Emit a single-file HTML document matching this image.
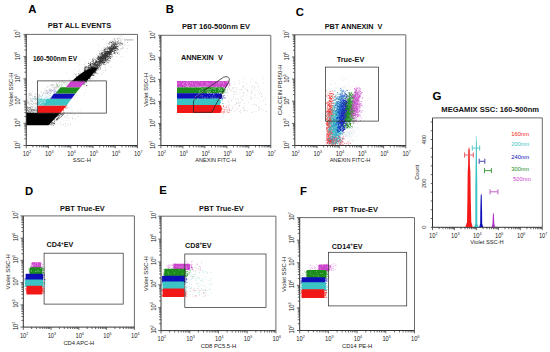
<!DOCTYPE html>
<html><head><meta charset="utf-8"><style>
html,body{margin:0;padding:0;background:#fff;}
svg{display:block;}
text{font-family:"Liberation Sans", sans-serif;}
</style></head><body>
<svg width="550" height="352" viewBox="0 0 550 352">
<rect width="550" height="352" fill="#fff"/>
<text x="28.20" y="12.60" font-size="11.3" font-weight="bold" fill="#000" text-anchor="start">A</text>
<text x="79.50" y="28.40" font-size="7.5" font-weight="bold" fill="#111" text-anchor="middle">PBT ALL EVENTS</text>
<path d="M105.2 52.8h0.6v0.6h-0.6zM119.5 42.7h0.6v0.6h-0.6zM113.2 47.3h0.6v0.6h-0.6zM86.5 69.9h0.6v0.6h-0.6zM85.6 62.3h0.6v0.6h-0.6zM116.7 42.0h0.6v0.6h-0.6zM78.4 81.3h0.6v0.6h-0.6zM118.5 48.5h0.6v0.6h-0.6zM111.9 44.1h0.6v0.6h-0.6zM100.2 61.8h0.6v0.6h-0.6zM89.1 65.4h0.6v0.6h-0.6zM91.1 69.6h0.6v0.6h-0.6zM83.7 64.4h0.6v0.6h-0.6zM105.4 68.9h0.6v0.6h-0.6zM102.0 60.3h0.6v0.6h-0.6zM100.0 54.0h0.6v0.6h-0.6zM124.0 38.4h0.6v0.6h-0.6zM116.6 49.1h0.6v0.6h-0.6zM107.1 54.9h0.6v0.6h-0.6zM127.4 42.3h0.6v0.6h-0.6zM87.7 71.9h0.6v0.6h-0.6zM77.0 66.2h0.6v0.6h-0.6zM101.7 50.4h0.6v0.6h-0.6zM84.5 83.9h0.6v0.6h-0.6zM83.3 83.5h0.6v0.6h-0.6zM102.9 60.3h0.6v0.6h-0.6zM95.7 57.5h0.6v0.6h-0.6zM122.2 43.6h0.6v0.6h-0.6zM109.0 56.1h0.6v0.6h-0.6zM98.2 55.8h0.6v0.6h-0.6zM97.5 56.6h0.6v0.6h-0.6zM90.9 72.2h0.6v0.6h-0.6zM83.1 85.4h0.6v0.6h-0.6zM92.6 78.8h0.6v0.6h-0.6zM111.8 53.3h0.6v0.6h-0.6zM95.4 80.8h0.6v0.6h-0.6zM92.3 62.7h0.6v0.6h-0.6zM81.0 84.0h0.6v0.6h-0.6zM113.7 43.0h0.6v0.6h-0.6zM78.8 68.5h0.6v0.6h-0.6zM86.3 65.8h0.6v0.6h-0.6zM121.7 46.4h0.6v0.6h-0.6zM98.1 56.0h0.6v0.6h-0.6zM112.1 39.8h0.6v0.6h-0.6zM109.6 55.8h0.6v0.6h-0.6zM114.9 52.0h0.6v0.6h-0.6zM83.0 78.3h0.6v0.6h-0.6zM108.3 63.3h0.6v0.6h-0.6zM95.9 54.0h0.6v0.6h-0.6zM125.8 51.2h0.6v0.6h-0.6zM98.5 69.6h0.6v0.6h-0.6zM106.1 56.0h0.6v0.6h-0.6zM82.0 80.1h0.6v0.6h-0.6zM95.2 64.0h0.6v0.6h-0.6zM91.9 66.5h0.6v0.6h-0.6zM86.0 76.0h0.6v0.6h-0.6zM110.8 41.3h0.6v0.6h-0.6zM103.0 72.4h0.6v0.6h-0.6zM122.0 38.0h0.6v0.6h-0.6zM107.3 58.0h0.6v0.6h-0.6zM105.0 54.3h0.6v0.6h-0.6zM106.1 52.5h0.6v0.6h-0.6zM111.8 54.8h0.6v0.6h-0.6zM87.5 77.5h0.6v0.6h-0.6zM95.3 59.4h0.6v0.6h-0.6zM88.0 70.0h0.6v0.6h-0.6zM98.9 66.3h0.6v0.6h-0.6zM75.6 70.5h0.6v0.6h-0.6zM93.3 77.5h0.6v0.6h-0.6zM107.3 50.7h0.6v0.6h-0.6zM83.0 59.7h0.6v0.6h-0.6zM114.6 39.9h0.6v0.6h-0.6zM107.2 51.4h0.6v0.6h-0.6zM85.1 76.8h0.6v0.6h-0.6zM118.0 45.9h0.6v0.6h-0.6zM121.3 40.2h0.6v0.6h-0.6zM120.7 43.3h0.6v0.6h-0.6zM101.2 53.7h0.6v0.6h-0.6zM86.4 76.9h0.6v0.6h-0.6zM88.7 74.9h0.6v0.6h-0.6zM124.0 44.5h0.6v0.6h-0.6zM103.3 57.3h0.6v0.6h-0.6zM89.8 77.0h0.6v0.6h-0.6zM118.5 42.9h0.6v0.6h-0.6zM103.3 49.5h0.6v0.6h-0.6zM102.6 55.1h0.6v0.6h-0.6zM93.5 63.3h0.6v0.6h-0.6zM95.5 62.3h0.6v0.6h-0.6zM89.0 71.0h0.6v0.6h-0.6zM80.7 80.7h0.6v0.6h-0.6zM118.6 43.7h0.6v0.6h-0.6zM96.6 58.3h0.6v0.6h-0.6zM106.7 61.2h0.6v0.6h-0.6zM88.1 62.8h0.6v0.6h-0.6zM111.8 48.1h0.6v0.6h-0.6zM82.3 83.5h0.6v0.6h-0.6zM96.8 67.0h0.6v0.6h-0.6zM82.3 83.0h0.6v0.6h-0.6zM83.4 75.9h0.6v0.6h-0.6zM124.1 41.0h0.6v0.6h-0.6zM103.7 48.4h0.6v0.6h-0.6zM100.4 65.5h0.6v0.6h-0.6zM109.9 66.4h0.6v0.6h-0.6zM119.9 45.3h0.6v0.6h-0.6zM101.0 73.6h0.6v0.6h-0.6zM104.9 55.6h0.6v0.6h-0.6zM105.1 47.5h0.6v0.6h-0.6zM92.0 63.7h0.6v0.6h-0.6zM106.4 63.3h0.6v0.6h-0.6zM115.2 50.2h0.6v0.6h-0.6zM84.1 74.1h0.6v0.6h-0.6zM120.0 40.0h0.6v0.6h-0.6zM75.0 78.1h0.6v0.6h-0.6zM103.3 39.5h0.6v0.6h-0.6zM109.9 41.0h0.6v0.6h-0.6zM84.1 75.4h0.6v0.6h-0.6zM95.9 61.9h0.6v0.6h-0.6zM112.6 43.1h0.6v0.6h-0.6zM81.4 83.5h0.6v0.6h-0.6zM110.2 57.4h0.6v0.6h-0.6zM113.6 46.1h0.6v0.6h-0.6zM104.7 62.2h0.6v0.6h-0.6zM111.0 49.6h0.6v0.6h-0.6zM88.3 71.5h0.6v0.6h-0.6zM79.0 64.8h0.6v0.6h-0.6zM97.7 68.6h0.6v0.6h-0.6zM87.0 74.4h0.6v0.6h-0.6zM94.5 67.0h0.6v0.6h-0.6zM119.1 37.8h0.6v0.6h-0.6zM100.3 52.5h0.6v0.6h-0.6zM95.4 68.4h0.6v0.6h-0.6zM93.5 72.7h0.6v0.6h-0.6zM126.7 44.9h0.6v0.6h-0.6zM101.6 65.3h0.6v0.6h-0.6zM120.2 36.0h0.6v0.6h-0.6zM101.3 58.6h0.6v0.6h-0.6zM105.3 62.1h0.6v0.6h-0.6zM119.7 43.0h0.6v0.6h-0.6zM111.4 48.5h0.6v0.6h-0.6zM102.5 54.1h0.6v0.6h-0.6zM99.6 64.9h0.6v0.6h-0.6zM118.4 43.4h0.6v0.6h-0.6zM103.3 69.9h0.6v0.6h-0.6zM123.6 44.5h0.6v0.6h-0.6zM75.9 73.2h0.6v0.6h-0.6zM105.4 70.3h0.6v0.6h-0.6zM102.8 59.8h0.6v0.6h-0.6zM120.0 38.4h0.6v0.6h-0.6zM91.0 72.0h0.6v0.6h-0.6zM117.2 48.6h0.6v0.6h-0.6zM108.8 51.8h0.6v0.6h-0.6zM110.4 49.7h0.6v0.6h-0.6zM106.8 54.0h0.6v0.6h-0.6zM128.4 44.9h0.6v0.6h-0.6zM93.9 67.5h0.6v0.6h-0.6zM99.3 67.1h0.6v0.6h-0.6zM89.5 74.8h0.6v0.6h-0.6zM80.0 78.9h0.6v0.6h-0.6zM85.7 70.2h0.6v0.6h-0.6zM116.0 37.7h0.6v0.6h-0.6zM117.6 45.9h0.6v0.6h-0.6zM80.3 73.7h0.6v0.6h-0.6zM101.2 50.7h0.6v0.6h-0.6zM95.8 56.4h0.6v0.6h-0.6zM100.0 50.4h0.6v0.6h-0.6zM108.4 52.8h0.6v0.6h-0.6zM92.8 68.8h0.6v0.6h-0.6zM118.3 35.8h0.6v0.6h-0.6zM104.1 65.8h0.6v0.6h-0.6zM105.7 53.0h0.6v0.6h-0.6zM108.7 55.3h0.6v0.6h-0.6zM88.0 75.0h0.6v0.6h-0.6zM87.5 85.3h0.6v0.6h-0.6zM100.0 66.6h0.6v0.6h-0.6zM112.6 47.7h0.6v0.6h-0.6zM111.6 42.2h0.6v0.6h-0.6zM107.4 45.7h0.6v0.6h-0.6zM83.9 77.2h0.6v0.6h-0.6zM119.8 41.6h0.6v0.6h-0.6zM117.1 48.8h0.6v0.6h-0.6zM116.1 41.1h0.6v0.6h-0.6zM102.7 59.3h0.6v0.6h-0.6zM117.1 38.7h0.6v0.6h-0.6zM74.4 73.7h0.6v0.6h-0.6zM80.0 80.8h0.6v0.6h-0.6zM84.8 86.3h0.6v0.6h-0.6zM92.8 73.6h0.6v0.6h-0.6zM94.8 75.9h0.6v0.6h-0.6zM91.1 77.8h0.6v0.6h-0.6zM99.1 51.9h0.6v0.6h-0.6zM79.5 79.4h0.6v0.6h-0.6zM110.2 60.8h0.6v0.6h-0.6zM83.6 72.2h0.6v0.6h-0.6zM104.2 47.1h0.6v0.6h-0.6zM80.8 82.3h0.6v0.6h-0.6zM94.8 70.4h0.6v0.6h-0.6zM121.4 41.0h0.6v0.6h-0.6zM101.5 56.8h0.6v0.6h-0.6zM112.3 43.2h0.6v0.6h-0.6zM103.6 48.2h0.6v0.6h-0.6zM101.4 50.3h0.6v0.6h-0.6zM82.8 69.2h0.6v0.6h-0.6zM99.2 51.4h0.6v0.6h-0.6zM78.0 77.9h0.6v0.6h-0.6zM119.6 51.3h0.6v0.6h-0.6zM121.7 39.3h0.6v0.6h-0.6zM115.4 42.5h0.6v0.6h-0.6zM82.2 81.1h0.6v0.6h-0.6zM90.4 63.6h0.6v0.6h-0.6zM94.0 69.0h0.6v0.6h-0.6zM86.9 80.2h0.6v0.6h-0.6zM101.2 48.7h0.6v0.6h-0.6zM111.6 43.8h0.6v0.6h-0.6zM91.7 67.1h0.6v0.6h-0.6zM113.6 39.9h0.6v0.6h-0.6zM110.2 42.4h0.6v0.6h-0.6zM83.1 75.0h0.6v0.6h-0.6zM121.4 56.1h0.6v0.6h-0.6zM120.2 44.7h0.6v0.6h-0.6zM88.9 74.7h0.6v0.6h-0.6zM107.5 59.6h0.6v0.6h-0.6zM106.2 52.6h0.6v0.6h-0.6zM101.4 50.4h0.6v0.6h-0.6zM84.6 79.4h0.6v0.6h-0.6zM112.0 56.2h0.6v0.6h-0.6zM99.4 46.4h0.6v0.6h-0.6zM116.7 46.5h0.6v0.6h-0.6zM118.6 50.2h0.6v0.6h-0.6zM92.2 66.4h0.6v0.6h-0.6zM109.1 48.0h0.6v0.6h-0.6zM119.6 45.4h0.6v0.6h-0.6zM115.4 39.0h0.6v0.6h-0.6zM87.5 76.4h0.6v0.6h-0.6zM83.0 84.0h0.6v0.6h-0.6zM106.8 52.1h0.6v0.6h-0.6zM85.3 69.6h0.6v0.6h-0.6zM105.8 58.9h0.6v0.6h-0.6zM119.3 38.3h0.6v0.6h-0.6zM95.7 65.3h0.6v0.6h-0.6zM79.7 60.7h0.6v0.6h-0.6zM101.4 63.9h0.6v0.6h-0.6zM102.8 47.6h0.6v0.6h-0.6zM83.2 77.6h0.6v0.6h-0.6zM95.9 65.3h0.6v0.6h-0.6zM81.9 73.4h0.6v0.6h-0.6zM104.8 49.1h0.6v0.6h-0.6zM110.9 40.2h0.6v0.6h-0.6zM94.1 63.9h0.6v0.6h-0.6zM97.2 67.4h0.6v0.6h-0.6zM104.4 59.6h0.6v0.6h-0.6zM86.3 70.5h0.6v0.6h-0.6zM87.5 68.8h0.6v0.6h-0.6zM88.2 62.2h0.6v0.6h-0.6zM97.4 59.9h0.6v0.6h-0.6zM78.4 74.6h0.6v0.6h-0.6zM106.6 42.8h0.6v0.6h-0.6zM103.7 55.4h0.6v0.6h-0.6zM97.2 73.7h0.6v0.6h-0.6zM86.2 82.7h0.6v0.6h-0.6zM117.6 52.7h0.6v0.6h-0.6zM78.7 70.5h0.6v0.6h-0.6zM87.5 79.0h0.6v0.6h-0.6zM80.0 71.8h0.6v0.6h-0.6zM80.1 76.3h0.6v0.6h-0.6zM86.9 66.4h0.6v0.6h-0.6zM92.5 68.6h0.6v0.6h-0.6zM116.2 45.2h0.6v0.6h-0.6zM105.8 53.8h0.6v0.6h-0.6zM86.2 73.0h0.6v0.6h-0.6zM99.8 64.3h0.6v0.6h-0.6zM117.9 42.3h0.6v0.6h-0.6zM89.5 59.5h0.6v0.6h-0.6zM116.2 56.0h0.6v0.6h-0.6zM81.9 76.7h0.6v0.6h-0.6zM114.1 52.5h0.6v0.6h-0.6zM112.4 46.4h0.6v0.6h-0.6zM112.2 41.9h0.6v0.6h-0.6zM108.7 51.9h0.6v0.6h-0.6zM92.3 62.6h0.6v0.6h-0.6zM87.1 84.7h0.6v0.6h-0.6zM97.7 54.8h0.6v0.6h-0.6zM114.3 50.0h0.6v0.6h-0.6zM84.8 71.2h0.6v0.6h-0.6zM89.7 69.4h0.6v0.6h-0.6zM111.6 67.0h0.6v0.6h-0.6zM114.5 51.0h0.6v0.6h-0.6zM117.6 40.9h0.6v0.6h-0.6zM78.6 70.9h0.6v0.6h-0.6zM85.7 72.7h0.6v0.6h-0.6zM113.1 45.1h0.6v0.6h-0.6zM112.2 58.0h0.6v0.6h-0.6zM105.5 44.5h0.6v0.6h-0.6zM120.2 39.6h0.6v0.6h-0.6zM116.8 44.8h0.6v0.6h-0.6zM118.8 52.7h0.6v0.6h-0.6zM93.0 61.1h0.6v0.6h-0.6zM97.4 43.7h0.6v0.6h-0.6zM84.2 71.2h0.6v0.6h-0.6zM107.8 43.4h0.6v0.6h-0.6zM110.3 46.0h0.6v0.6h-0.6zM114.1 53.0h0.6v0.6h-0.6zM93.6 57.3h0.6v0.6h-0.6zM99.7 69.3h0.6v0.6h-0.6zM97.9 63.9h0.6v0.6h-0.6zM79.0 79.5h0.6v0.6h-0.6zM112.9 40.9h0.6v0.6h-0.6zM101.2 56.1h0.6v0.6h-0.6zM94.4 63.2h0.6v0.6h-0.6zM105.6 60.0h0.6v0.6h-0.6zM115.2 54.1h0.6v0.6h-0.6zM95.3 64.6h0.6v0.6h-0.6zM118.0 47.1h0.6v0.6h-0.6zM124.0 45.2h0.6v0.6h-0.6zM100.3 69.0h0.6v0.6h-0.6zM86.4 77.5h0.6v0.6h-0.6zM118.9 54.3h0.6v0.6h-0.6zM127.4 42.0h0.6v0.6h-0.6zM91.0 81.1h0.6v0.6h-0.6zM109.6 49.3h0.6v0.6h-0.6zM113.8 43.4h0.6v0.6h-0.6zM89.4 81.7h0.6v0.6h-0.6zM85.1 80.3h0.6v0.6h-0.6zM84.5 77.5h0.6v0.6h-0.6zM87.6 75.2h0.6v0.6h-0.6zM98.0 50.1h0.6v0.6h-0.6zM99.6 63.1h0.6v0.6h-0.6zM116.0 52.3h0.6v0.6h-0.6zM91.7 78.0h0.6v0.6h-0.6zM118.0 39.7h0.6v0.6h-0.6zM87.1 71.2h0.6v0.6h-0.6zM117.6 52.2h0.6v0.6h-0.6zM85.1 82.4h0.6v0.6h-0.6zM97.7 58.8h0.6v0.6h-0.6zM78.0 78.5h0.6v0.6h-0.6zM94.8 70.1h0.6v0.6h-0.6zM90.2 65.8h0.6v0.6h-0.6zM108.5 47.6h0.6v0.6h-0.6zM105.1 67.8h0.6v0.6h-0.6zM82.2 80.5h0.6v0.6h-0.6zM121.3 35.8h0.6v0.6h-0.6zM120.1 44.0h0.6v0.6h-0.6zM126.9 48.3h0.6v0.6h-0.6zM90.5 71.9h0.6v0.6h-0.6zM93.4 61.6h0.6v0.6h-0.6z" fill="#666" fill-opacity="0.5"/>
<path d="M65.4 87.9h0.6v0.6h-0.6zM62.6 95.3h0.6v0.6h-0.6zM60.1 90.8h0.6v0.6h-0.6zM65.2 101.1h0.6v0.6h-0.6zM68.3 90.0h0.6v0.6h-0.6zM57.3 95.9h0.6v0.6h-0.6zM52.1 107.3h0.6v0.6h-0.6zM45.4 119.8h0.6v0.6h-0.6zM36.9 112.6h0.6v0.6h-0.6zM30.1 124.2h0.6v0.6h-0.6zM65.5 123.3h0.6v0.6h-0.6zM44.7 115.9h0.6v0.6h-0.6zM55.0 120.4h0.6v0.6h-0.6zM65.3 84.8h0.6v0.6h-0.6zM49.2 87.0h0.6v0.6h-0.6zM64.1 101.8h0.6v0.6h-0.6zM77.3 82.5h0.6v0.6h-0.6zM50.6 106.8h0.6v0.6h-0.6zM39.8 108.5h0.6v0.6h-0.6zM80.8 89.5h0.6v0.6h-0.6zM70.3 99.7h0.6v0.6h-0.6zM70.0 87.9h0.6v0.6h-0.6zM46.6 102.8h0.6v0.6h-0.6zM64.2 89.4h0.6v0.6h-0.6zM53.5 116.8h0.6v0.6h-0.6zM47.6 120.4h0.6v0.6h-0.6zM54.5 111.0h0.6v0.6h-0.6zM35.9 113.8h0.6v0.6h-0.6zM75.6 80.3h0.6v0.6h-0.6zM40.1 114.9h0.6v0.6h-0.6zM34.7 120.9h0.6v0.6h-0.6zM73.0 83.0h0.6v0.6h-0.6zM74.3 81.4h0.6v0.6h-0.6zM66.5 85.7h0.6v0.6h-0.6zM56.9 98.3h0.6v0.6h-0.6zM39.1 104.1h0.6v0.6h-0.6zM45.3 118.5h0.6v0.6h-0.6zM51.8 118.8h0.6v0.6h-0.6zM83.8 95.3h0.6v0.6h-0.6zM55.8 108.9h0.6v0.6h-0.6zM81.5 85.9h0.6v0.6h-0.6zM61.2 94.6h0.6v0.6h-0.6zM47.6 99.1h0.6v0.6h-0.6zM79.1 88.5h0.6v0.6h-0.6zM47.2 121.6h0.6v0.6h-0.6zM60.0 100.8h0.6v0.6h-0.6zM50.7 112.0h0.6v0.6h-0.6zM64.7 98.7h0.6v0.6h-0.6zM66.1 93.1h0.6v0.6h-0.6zM42.0 100.4h0.6v0.6h-0.6zM50.7 104.0h0.6v0.6h-0.6zM51.2 112.9h0.6v0.6h-0.6zM69.4 107.5h0.6v0.6h-0.6zM85.1 89.5h0.6v0.6h-0.6zM76.2 101.2h0.6v0.6h-0.6zM55.5 113.0h0.6v0.6h-0.6zM37.5 123.0h0.6v0.6h-0.6zM31.5 115.7h0.6v0.6h-0.6zM79.8 87.5h0.6v0.6h-0.6zM66.7 97.5h0.6v0.6h-0.6zM74.7 93.9h0.6v0.6h-0.6zM58.2 94.0h0.6v0.6h-0.6zM47.2 124.0h0.6v0.6h-0.6zM51.8 120.5h0.6v0.6h-0.6zM55.7 119.0h0.6v0.6h-0.6zM45.4 110.9h0.6v0.6h-0.6zM53.6 81.7h0.6v0.6h-0.6zM35.3 116.4h0.6v0.6h-0.6zM49.6 108.9h0.6v0.6h-0.6zM66.8 104.9h0.6v0.6h-0.6zM61.1 102.5h0.6v0.6h-0.6zM65.1 98.0h0.6v0.6h-0.6zM38.4 118.9h0.6v0.6h-0.6zM63.9 93.6h0.6v0.6h-0.6zM81.1 85.2h0.6v0.6h-0.6zM60.9 98.4h0.6v0.6h-0.6zM40.4 119.2h0.6v0.6h-0.6zM66.0 90.6h0.6v0.6h-0.6zM71.1 82.7h0.6v0.6h-0.6zM67.1 113.9h0.6v0.6h-0.6zM36.5 109.9h0.6v0.6h-0.6zM32.8 105.6h0.6v0.6h-0.6zM54.1 97.0h0.6v0.6h-0.6zM66.3 84.4h0.6v0.6h-0.6zM65.8 85.3h0.6v0.6h-0.6zM62.6 106.2h0.6v0.6h-0.6zM78.7 83.1h0.6v0.6h-0.6zM45.6 117.0h0.6v0.6h-0.6zM67.2 92.6h0.6v0.6h-0.6zM64.0 103.8h0.6v0.6h-0.6zM37.3 105.0h0.6v0.6h-0.6zM65.3 107.5h0.6v0.6h-0.6zM67.2 104.0h0.6v0.6h-0.6zM53.4 115.6h0.6v0.6h-0.6zM29.3 119.9h0.6v0.6h-0.6zM66.3 73.5h0.6v0.6h-0.6zM48.5 109.2h0.6v0.6h-0.6zM67.1 100.8h0.6v0.6h-0.6zM55.9 109.2h0.6v0.6h-0.6zM28.4 118.7h0.6v0.6h-0.6zM44.2 110.4h0.6v0.6h-0.6zM38.7 114.9h0.6v0.6h-0.6zM36.9 108.8h0.6v0.6h-0.6zM74.0 97.1h0.6v0.6h-0.6zM72.1 96.2h0.6v0.6h-0.6zM53.2 106.7h0.6v0.6h-0.6zM49.7 113.4h0.6v0.6h-0.6zM62.1 114.6h0.6v0.6h-0.6zM63.8 82.5h0.6v0.6h-0.6zM59.4 81.9h0.6v0.6h-0.6zM39.2 115.4h0.6v0.6h-0.6zM75.2 90.6h0.6v0.6h-0.6zM41.6 120.3h0.6v0.6h-0.6zM58.9 99.1h0.6v0.6h-0.6zM76.4 95.0h0.6v0.6h-0.6zM72.7 97.8h0.6v0.6h-0.6zM70.7 88.9h0.6v0.6h-0.6zM52.9 111.2h0.6v0.6h-0.6zM75.5 95.7h0.6v0.6h-0.6zM47.9 109.2h0.6v0.6h-0.6zM40.6 123.0h0.6v0.6h-0.6zM45.8 105.0h0.6v0.6h-0.6zM43.2 117.9h0.6v0.6h-0.6zM67.6 96.1h0.6v0.6h-0.6zM69.0 90.5h0.6v0.6h-0.6zM47.7 117.3h0.6v0.6h-0.6zM46.2 107.3h0.6v0.6h-0.6zM73.0 81.2h0.6v0.6h-0.6zM69.0 78.8h0.6v0.6h-0.6zM85.2 92.1h0.6v0.6h-0.6zM66.1 98.5h0.6v0.6h-0.6zM63.4 101.5h0.6v0.6h-0.6zM38.8 120.6h0.6v0.6h-0.6zM47.4 118.1h0.6v0.6h-0.6zM65.8 87.2h0.6v0.6h-0.6zM39.1 120.2h0.6v0.6h-0.6zM35.4 112.4h0.6v0.6h-0.6zM37.5 113.6h0.6v0.6h-0.6zM66.7 99.7h0.6v0.6h-0.6zM67.4 82.1h0.6v0.6h-0.6zM71.9 90.9h0.6v0.6h-0.6zM62.8 106.0h0.6v0.6h-0.6zM56.9 107.7h0.6v0.6h-0.6zM70.9 87.8h0.6v0.6h-0.6zM64.9 94.1h0.6v0.6h-0.6zM52.4 108.1h0.6v0.6h-0.6zM45.0 115.1h0.6v0.6h-0.6zM41.3 108.5h0.6v0.6h-0.6zM47.8 110.4h0.6v0.6h-0.6zM42.5 122.4h0.6v0.6h-0.6zM46.7 116.1h0.6v0.6h-0.6zM43.7 118.7h0.6v0.6h-0.6zM48.1 118.4h0.6v0.6h-0.6zM61.2 105.4h0.6v0.6h-0.6zM56.4 113.7h0.6v0.6h-0.6zM29.9 119.5h0.6v0.6h-0.6zM67.7 93.1h0.6v0.6h-0.6zM47.9 103.6h0.6v0.6h-0.6zM50.9 112.5h0.6v0.6h-0.6zM62.9 97.1h0.6v0.6h-0.6zM66.2 96.2h0.6v0.6h-0.6zM68.2 87.9h0.6v0.6h-0.6zM64.4 88.1h0.6v0.6h-0.6zM59.7 98.7h0.6v0.6h-0.6zM67.1 100.4h0.6v0.6h-0.6zM54.3 90.1h0.6v0.6h-0.6zM40.2 123.6h0.6v0.6h-0.6zM40.5 123.5h0.6v0.6h-0.6zM41.0 109.2h0.6v0.6h-0.6zM62.3 102.5h0.6v0.6h-0.6zM53.4 84.0h0.6v0.6h-0.6zM64.6 92.2h0.6v0.6h-0.6zM60.3 102.2h0.6v0.6h-0.6zM77.0 97.7h0.6v0.6h-0.6zM33.6 123.6h0.6v0.6h-0.6zM37.6 119.6h0.6v0.6h-0.6zM51.1 112.2h0.6v0.6h-0.6zM61.2 114.0h0.6v0.6h-0.6zM45.2 119.0h0.6v0.6h-0.6zM67.4 107.8h0.6v0.6h-0.6zM49.1 102.9h0.6v0.6h-0.6zM56.1 93.3h0.6v0.6h-0.6zM58.6 93.5h0.6v0.6h-0.6zM67.4 99.2h0.6v0.6h-0.6zM68.1 101.3h0.6v0.6h-0.6zM78.7 87.8h0.6v0.6h-0.6zM56.9 105.7h0.6v0.6h-0.6zM35.0 116.5h0.6v0.6h-0.6zM45.4 109.5h0.6v0.6h-0.6zM49.9 105.2h0.6v0.6h-0.6z" fill="#777" fill-opacity="0.45"/>
<path d="M35.4 93.8h0.6v0.6h-0.6zM32.9 98.7h0.6v0.6h-0.6zM31.8 104.1h0.6v0.6h-0.6zM46.9 93.2h0.6v0.6h-0.6zM34.8 94.3h0.6v0.6h-0.6zM35.2 107.3h0.6v0.6h-0.6zM36.7 98.2h0.6v0.6h-0.6zM31.3 103.2h0.6v0.6h-0.6zM32.4 106.2h0.6v0.6h-0.6zM32.2 90.7h0.6v0.6h-0.6zM28.4 110.6h0.6v0.6h-0.6zM30.2 109.9h0.6v0.6h-0.6zM36.7 89.4h0.6v0.6h-0.6zM29.3 109.1h0.6v0.6h-0.6zM35.8 103.1h0.6v0.6h-0.6zM39.5 98.3h0.6v0.6h-0.6zM47.4 93.9h0.6v0.6h-0.6zM28.9 104.7h0.6v0.6h-0.6zM39.2 94.2h0.6v0.6h-0.6zM29.8 92.7h0.6v0.6h-0.6zM42.8 93.1h0.6v0.6h-0.6zM45.3 93.9h0.6v0.6h-0.6zM31.2 100.5h0.6v0.6h-0.6zM47.2 91.4h0.6v0.6h-0.6zM35.1 93.5h0.6v0.6h-0.6zM38.7 102.9h0.6v0.6h-0.6zM30.2 94.3h0.6v0.6h-0.6zM47.4 92.8h0.6v0.6h-0.6zM29.9 98.1h0.6v0.6h-0.6zM43.9 93.3h0.6v0.6h-0.6zM26.9 102.9h0.6v0.6h-0.6zM37.5 95.5h0.6v0.6h-0.6zM32.5 92.2h0.6v0.6h-0.6zM26.7 108.6h0.6v0.6h-0.6zM34.1 105.6h0.6v0.6h-0.6zM30.7 101.4h0.6v0.6h-0.6zM40.6 92.3h0.6v0.6h-0.6zM35.5 102.6h0.6v0.6h-0.6zM45.4 94.9h0.6v0.6h-0.6zM42.0 100.3h0.6v0.6h-0.6zM43.3 99.0h0.6v0.6h-0.6zM32.0 101.5h0.6v0.6h-0.6zM27.5 110.1h0.6v0.6h-0.6zM40.5 101.2h0.6v0.6h-0.6zM34.5 99.8h0.6v0.6h-0.6zM37.8 90.5h0.6v0.6h-0.6zM31.3 94.5h0.6v0.6h-0.6zM36.3 103.8h0.6v0.6h-0.6zM38.2 97.1h0.6v0.6h-0.6zM26.7 98.1h0.6v0.6h-0.6z" fill="#888" fill-opacity="0.5"/>
<path d="M63.2 124.4h0.6v0.6h-0.6zM66.8 115.4h0.6v0.6h-0.6zM62.7 113.0h0.6v0.6h-0.6zM65.3 122.9h0.6v0.6h-0.6zM70.4 124.8h0.6v0.6h-0.6zM65.8 120.2h0.6v0.6h-0.6zM70.7 113.5h0.6v0.6h-0.6zM71.8 111.6h0.6v0.6h-0.6zM57.1 120.4h0.6v0.6h-0.6zM60.2 123.6h0.6v0.6h-0.6zM66.2 112.2h0.6v0.6h-0.6zM56.0 119.3h0.6v0.6h-0.6zM64.3 114.0h0.6v0.6h-0.6zM64.5 116.3h0.6v0.6h-0.6zM68.3 124.4h0.6v0.6h-0.6zM65.5 117.7h0.6v0.6h-0.6zM57.9 119.5h0.6v0.6h-0.6zM65.6 116.8h0.6v0.6h-0.6zM61.7 113.8h0.6v0.6h-0.6zM67.1 123.7h0.6v0.6h-0.6zM60.2 123.2h0.6v0.6h-0.6zM51.2 124.9h0.6v0.6h-0.6zM80.6 109.8h0.6v0.6h-0.6zM59.6 121.6h0.6v0.6h-0.6zM70.1 113.2h0.6v0.6h-0.6zM70.2 116.7h0.6v0.6h-0.6zM78.2 115.9h0.6v0.6h-0.6zM57.4 122.8h0.6v0.6h-0.6zM55.1 124.5h0.6v0.6h-0.6zM67.4 125.4h0.6v0.6h-0.6zM69.6 122.0h0.6v0.6h-0.6zM60.7 125.2h0.6v0.6h-0.6zM67.2 115.1h0.6v0.6h-0.6zM74.1 118.0h0.6v0.6h-0.6zM72.3 119.5h0.6v0.6h-0.6zM74.3 114.1h0.6v0.6h-0.6zM72.5 114.9h0.6v0.6h-0.6zM68.4 119.9h0.6v0.6h-0.6zM75.4 119.4h0.6v0.6h-0.6zM67.6 117.6h0.6v0.6h-0.6zM64.0 112.0h0.6v0.6h-0.6zM64.5 126.0h0.6v0.6h-0.6zM77.8 110.6h0.6v0.6h-0.6zM72.3 117.3h0.6v0.6h-0.6zM64.3 115.9h0.6v0.6h-0.6zM72.6 118.1h0.6v0.6h-0.6zM68.4 118.5h0.6v0.6h-0.6zM74.3 120.2h0.6v0.6h-0.6zM51.3 125.0h0.6v0.6h-0.6zM65.5 125.6h0.6v0.6h-0.6zM70.4 123.5h0.6v0.6h-0.6zM77.2 116.1h0.6v0.6h-0.6zM61.8 118.9h0.6v0.6h-0.6zM62.8 124.0h0.6v0.6h-0.6zM63.7 120.0h0.6v0.6h-0.6zM56.5 119.8h0.6v0.6h-0.6zM79.9 113.8h0.6v0.6h-0.6zM62.1 124.5h0.6v0.6h-0.6zM68.7 112.6h0.6v0.6h-0.6zM56.1 118.5h0.6v0.6h-0.6z" fill="#888" fill-opacity="0.5"/>
<path d="M93.9 71.6h0.8v0.8h-0.8zM80.7 80.3h0.8v0.8h-0.8zM85.9 73.1h0.8v0.8h-0.8zM115.2 46.2h0.8v0.8h-0.8zM81.5 82.1h0.8v0.8h-0.8zM79.7 76.7h0.8v0.8h-0.8zM83.7 77.3h0.8v0.8h-0.8zM93.6 65.9h0.8v0.8h-0.8zM94.3 62.7h0.8v0.8h-0.8zM81.9 82.8h0.8v0.8h-0.8zM91.1 72.2h0.8v0.8h-0.8zM85.7 66.2h0.8v0.8h-0.8zM93.4 67.3h0.8v0.8h-0.8zM85.3 78.6h0.8v0.8h-0.8zM103.6 57.3h0.8v0.8h-0.8zM100.7 61.3h0.8v0.8h-0.8zM83.9 80.6h0.8v0.8h-0.8zM93.4 68.2h0.8v0.8h-0.8zM90.1 70.2h0.8v0.8h-0.8zM98.5 61.7h0.8v0.8h-0.8zM80.1 78.5h0.8v0.8h-0.8zM91.0 75.1h0.8v0.8h-0.8zM88.5 76.8h0.8v0.8h-0.8zM105.6 51.8h0.8v0.8h-0.8zM82.1 79.7h0.8v0.8h-0.8zM79.0 77.3h0.8v0.8h-0.8zM94.3 64.8h0.8v0.8h-0.8zM82.7 82.5h0.8v0.8h-0.8zM81.9 76.7h0.8v0.8h-0.8zM105.3 58.1h0.8v0.8h-0.8zM95.6 63.7h0.8v0.8h-0.8zM80.8 75.5h0.8v0.8h-0.8zM89.9 63.3h0.8v0.8h-0.8zM112.7 47.5h0.8v0.8h-0.8zM101.7 56.1h0.8v0.8h-0.8zM104.2 54.8h0.8v0.8h-0.8zM87.4 70.2h0.8v0.8h-0.8zM93.6 75.2h0.8v0.8h-0.8zM87.9 73.7h0.8v0.8h-0.8zM93.6 65.7h0.8v0.8h-0.8zM106.7 51.8h0.8v0.8h-0.8zM114.9 47.6h0.8v0.8h-0.8zM86.0 71.6h0.8v0.8h-0.8zM86.8 69.8h0.8v0.8h-0.8zM89.8 70.2h0.8v0.8h-0.8zM92.4 68.6h0.8v0.8h-0.8zM92.3 69.2h0.8v0.8h-0.8zM111.0 48.5h0.8v0.8h-0.8zM86.1 70.2h0.8v0.8h-0.8zM85.2 70.0h0.8v0.8h-0.8zM88.8 73.0h0.8v0.8h-0.8zM88.9 74.5h0.8v0.8h-0.8zM90.1 72.8h0.8v0.8h-0.8zM83.2 73.9h0.8v0.8h-0.8zM95.0 64.4h0.8v0.8h-0.8zM97.9 61.2h0.8v0.8h-0.8zM102.3 56.2h0.8v0.8h-0.8zM81.1 78.0h0.8v0.8h-0.8zM84.2 76.5h0.8v0.8h-0.8zM91.5 72.3h0.8v0.8h-0.8zM87.6 74.7h0.8v0.8h-0.8zM93.4 66.4h0.8v0.8h-0.8zM103.9 54.9h0.8v0.8h-0.8zM94.4 67.1h0.8v0.8h-0.8zM95.4 66.2h0.8v0.8h-0.8zM88.6 67.0h0.8v0.8h-0.8zM112.6 48.9h0.8v0.8h-0.8zM89.3 70.2h0.8v0.8h-0.8zM88.7 72.7h0.8v0.8h-0.8zM111.1 51.7h0.8v0.8h-0.8zM98.5 66.8h0.8v0.8h-0.8zM109.1 52.7h0.8v0.8h-0.8zM87.3 75.8h0.8v0.8h-0.8zM102.7 54.5h0.8v0.8h-0.8zM83.2 81.0h0.8v0.8h-0.8zM113.2 48.2h0.8v0.8h-0.8zM84.7 73.4h0.8v0.8h-0.8zM81.4 79.3h0.8v0.8h-0.8zM94.5 64.0h0.8v0.8h-0.8zM101.4 56.0h0.8v0.8h-0.8zM90.3 75.5h0.8v0.8h-0.8zM80.8 81.0h0.8v0.8h-0.8zM86.2 77.3h0.8v0.8h-0.8zM90.8 64.9h0.8v0.8h-0.8zM86.5 74.2h0.8v0.8h-0.8zM87.7 70.9h0.8v0.8h-0.8zM102.0 52.4h0.8v0.8h-0.8zM97.4 64.0h0.8v0.8h-0.8zM103.6 56.2h0.8v0.8h-0.8zM107.4 51.3h0.8v0.8h-0.8zM80.2 81.1h0.8v0.8h-0.8zM99.5 56.5h0.8v0.8h-0.8zM96.1 61.4h0.8v0.8h-0.8zM80.7 76.4h0.8v0.8h-0.8zM80.0 80.2h0.8v0.8h-0.8zM96.1 65.2h0.8v0.8h-0.8zM96.7 64.7h0.8v0.8h-0.8zM92.4 69.0h0.8v0.8h-0.8zM89.1 76.7h0.8v0.8h-0.8zM96.7 62.2h0.8v0.8h-0.8zM87.8 69.8h0.8v0.8h-0.8zM113.0 47.0h0.8v0.8h-0.8zM87.2 74.8h0.8v0.8h-0.8zM111.7 48.2h0.8v0.8h-0.8zM101.0 58.4h0.8v0.8h-0.8zM109.4 49.5h0.8v0.8h-0.8zM77.9 76.6h0.8v0.8h-0.8zM81.3 81.9h0.8v0.8h-0.8zM97.1 61.9h0.8v0.8h-0.8zM89.8 68.2h0.8v0.8h-0.8zM95.3 64.6h0.8v0.8h-0.8zM97.5 63.4h0.8v0.8h-0.8zM115.2 48.1h0.8v0.8h-0.8zM114.9 47.0h0.8v0.8h-0.8zM91.4 66.5h0.8v0.8h-0.8zM88.0 67.5h0.8v0.8h-0.8zM105.2 57.1h0.8v0.8h-0.8zM86.3 72.5h0.8v0.8h-0.8zM105.6 52.7h0.8v0.8h-0.8zM78.2 78.9h0.8v0.8h-0.8zM106.6 52.6h0.8v0.8h-0.8zM93.4 65.4h0.8v0.8h-0.8zM87.4 69.9h0.8v0.8h-0.8zM101.8 62.2h0.8v0.8h-0.8zM90.6 69.5h0.8v0.8h-0.8zM104.6 61.3h0.8v0.8h-0.8zM94.4 72.4h0.8v0.8h-0.8zM103.7 59.1h0.8v0.8h-0.8zM87.2 78.3h0.8v0.8h-0.8zM94.3 64.3h0.8v0.8h-0.8zM96.3 60.6h0.8v0.8h-0.8zM96.9 64.3h0.8v0.8h-0.8zM95.8 64.9h0.8v0.8h-0.8zM110.9 49.9h0.8v0.8h-0.8zM83.7 77.5h0.8v0.8h-0.8zM94.1 65.6h0.8v0.8h-0.8zM86.0 73.2h0.8v0.8h-0.8zM101.1 60.6h0.8v0.8h-0.8zM84.4 78.5h0.8v0.8h-0.8zM96.2 65.7h0.8v0.8h-0.8zM82.0 75.8h0.8v0.8h-0.8zM98.5 63.1h0.8v0.8h-0.8zM104.5 50.8h0.8v0.8h-0.8zM86.3 74.8h0.8v0.8h-0.8zM90.9 64.8h0.8v0.8h-0.8zM87.9 76.4h0.8v0.8h-0.8zM84.4 78.2h0.8v0.8h-0.8zM91.3 67.3h0.8v0.8h-0.8zM107.6 50.8h0.8v0.8h-0.8zM85.0 75.9h0.8v0.8h-0.8zM104.5 48.8h0.8v0.8h-0.8zM91.6 68.4h0.8v0.8h-0.8zM85.7 73.7h0.8v0.8h-0.8zM108.4 53.5h0.8v0.8h-0.8zM84.6 70.3h0.8v0.8h-0.8zM82.5 75.1h0.8v0.8h-0.8zM92.1 66.8h0.8v0.8h-0.8zM105.7 59.7h0.8v0.8h-0.8zM92.7 66.4h0.8v0.8h-0.8zM81.8 80.2h0.8v0.8h-0.8zM100.5 58.4h0.8v0.8h-0.8zM85.2 72.2h0.8v0.8h-0.8zM110.6 51.9h0.8v0.8h-0.8zM88.0 71.6h0.8v0.8h-0.8zM90.6 66.7h0.8v0.8h-0.8zM95.7 63.9h0.8v0.8h-0.8zM105.9 55.2h0.8v0.8h-0.8zM88.2 75.6h0.8v0.8h-0.8zM107.4 54.8h0.8v0.8h-0.8zM101.1 63.3h0.8v0.8h-0.8zM99.3 57.6h0.8v0.8h-0.8zM93.1 66.9h0.8v0.8h-0.8zM95.5 68.8h0.8v0.8h-0.8zM109.3 50.8h0.8v0.8h-0.8zM105.3 59.0h0.8v0.8h-0.8zM86.1 85.1h0.8v0.8h-0.8zM79.1 77.3h0.8v0.8h-0.8zM95.1 61.3h0.8v0.8h-0.8zM96.1 69.0h0.8v0.8h-0.8zM100.2 62.4h0.8v0.8h-0.8zM98.5 61.0h0.8v0.8h-0.8zM83.8 77.8h0.8v0.8h-0.8zM81.1 82.1h0.8v0.8h-0.8zM100.1 61.8h0.8v0.8h-0.8zM86.9 74.3h0.8v0.8h-0.8zM90.7 71.4h0.8v0.8h-0.8zM105.7 53.7h0.8v0.8h-0.8zM80.2 81.0h0.8v0.8h-0.8zM104.9 57.7h0.8v0.8h-0.8zM104.7 55.3h0.8v0.8h-0.8zM115.2 50.2h0.8v0.8h-0.8zM84.8 70.8h0.8v0.8h-0.8zM87.2 78.9h0.8v0.8h-0.8zM110.0 50.3h0.8v0.8h-0.8zM88.9 70.3h0.8v0.8h-0.8zM81.5 77.6h0.8v0.8h-0.8zM82.7 76.9h0.8v0.8h-0.8zM101.7 54.3h0.8v0.8h-0.8zM101.5 62.3h0.8v0.8h-0.8zM109.9 50.4h0.8v0.8h-0.8zM79.6 80.4h0.8v0.8h-0.8zM115.3 46.3h0.8v0.8h-0.8zM89.9 72.3h0.8v0.8h-0.8zM111.6 44.2h0.8v0.8h-0.8zM96.5 66.0h0.8v0.8h-0.8zM103.7 58.0h0.8v0.8h-0.8zM99.1 62.0h0.8v0.8h-0.8zM108.7 52.1h0.8v0.8h-0.8zM89.2 70.6h0.8v0.8h-0.8zM111.6 49.1h0.8v0.8h-0.8zM105.9 53.0h0.8v0.8h-0.8zM81.2 78.8h0.8v0.8h-0.8zM89.1 69.7h0.8v0.8h-0.8zM78.1 77.8h0.8v0.8h-0.8zM95.8 67.2h0.8v0.8h-0.8zM90.5 64.4h0.8v0.8h-0.8zM85.6 76.3h0.8v0.8h-0.8zM92.6 65.5h0.8v0.8h-0.8zM92.5 67.3h0.8v0.8h-0.8zM108.7 52.3h0.8v0.8h-0.8zM83.1 83.7h0.8v0.8h-0.8zM79.2 76.0h0.8v0.8h-0.8zM103.7 58.9h0.8v0.8h-0.8zM94.1 68.7h0.8v0.8h-0.8zM98.7 58.0h0.8v0.8h-0.8zM88.9 71.2h0.8v0.8h-0.8zM105.6 48.3h0.8v0.8h-0.8zM84.9 70.0h0.8v0.8h-0.8zM83.7 74.4h0.8v0.8h-0.8zM101.6 57.8h0.8v0.8h-0.8zM89.4 68.5h0.8v0.8h-0.8zM93.1 71.5h0.8v0.8h-0.8zM85.0 74.8h0.8v0.8h-0.8zM102.0 57.7h0.8v0.8h-0.8zM85.2 76.8h0.8v0.8h-0.8zM99.3 60.1h0.8v0.8h-0.8zM102.2 62.7h0.8v0.8h-0.8zM88.4 69.0h0.8v0.8h-0.8zM85.0 71.2h0.8v0.8h-0.8zM85.2 79.4h0.8v0.8h-0.8zM102.5 57.1h0.8v0.8h-0.8zM92.3 63.0h0.8v0.8h-0.8zM79.7 79.4h0.8v0.8h-0.8zM90.3 73.4h0.8v0.8h-0.8zM96.7 66.8h0.8v0.8h-0.8zM112.4 44.8h0.8v0.8h-0.8zM84.1 70.4h0.8v0.8h-0.8zM85.3 78.7h0.8v0.8h-0.8zM88.6 71.7h0.8v0.8h-0.8zM89.0 73.9h0.8v0.8h-0.8zM85.3 76.0h0.8v0.8h-0.8zM84.0 75.4h0.8v0.8h-0.8zM86.0 74.6h0.8v0.8h-0.8zM93.1 69.4h0.8v0.8h-0.8zM84.2 69.4h0.8v0.8h-0.8zM83.4 77.5h0.8v0.8h-0.8zM112.1 48.5h0.8v0.8h-0.8zM89.1 67.6h0.8v0.8h-0.8zM107.7 52.4h0.8v0.8h-0.8zM89.9 71.1h0.8v0.8h-0.8zM84.2 73.2h0.8v0.8h-0.8zM96.6 67.0h0.8v0.8h-0.8zM79.5 78.6h0.8v0.8h-0.8zM88.2 68.8h0.8v0.8h-0.8zM79.1 79.2h0.8v0.8h-0.8zM84.7 76.3h0.8v0.8h-0.8zM91.9 68.4h0.8v0.8h-0.8zM83.4 82.6h0.8v0.8h-0.8zM94.9 65.8h0.8v0.8h-0.8zM91.3 68.1h0.8v0.8h-0.8zM87.6 69.9h0.8v0.8h-0.8zM108.8 50.8h0.8v0.8h-0.8zM90.7 70.8h0.8v0.8h-0.8zM91.3 71.8h0.8v0.8h-0.8zM106.9 53.4h0.8v0.8h-0.8zM82.6 77.4h0.8v0.8h-0.8zM93.4 62.9h0.8v0.8h-0.8zM89.3 71.0h0.8v0.8h-0.8zM93.7 68.2h0.8v0.8h-0.8zM95.6 65.0h0.8v0.8h-0.8zM88.7 73.3h0.8v0.8h-0.8zM90.0 71.1h0.8v0.8h-0.8zM95.0 72.5h0.8v0.8h-0.8zM90.8 74.7h0.8v0.8h-0.8zM84.6 79.7h0.8v0.8h-0.8zM111.8 46.7h0.8v0.8h-0.8zM101.8 58.6h0.8v0.8h-0.8zM95.8 64.0h0.8v0.8h-0.8zM82.5 74.2h0.8v0.8h-0.8zM90.8 72.9h0.8v0.8h-0.8zM80.3 76.5h0.8v0.8h-0.8zM101.7 57.3h0.8v0.8h-0.8zM86.7 76.0h0.8v0.8h-0.8zM81.9 73.7h0.8v0.8h-0.8zM96.6 68.3h0.8v0.8h-0.8zM88.8 75.2h0.8v0.8h-0.8zM83.4 77.7h0.8v0.8h-0.8zM103.2 55.7h0.8v0.8h-0.8zM109.6 51.1h0.8v0.8h-0.8zM85.5 81.8h0.8v0.8h-0.8zM91.7 69.5h0.8v0.8h-0.8zM91.1 69.6h0.8v0.8h-0.8zM90.2 61.9h0.8v0.8h-0.8zM88.8 67.1h0.8v0.8h-0.8zM108.1 51.6h0.8v0.8h-0.8zM87.8 76.1h0.8v0.8h-0.8zM86.5 72.8h0.8v0.8h-0.8zM98.9 65.1h0.8v0.8h-0.8zM86.2 73.5h0.8v0.8h-0.8zM104.3 54.7h0.8v0.8h-0.8zM110.6 50.8h0.8v0.8h-0.8zM109.7 49.6h0.8v0.8h-0.8zM94.7 66.7h0.8v0.8h-0.8zM90.7 71.4h0.8v0.8h-0.8zM87.8 67.7h0.8v0.8h-0.8zM83.9 74.6h0.8v0.8h-0.8zM110.2 50.9h0.8v0.8h-0.8zM95.3 67.5h0.8v0.8h-0.8zM101.0 58.6h0.8v0.8h-0.8zM107.0 51.3h0.8v0.8h-0.8zM96.5 61.0h0.8v0.8h-0.8zM84.0 71.7h0.8v0.8h-0.8zM105.0 53.7h0.8v0.8h-0.8zM87.2 76.8h0.8v0.8h-0.8zM80.7 73.2h0.8v0.8h-0.8zM101.6 54.9h0.8v0.8h-0.8zM109.2 48.2h0.8v0.8h-0.8zM80.4 75.8h0.8v0.8h-0.8zM105.0 59.9h0.8v0.8h-0.8zM93.8 67.7h0.8v0.8h-0.8zM83.6 78.5h0.8v0.8h-0.8zM89.0 67.5h0.8v0.8h-0.8zM86.5 77.7h0.8v0.8h-0.8zM92.6 68.8h0.8v0.8h-0.8zM82.2 73.3h0.8v0.8h-0.8zM88.3 70.0h0.8v0.8h-0.8zM101.9 59.5h0.8v0.8h-0.8zM98.2 56.0h0.8v0.8h-0.8zM82.9 81.8h0.8v0.8h-0.8zM114.8 43.8h0.8v0.8h-0.8zM87.5 73.7h0.8v0.8h-0.8zM91.8 66.9h0.8v0.8h-0.8zM103.2 57.8h0.8v0.8h-0.8zM97.5 65.5h0.8v0.8h-0.8zM102.8 56.7h0.8v0.8h-0.8zM98.9 65.6h0.8v0.8h-0.8zM89.8 68.9h0.8v0.8h-0.8zM99.3 61.9h0.8v0.8h-0.8zM104.7 52.5h0.8v0.8h-0.8zM104.6 57.0h0.8v0.8h-0.8zM84.7 77.9h0.8v0.8h-0.8zM94.8 64.2h0.8v0.8h-0.8zM92.5 63.8h0.8v0.8h-0.8zM114.5 52.2h0.8v0.8h-0.8zM104.0 55.8h0.8v0.8h-0.8zM83.0 75.4h0.8v0.8h-0.8zM100.8 64.0h0.8v0.8h-0.8zM84.2 79.1h0.8v0.8h-0.8zM87.6 70.7h0.8v0.8h-0.8zM85.4 77.7h0.8v0.8h-0.8zM91.5 70.9h0.8v0.8h-0.8zM89.8 65.0h0.8v0.8h-0.8zM91.9 71.5h0.8v0.8h-0.8zM97.2 65.8h0.8v0.8h-0.8zM114.5 53.0h0.8v0.8h-0.8zM103.5 60.3h0.8v0.8h-0.8zM85.8 78.6h0.8v0.8h-0.8zM79.4 75.6h0.8v0.8h-0.8zM90.7 65.7h0.8v0.8h-0.8zM94.3 70.1h0.8v0.8h-0.8zM101.2 52.6h0.8v0.8h-0.8zM81.8 76.2h0.8v0.8h-0.8zM82.7 78.4h0.8v0.8h-0.8zM94.9 62.8h0.8v0.8h-0.8zM90.8 68.3h0.8v0.8h-0.8zM98.0 64.8h0.8v0.8h-0.8zM94.2 71.8h0.8v0.8h-0.8zM99.3 63.9h0.8v0.8h-0.8zM81.3 79.2h0.8v0.8h-0.8zM96.4 65.1h0.8v0.8h-0.8zM81.2 81.7h0.8v0.8h-0.8zM80.3 77.1h0.8v0.8h-0.8zM107.4 56.2h0.8v0.8h-0.8zM81.6 76.0h0.8v0.8h-0.8zM94.0 67.9h0.8v0.8h-0.8zM91.9 68.1h0.8v0.8h-0.8zM98.4 65.4h0.8v0.8h-0.8zM107.9 52.3h0.8v0.8h-0.8zM84.1 78.9h0.8v0.8h-0.8zM117.1 48.5h0.8v0.8h-0.8zM97.5 62.8h0.8v0.8h-0.8zM93.5 67.0h0.8v0.8h-0.8zM93.9 63.7h0.8v0.8h-0.8zM86.3 73.2h0.8v0.8h-0.8zM88.9 74.7h0.8v0.8h-0.8zM96.5 65.8h0.8v0.8h-0.8zM89.7 78.7h0.8v0.8h-0.8zM91.4 72.6h0.8v0.8h-0.8zM87.0 69.2h0.8v0.8h-0.8zM95.7 59.7h0.8v0.8h-0.8zM101.0 56.7h0.8v0.8h-0.8zM85.5 73.9h0.8v0.8h-0.8zM87.6 70.9h0.8v0.8h-0.8zM94.2 64.5h0.8v0.8h-0.8zM94.3 71.6h0.8v0.8h-0.8zM100.0 63.1h0.8v0.8h-0.8zM103.8 52.6h0.8v0.8h-0.8zM111.7 44.6h0.8v0.8h-0.8zM88.6 71.1h0.8v0.8h-0.8zM106.1 55.0h0.8v0.8h-0.8zM105.2 56.2h0.8v0.8h-0.8zM82.8 79.4h0.8v0.8h-0.8zM82.6 80.9h0.8v0.8h-0.8zM104.3 62.1h0.8v0.8h-0.8zM95.3 64.5h0.8v0.8h-0.8zM83.5 78.4h0.8v0.8h-0.8zM87.6 73.5h0.8v0.8h-0.8zM98.6 56.2h0.8v0.8h-0.8zM93.8 64.6h0.8v0.8h-0.8zM109.3 53.1h0.8v0.8h-0.8zM97.2 61.2h0.8v0.8h-0.8zM95.5 69.7h0.8v0.8h-0.8zM86.0 71.0h0.8v0.8h-0.8zM92.6 66.9h0.8v0.8h-0.8zM86.7 74.3h0.8v0.8h-0.8zM96.5 62.0h0.8v0.8h-0.8zM81.6 74.2h0.8v0.8h-0.8zM101.0 60.7h0.8v0.8h-0.8zM84.9 78.8h0.8v0.8h-0.8zM88.5 65.0h0.8v0.8h-0.8zM89.2 71.1h0.8v0.8h-0.8zM83.1 72.5h0.8v0.8h-0.8zM98.8 63.7h0.8v0.8h-0.8zM86.0 73.3h0.8v0.8h-0.8zM86.4 76.1h0.8v0.8h-0.8zM104.9 53.2h0.8v0.8h-0.8zM96.2 65.0h0.8v0.8h-0.8zM99.6 62.8h0.8v0.8h-0.8zM93.1 62.2h0.8v0.8h-0.8zM97.1 62.1h0.8v0.8h-0.8zM113.8 52.8h0.8v0.8h-0.8zM89.3 71.9h0.8v0.8h-0.8zM94.1 69.2h0.8v0.8h-0.8zM102.8 61.4h0.8v0.8h-0.8zM94.1 68.1h0.8v0.8h-0.8zM104.7 57.0h0.8v0.8h-0.8zM88.7 71.6h0.8v0.8h-0.8zM105.9 56.8h0.8v0.8h-0.8zM109.2 56.9h0.8v0.8h-0.8zM95.2 66.9h0.8v0.8h-0.8zM83.7 73.9h0.8v0.8h-0.8zM89.8 75.0h0.8v0.8h-0.8zM84.2 74.3h0.8v0.8h-0.8zM81.7 77.3h0.8v0.8h-0.8zM100.6 61.1h0.8v0.8h-0.8zM81.0 78.6h0.8v0.8h-0.8zM104.9 57.7h0.8v0.8h-0.8zM81.4 80.4h0.8v0.8h-0.8zM85.8 77.9h0.8v0.8h-0.8zM103.6 55.1h0.8v0.8h-0.8zM101.9 53.9h0.8v0.8h-0.8zM90.5 72.1h0.8v0.8h-0.8zM80.6 76.0h0.8v0.8h-0.8zM93.4 73.9h0.8v0.8h-0.8zM87.3 76.0h0.8v0.8h-0.8zM88.8 74.9h0.8v0.8h-0.8zM97.2 57.5h0.8v0.8h-0.8zM97.0 65.2h0.8v0.8h-0.8zM97.0 60.7h0.8v0.8h-0.8zM103.2 63.7h0.8v0.8h-0.8zM101.4 58.5h0.8v0.8h-0.8zM80.2 78.5h0.8v0.8h-0.8zM81.0 79.6h0.8v0.8h-0.8zM106.7 62.3h0.8v0.8h-0.8zM81.9 78.1h0.8v0.8h-0.8zM98.5 59.1h0.8v0.8h-0.8zM83.2 73.0h0.8v0.8h-0.8zM111.0 47.8h0.8v0.8h-0.8zM108.7 56.9h0.8v0.8h-0.8zM90.3 70.7h0.8v0.8h-0.8zM100.4 56.9h0.8v0.8h-0.8zM90.7 72.3h0.8v0.8h-0.8zM88.5 70.1h0.8v0.8h-0.8zM81.1 81.0h0.8v0.8h-0.8zM82.3 77.9h0.8v0.8h-0.8zM85.9 72.1h0.8v0.8h-0.8zM84.1 78.7h0.8v0.8h-0.8zM92.5 58.5h0.8v0.8h-0.8zM98.6 61.2h0.8v0.8h-0.8zM90.9 68.4h0.8v0.8h-0.8zM100.2 62.5h0.8v0.8h-0.8zM97.4 62.7h0.8v0.8h-0.8zM82.2 79.2h0.8v0.8h-0.8zM84.0 81.2h0.8v0.8h-0.8zM83.1 82.4h0.8v0.8h-0.8zM79.6 80.0h0.8v0.8h-0.8zM85.0 75.7h0.8v0.8h-0.8zM108.8 59.9h0.8v0.8h-0.8zM83.8 83.7h0.8v0.8h-0.8zM89.7 71.8h0.8v0.8h-0.8zM100.5 60.0h0.8v0.8h-0.8zM91.9 66.4h0.8v0.8h-0.8zM94.6 69.8h0.8v0.8h-0.8zM93.8 64.6h0.8v0.8h-0.8zM80.4 81.2h0.8v0.8h-0.8zM96.6 65.4h0.8v0.8h-0.8zM93.3 67.5h0.8v0.8h-0.8zM84.2 73.1h0.8v0.8h-0.8zM91.3 67.2h0.8v0.8h-0.8zM85.6 71.9h0.8v0.8h-0.8zM81.4 81.4h0.8v0.8h-0.8zM88.9 72.4h0.8v0.8h-0.8zM85.6 78.7h0.8v0.8h-0.8zM105.1 56.9h0.8v0.8h-0.8zM106.7 54.7h0.8v0.8h-0.8zM99.2 62.6h0.8v0.8h-0.8zM90.2 67.9h0.8v0.8h-0.8zM90.9 68.1h0.8v0.8h-0.8zM86.1 71.8h0.8v0.8h-0.8zM82.7 77.4h0.8v0.8h-0.8zM92.4 64.5h0.8v0.8h-0.8zM82.5 77.6h0.8v0.8h-0.8zM100.3 56.8h0.8v0.8h-0.8zM89.0 69.8h0.8v0.8h-0.8zM102.6 55.2h0.8v0.8h-0.8zM87.1 73.6h0.8v0.8h-0.8zM85.6 79.0h0.8v0.8h-0.8zM85.3 79.9h0.8v0.8h-0.8zM84.5 69.6h0.8v0.8h-0.8zM107.7 51.2h0.8v0.8h-0.8zM100.4 58.4h0.8v0.8h-0.8zM107.1 53.6h0.8v0.8h-0.8zM84.2 77.7h0.8v0.8h-0.8zM109.1 41.7h0.8v0.8h-0.8zM95.4 68.6h0.8v0.8h-0.8zM86.9 73.8h0.8v0.8h-0.8zM89.1 71.5h0.8v0.8h-0.8zM87.4 76.8h0.8v0.8h-0.8zM94.7 69.9h0.8v0.8h-0.8zM90.2 72.5h0.8v0.8h-0.8zM113.7 47.6h0.8v0.8h-0.8zM101.8 60.1h0.8v0.8h-0.8zM98.2 59.4h0.8v0.8h-0.8zM95.3 68.9h0.8v0.8h-0.8zM91.2 67.9h0.8v0.8h-0.8zM107.7 47.6h0.8v0.8h-0.8zM87.0 70.5h0.8v0.8h-0.8zM101.8 62.2h0.8v0.8h-0.8zM96.7 73.2h0.8v0.8h-0.8zM96.6 61.0h0.8v0.8h-0.8zM84.6 74.2h0.8v0.8h-0.8zM86.2 76.1h0.8v0.8h-0.8zM105.1 50.9h0.8v0.8h-0.8zM94.9 66.8h0.8v0.8h-0.8zM88.3 71.8h0.8v0.8h-0.8zM90.4 73.4h0.8v0.8h-0.8zM83.3 76.1h0.8v0.8h-0.8zM88.7 73.2h0.8v0.8h-0.8zM101.3 60.6h0.8v0.8h-0.8zM89.1 67.7h0.8v0.8h-0.8zM99.9 59.6h0.8v0.8h-0.8zM87.1 78.2h0.8v0.8h-0.8zM90.8 67.3h0.8v0.8h-0.8zM83.5 74.2h0.8v0.8h-0.8zM109.9 53.0h0.8v0.8h-0.8zM101.2 60.4h0.8v0.8h-0.8zM81.3 79.0h0.8v0.8h-0.8zM102.4 58.7h0.8v0.8h-0.8zM96.1 63.9h0.8v0.8h-0.8zM101.4 56.8h0.8v0.8h-0.8zM103.8 58.0h0.8v0.8h-0.8zM83.8 69.9h0.8v0.8h-0.8zM86.5 76.3h0.8v0.8h-0.8zM81.1 81.2h0.8v0.8h-0.8zM76.6 77.5h0.8v0.8h-0.8zM85.4 67.3h0.8v0.8h-0.8zM98.3 61.8h0.8v0.8h-0.8zM88.0 73.0h0.8v0.8h-0.8zM85.8 78.2h0.8v0.8h-0.8zM94.9 61.7h0.8v0.8h-0.8zM105.1 54.5h0.8v0.8h-0.8zM93.1 70.0h0.8v0.8h-0.8zM103.9 55.0h0.8v0.8h-0.8zM78.2 77.8h0.8v0.8h-0.8zM99.9 58.1h0.8v0.8h-0.8zM84.9 68.3h0.8v0.8h-0.8zM94.6 62.0h0.8v0.8h-0.8zM98.0 60.9h0.8v0.8h-0.8zM96.5 63.9h0.8v0.8h-0.8zM87.1 71.5h0.8v0.8h-0.8zM110.7 45.5h0.8v0.8h-0.8zM86.2 71.4h0.8v0.8h-0.8zM89.0 67.9h0.8v0.8h-0.8zM84.5 75.3h0.8v0.8h-0.8zM89.8 68.1h0.8v0.8h-0.8zM87.7 68.7h0.8v0.8h-0.8zM81.8 79.2h0.8v0.8h-0.8zM97.7 66.9h0.8v0.8h-0.8zM79.5 75.4h0.8v0.8h-0.8zM79.4 79.2h0.8v0.8h-0.8zM94.4 67.4h0.8v0.8h-0.8zM79.9 79.9h0.8v0.8h-0.8zM89.4 71.9h0.8v0.8h-0.8zM91.9 74.0h0.8v0.8h-0.8zM82.0 79.1h0.8v0.8h-0.8zM83.1 82.0h0.8v0.8h-0.8zM84.5 75.3h0.8v0.8h-0.8zM106.9 53.6h0.8v0.8h-0.8zM95.0 61.7h0.8v0.8h-0.8zM99.0 61.6h0.8v0.8h-0.8zM90.1 69.1h0.8v0.8h-0.8zM86.2 75.2h0.8v0.8h-0.8zM110.2 51.2h0.8v0.8h-0.8zM86.6 78.4h0.8v0.8h-0.8zM89.2 68.0h0.8v0.8h-0.8zM90.6 69.3h0.8v0.8h-0.8zM116.2 45.8h0.8v0.8h-0.8zM85.9 73.8h0.8v0.8h-0.8zM100.1 61.5h0.8v0.8h-0.8zM99.6 63.1h0.8v0.8h-0.8zM108.2 51.1h0.8v0.8h-0.8zM79.5 77.1h0.8v0.8h-0.8zM100.5 60.6h0.8v0.8h-0.8zM84.0 81.2h0.8v0.8h-0.8zM97.2 65.1h0.8v0.8h-0.8zM96.9 57.6h0.8v0.8h-0.8zM105.6 57.3h0.8v0.8h-0.8zM83.3 73.3h0.8v0.8h-0.8zM82.8 78.5h0.8v0.8h-0.8zM88.5 69.5h0.8v0.8h-0.8zM84.4 76.5h0.8v0.8h-0.8zM105.2 60.2h0.8v0.8h-0.8zM97.7 63.9h0.8v0.8h-0.8zM86.0 67.6h0.8v0.8h-0.8zM80.6 80.4h0.8v0.8h-0.8zM90.8 67.8h0.8v0.8h-0.8zM87.0 74.5h0.8v0.8h-0.8zM93.8 67.0h0.8v0.8h-0.8zM81.6 77.9h0.8v0.8h-0.8zM89.5 69.4h0.8v0.8h-0.8zM86.6 66.6h0.8v0.8h-0.8zM81.5 79.1h0.8v0.8h-0.8zM91.4 69.6h0.8v0.8h-0.8zM106.6 55.7h0.8v0.8h-0.8zM94.2 70.5h0.8v0.8h-0.8zM103.6 61.9h0.8v0.8h-0.8zM88.3 69.9h0.8v0.8h-0.8zM90.3 76.2h0.8v0.8h-0.8zM85.1 70.7h0.8v0.8h-0.8zM82.5 75.2h0.8v0.8h-0.8zM89.1 72.2h0.8v0.8h-0.8zM106.7 57.2h0.8v0.8h-0.8zM89.1 71.2h0.8v0.8h-0.8zM81.4 79.0h0.8v0.8h-0.8zM85.4 71.4h0.8v0.8h-0.8zM89.2 73.6h0.8v0.8h-0.8zM86.9 74.8h0.8v0.8h-0.8zM112.2 48.1h0.8v0.8h-0.8zM82.8 78.6h0.8v0.8h-0.8zM81.5 81.0h0.8v0.8h-0.8zM114.0 51.7h0.8v0.8h-0.8zM95.1 70.6h0.8v0.8h-0.8zM96.2 66.3h0.8v0.8h-0.8zM111.4 49.5h0.8v0.8h-0.8zM85.4 71.8h0.8v0.8h-0.8zM94.0 58.8h0.8v0.8h-0.8zM97.4 57.3h0.8v0.8h-0.8zM80.2 79.0h0.8v0.8h-0.8zM90.2 64.1h0.8v0.8h-0.8zM101.9 58.7h0.8v0.8h-0.8zM85.9 76.3h0.8v0.8h-0.8zM84.3 68.6h0.8v0.8h-0.8zM92.6 71.3h0.8v0.8h-0.8zM94.0 67.7h0.8v0.8h-0.8zM80.7 80.7h0.8v0.8h-0.8zM112.7 42.6h0.8v0.8h-0.8zM81.9 80.5h0.8v0.8h-0.8zM81.4 76.6h0.8v0.8h-0.8zM88.1 73.7h0.8v0.8h-0.8zM113.7 50.3h0.8v0.8h-0.8zM93.9 65.7h0.8v0.8h-0.8zM80.1 79.9h0.8v0.8h-0.8zM105.0 59.0h0.8v0.8h-0.8zM85.2 78.1h0.8v0.8h-0.8zM111.9 50.8h0.8v0.8h-0.8zM78.2 79.2h0.8v0.8h-0.8zM80.7 78.3h0.8v0.8h-0.8zM97.9 61.6h0.8v0.8h-0.8zM88.0 70.9h0.8v0.8h-0.8zM96.9 65.0h0.8v0.8h-0.8zM81.4 77.5h0.8v0.8h-0.8zM94.2 68.1h0.8v0.8h-0.8zM97.2 67.5h0.8v0.8h-0.8zM81.0 81.8h0.8v0.8h-0.8zM97.1 62.5h0.8v0.8h-0.8zM81.9 78.3h0.8v0.8h-0.8zM85.9 71.1h0.8v0.8h-0.8zM96.5 69.3h0.8v0.8h-0.8zM84.9 76.2h0.8v0.8h-0.8zM89.7 69.4h0.8v0.8h-0.8zM83.6 80.0h0.8v0.8h-0.8zM110.8 48.5h0.8v0.8h-0.8zM98.9 62.7h0.8v0.8h-0.8zM91.9 72.2h0.8v0.8h-0.8zM97.7 58.9h0.8v0.8h-0.8zM100.7 64.1h0.8v0.8h-0.8zM89.2 67.9h0.8v0.8h-0.8zM89.1 72.7h0.8v0.8h-0.8zM87.4 76.1h0.8v0.8h-0.8zM90.0 73.3h0.8v0.8h-0.8zM91.1 71.7h0.8v0.8h-0.8zM85.7 77.5h0.8v0.8h-0.8zM93.9 65.5h0.8v0.8h-0.8zM96.7 69.7h0.8v0.8h-0.8zM89.2 67.1h0.8v0.8h-0.8zM93.5 64.1h0.8v0.8h-0.8zM82.2 73.7h0.8v0.8h-0.8zM107.5 55.9h0.8v0.8h-0.8zM84.5 83.5h0.8v0.8h-0.8zM89.2 73.2h0.8v0.8h-0.8zM96.8 64.0h0.8v0.8h-0.8zM85.6 73.8h0.8v0.8h-0.8zM86.7 75.4h0.8v0.8h-0.8zM86.7 74.0h0.8v0.8h-0.8zM84.8 75.1h0.8v0.8h-0.8zM99.3 66.0h0.8v0.8h-0.8zM94.9 59.5h0.8v0.8h-0.8zM107.0 56.8h0.8v0.8h-0.8zM98.0 61.4h0.8v0.8h-0.8zM82.9 74.0h0.8v0.8h-0.8zM91.5 71.4h0.8v0.8h-0.8zM94.8 65.5h0.8v0.8h-0.8zM84.8 70.3h0.8v0.8h-0.8zM88.7 72.6h0.8v0.8h-0.8zM81.3 75.8h0.8v0.8h-0.8zM94.3 65.1h0.8v0.8h-0.8zM94.1 65.4h0.8v0.8h-0.8zM82.8 75.4h0.8v0.8h-0.8zM90.7 70.4h0.8v0.8h-0.8zM84.6 76.5h0.8v0.8h-0.8zM95.7 61.5h0.8v0.8h-0.8zM88.2 71.3h0.8v0.8h-0.8zM81.9 77.0h0.8v0.8h-0.8zM93.6 70.7h0.8v0.8h-0.8zM88.1 72.2h0.8v0.8h-0.8zM98.7 57.5h0.8v0.8h-0.8zM81.5 76.1h0.8v0.8h-0.8zM100.6 58.4h0.8v0.8h-0.8zM94.2 67.8h0.8v0.8h-0.8zM83.9 78.6h0.8v0.8h-0.8zM81.6 77.5h0.8v0.8h-0.8zM77.5 78.4h0.8v0.8h-0.8zM116.4 43.4h0.8v0.8h-0.8zM77.7 78.6h0.8v0.8h-0.8zM84.5 76.9h0.8v0.8h-0.8zM89.6 66.8h0.8v0.8h-0.8zM83.6 80.1h0.8v0.8h-0.8zM88.9 70.9h0.8v0.8h-0.8zM93.5 70.3h0.8v0.8h-0.8zM83.4 74.9h0.8v0.8h-0.8zM83.8 74.7h0.8v0.8h-0.8zM112.3 50.9h0.8v0.8h-0.8zM83.8 79.1h0.8v0.8h-0.8zM93.7 68.1h0.8v0.8h-0.8zM87.9 77.4h0.8v0.8h-0.8zM93.3 70.1h0.8v0.8h-0.8zM111.8 51.1h0.8v0.8h-0.8zM89.4 68.5h0.8v0.8h-0.8zM87.7 68.1h0.8v0.8h-0.8zM85.0 76.9h0.8v0.8h-0.8zM89.7 71.6h0.8v0.8h-0.8zM83.8 75.9h0.8v0.8h-0.8zM109.8 52.0h0.8v0.8h-0.8zM81.9 79.4h0.8v0.8h-0.8zM85.5 72.2h0.8v0.8h-0.8zM93.6 65.9h0.8v0.8h-0.8zM81.5 79.2h0.8v0.8h-0.8zM91.3 70.9h0.8v0.8h-0.8zM78.0 77.7h0.8v0.8h-0.8zM82.0 80.4h0.8v0.8h-0.8zM101.8 58.0h0.8v0.8h-0.8zM102.4 61.2h0.8v0.8h-0.8zM100.5 61.6h0.8v0.8h-0.8zM84.4 75.7h0.8v0.8h-0.8zM82.7 79.0h0.8v0.8h-0.8zM91.9 66.7h0.8v0.8h-0.8zM100.0 60.0h0.8v0.8h-0.8zM91.3 73.6h0.8v0.8h-0.8zM100.1 67.6h0.8v0.8h-0.8zM79.8 77.4h0.8v0.8h-0.8zM98.6 63.6h0.8v0.8h-0.8zM86.2 69.4h0.8v0.8h-0.8zM80.8 79.7h0.8v0.8h-0.8zM84.0 79.0h0.8v0.8h-0.8zM80.1 78.6h0.8v0.8h-0.8zM84.9 76.5h0.8v0.8h-0.8zM82.6 77.8h0.8v0.8h-0.8zM91.3 72.1h0.8v0.8h-0.8zM104.5 53.6h0.8v0.8h-0.8zM82.3 74.6h0.8v0.8h-0.8zM92.2 69.9h0.8v0.8h-0.8zM87.5 67.0h0.8v0.8h-0.8zM88.0 74.2h0.8v0.8h-0.8zM95.1 64.4h0.8v0.8h-0.8zM95.4 70.3h0.8v0.8h-0.8zM94.7 71.9h0.8v0.8h-0.8zM111.1 42.1h0.8v0.8h-0.8zM99.2 56.4h0.8v0.8h-0.8zM99.1 57.4h0.8v0.8h-0.8zM90.8 75.1h0.8v0.8h-0.8zM103.3 56.2h0.8v0.8h-0.8zM93.2 65.8h0.8v0.8h-0.8zM99.9 60.1h0.8v0.8h-0.8zM94.1 65.3h0.8v0.8h-0.8zM84.2 79.2h0.8v0.8h-0.8zM112.7 47.9h0.8v0.8h-0.8zM92.1 72.0h0.8v0.8h-0.8zM85.4 76.2h0.8v0.8h-0.8zM90.5 68.6h0.8v0.8h-0.8zM93.1 69.8h0.8v0.8h-0.8zM87.0 74.3h0.8v0.8h-0.8zM90.3 71.5h0.8v0.8h-0.8zM90.7 69.6h0.8v0.8h-0.8zM94.9 62.4h0.8v0.8h-0.8zM109.9 49.4h0.8v0.8h-0.8zM80.9 78.3h0.8v0.8h-0.8zM89.1 76.0h0.8v0.8h-0.8zM82.2 79.5h0.8v0.8h-0.8zM81.0 76.8h0.8v0.8h-0.8zM91.9 71.2h0.8v0.8h-0.8zM100.5 61.1h0.8v0.8h-0.8zM98.3 65.2h0.8v0.8h-0.8zM80.1 76.0h0.8v0.8h-0.8zM89.2 72.7h0.8v0.8h-0.8zM82.2 80.7h0.8v0.8h-0.8zM91.0 67.4h0.8v0.8h-0.8zM87.2 69.6h0.8v0.8h-0.8zM114.3 44.2h0.8v0.8h-0.8zM86.0 71.2h0.8v0.8h-0.8zM79.6 80.2h0.8v0.8h-0.8zM82.5 78.4h0.8v0.8h-0.8zM97.6 64.2h0.8v0.8h-0.8zM82.0 80.2h0.8v0.8h-0.8zM101.9 60.2h0.8v0.8h-0.8zM95.2 63.9h0.8v0.8h-0.8zM90.5 70.2h0.8v0.8h-0.8zM85.0 75.2h0.8v0.8h-0.8zM90.5 67.9h0.8v0.8h-0.8zM82.8 77.8h0.8v0.8h-0.8zM91.6 73.2h0.8v0.8h-0.8zM101.2 61.7h0.8v0.8h-0.8zM84.0 80.1h0.8v0.8h-0.8zM106.9 59.4h0.8v0.8h-0.8zM82.5 77.6h0.8v0.8h-0.8zM87.8 76.6h0.8v0.8h-0.8zM94.4 70.1h0.8v0.8h-0.8zM90.4 73.5h0.8v0.8h-0.8zM90.0 67.5h0.8v0.8h-0.8zM106.1 55.1h0.8v0.8h-0.8zM111.1 45.8h0.8v0.8h-0.8zM99.7 60.9h0.8v0.8h-0.8zM88.9 72.9h0.8v0.8h-0.8zM85.3 73.3h0.8v0.8h-0.8zM95.8 62.6h0.8v0.8h-0.8zM90.4 69.6h0.8v0.8h-0.8zM81.9 82.0h0.8v0.8h-0.8zM84.3 77.6h0.8v0.8h-0.8zM107.5 56.5h0.8v0.8h-0.8zM94.4 66.8h0.8v0.8h-0.8zM99.5 60.5h0.8v0.8h-0.8zM102.9 52.5h0.8v0.8h-0.8zM90.6 65.2h0.8v0.8h-0.8zM100.5 57.5h0.8v0.8h-0.8zM104.2 52.9h0.8v0.8h-0.8zM114.0 45.3h0.8v0.8h-0.8zM88.3 63.1h0.8v0.8h-0.8zM79.7 75.8h0.8v0.8h-0.8zM92.1 59.6h0.8v0.8h-0.8zM107.6 51.3h0.8v0.8h-0.8zM105.7 53.2h0.8v0.8h-0.8zM111.0 45.6h0.8v0.8h-0.8zM101.1 58.6h0.8v0.8h-0.8zM94.1 65.2h0.8v0.8h-0.8zM96.5 67.1h0.8v0.8h-0.8zM104.6 52.5h0.8v0.8h-0.8zM99.3 60.5h0.8v0.8h-0.8zM99.6 58.0h0.8v0.8h-0.8zM109.2 51.6h0.8v0.8h-0.8zM83.4 82.9h0.8v0.8h-0.8zM102.6 56.0h0.8v0.8h-0.8zM92.4 64.1h0.8v0.8h-0.8zM109.6 54.7h0.8v0.8h-0.8zM90.5 73.1h0.8v0.8h-0.8zM103.7 57.5h0.8v0.8h-0.8zM93.8 67.3h0.8v0.8h-0.8zM100.5 65.3h0.8v0.8h-0.8zM96.8 57.7h0.8v0.8h-0.8zM90.9 66.1h0.8v0.8h-0.8zM98.8 63.5h0.8v0.8h-0.8zM108.2 57.9h0.8v0.8h-0.8zM82.3 77.0h0.8v0.8h-0.8zM100.1 53.7h0.8v0.8h-0.8zM81.7 76.1h0.8v0.8h-0.8zM100.3 56.2h0.8v0.8h-0.8zM109.1 54.1h0.8v0.8h-0.8zM90.3 69.3h0.8v0.8h-0.8zM86.5 78.8h0.8v0.8h-0.8zM77.5 76.6h0.8v0.8h-0.8zM87.5 71.1h0.8v0.8h-0.8zM92.0 75.2h0.8v0.8h-0.8zM111.7 54.5h0.8v0.8h-0.8zM95.4 63.3h0.8v0.8h-0.8zM104.4 55.3h0.8v0.8h-0.8zM90.6 70.9h0.8v0.8h-0.8zM100.5 57.8h0.8v0.8h-0.8zM106.6 47.0h0.8v0.8h-0.8zM90.5 68.7h0.8v0.8h-0.8zM87.2 79.1h0.8v0.8h-0.8zM107.7 53.0h0.8v0.8h-0.8zM84.0 80.8h0.8v0.8h-0.8zM81.9 81.2h0.8v0.8h-0.8zM89.4 69.9h0.8v0.8h-0.8zM87.8 73.2h0.8v0.8h-0.8zM83.4 80.6h0.8v0.8h-0.8zM86.1 74.4h0.8v0.8h-0.8zM94.1 68.9h0.8v0.8h-0.8zM82.3 76.5h0.8v0.8h-0.8zM96.5 64.6h0.8v0.8h-0.8zM110.7 48.1h0.8v0.8h-0.8zM112.7 48.3h0.8v0.8h-0.8zM93.6 64.3h0.8v0.8h-0.8zM84.7 76.3h0.8v0.8h-0.8zM104.9 55.3h0.8v0.8h-0.8zM95.9 66.3h0.8v0.8h-0.8zM100.8 59.0h0.8v0.8h-0.8zM107.2 58.8h0.8v0.8h-0.8zM78.6 73.3h0.8v0.8h-0.8zM91.9 70.7h0.8v0.8h-0.8zM80.9 79.4h0.8v0.8h-0.8zM100.0 61.9h0.8v0.8h-0.8zM103.5 58.4h0.8v0.8h-0.8zM88.6 70.6h0.8v0.8h-0.8zM82.7 79.5h0.8v0.8h-0.8zM97.8 64.0h0.8v0.8h-0.8zM88.3 76.7h0.8v0.8h-0.8zM88.5 75.0h0.8v0.8h-0.8zM95.9 68.3h0.8v0.8h-0.8zM90.2 64.3h0.8v0.8h-0.8zM108.4 56.2h0.8v0.8h-0.8zM95.4 68.5h0.8v0.8h-0.8zM94.6 65.2h0.8v0.8h-0.8zM82.7 73.2h0.8v0.8h-0.8zM89.4 76.6h0.8v0.8h-0.8zM111.0 54.2h0.8v0.8h-0.8zM95.6 64.4h0.8v0.8h-0.8zM89.9 69.5h0.8v0.8h-0.8zM91.9 73.1h0.8v0.8h-0.8zM103.9 62.3h0.8v0.8h-0.8zM97.3 66.2h0.8v0.8h-0.8zM89.1 68.9h0.8v0.8h-0.8zM83.4 77.3h0.8v0.8h-0.8zM87.3 70.7h0.8v0.8h-0.8zM92.3 68.5h0.8v0.8h-0.8zM82.6 78.0h0.8v0.8h-0.8zM109.7 48.5h0.8v0.8h-0.8zM82.5 78.5h0.8v0.8h-0.8zM91.9 67.8h0.8v0.8h-0.8zM89.4 74.1h0.8v0.8h-0.8zM111.3 50.8h0.8v0.8h-0.8zM89.0 70.0h0.8v0.8h-0.8zM104.4 56.7h0.8v0.8h-0.8zM97.0 65.9h0.8v0.8h-0.8zM102.0 56.1h0.8v0.8h-0.8zM81.4 77.4h0.8v0.8h-0.8zM82.0 78.6h0.8v0.8h-0.8zM90.5 72.5h0.8v0.8h-0.8zM91.6 65.9h0.8v0.8h-0.8zM84.6 67.7h0.8v0.8h-0.8zM105.2 57.8h0.8v0.8h-0.8zM97.3 68.1h0.8v0.8h-0.8zM93.0 69.9h0.8v0.8h-0.8zM82.3 81.3h0.8v0.8h-0.8zM85.2 79.5h0.8v0.8h-0.8zM83.5 80.9h0.8v0.8h-0.8zM90.5 67.2h0.8v0.8h-0.8zM83.6 74.1h0.8v0.8h-0.8zM97.8 57.7h0.8v0.8h-0.8zM86.3 71.8h0.8v0.8h-0.8zM81.9 80.2h0.8v0.8h-0.8zM109.2 47.4h0.8v0.8h-0.8zM85.5 77.0h0.8v0.8h-0.8zM85.4 76.3h0.8v0.8h-0.8zM90.8 73.5h0.8v0.8h-0.8zM85.2 71.3h0.8v0.8h-0.8zM85.4 71.9h0.8v0.8h-0.8zM111.6 50.2h0.8v0.8h-0.8zM91.9 69.6h0.8v0.8h-0.8zM114.5 45.5h0.8v0.8h-0.8zM113.3 46.2h0.8v0.8h-0.8zM84.9 72.9h0.8v0.8h-0.8zM84.9 75.5h0.8v0.8h-0.8zM90.3 68.9h0.8v0.8h-0.8zM84.9 80.6h0.8v0.8h-0.8zM107.4 53.9h0.8v0.8h-0.8zM111.6 54.5h0.8v0.8h-0.8zM91.6 63.0h0.8v0.8h-0.8zM84.1 71.9h0.8v0.8h-0.8zM78.8 79.5h0.8v0.8h-0.8zM94.4 62.4h0.8v0.8h-0.8zM93.2 60.6h0.8v0.8h-0.8zM105.8 51.4h0.8v0.8h-0.8zM104.5 61.0h0.8v0.8h-0.8zM88.8 72.4h0.8v0.8h-0.8zM111.6 56.3h0.8v0.8h-0.8zM96.7 66.4h0.8v0.8h-0.8zM90.2 74.4h0.8v0.8h-0.8zM85.9 74.7h0.8v0.8h-0.8zM112.4 46.6h0.8v0.8h-0.8zM87.0 76.6h0.8v0.8h-0.8zM102.8 58.5h0.8v0.8h-0.8zM88.8 70.8h0.8v0.8h-0.8zM92.3 68.7h0.8v0.8h-0.8zM88.9 72.3h0.8v0.8h-0.8zM110.1 58.1h0.8v0.8h-0.8zM93.1 68.9h0.8v0.8h-0.8zM107.0 50.7h0.8v0.8h-0.8zM94.8 64.8h0.8v0.8h-0.8zM92.5 72.8h0.8v0.8h-0.8zM80.9 80.7h0.8v0.8h-0.8zM112.6 46.7h0.8v0.8h-0.8zM110.0 53.4h0.8v0.8h-0.8zM91.1 67.2h0.8v0.8h-0.8zM94.9 68.2h0.8v0.8h-0.8zM96.2 65.3h0.8v0.8h-0.8zM97.0 63.7h0.8v0.8h-0.8zM97.6 55.5h0.8v0.8h-0.8zM87.6 74.0h0.8v0.8h-0.8zM104.0 58.3h0.8v0.8h-0.8zM94.8 63.3h0.8v0.8h-0.8zM111.3 50.5h0.8v0.8h-0.8zM95.9 63.9h0.8v0.8h-0.8zM107.8 59.8h0.8v0.8h-0.8zM82.8 76.9h0.8v0.8h-0.8zM82.5 78.2h0.8v0.8h-0.8zM85.9 78.9h0.8v0.8h-0.8zM90.8 65.2h0.8v0.8h-0.8zM83.1 78.3h0.8v0.8h-0.8zM86.6 74.7h0.8v0.8h-0.8zM97.6 67.2h0.8v0.8h-0.8zM90.7 75.2h0.8v0.8h-0.8zM109.9 52.3h0.8v0.8h-0.8zM91.0 74.5h0.8v0.8h-0.8zM89.3 69.7h0.8v0.8h-0.8zM113.3 44.1h0.8v0.8h-0.8zM91.9 70.7h0.8v0.8h-0.8zM93.7 72.0h0.8v0.8h-0.8zM97.2 64.6h0.8v0.8h-0.8zM102.2 61.6h0.8v0.8h-0.8zM105.5 54.3h0.8v0.8h-0.8zM89.5 70.4h0.8v0.8h-0.8zM80.8 81.2h0.8v0.8h-0.8zM106.7 53.4h0.8v0.8h-0.8zM100.5 56.5h0.8v0.8h-0.8zM98.0 56.8h0.8v0.8h-0.8zM99.2 63.0h0.8v0.8h-0.8zM89.7 68.5h0.8v0.8h-0.8zM108.9 52.1h0.8v0.8h-0.8zM91.7 72.3h0.8v0.8h-0.8zM79.9 76.6h0.8v0.8h-0.8zM105.2 53.8h0.8v0.8h-0.8zM90.2 69.9h0.8v0.8h-0.8zM114.7 44.4h0.8v0.8h-0.8zM80.2 81.0h0.8v0.8h-0.8zM91.5 72.4h0.8v0.8h-0.8zM89.6 65.1h0.8v0.8h-0.8zM92.2 65.4h0.8v0.8h-0.8zM90.6 69.1h0.8v0.8h-0.8zM79.0 78.5h0.8v0.8h-0.8zM85.5 70.9h0.8v0.8h-0.8zM89.9 71.3h0.8v0.8h-0.8zM103.9 54.5h0.8v0.8h-0.8zM94.4 67.1h0.8v0.8h-0.8zM84.7 73.8h0.8v0.8h-0.8zM88.7 72.6h0.8v0.8h-0.8zM92.8 59.7h0.8v0.8h-0.8zM92.1 69.6h0.8v0.8h-0.8zM87.1 71.8h0.8v0.8h-0.8zM109.1 49.7h0.8v0.8h-0.8zM107.6 53.8h0.8v0.8h-0.8zM80.9 76.7h0.8v0.8h-0.8zM104.7 55.9h0.8v0.8h-0.8zM88.9 73.0h0.8v0.8h-0.8zM84.5 76.2h0.8v0.8h-0.8zM114.4 48.3h0.8v0.8h-0.8zM78.5 78.3h0.8v0.8h-0.8zM91.7 66.8h0.8v0.8h-0.8zM84.5 72.9h0.8v0.8h-0.8zM87.0 78.0h0.8v0.8h-0.8zM81.9 77.8h0.8v0.8h-0.8zM109.7 53.1h0.8v0.8h-0.8zM108.5 51.5h0.8v0.8h-0.8zM82.0 74.5h0.8v0.8h-0.8zM94.6 65.0h0.8v0.8h-0.8zM82.3 78.9h0.8v0.8h-0.8zM102.8 53.9h0.8v0.8h-0.8zM89.6 67.6h0.8v0.8h-0.8zM82.7 71.8h0.8v0.8h-0.8zM89.1 77.5h0.8v0.8h-0.8zM103.2 56.1h0.8v0.8h-0.8zM109.3 52.3h0.8v0.8h-0.8zM92.0 71.4h0.8v0.8h-0.8zM92.1 68.0h0.8v0.8h-0.8zM89.0 75.3h0.8v0.8h-0.8zM89.4 78.5h0.8v0.8h-0.8zM95.8 67.6h0.8v0.8h-0.8zM82.5 79.0h0.8v0.8h-0.8zM76.9 77.7h0.8v0.8h-0.8zM90.1 72.8h0.8v0.8h-0.8zM99.5 64.7h0.8v0.8h-0.8zM98.3 68.6h0.8v0.8h-0.8zM90.3 71.4h0.8v0.8h-0.8zM108.8 52.3h0.8v0.8h-0.8zM97.8 62.2h0.8v0.8h-0.8zM84.8 80.6h0.8v0.8h-0.8zM104.5 58.4h0.8v0.8h-0.8zM86.2 81.8h0.8v0.8h-0.8zM83.2 76.8h0.8v0.8h-0.8zM93.9 71.8h0.8v0.8h-0.8zM120.7 48.4h0.8v0.8h-0.8zM84.8 72.0h0.8v0.8h-0.8zM93.8 65.0h0.8v0.8h-0.8zM105.7 53.5h0.8v0.8h-0.8zM102.4 56.8h0.8v0.8h-0.8zM101.8 62.0h0.8v0.8h-0.8zM105.6 51.3h0.8v0.8h-0.8zM86.6 77.5h0.8v0.8h-0.8zM78.3 76.2h0.8v0.8h-0.8zM80.7 79.3h0.8v0.8h-0.8zM114.0 52.3h0.8v0.8h-0.8zM82.6 75.2h0.8v0.8h-0.8zM90.7 63.4h0.8v0.8h-0.8zM95.9 65.4h0.8v0.8h-0.8zM98.4 58.5h0.8v0.8h-0.8zM102.5 58.5h0.8v0.8h-0.8zM92.2 70.4h0.8v0.8h-0.8zM104.7 64.0h0.8v0.8h-0.8zM81.5 75.1h0.8v0.8h-0.8zM101.6 60.3h0.8v0.8h-0.8zM103.3 55.9h0.8v0.8h-0.8zM102.8 61.3h0.8v0.8h-0.8zM102.7 60.7h0.8v0.8h-0.8zM105.5 51.2h0.8v0.8h-0.8zM85.4 76.4h0.8v0.8h-0.8zM103.7 57.9h0.8v0.8h-0.8zM96.8 67.8h0.8v0.8h-0.8zM82.6 77.3h0.8v0.8h-0.8zM95.7 62.2h0.8v0.8h-0.8zM113.6 48.2h0.8v0.8h-0.8zM112.6 48.2h0.8v0.8h-0.8zM102.3 62.0h0.8v0.8h-0.8zM81.3 74.7h0.8v0.8h-0.8zM85.8 76.8h0.8v0.8h-0.8zM99.9 61.0h0.8v0.8h-0.8zM101.4 53.5h0.8v0.8h-0.8zM101.2 59.9h0.8v0.8h-0.8zM86.2 79.5h0.8v0.8h-0.8zM94.0 69.5h0.8v0.8h-0.8zM108.6 52.9h0.8v0.8h-0.8zM77.5 77.4h0.8v0.8h-0.8zM102.8 56.8h0.8v0.8h-0.8zM84.9 76.4h0.8v0.8h-0.8zM81.2 76.7h0.8v0.8h-0.8zM108.4 47.6h0.8v0.8h-0.8zM83.5 79.6h0.8v0.8h-0.8zM101.4 54.2h0.8v0.8h-0.8zM88.8 68.9h0.8v0.8h-0.8zM105.3 53.5h0.8v0.8h-0.8zM93.2 75.1h0.8v0.8h-0.8zM87.1 72.8h0.8v0.8h-0.8zM88.4 67.5h0.8v0.8h-0.8zM89.0 72.4h0.8v0.8h-0.8zM91.8 61.1h0.8v0.8h-0.8zM84.6 75.8h0.8v0.8h-0.8zM87.9 76.0h0.8v0.8h-0.8zM101.0 57.4h0.8v0.8h-0.8zM84.4 75.2h0.8v0.8h-0.8zM110.1 47.4h0.8v0.8h-0.8zM99.7 61.4h0.8v0.8h-0.8zM95.8 60.4h0.8v0.8h-0.8zM83.7 78.7h0.8v0.8h-0.8zM82.4 77.8h0.8v0.8h-0.8zM105.1 59.3h0.8v0.8h-0.8zM115.5 47.2h0.8v0.8h-0.8zM85.7 74.2h0.8v0.8h-0.8zM85.2 77.5h0.8v0.8h-0.8zM80.9 81.2h0.8v0.8h-0.8zM91.4 69.8h0.8v0.8h-0.8zM90.0 69.7h0.8v0.8h-0.8zM102.9 54.9h0.8v0.8h-0.8zM89.4 68.5h0.8v0.8h-0.8zM84.7 72.5h0.8v0.8h-0.8zM81.1 78.8h0.8v0.8h-0.8zM87.2 75.1h0.8v0.8h-0.8zM94.9 70.7h0.8v0.8h-0.8zM84.5 77.2h0.8v0.8h-0.8zM96.9 66.1h0.8v0.8h-0.8zM96.0 70.4h0.8v0.8h-0.8zM80.3 74.9h0.8v0.8h-0.8zM88.8 77.8h0.8v0.8h-0.8zM80.2 79.3h0.8v0.8h-0.8zM82.3 76.5h0.8v0.8h-0.8zM90.9 70.3h0.8v0.8h-0.8zM85.0 67.0h0.8v0.8h-0.8zM92.1 68.3h0.8v0.8h-0.8zM87.3 75.7h0.8v0.8h-0.8zM102.0 52.5h0.8v0.8h-0.8zM87.0 76.2h0.8v0.8h-0.8zM83.0 82.4h0.8v0.8h-0.8zM88.1 75.7h0.8v0.8h-0.8zM91.9 70.7h0.8v0.8h-0.8zM85.9 74.5h0.8v0.8h-0.8zM101.5 57.7h0.8v0.8h-0.8zM115.1 50.1h0.8v0.8h-0.8zM96.7 62.5h0.8v0.8h-0.8zM104.0 48.9h0.8v0.8h-0.8zM83.4 79.5h0.8v0.8h-0.8zM111.1 49.5h0.8v0.8h-0.8zM80.0 78.3h0.8v0.8h-0.8zM93.7 62.7h0.8v0.8h-0.8zM83.0 79.8h0.8v0.8h-0.8zM94.2 69.4h0.8v0.8h-0.8zM83.0 80.9h0.8v0.8h-0.8zM81.1 75.9h0.8v0.8h-0.8zM79.9 77.7h0.8v0.8h-0.8zM92.3 75.3h0.8v0.8h-0.8zM95.6 71.9h0.8v0.8h-0.8zM84.2 80.4h0.8v0.8h-0.8zM89.7 75.8h0.8v0.8h-0.8zM91.7 67.4h0.8v0.8h-0.8zM79.6 80.3h0.8v0.8h-0.8zM89.7 64.2h0.8v0.8h-0.8zM94.3 63.4h0.8v0.8h-0.8zM83.0 77.1h0.8v0.8h-0.8zM95.5 61.0h0.8v0.8h-0.8zM87.6 75.8h0.8v0.8h-0.8zM85.1 80.1h0.8v0.8h-0.8zM80.4 80.1h0.8v0.8h-0.8zM93.2 64.1h0.8v0.8h-0.8zM91.6 74.3h0.8v0.8h-0.8zM104.3 53.0h0.8v0.8h-0.8zM98.0 59.5h0.8v0.8h-0.8zM89.5 72.6h0.8v0.8h-0.8zM87.2 72.7h0.8v0.8h-0.8zM95.9 65.4h0.8v0.8h-0.8zM90.0 70.3h0.8v0.8h-0.8zM111.4 46.1h0.8v0.8h-0.8zM87.1 76.1h0.8v0.8h-0.8zM90.0 67.1h0.8v0.8h-0.8zM80.0 77.7h0.8v0.8h-0.8zM86.5 71.0h0.8v0.8h-0.8zM106.1 60.7h0.8v0.8h-0.8zM110.1 56.3h0.8v0.8h-0.8zM104.8 53.2h0.8v0.8h-0.8zM94.7 67.7h0.8v0.8h-0.8zM83.2 79.6h0.8v0.8h-0.8zM104.8 58.1h0.8v0.8h-0.8zM84.7 80.3h0.8v0.8h-0.8zM85.1 76.3h0.8v0.8h-0.8zM81.9 81.1h0.8v0.8h-0.8zM87.1 75.6h0.8v0.8h-0.8zM100.7 58.1h0.8v0.8h-0.8zM84.0 80.4h0.8v0.8h-0.8zM78.5 78.4h0.8v0.8h-0.8zM94.5 73.3h0.8v0.8h-0.8zM75.9 76.4h0.8v0.8h-0.8zM83.4 81.7h0.8v0.8h-0.8zM81.1 77.6h0.8v0.8h-0.8zM98.0 59.4h0.8v0.8h-0.8zM103.4 56.9h0.8v0.8h-0.8zM100.7 57.2h0.8v0.8h-0.8zM87.5 73.4h0.8v0.8h-0.8zM91.1 75.3h0.8v0.8h-0.8zM106.1 53.0h0.8v0.8h-0.8zM85.3 71.4h0.8v0.8h-0.8zM94.0 68.2h0.8v0.8h-0.8zM85.1 81.1h0.8v0.8h-0.8zM92.7 69.8h0.8v0.8h-0.8zM81.8 77.7h0.8v0.8h-0.8zM90.7 68.7h0.8v0.8h-0.8zM109.5 47.0h0.8v0.8h-0.8zM88.0 70.6h0.8v0.8h-0.8zM81.7 77.2h0.8v0.8h-0.8zM86.4 80.8h0.8v0.8h-0.8zM89.4 63.7h0.8v0.8h-0.8zM81.5 78.9h0.8v0.8h-0.8zM103.0 54.5h0.8v0.8h-0.8zM89.2 72.5h0.8v0.8h-0.8zM83.6 77.5h0.8v0.8h-0.8zM113.9 46.0h0.8v0.8h-0.8zM81.0 74.4h0.8v0.8h-0.8z" fill="#000" fill-opacity="0.7"/>
<path d="M104.3 53.0h0.8v0.8h-0.8zM106.8 48.5h0.8v0.8h-0.8zM105.0 53.1h0.8v0.8h-0.8zM100.2 56.0h0.8v0.8h-0.8zM121.7 44.0h0.8v0.8h-0.8zM103.3 59.7h0.8v0.8h-0.8zM109.3 56.5h0.8v0.8h-0.8zM102.6 50.0h0.8v0.8h-0.8zM103.1 56.5h0.8v0.8h-0.8zM110.7 49.9h0.8v0.8h-0.8zM105.5 57.3h0.8v0.8h-0.8zM117.3 46.3h0.8v0.8h-0.8zM117.2 52.5h0.8v0.8h-0.8zM113.8 38.6h0.8v0.8h-0.8zM111.9 48.5h0.8v0.8h-0.8zM115.8 44.1h0.8v0.8h-0.8zM113.6 51.3h0.8v0.8h-0.8zM105.4 55.0h0.8v0.8h-0.8zM113.6 45.2h0.8v0.8h-0.8zM114.3 46.0h0.8v0.8h-0.8zM106.5 51.6h0.8v0.8h-0.8zM116.3 46.7h0.8v0.8h-0.8zM105.6 53.5h0.8v0.8h-0.8zM106.5 50.6h0.8v0.8h-0.8zM98.7 59.7h0.8v0.8h-0.8zM106.0 52.9h0.8v0.8h-0.8zM102.3 58.4h0.8v0.8h-0.8zM103.9 59.8h0.8v0.8h-0.8zM110.5 47.8h0.8v0.8h-0.8zM114.5 47.0h0.8v0.8h-0.8zM113.6 49.8h0.8v0.8h-0.8zM110.5 47.0h0.8v0.8h-0.8zM107.7 58.0h0.8v0.8h-0.8zM107.9 54.2h0.8v0.8h-0.8zM110.9 46.6h0.8v0.8h-0.8zM100.5 56.6h0.8v0.8h-0.8zM106.2 55.3h0.8v0.8h-0.8zM102.7 57.4h0.8v0.8h-0.8zM99.1 59.3h0.8v0.8h-0.8zM107.1 53.3h0.8v0.8h-0.8zM112.2 50.6h0.8v0.8h-0.8zM106.8 51.9h0.8v0.8h-0.8zM100.5 59.2h0.8v0.8h-0.8zM99.9 60.0h0.8v0.8h-0.8zM97.8 58.7h0.8v0.8h-0.8zM99.2 60.0h0.8v0.8h-0.8zM107.7 54.0h0.8v0.8h-0.8zM105.6 54.1h0.8v0.8h-0.8zM104.4 49.2h0.8v0.8h-0.8zM115.0 47.5h0.8v0.8h-0.8zM107.5 53.6h0.8v0.8h-0.8zM114.8 48.1h0.8v0.8h-0.8zM100.0 59.1h0.8v0.8h-0.8zM113.3 51.1h0.8v0.8h-0.8zM104.3 54.4h0.8v0.8h-0.8zM111.6 46.0h0.8v0.8h-0.8zM107.0 55.9h0.8v0.8h-0.8zM116.6 46.3h0.8v0.8h-0.8zM103.3 62.0h0.8v0.8h-0.8zM110.0 50.0h0.8v0.8h-0.8zM120.9 42.9h0.8v0.8h-0.8zM113.4 48.9h0.8v0.8h-0.8zM119.5 42.0h0.8v0.8h-0.8zM115.7 46.7h0.8v0.8h-0.8zM114.2 43.0h0.8v0.8h-0.8zM96.7 58.2h0.8v0.8h-0.8zM103.7 63.8h0.8v0.8h-0.8zM110.3 52.6h0.8v0.8h-0.8zM106.8 52.6h0.8v0.8h-0.8zM101.5 62.4h0.8v0.8h-0.8zM112.8 49.2h0.8v0.8h-0.8zM111.7 47.7h0.8v0.8h-0.8zM104.6 50.9h0.8v0.8h-0.8zM104.9 51.3h0.8v0.8h-0.8zM101.0 60.3h0.8v0.8h-0.8zM99.1 60.8h0.8v0.8h-0.8zM100.0 61.5h0.8v0.8h-0.8zM106.8 54.0h0.8v0.8h-0.8zM105.1 59.1h0.8v0.8h-0.8zM106.6 59.6h0.8v0.8h-0.8zM114.7 46.6h0.8v0.8h-0.8zM100.5 56.4h0.8v0.8h-0.8zM103.7 53.9h0.8v0.8h-0.8zM116.7 49.7h0.8v0.8h-0.8zM107.6 53.2h0.8v0.8h-0.8zM110.2 52.1h0.8v0.8h-0.8zM106.4 52.9h0.8v0.8h-0.8zM104.1 59.9h0.8v0.8h-0.8zM99.4 57.8h0.8v0.8h-0.8zM117.4 43.4h0.8v0.8h-0.8zM100.5 57.8h0.8v0.8h-0.8zM105.5 51.8h0.8v0.8h-0.8zM110.3 56.5h0.8v0.8h-0.8zM114.4 46.4h0.8v0.8h-0.8zM96.9 58.3h0.8v0.8h-0.8zM110.5 49.5h0.8v0.8h-0.8zM97.6 59.2h0.8v0.8h-0.8zM104.8 54.0h0.8v0.8h-0.8zM106.0 55.9h0.8v0.8h-0.8zM107.4 51.9h0.8v0.8h-0.8zM105.0 51.6h0.8v0.8h-0.8zM107.4 48.4h0.8v0.8h-0.8zM102.0 53.3h0.8v0.8h-0.8zM109.3 54.7h0.8v0.8h-0.8zM106.6 50.8h0.8v0.8h-0.8zM116.3 48.5h0.8v0.8h-0.8zM100.1 60.6h0.8v0.8h-0.8zM102.7 58.2h0.8v0.8h-0.8zM114.6 43.3h0.8v0.8h-0.8zM104.7 54.4h0.8v0.8h-0.8zM98.6 57.4h0.8v0.8h-0.8zM116.7 45.5h0.8v0.8h-0.8zM109.6 47.7h0.8v0.8h-0.8zM104.1 54.8h0.8v0.8h-0.8zM107.2 53.0h0.8v0.8h-0.8zM116.0 48.2h0.8v0.8h-0.8zM104.1 54.2h0.8v0.8h-0.8zM101.2 57.9h0.8v0.8h-0.8zM102.7 54.9h0.8v0.8h-0.8zM114.4 45.8h0.8v0.8h-0.8zM100.3 60.9h0.8v0.8h-0.8zM107.9 51.0h0.8v0.8h-0.8zM106.8 51.9h0.8v0.8h-0.8zM113.4 44.3h0.8v0.8h-0.8zM100.8 53.0h0.8v0.8h-0.8zM106.2 56.1h0.8v0.8h-0.8zM99.4 54.0h0.8v0.8h-0.8zM122.5 47.6h0.8v0.8h-0.8zM113.2 43.6h0.8v0.8h-0.8zM110.4 52.6h0.8v0.8h-0.8zM107.1 46.3h0.8v0.8h-0.8zM119.3 43.7h0.8v0.8h-0.8zM104.8 51.8h0.8v0.8h-0.8zM104.1 59.5h0.8v0.8h-0.8zM117.5 46.4h0.8v0.8h-0.8zM98.2 59.4h0.8v0.8h-0.8zM98.6 58.8h0.8v0.8h-0.8zM115.4 47.1h0.8v0.8h-0.8zM99.2 52.9h0.8v0.8h-0.8zM113.7 47.5h0.8v0.8h-0.8zM106.0 48.9h0.8v0.8h-0.8zM105.4 58.3h0.8v0.8h-0.8zM109.1 54.4h0.8v0.8h-0.8zM102.9 57.0h0.8v0.8h-0.8zM107.1 56.5h0.8v0.8h-0.8zM101.0 57.7h0.8v0.8h-0.8zM109.5 58.0h0.8v0.8h-0.8zM100.3 59.4h0.8v0.8h-0.8zM111.8 50.3h0.8v0.8h-0.8zM118.6 44.7h0.8v0.8h-0.8zM99.5 60.1h0.8v0.8h-0.8zM108.1 52.8h0.8v0.8h-0.8zM107.2 54.5h0.8v0.8h-0.8zM99.1 58.4h0.8v0.8h-0.8zM115.4 43.7h0.8v0.8h-0.8zM116.8 42.0h0.8v0.8h-0.8zM107.7 48.0h0.8v0.8h-0.8zM104.7 55.7h0.8v0.8h-0.8zM115.2 42.0h0.8v0.8h-0.8zM114.1 47.4h0.8v0.8h-0.8zM100.0 58.2h0.8v0.8h-0.8zM114.8 43.5h0.8v0.8h-0.8zM104.9 57.1h0.8v0.8h-0.8zM106.2 59.1h0.8v0.8h-0.8zM107.5 57.0h0.8v0.8h-0.8zM101.9 61.6h0.8v0.8h-0.8zM115.4 42.7h0.8v0.8h-0.8zM116.4 44.1h0.8v0.8h-0.8zM112.7 48.4h0.8v0.8h-0.8zM116.9 41.5h0.8v0.8h-0.8zM102.3 55.5h0.8v0.8h-0.8zM109.1 46.3h0.8v0.8h-0.8zM102.6 59.7h0.8v0.8h-0.8zM118.3 39.9h0.8v0.8h-0.8zM105.7 52.0h0.8v0.8h-0.8zM107.6 55.8h0.8v0.8h-0.8zM103.9 55.9h0.8v0.8h-0.8zM110.0 53.2h0.8v0.8h-0.8zM101.7 59.3h0.8v0.8h-0.8zM104.0 54.8h0.8v0.8h-0.8zM104.5 61.5h0.8v0.8h-0.8zM109.1 54.0h0.8v0.8h-0.8zM103.6 59.4h0.8v0.8h-0.8zM111.2 48.6h0.8v0.8h-0.8zM104.5 58.2h0.8v0.8h-0.8zM105.3 53.6h0.8v0.8h-0.8zM115.2 47.8h0.8v0.8h-0.8zM110.9 51.0h0.8v0.8h-0.8zM109.8 48.3h0.8v0.8h-0.8zM112.8 46.3h0.8v0.8h-0.8zM105.1 54.6h0.8v0.8h-0.8zM107.9 52.4h0.8v0.8h-0.8zM102.4 54.4h0.8v0.8h-0.8zM114.8 40.6h0.8v0.8h-0.8zM100.7 60.8h0.8v0.8h-0.8zM113.6 48.9h0.8v0.8h-0.8zM112.4 51.2h0.8v0.8h-0.8zM102.2 52.2h0.8v0.8h-0.8zM113.6 49.5h0.8v0.8h-0.8zM108.5 56.2h0.8v0.8h-0.8zM117.7 41.4h0.8v0.8h-0.8zM99.4 57.3h0.8v0.8h-0.8zM101.9 62.5h0.8v0.8h-0.8zM101.6 59.1h0.8v0.8h-0.8zM114.5 50.4h0.8v0.8h-0.8zM120.0 42.3h0.8v0.8h-0.8zM105.3 49.4h0.8v0.8h-0.8zM106.7 53.0h0.8v0.8h-0.8zM117.9 43.0h0.8v0.8h-0.8zM105.1 54.9h0.8v0.8h-0.8zM100.4 58.9h0.8v0.8h-0.8zM103.8 56.8h0.8v0.8h-0.8zM110.0 54.2h0.8v0.8h-0.8zM102.9 61.4h0.8v0.8h-0.8zM103.1 50.4h0.8v0.8h-0.8zM101.1 61.7h0.8v0.8h-0.8zM113.9 42.1h0.8v0.8h-0.8zM105.9 56.7h0.8v0.8h-0.8zM107.9 47.8h0.8v0.8h-0.8zM106.2 51.7h0.8v0.8h-0.8zM104.5 56.4h0.8v0.8h-0.8zM112.0 41.3h0.8v0.8h-0.8zM115.4 47.8h0.8v0.8h-0.8zM101.0 60.1h0.8v0.8h-0.8zM101.6 61.6h0.8v0.8h-0.8zM119.9 42.8h0.8v0.8h-0.8zM104.1 57.3h0.8v0.8h-0.8zM111.1 52.3h0.8v0.8h-0.8zM105.7 55.6h0.8v0.8h-0.8zM98.2 56.7h0.8v0.8h-0.8zM107.5 58.6h0.8v0.8h-0.8zM121.3 42.9h0.8v0.8h-0.8zM110.1 53.3h0.8v0.8h-0.8zM101.6 60.2h0.8v0.8h-0.8zM110.9 45.7h0.8v0.8h-0.8zM103.3 54.5h0.8v0.8h-0.8zM98.9 59.7h0.8v0.8h-0.8zM101.6 57.9h0.8v0.8h-0.8zM108.5 43.6h0.8v0.8h-0.8zM103.1 60.9h0.8v0.8h-0.8zM110.9 53.2h0.8v0.8h-0.8zM109.4 50.9h0.8v0.8h-0.8zM99.5 60.1h0.8v0.8h-0.8zM115.0 45.9h0.8v0.8h-0.8zM106.5 56.5h0.8v0.8h-0.8zM115.9 48.6h0.8v0.8h-0.8zM111.6 49.5h0.8v0.8h-0.8zM106.5 56.1h0.8v0.8h-0.8zM109.7 52.1h0.8v0.8h-0.8zM107.7 56.2h0.8v0.8h-0.8zM107.9 47.7h0.8v0.8h-0.8zM100.5 58.2h0.8v0.8h-0.8zM101.9 52.1h0.8v0.8h-0.8zM111.3 50.6h0.8v0.8h-0.8zM99.2 60.9h0.8v0.8h-0.8zM102.9 58.2h0.8v0.8h-0.8zM104.3 55.9h0.8v0.8h-0.8zM113.9 47.1h0.8v0.8h-0.8zM111.9 48.8h0.8v0.8h-0.8zM116.0 50.8h0.8v0.8h-0.8zM106.2 55.0h0.8v0.8h-0.8zM110.2 47.5h0.8v0.8h-0.8zM117.0 49.6h0.8v0.8h-0.8zM101.3 60.1h0.8v0.8h-0.8zM111.1 47.0h0.8v0.8h-0.8zM117.3 38.4h0.8v0.8h-0.8zM117.3 43.0h0.8v0.8h-0.8zM99.2 59.6h0.8v0.8h-0.8zM98.0 56.3h0.8v0.8h-0.8zM114.8 40.9h0.8v0.8h-0.8zM105.1 56.6h0.8v0.8h-0.8zM116.2 45.9h0.8v0.8h-0.8zM110.5 46.2h0.8v0.8h-0.8zM108.0 51.4h0.8v0.8h-0.8zM102.1 59.9h0.8v0.8h-0.8zM114.7 46.1h0.8v0.8h-0.8zM105.6 53.5h0.8v0.8h-0.8zM102.4 58.5h0.8v0.8h-0.8zM107.3 53.7h0.8v0.8h-0.8zM117.5 43.4h0.8v0.8h-0.8zM117.2 47.9h0.8v0.8h-0.8zM104.2 50.1h0.8v0.8h-0.8zM108.8 47.2h0.8v0.8h-0.8zM103.7 51.4h0.8v0.8h-0.8zM101.6 59.1h0.8v0.8h-0.8zM104.2 55.6h0.8v0.8h-0.8zM108.8 49.4h0.8v0.8h-0.8zM102.9 54.6h0.8v0.8h-0.8zM103.6 62.8h0.8v0.8h-0.8zM104.5 54.6h0.8v0.8h-0.8zM116.1 47.4h0.8v0.8h-0.8zM105.4 55.1h0.8v0.8h-0.8zM108.6 53.8h0.8v0.8h-0.8zM112.7 41.6h0.8v0.8h-0.8zM100.7 57.7h0.8v0.8h-0.8zM105.9 54.4h0.8v0.8h-0.8zM113.6 41.7h0.8v0.8h-0.8zM99.8 60.7h0.8v0.8h-0.8zM102.5 60.2h0.8v0.8h-0.8zM108.1 52.7h0.8v0.8h-0.8zM110.8 50.5h0.8v0.8h-0.8zM105.4 54.6h0.8v0.8h-0.8zM99.5 57.9h0.8v0.8h-0.8zM101.8 58.8h0.8v0.8h-0.8zM100.5 60.0h0.8v0.8h-0.8zM105.8 50.9h0.8v0.8h-0.8zM101.1 58.2h0.8v0.8h-0.8zM108.3 48.6h0.8v0.8h-0.8zM111.1 48.6h0.8v0.8h-0.8zM110.5 54.0h0.8v0.8h-0.8zM105.6 58.4h0.8v0.8h-0.8zM113.0 52.7h0.8v0.8h-0.8zM103.8 52.5h0.8v0.8h-0.8zM101.2 57.7h0.8v0.8h-0.8zM108.8 53.0h0.8v0.8h-0.8zM108.9 54.6h0.8v0.8h-0.8zM109.1 49.8h0.8v0.8h-0.8zM100.1 60.7h0.8v0.8h-0.8zM115.1 43.9h0.8v0.8h-0.8zM110.3 52.7h0.8v0.8h-0.8zM114.7 49.2h0.8v0.8h-0.8zM101.6 53.3h0.8v0.8h-0.8zM116.0 47.3h0.8v0.8h-0.8zM108.7 51.5h0.8v0.8h-0.8zM100.9 54.8h0.8v0.8h-0.8zM121.8 44.4h0.8v0.8h-0.8zM106.0 51.8h0.8v0.8h-0.8zM107.0 52.9h0.8v0.8h-0.8zM105.3 55.4h0.8v0.8h-0.8zM105.8 53.4h0.8v0.8h-0.8zM120.9 43.1h0.8v0.8h-0.8zM110.6 57.0h0.8v0.8h-0.8zM101.2 52.7h0.8v0.8h-0.8zM105.0 56.2h0.8v0.8h-0.8zM111.8 45.3h0.8v0.8h-0.8zM111.5 44.9h0.8v0.8h-0.8zM107.7 51.5h0.8v0.8h-0.8zM103.7 55.0h0.8v0.8h-0.8zM109.0 48.7h0.8v0.8h-0.8zM102.4 52.5h0.8v0.8h-0.8zM110.0 48.5h0.8v0.8h-0.8zM100.7 55.3h0.8v0.8h-0.8zM108.4 52.7h0.8v0.8h-0.8zM106.7 54.9h0.8v0.8h-0.8zM110.2 49.7h0.8v0.8h-0.8zM114.7 44.0h0.8v0.8h-0.8zM99.0 59.5h0.8v0.8h-0.8zM105.1 48.5h0.8v0.8h-0.8zM99.9 57.5h0.8v0.8h-0.8zM112.3 47.5h0.8v0.8h-0.8zM110.8 42.6h0.8v0.8h-0.8zM105.8 53.3h0.8v0.8h-0.8zM106.4 52.6h0.8v0.8h-0.8zM102.3 56.2h0.8v0.8h-0.8zM106.6 54.7h0.8v0.8h-0.8zM113.9 49.8h0.8v0.8h-0.8zM112.9 46.7h0.8v0.8h-0.8zM110.9 50.2h0.8v0.8h-0.8zM101.8 61.4h0.8v0.8h-0.8zM99.5 60.3h0.8v0.8h-0.8zM107.4 53.4h0.8v0.8h-0.8zM110.5 51.7h0.8v0.8h-0.8zM102.8 63.4h0.8v0.8h-0.8zM108.6 52.1h0.8v0.8h-0.8zM112.7 41.5h0.8v0.8h-0.8zM106.0 51.2h0.8v0.8h-0.8zM107.1 49.4h0.8v0.8h-0.8zM101.6 58.8h0.8v0.8h-0.8zM101.7 55.0h0.8v0.8h-0.8zM106.9 55.6h0.8v0.8h-0.8zM119.5 42.1h0.8v0.8h-0.8zM103.7 54.7h0.8v0.8h-0.8zM121.9 42.8h0.8v0.8h-0.8zM112.6 47.3h0.8v0.8h-0.8zM114.0 45.1h0.8v0.8h-0.8zM103.7 50.8h0.8v0.8h-0.8zM110.9 51.6h0.8v0.8h-0.8zM114.5 44.2h0.8v0.8h-0.8zM112.6 49.6h0.8v0.8h-0.8zM114.8 47.1h0.8v0.8h-0.8zM108.7 60.6h0.8v0.8h-0.8zM117.3 45.9h0.8v0.8h-0.8zM112.6 43.6h0.8v0.8h-0.8zM113.4 44.9h0.8v0.8h-0.8zM110.7 48.8h0.8v0.8h-0.8zM110.0 41.8h0.8v0.8h-0.8zM107.1 51.2h0.8v0.8h-0.8zM104.0 60.4h0.8v0.8h-0.8zM112.5 48.3h0.8v0.8h-0.8zM106.2 54.1h0.8v0.8h-0.8zM99.6 55.3h0.8v0.8h-0.8zM107.0 56.2h0.8v0.8h-0.8zM109.4 49.3h0.8v0.8h-0.8zM100.0 56.9h0.8v0.8h-0.8zM103.6 59.4h0.8v0.8h-0.8zM102.8 57.1h0.8v0.8h-0.8zM106.3 60.7h0.8v0.8h-0.8zM100.4 59.6h0.8v0.8h-0.8zM118.2 49.2h0.8v0.8h-0.8zM103.4 58.1h0.8v0.8h-0.8zM104.8 49.6h0.8v0.8h-0.8zM101.1 57.8h0.8v0.8h-0.8zM102.1 57.9h0.8v0.8h-0.8zM113.6 45.9h0.8v0.8h-0.8zM109.3 43.5h0.8v0.8h-0.8zM107.0 51.2h0.8v0.8h-0.8zM100.1 56.6h0.8v0.8h-0.8zM105.3 56.3h0.8v0.8h-0.8zM109.1 52.5h0.8v0.8h-0.8zM108.6 55.1h0.8v0.8h-0.8zM109.3 51.4h0.8v0.8h-0.8zM101.6 61.0h0.8v0.8h-0.8zM99.9 57.0h0.8v0.8h-0.8zM100.2 57.9h0.8v0.8h-0.8zM103.4 57.2h0.8v0.8h-0.8zM107.7 54.3h0.8v0.8h-0.8zM107.8 62.1h0.8v0.8h-0.8zM108.7 53.4h0.8v0.8h-0.8zM100.1 59.2h0.8v0.8h-0.8zM104.1 53.9h0.8v0.8h-0.8zM117.3 53.1h0.8v0.8h-0.8zM109.8 58.4h0.8v0.8h-0.8zM104.2 55.4h0.8v0.8h-0.8zM106.0 57.7h0.8v0.8h-0.8zM117.8 43.0h0.8v0.8h-0.8zM108.4 53.3h0.8v0.8h-0.8zM104.4 53.9h0.8v0.8h-0.8zM103.4 63.0h0.8v0.8h-0.8zM107.3 54.8h0.8v0.8h-0.8zM104.5 52.5h0.8v0.8h-0.8zM113.7 45.6h0.8v0.8h-0.8zM109.2 53.7h0.8v0.8h-0.8zM104.2 54.4h0.8v0.8h-0.8zM115.5 43.6h0.8v0.8h-0.8zM107.5 55.6h0.8v0.8h-0.8zM108.7 49.1h0.8v0.8h-0.8zM101.0 56.9h0.8v0.8h-0.8zM116.3 44.2h0.8v0.8h-0.8zM99.6 57.5h0.8v0.8h-0.8zM102.4 61.8h0.8v0.8h-0.8zM103.2 54.4h0.8v0.8h-0.8zM106.5 54.4h0.8v0.8h-0.8zM103.5 59.9h0.8v0.8h-0.8zM110.7 51.5h0.8v0.8h-0.8zM98.5 57.8h0.8v0.8h-0.8zM103.1 59.0h0.8v0.8h-0.8zM107.5 53.9h0.8v0.8h-0.8zM104.5 57.9h0.8v0.8h-0.8zM114.2 48.6h0.8v0.8h-0.8zM104.0 53.0h0.8v0.8h-0.8z" fill="#222" fill-opacity="0.65"/>
<path d="M86.2 74.9h0.7v0.7h-0.7zM89.0 75.3h0.7v0.7h-0.7zM84.1 82.3h0.7v0.7h-0.7zM77.5 80.1h0.7v0.7h-0.7zM91.0 67.4h0.7v0.7h-0.7zM88.8 72.4h0.7v0.7h-0.7zM93.0 67.5h0.7v0.7h-0.7zM85.6 74.2h0.7v0.7h-0.7zM83.3 78.6h0.7v0.7h-0.7zM77.3 79.3h0.7v0.7h-0.7zM85.7 72.6h0.7v0.7h-0.7zM90.3 70.5h0.7v0.7h-0.7zM95.1 70.9h0.7v0.7h-0.7zM81.8 74.0h0.7v0.7h-0.7zM83.4 78.7h0.7v0.7h-0.7zM83.8 80.2h0.7v0.7h-0.7zM90.2 65.8h0.7v0.7h-0.7zM87.7 71.0h0.7v0.7h-0.7zM89.9 77.4h0.7v0.7h-0.7zM95.0 71.0h0.7v0.7h-0.7zM90.3 71.5h0.7v0.7h-0.7zM88.6 76.1h0.7v0.7h-0.7zM90.3 70.7h0.7v0.7h-0.7zM83.9 67.6h0.7v0.7h-0.7zM84.6 65.7h0.7v0.7h-0.7zM83.6 77.0h0.7v0.7h-0.7zM87.6 70.1h0.7v0.7h-0.7zM79.4 78.1h0.7v0.7h-0.7zM79.4 81.5h0.7v0.7h-0.7zM88.5 77.0h0.7v0.7h-0.7zM88.0 68.7h0.7v0.7h-0.7zM82.2 78.9h0.7v0.7h-0.7zM90.9 67.9h0.7v0.7h-0.7zM84.2 73.8h0.7v0.7h-0.7zM89.8 73.4h0.7v0.7h-0.7zM88.5 66.1h0.7v0.7h-0.7zM90.2 69.9h0.7v0.7h-0.7zM87.8 71.8h0.7v0.7h-0.7zM83.4 78.5h0.7v0.7h-0.7zM80.0 78.1h0.7v0.7h-0.7zM85.3 71.7h0.7v0.7h-0.7zM88.2 74.1h0.7v0.7h-0.7zM86.4 72.0h0.7v0.7h-0.7zM85.2 76.8h0.7v0.7h-0.7zM83.3 81.4h0.7v0.7h-0.7zM92.8 68.6h0.7v0.7h-0.7zM87.5 70.8h0.7v0.7h-0.7zM87.8 70.7h0.7v0.7h-0.7zM77.1 79.8h0.7v0.7h-0.7zM87.6 75.2h0.7v0.7h-0.7zM86.9 74.5h0.7v0.7h-0.7zM79.5 80.7h0.7v0.7h-0.7zM80.7 77.7h0.7v0.7h-0.7zM81.1 79.8h0.7v0.7h-0.7zM89.3 74.3h0.7v0.7h-0.7zM94.1 71.5h0.7v0.7h-0.7zM85.9 70.5h0.7v0.7h-0.7zM81.5 75.3h0.7v0.7h-0.7zM92.2 70.4h0.7v0.7h-0.7zM84.1 71.2h0.7v0.7h-0.7zM90.8 69.8h0.7v0.7h-0.7zM86.4 72.5h0.7v0.7h-0.7zM78.7 77.5h0.7v0.7h-0.7zM85.7 76.4h0.7v0.7h-0.7zM83.8 79.3h0.7v0.7h-0.7zM86.2 80.2h0.7v0.7h-0.7zM78.8 80.6h0.7v0.7h-0.7zM89.2 69.6h0.7v0.7h-0.7zM85.4 72.1h0.7v0.7h-0.7zM82.2 76.2h0.7v0.7h-0.7zM88.9 71.1h0.7v0.7h-0.7zM83.6 73.0h0.7v0.7h-0.7zM81.4 82.6h0.7v0.7h-0.7zM89.8 69.3h0.7v0.7h-0.7zM89.6 69.0h0.7v0.7h-0.7zM86.9 73.9h0.7v0.7h-0.7zM85.1 69.4h0.7v0.7h-0.7zM86.1 72.8h0.7v0.7h-0.7zM80.5 75.4h0.7v0.7h-0.7zM77.8 79.6h0.7v0.7h-0.7zM88.4 72.6h0.7v0.7h-0.7zM79.4 74.5h0.7v0.7h-0.7zM87.6 69.0h0.7v0.7h-0.7zM83.1 77.3h0.7v0.7h-0.7zM84.5 76.4h0.7v0.7h-0.7zM93.7 70.2h0.7v0.7h-0.7zM80.4 80.6h0.7v0.7h-0.7zM82.9 78.4h0.7v0.7h-0.7zM88.4 71.2h0.7v0.7h-0.7zM85.6 76.3h0.7v0.7h-0.7zM90.4 68.0h0.7v0.7h-0.7zM80.5 80.3h0.7v0.7h-0.7zM81.5 84.4h0.7v0.7h-0.7zM91.2 70.8h0.7v0.7h-0.7zM82.4 81.1h0.7v0.7h-0.7zM84.9 79.9h0.7v0.7h-0.7zM81.9 79.5h0.7v0.7h-0.7zM83.4 73.9h0.7v0.7h-0.7zM93.9 70.3h0.7v0.7h-0.7zM89.2 78.1h0.7v0.7h-0.7zM89.5 71.4h0.7v0.7h-0.7zM75.7 74.6h0.7v0.7h-0.7zM87.5 74.9h0.7v0.7h-0.7zM81.3 78.2h0.7v0.7h-0.7zM82.5 79.4h0.7v0.7h-0.7zM81.6 75.9h0.7v0.7h-0.7zM81.8 73.7h0.7v0.7h-0.7zM89.4 71.5h0.7v0.7h-0.7zM78.0 78.4h0.7v0.7h-0.7zM84.3 79.9h0.7v0.7h-0.7zM92.5 67.1h0.7v0.7h-0.7zM86.0 78.7h0.7v0.7h-0.7zM78.5 81.3h0.7v0.7h-0.7zM92.5 70.0h0.7v0.7h-0.7zM78.2 81.5h0.7v0.7h-0.7zM86.0 78.2h0.7v0.7h-0.7zM88.7 70.9h0.7v0.7h-0.7zM92.3 67.7h0.7v0.7h-0.7zM92.7 69.6h0.7v0.7h-0.7zM93.8 69.3h0.7v0.7h-0.7zM89.3 75.1h0.7v0.7h-0.7zM93.5 68.1h0.7v0.7h-0.7zM81.3 77.8h0.7v0.7h-0.7zM83.5 77.4h0.7v0.7h-0.7zM87.9 71.9h0.7v0.7h-0.7zM85.6 70.4h0.7v0.7h-0.7zM91.2 70.2h0.7v0.7h-0.7zM79.8 79.6h0.7v0.7h-0.7zM82.6 75.0h0.7v0.7h-0.7zM86.9 71.7h0.7v0.7h-0.7zM79.1 80.0h0.7v0.7h-0.7zM85.9 74.3h0.7v0.7h-0.7zM88.2 65.5h0.7v0.7h-0.7zM79.0 81.7h0.7v0.7h-0.7zM91.5 70.1h0.7v0.7h-0.7zM88.1 70.2h0.7v0.7h-0.7zM82.1 72.7h0.7v0.7h-0.7zM79.3 76.3h0.7v0.7h-0.7zM90.0 70.2h0.7v0.7h-0.7zM82.4 75.2h0.7v0.7h-0.7zM87.0 71.7h0.7v0.7h-0.7zM80.3 79.9h0.7v0.7h-0.7zM88.7 69.4h0.7v0.7h-0.7zM91.0 67.1h0.7v0.7h-0.7zM91.9 67.9h0.7v0.7h-0.7zM90.1 64.3h0.7v0.7h-0.7zM80.1 81.7h0.7v0.7h-0.7zM88.1 67.4h0.7v0.7h-0.7zM78.5 74.8h0.7v0.7h-0.7zM76.5 76.8h0.7v0.7h-0.7z" fill="#000" fill-opacity="0.9"/>
<polygon points="71.5,81.5 86.5,81.5 94.0,72.5 97.5,68.0 94.0,67.5 84.0,71.5 76.5,77.0" fill="#000"/>
<polygon points="26.0,125.3 48.5,125.3 60.5,112.8 26.0,112.8" fill="#000"/>
<path d="M26.2 107.7h0.8v0.8h-0.8zM33.0 110.0h0.8v0.8h-0.8zM26.1 110.4h0.8v0.8h-0.8zM27.3 107.0h0.8v0.8h-0.8zM38.0 111.6h0.8v0.8h-0.8zM27.1 109.6h0.8v0.8h-0.8zM37.8 113.3h0.8v0.8h-0.8zM32.5 109.0h0.8v0.8h-0.8zM31.9 109.5h0.8v0.8h-0.8zM27.5 111.9h0.8v0.8h-0.8zM30.7 109.1h0.8v0.8h-0.8zM30.2 111.9h0.8v0.8h-0.8zM34.4 110.0h0.8v0.8h-0.8zM29.9 112.8h0.8v0.8h-0.8zM26.3 112.7h0.8v0.8h-0.8zM31.8 108.5h0.8v0.8h-0.8zM30.9 110.3h0.8v0.8h-0.8zM33.7 109.0h0.8v0.8h-0.8zM27.7 110.0h0.8v0.8h-0.8zM35.6 109.6h0.8v0.8h-0.8zM28.9 113.0h0.8v0.8h-0.8zM33.3 112.0h0.8v0.8h-0.8zM28.3 108.0h0.8v0.8h-0.8zM28.8 111.1h0.8v0.8h-0.8zM33.5 113.2h0.8v0.8h-0.8zM37.7 110.0h0.8v0.8h-0.8zM33.2 109.7h0.8v0.8h-0.8zM26.6 106.5h0.8v0.8h-0.8zM31.7 110.0h0.8v0.8h-0.8zM30.1 107.5h0.8v0.8h-0.8zM27.9 107.5h0.8v0.8h-0.8zM34.3 113.1h0.8v0.8h-0.8zM35.7 109.3h0.8v0.8h-0.8zM36.8 110.1h0.8v0.8h-0.8zM37.8 113.1h0.8v0.8h-0.8zM28.3 110.4h0.8v0.8h-0.8zM30.9 111.0h0.8v0.8h-0.8zM34.7 110.8h0.8v0.8h-0.8zM34.3 109.6h0.8v0.8h-0.8zM26.9 109.2h0.8v0.8h-0.8zM28.6 111.7h0.8v0.8h-0.8zM26.9 106.3h0.8v0.8h-0.8zM31.8 110.7h0.8v0.8h-0.8zM29.7 112.6h0.8v0.8h-0.8zM27.8 112.7h0.8v0.8h-0.8zM26.8 112.1h0.8v0.8h-0.8zM28.9 107.4h0.8v0.8h-0.8zM30.9 109.5h0.8v0.8h-0.8zM33.7 110.3h0.8v0.8h-0.8zM26.9 110.0h0.8v0.8h-0.8zM37.2 112.9h0.8v0.8h-0.8zM30.7 109.7h0.8v0.8h-0.8zM31.0 109.5h0.8v0.8h-0.8zM26.4 111.4h0.8v0.8h-0.8zM29.3 107.3h0.8v0.8h-0.8zM26.9 106.7h0.8v0.8h-0.8zM36.2 111.4h0.8v0.8h-0.8zM30.5 108.7h0.8v0.8h-0.8zM31.8 111.9h0.8v0.8h-0.8zM29.4 107.3h0.8v0.8h-0.8z" fill="#222" fill-opacity="0.6"/>
<path d="M29.6 95.3h0.7v0.7h-0.7zM30.8 101.3h0.7v0.7h-0.7zM30.0 108.2h0.7v0.7h-0.7zM29.3 102.6h0.7v0.7h-0.7zM33.7 98.7h0.7v0.7h-0.7zM35.3 99.5h0.7v0.7h-0.7zM34.4 95.9h0.7v0.7h-0.7zM37.1 105.4h0.7v0.7h-0.7zM36.9 108.9h0.7v0.7h-0.7zM37.1 106.6h0.7v0.7h-0.7zM30.6 107.7h0.7v0.7h-0.7zM34.7 106.9h0.7v0.7h-0.7zM37.1 99.6h0.7v0.7h-0.7zM29.5 97.7h0.7v0.7h-0.7zM30.4 111.2h0.7v0.7h-0.7zM36.5 107.8h0.7v0.7h-0.7zM35.3 97.4h0.7v0.7h-0.7zM27.8 102.9h0.7v0.7h-0.7zM31.4 106.0h0.7v0.7h-0.7zM29.7 110.3h0.7v0.7h-0.7zM30.3 107.5h0.7v0.7h-0.7zM31.3 93.6h0.7v0.7h-0.7zM36.9 109.3h0.7v0.7h-0.7zM29.9 111.4h0.7v0.7h-0.7zM34.7 97.9h0.7v0.7h-0.7zM34.3 109.7h0.7v0.7h-0.7zM26.9 102.6h0.7v0.7h-0.7zM35.6 107.4h0.7v0.7h-0.7zM28.4 111.7h0.7v0.7h-0.7zM31.5 95.0h0.7v0.7h-0.7zM35.2 109.3h0.7v0.7h-0.7zM28.8 104.4h0.7v0.7h-0.7zM31.9 104.2h0.7v0.7h-0.7zM27.6 111.5h0.7v0.7h-0.7zM29.6 112.0h0.7v0.7h-0.7zM27.1 108.3h0.7v0.7h-0.7zM35.4 99.0h0.7v0.7h-0.7zM33.3 102.4h0.7v0.7h-0.7zM29.4 108.9h0.7v0.7h-0.7zM34.3 103.6h0.7v0.7h-0.7zM28.7 109.3h0.7v0.7h-0.7zM27.2 100.6h0.7v0.7h-0.7zM36.9 103.2h0.7v0.7h-0.7zM30.1 100.1h0.7v0.7h-0.7zM29.7 111.3h0.7v0.7h-0.7zM31.1 102.8h0.7v0.7h-0.7zM29.1 108.3h0.7v0.7h-0.7zM36.5 111.0h0.7v0.7h-0.7zM29.6 103.9h0.7v0.7h-0.7zM27.0 109.0h0.7v0.7h-0.7zM34.5 95.8h0.7v0.7h-0.7zM28.5 106.8h0.7v0.7h-0.7zM30.6 105.5h0.7v0.7h-0.7zM28.3 111.1h0.7v0.7h-0.7zM36.4 99.2h0.7v0.7h-0.7zM27.1 100.4h0.7v0.7h-0.7zM28.9 109.8h0.7v0.7h-0.7zM31.0 102.9h0.7v0.7h-0.7zM33.3 98.3h0.7v0.7h-0.7zM35.6 102.0h0.7v0.7h-0.7zM36.4 106.6h0.7v0.7h-0.7zM32.8 106.0h0.7v0.7h-0.7zM34.7 100.7h0.7v0.7h-0.7zM36.3 109.5h0.7v0.7h-0.7zM34.7 108.1h0.7v0.7h-0.7zM31.6 107.4h0.7v0.7h-0.7zM33.4 102.7h0.7v0.7h-0.7zM29.7 93.1h0.7v0.7h-0.7zM26.8 99.1h0.7v0.7h-0.7zM26.7 101.8h0.7v0.7h-0.7zM35.2 96.3h0.7v0.7h-0.7zM35.1 98.3h0.7v0.7h-0.7zM28.6 107.0h0.7v0.7h-0.7zM35.9 107.5h0.7v0.7h-0.7zM32.6 107.1h0.7v0.7h-0.7zM37.0 106.6h0.7v0.7h-0.7zM36.8 99.1h0.7v0.7h-0.7zM29.1 93.2h0.7v0.7h-0.7zM35.5 103.6h0.7v0.7h-0.7zM32.3 111.3h0.7v0.7h-0.7zM28.1 102.2h0.7v0.7h-0.7zM32.1 101.3h0.7v0.7h-0.7zM30.3 109.2h0.7v0.7h-0.7zM30.7 99.5h0.7v0.7h-0.7zM27.7 96.5h0.7v0.7h-0.7zM33.2 111.0h0.7v0.7h-0.7zM30.7 102.7h0.7v0.7h-0.7zM30.0 95.5h0.7v0.7h-0.7zM33.4 110.8h0.7v0.7h-0.7zM37.2 105.5h0.7v0.7h-0.7zM35.8 103.0h0.7v0.7h-0.7zM28.8 94.1h0.7v0.7h-0.7zM34.2 110.5h0.7v0.7h-0.7zM28.2 100.7h0.7v0.7h-0.7zM28.3 94.0h0.7v0.7h-0.7zM33.5 102.9h0.7v0.7h-0.7zM29.0 109.0h0.7v0.7h-0.7zM37.2 100.1h0.7v0.7h-0.7zM29.7 97.8h0.7v0.7h-0.7zM34.4 97.1h0.7v0.7h-0.7zM34.3 96.2h0.7v0.7h-0.7zM32.4 95.9h0.7v0.7h-0.7zM35.7 104.1h0.7v0.7h-0.7zM28.7 95.4h0.7v0.7h-0.7zM28.0 102.9h0.7v0.7h-0.7zM35.2 109.5h0.7v0.7h-0.7zM30.3 106.8h0.7v0.7h-0.7zM28.7 102.8h0.7v0.7h-0.7zM32.2 100.6h0.7v0.7h-0.7zM34.1 98.9h0.7v0.7h-0.7z" fill="#777" fill-opacity="0.6"/>
<path d="M49.2 89.0h0.7v0.7h-0.7zM52.5 84.7h0.7v0.7h-0.7zM58.0 86.8h0.7v0.7h-0.7zM52.6 86.5h0.7v0.7h-0.7zM51.2 84.6h0.7v0.7h-0.7zM49.7 89.5h0.7v0.7h-0.7zM58.8 85.0h0.7v0.7h-0.7zM56.9 87.5h0.7v0.7h-0.7zM55.6 82.1h0.7v0.7h-0.7zM47.2 92.5h0.7v0.7h-0.7zM42.5 95.2h0.7v0.7h-0.7zM53.7 84.1h0.7v0.7h-0.7zM54.8 85.8h0.7v0.7h-0.7zM50.3 92.2h0.7v0.7h-0.7zM61.1 82.3h0.7v0.7h-0.7zM49.6 89.9h0.7v0.7h-0.7zM38.0 96.8h0.7v0.7h-0.7zM46.3 90.0h0.7v0.7h-0.7zM50.4 88.2h0.7v0.7h-0.7zM41.4 91.0h0.7v0.7h-0.7zM61.9 80.6h0.7v0.7h-0.7zM43.5 92.3h0.7v0.7h-0.7zM46.6 93.2h0.7v0.7h-0.7zM52.5 85.8h0.7v0.7h-0.7zM47.0 92.3h0.7v0.7h-0.7zM52.4 84.5h0.7v0.7h-0.7zM56.0 84.8h0.7v0.7h-0.7zM38.7 95.0h0.7v0.7h-0.7zM50.5 89.9h0.7v0.7h-0.7zM58.1 86.2h0.7v0.7h-0.7zM58.6 82.7h0.7v0.7h-0.7zM38.5 97.5h0.7v0.7h-0.7zM61.0 83.7h0.7v0.7h-0.7zM56.4 83.7h0.7v0.7h-0.7zM46.6 87.2h0.7v0.7h-0.7zM51.1 84.8h0.7v0.7h-0.7zM44.7 90.3h0.7v0.7h-0.7zM60.7 81.9h0.7v0.7h-0.7zM63.6 81.6h0.7v0.7h-0.7zM57.2 84.1h0.7v0.7h-0.7zM51.8 84.1h0.7v0.7h-0.7zM62.4 81.5h0.7v0.7h-0.7zM50.7 85.1h0.7v0.7h-0.7zM51.5 90.2h0.7v0.7h-0.7zM39.2 94.5h0.7v0.7h-0.7zM39.7 95.8h0.7v0.7h-0.7zM56.3 87.9h0.7v0.7h-0.7zM50.7 85.3h0.7v0.7h-0.7zM56.7 87.2h0.7v0.7h-0.7zM47.5 90.6h0.7v0.7h-0.7zM57.3 85.9h0.7v0.7h-0.7zM55.7 82.3h0.7v0.7h-0.7zM56.8 85.2h0.7v0.7h-0.7zM56.3 85.9h0.7v0.7h-0.7zM47.0 86.4h0.7v0.7h-0.7zM64.3 82.1h0.7v0.7h-0.7zM52.1 87.4h0.7v0.7h-0.7zM44.7 88.6h0.7v0.7h-0.7zM53.6 89.0h0.7v0.7h-0.7zM41.7 93.8h0.7v0.7h-0.7zM57.1 86.6h0.7v0.7h-0.7zM44.9 92.6h0.7v0.7h-0.7zM47.6 86.1h0.7v0.7h-0.7zM45.3 91.9h0.7v0.7h-0.7zM59.0 81.6h0.7v0.7h-0.7zM54.9 86.7h0.7v0.7h-0.7zM49.0 89.0h0.7v0.7h-0.7zM56.5 87.1h0.7v0.7h-0.7zM38.3 96.7h0.7v0.7h-0.7zM51.4 84.9h0.7v0.7h-0.7zM56.3 83.1h0.7v0.7h-0.7zM49.3 91.8h0.7v0.7h-0.7zM52.8 85.1h0.7v0.7h-0.7zM52.0 83.8h0.7v0.7h-0.7zM38.7 95.8h0.7v0.7h-0.7zM55.1 87.9h0.7v0.7h-0.7zM51.4 91.4h0.7v0.7h-0.7zM45.9 90.3h0.7v0.7h-0.7zM45.7 91.6h0.7v0.7h-0.7zM45.9 90.0h0.7v0.7h-0.7zM38.1 94.2h0.7v0.7h-0.7zM57.5 86.1h0.7v0.7h-0.7zM48.9 89.1h0.7v0.7h-0.7zM52.8 88.6h0.7v0.7h-0.7zM53.9 87.5h0.7v0.7h-0.7zM50.1 84.8h0.7v0.7h-0.7zM50.0 89.0h0.7v0.7h-0.7zM39.1 95.7h0.7v0.7h-0.7zM49.7 92.9h0.7v0.7h-0.7zM49.4 90.9h0.7v0.7h-0.7z" fill="#888" fill-opacity="0.5"/>
<path d="M59.0 114.7h0.8v0.8h-0.8zM53.9 122.7h0.8v0.8h-0.8zM51.0 123.2h0.8v0.8h-0.8zM50.6 124.4h0.8v0.8h-0.8zM60.1 113.1h0.8v0.8h-0.8zM52.6 122.5h0.8v0.8h-0.8zM59.4 116.8h0.8v0.8h-0.8zM52.0 122.2h0.8v0.8h-0.8zM61.7 113.5h0.8v0.8h-0.8zM58.0 115.2h0.8v0.8h-0.8zM59.7 114.7h0.8v0.8h-0.8zM60.5 114.1h0.8v0.8h-0.8zM50.6 123.6h0.8v0.8h-0.8zM56.0 119.4h0.8v0.8h-0.8zM60.0 116.7h0.8v0.8h-0.8zM62.1 115.0h0.8v0.8h-0.8zM53.8 122.5h0.8v0.8h-0.8zM53.1 122.8h0.8v0.8h-0.8zM62.9 114.1h0.8v0.8h-0.8zM56.4 118.6h0.8v0.8h-0.8zM61.0 116.2h0.8v0.8h-0.8zM54.2 123.2h0.8v0.8h-0.8zM51.2 122.3h0.8v0.8h-0.8zM52.6 122.5h0.8v0.8h-0.8zM61.4 113.8h0.8v0.8h-0.8zM57.8 117.1h0.8v0.8h-0.8zM59.1 117.8h0.8v0.8h-0.8zM53.8 119.3h0.8v0.8h-0.8zM54.3 120.4h0.8v0.8h-0.8zM58.7 115.5h0.8v0.8h-0.8zM57.1 118.6h0.8v0.8h-0.8zM52.8 124.9h0.8v0.8h-0.8zM51.9 123.5h0.8v0.8h-0.8zM62.0 113.0h0.8v0.8h-0.8zM61.4 114.7h0.8v0.8h-0.8zM49.1 123.9h0.8v0.8h-0.8zM53.9 123.5h0.8v0.8h-0.8zM52.7 123.4h0.8v0.8h-0.8zM57.6 116.0h0.8v0.8h-0.8zM56.8 119.5h0.8v0.8h-0.8zM57.2 117.9h0.8v0.8h-0.8zM57.5 118.4h0.8v0.8h-0.8zM57.4 115.9h0.8v0.8h-0.8zM54.2 121.0h0.8v0.8h-0.8zM58.0 117.8h0.8v0.8h-0.8z" fill="#000" fill-opacity="0.7"/>
<path d="M61.0 109.1h0.8v0.8h-0.8zM65.5 106.4h0.8v0.8h-0.8zM63.6 105.6h0.8v0.8h-0.8zM60.7 108.3h0.8v0.8h-0.8zM63.3 106.1h0.8v0.8h-0.8zM65.6 108.0h0.8v0.8h-0.8zM61.9 107.9h0.8v0.8h-0.8zM62.3 105.3h0.8v0.8h-0.8zM63.1 108.4h0.8v0.8h-0.8zM66.7 107.0h0.8v0.8h-0.8zM65.2 107.7h0.8v0.8h-0.8zM62.8 108.8h0.8v0.8h-0.8zM62.5 109.1h0.8v0.8h-0.8zM62.9 109.9h0.8v0.8h-0.8zM63.1 112.6h0.8v0.8h-0.8zM63.7 112.6h0.8v0.8h-0.8zM63.2 110.5h0.8v0.8h-0.8zM62.7 107.9h0.8v0.8h-0.8zM66.0 105.1h0.8v0.8h-0.8zM61.2 110.0h0.8v0.8h-0.8zM64.6 106.7h0.8v0.8h-0.8zM61.4 109.8h0.8v0.8h-0.8zM64.1 106.3h0.8v0.8h-0.8zM60.1 105.4h0.8v0.8h-0.8zM65.4 106.0h0.8v0.8h-0.8z" fill="#f21818" fill-opacity="0.7"/>
<polygon points="37.5,105.4 66.5,105.4 60.5,113.0 37.5,113.0" fill="#f21818"/>
<polygon points="37.5,98.7 71.5,98.7 66.5,105.4 37.5,105.4" fill="#3cc4c4"/>
<polygon points="54.0,93.6 75.5,93.6 71.5,98.7 50.0,98.7" fill="#0e0eb8"/>
<polygon points="60.5,87.2 80.5,87.2 75.5,93.6 55.5,93.6" fill="#1c8c1c"/>
<polygon points="70.5,81.2 85.5,81.2 80.5,87.2 66.0,87.2" fill="#cc44cc"/>
<path d="M44.8 101.9h0.8v0.8h-0.8zM42.7 100.3h0.8v0.8h-0.8zM37.9 105.1h0.8v0.8h-0.8zM38.2 99.2h0.8v0.8h-0.8zM43.2 100.5h0.8v0.8h-0.8zM38.8 102.8h0.8v0.8h-0.8zM43.4 102.5h0.8v0.8h-0.8zM38.7 101.8h0.8v0.8h-0.8zM40.0 102.8h0.8v0.8h-0.8zM44.7 99.4h0.8v0.8h-0.8zM44.8 101.2h0.8v0.8h-0.8zM43.4 102.4h0.8v0.8h-0.8zM44.1 101.6h0.8v0.8h-0.8zM45.4 99.0h0.8v0.8h-0.8zM40.8 103.4h0.8v0.8h-0.8zM41.2 102.1h0.8v0.8h-0.8zM40.3 105.2h0.8v0.8h-0.8zM39.3 101.0h0.8v0.8h-0.8zM40.1 103.3h0.8v0.8h-0.8zM38.7 99.0h0.8v0.8h-0.8zM42.8 99.2h0.8v0.8h-0.8zM38.7 103.0h0.8v0.8h-0.8zM42.8 103.5h0.8v0.8h-0.8zM41.3 102.1h0.8v0.8h-0.8zM37.7 99.5h0.8v0.8h-0.8zM42.6 100.4h0.8v0.8h-0.8zM42.0 104.1h0.8v0.8h-0.8zM38.0 105.1h0.8v0.8h-0.8zM41.5 100.9h0.8v0.8h-0.8zM40.0 102.3h0.8v0.8h-0.8zM40.0 100.6h0.8v0.8h-0.8zM37.9 100.6h0.8v0.8h-0.8zM39.2 104.3h0.8v0.8h-0.8zM38.7 104.5h0.8v0.8h-0.8zM45.0 98.7h0.8v0.8h-0.8zM41.6 99.4h0.8v0.8h-0.8zM44.8 98.8h0.8v0.8h-0.8zM39.7 99.5h0.8v0.8h-0.8zM38.7 100.4h0.8v0.8h-0.8zM43.8 102.3h0.8v0.8h-0.8zM42.3 99.1h0.8v0.8h-0.8zM42.2 101.6h0.8v0.8h-0.8zM41.1 103.5h0.8v0.8h-0.8zM41.0 100.4h0.8v0.8h-0.8zM44.0 100.1h0.8v0.8h-0.8zM40.3 102.6h0.8v0.8h-0.8zM39.6 99.3h0.8v0.8h-0.8zM44.4 100.5h0.8v0.8h-0.8zM39.9 99.5h0.8v0.8h-0.8zM38.8 102.7h0.8v0.8h-0.8z" fill="#fff" fill-opacity="0.6"/>
<path d="M50.8 97.3h0.7v0.7h-0.7zM52.2 94.6h0.7v0.7h-0.7zM50.5 95.2h0.7v0.7h-0.7zM36.2 98.5h0.7v0.7h-0.7zM32.2 98.5h0.7v0.7h-0.7zM41.1 96.4h0.7v0.7h-0.7zM52.3 94.8h0.7v0.7h-0.7zM48.3 97.6h0.7v0.7h-0.7zM45.7 96.7h0.7v0.7h-0.7zM40.4 95.8h0.7v0.7h-0.7zM46.6 94.6h0.7v0.7h-0.7zM46.6 96.4h0.7v0.7h-0.7zM49.1 97.8h0.7v0.7h-0.7zM34.1 97.3h0.7v0.7h-0.7zM38.2 98.3h0.7v0.7h-0.7zM37.7 98.9h0.7v0.7h-0.7zM48.9 97.5h0.7v0.7h-0.7zM47.4 96.5h0.7v0.7h-0.7zM49.0 95.5h0.7v0.7h-0.7zM36.6 97.7h0.7v0.7h-0.7zM30.8 98.8h0.7v0.7h-0.7zM32.3 98.8h0.7v0.7h-0.7zM34.9 98.1h0.7v0.7h-0.7zM48.1 94.3h0.7v0.7h-0.7zM35.2 98.0h0.7v0.7h-0.7zM41.4 95.8h0.7v0.7h-0.7zM38.8 95.9h0.7v0.7h-0.7zM33.4 97.9h0.7v0.7h-0.7zM41.2 98.2h0.7v0.7h-0.7zM50.4 97.9h0.7v0.7h-0.7zM49.8 98.6h0.7v0.7h-0.7zM32.0 98.3h0.7v0.7h-0.7zM39.4 98.6h0.7v0.7h-0.7zM49.2 94.9h0.7v0.7h-0.7zM46.2 96.6h0.7v0.7h-0.7zM44.4 96.7h0.7v0.7h-0.7zM51.3 97.2h0.7v0.7h-0.7zM40.6 98.3h0.7v0.7h-0.7zM45.3 97.6h0.7v0.7h-0.7zM32.6 98.4h0.7v0.7h-0.7zM30.7 98.3h0.7v0.7h-0.7zM46.0 96.6h0.7v0.7h-0.7zM46.9 98.6h0.7v0.7h-0.7zM42.2 95.2h0.7v0.7h-0.7zM42.5 95.7h0.7v0.7h-0.7z" fill="#60c0d0" fill-opacity="0.6"/>
<path d="M48.9 90.3h0.7v0.7h-0.7zM55.3 92.9h0.7v0.7h-0.7zM48.2 92.3h0.7v0.7h-0.7zM51.2 91.7h0.7v0.7h-0.7zM54.1 89.3h0.7v0.7h-0.7zM46.8 92.8h0.7v0.7h-0.7zM54.7 91.2h0.7v0.7h-0.7zM51.2 89.3h0.7v0.7h-0.7zM56.3 91.3h0.7v0.7h-0.7zM55.7 92.1h0.7v0.7h-0.7zM43.1 93.2h0.7v0.7h-0.7zM48.2 92.6h0.7v0.7h-0.7zM57.6 90.9h0.7v0.7h-0.7zM45.9 91.4h0.7v0.7h-0.7zM58.2 89.4h0.7v0.7h-0.7zM49.5 93.2h0.7v0.7h-0.7zM54.1 92.0h0.7v0.7h-0.7zM54.0 91.2h0.7v0.7h-0.7zM49.8 93.3h0.7v0.7h-0.7zM52.1 90.1h0.7v0.7h-0.7zM50.5 91.0h0.7v0.7h-0.7zM54.3 91.5h0.7v0.7h-0.7zM56.9 91.5h0.7v0.7h-0.7zM51.8 89.9h0.7v0.7h-0.7zM51.0 90.4h0.7v0.7h-0.7zM52.7 90.0h0.7v0.7h-0.7zM47.8 90.5h0.7v0.7h-0.7zM55.3 91.3h0.7v0.7h-0.7zM53.6 91.1h0.7v0.7h-0.7zM45.5 92.9h0.7v0.7h-0.7zM53.7 91.9h0.7v0.7h-0.7zM52.8 90.8h0.7v0.7h-0.7zM54.5 88.7h0.7v0.7h-0.7zM50.1 90.3h0.7v0.7h-0.7zM55.4 90.1h0.7v0.7h-0.7z" fill="#5050c0" fill-opacity="0.5"/>
<path d="M61.8 84.7h0.7v0.7h-0.7zM62.5 83.7h0.7v0.7h-0.7zM62.9 82.5h0.7v0.7h-0.7zM57.1 84.1h0.7v0.7h-0.7zM65.1 82.3h0.7v0.7h-0.7zM54.4 87.2h0.7v0.7h-0.7zM66.7 82.7h0.7v0.7h-0.7zM66.0 83.3h0.7v0.7h-0.7zM61.1 85.0h0.7v0.7h-0.7zM57.2 84.2h0.7v0.7h-0.7zM60.5 84.5h0.7v0.7h-0.7zM55.7 85.4h0.7v0.7h-0.7zM56.8 85.8h0.7v0.7h-0.7zM54.7 87.2h0.7v0.7h-0.7zM59.1 84.7h0.7v0.7h-0.7zM58.4 86.9h0.7v0.7h-0.7zM58.5 86.4h0.7v0.7h-0.7zM56.2 86.2h0.7v0.7h-0.7zM53.9 87.5h0.7v0.7h-0.7zM56.7 85.3h0.7v0.7h-0.7zM62.9 82.9h0.7v0.7h-0.7zM64.1 83.6h0.7v0.7h-0.7zM57.6 85.4h0.7v0.7h-0.7zM61.0 86.3h0.7v0.7h-0.7zM63.4 86.0h0.7v0.7h-0.7z" fill="#50a050" fill-opacity="0.45"/>
<rect x="37.50" y="80.90" width="68.80" height="32.20" fill="none" stroke="#333" stroke-width="0.75"/>
<path d="M124.3 39.9h9" stroke="#999" stroke-width="0.8"/>
<text x="32.90" y="61.10" font-size="6.5" font-weight="bold" fill="#111" text-anchor="start">160-500nm EV</text>
<path d="M26.25 34.40H137.50V145.50" fill="none" stroke="#6a6a6a" stroke-width="1"/>
<path d="M26.25 34.40V145.50H137.50" fill="none" stroke="#333" stroke-width="1"/>
<path d="M26.25 145.50v2.8M32.95 145.50v1.9M36.87 145.50v1.9M39.65 145.50v1.9M41.80 145.50v1.9M43.56 145.50v1.9M45.05 145.50v1.9M46.34 145.50v1.9M47.48 145.50v1.9M48.50 145.50v2.8M55.20 145.50v1.9M59.12 145.50v1.9M61.90 145.50v1.9M64.05 145.50v1.9M65.81 145.50v1.9M67.30 145.50v1.9M68.59 145.50v1.9M69.73 145.50v1.9M70.75 145.50v2.8M77.45 145.50v1.9M81.37 145.50v1.9M84.15 145.50v1.9M86.30 145.50v1.9M88.06 145.50v1.9M89.55 145.50v1.9M90.84 145.50v1.9M91.98 145.50v1.9M93.00 145.50v2.8M99.70 145.50v1.9M103.62 145.50v1.9M106.40 145.50v1.9M108.55 145.50v1.9M110.31 145.50v1.9M111.80 145.50v1.9M113.09 145.50v1.9M114.23 145.50v1.9M115.25 145.50v2.8M121.95 145.50v1.9M125.87 145.50v1.9M128.65 145.50v1.9M130.80 145.50v1.9M132.56 145.50v1.9M134.05 145.50v1.9M135.34 145.50v1.9M136.48 145.50v1.9M137.50 145.50v2.8M26.25 145.50h-2.8M26.25 138.81h-1.9M26.25 134.90h-1.9M26.25 132.12h-1.9M26.25 129.97h-1.9M26.25 128.21h-1.9M26.25 126.72h-1.9M26.25 125.43h-1.9M26.25 124.30h-1.9M26.25 123.28h-2.8M26.25 116.59h-1.9M26.25 112.68h-1.9M26.25 109.90h-1.9M26.25 107.75h-1.9M26.25 105.99h-1.9M26.25 104.50h-1.9M26.25 103.21h-1.9M26.25 102.08h-1.9M26.25 101.06h-2.8M26.25 94.37h-1.9M26.25 90.46h-1.9M26.25 87.68h-1.9M26.25 85.53h-1.9M26.25 83.77h-1.9M26.25 82.28h-1.9M26.25 80.99h-1.9M26.25 79.86h-1.9M26.25 78.84h-2.8M26.25 72.15h-1.9M26.25 68.24h-1.9M26.25 65.46h-1.9M26.25 63.31h-1.9M26.25 61.55h-1.9M26.25 60.06h-1.9M26.25 58.77h-1.9M26.25 57.64h-1.9M26.25 56.62h-2.8M26.25 49.93h-1.9M26.25 46.02h-1.9M26.25 43.24h-1.9M26.25 41.09h-1.9M26.25 39.33h-1.9M26.25 37.84h-1.9M26.25 36.55h-1.9M26.25 35.42h-1.9M26.25 34.40h-2.8" stroke="#333" stroke-width="0.75" fill="none"/>
<g transform="translate(27.05 155.50) scale(0.86 1)"><text x="0" y="0" font-size="6.7" fill="#222" text-anchor="middle">10<tspan font-size="4.2" dy="-3.0">2</tspan></text></g>
<g transform="translate(49.30 155.50) scale(0.86 1)"><text x="0" y="0" font-size="6.7" fill="#222" text-anchor="middle">10<tspan font-size="4.2" dy="-3.0">3</tspan></text></g>
<g transform="translate(71.55 155.50) scale(0.86 1)"><text x="0" y="0" font-size="6.7" fill="#222" text-anchor="middle">10<tspan font-size="4.2" dy="-3.0">4</tspan></text></g>
<g transform="translate(93.80 155.50) scale(0.86 1)"><text x="0" y="0" font-size="6.7" fill="#222" text-anchor="middle">10<tspan font-size="4.2" dy="-3.0">5</tspan></text></g>
<g transform="translate(116.05 155.50) scale(0.86 1)"><text x="0" y="0" font-size="6.7" fill="#222" text-anchor="middle">10<tspan font-size="4.2" dy="-3.0">6</tspan></text></g>
<g transform="translate(138.30 155.50) scale(0.86 1)"><text x="0" y="0" font-size="6.7" fill="#222" text-anchor="middle">10<tspan font-size="4.2" dy="-3.0">7</tspan></text></g>
<g transform="translate(20.25 144.90) rotate(-90) scale(0.86 1)"><text x="0" y="0" font-size="6.7" fill="#222" text-anchor="middle">10<tspan font-size="4.2" dy="-3.0">2</tspan></text></g>
<g transform="translate(20.25 122.68) rotate(-90) scale(0.86 1)"><text x="0" y="0" font-size="6.7" fill="#222" text-anchor="middle">10<tspan font-size="4.2" dy="-3.0">3</tspan></text></g>
<g transform="translate(20.25 100.46) rotate(-90) scale(0.86 1)"><text x="0" y="0" font-size="6.7" fill="#222" text-anchor="middle">10<tspan font-size="4.2" dy="-3.0">4</tspan></text></g>
<g transform="translate(20.25 78.24) rotate(-90) scale(0.86 1)"><text x="0" y="0" font-size="6.7" fill="#222" text-anchor="middle">10<tspan font-size="4.2" dy="-3.0">5</tspan></text></g>
<g transform="translate(20.25 56.02) rotate(-90) scale(0.86 1)"><text x="0" y="0" font-size="6.7" fill="#222" text-anchor="middle">10<tspan font-size="4.2" dy="-3.0">6</tspan></text></g>
<g transform="translate(20.25 33.80) rotate(-90) scale(0.86 1)"><text x="0" y="0" font-size="6.7" fill="#222" text-anchor="middle">10<tspan font-size="4.2" dy="-3.0">7</tspan></text></g>
<text x="81.88" y="161.90" font-size="5.8" fill="#222" text-anchor="middle">SSC-H</text>
<text x="12.80" y="89.60" font-size="5.8" fill="#222" text-anchor="middle" transform="rotate(-90 12.80 89.60)">Violet SSC-H</text>
<text x="165.70" y="12.90" font-size="11.3" font-weight="bold" fill="#000" text-anchor="start">B</text>
<text x="216.00" y="28.80" font-size="7.5" font-weight="bold" fill="#111" text-anchor="middle">PBT 160-500nm EV</text>
<path d="M262.7 77.8h0.7v0.7h-0.7zM258.8 106.5h0.7v0.7h-0.7zM263.5 82.8h0.7v0.7h-0.7zM242.7 92.2h0.7v0.7h-0.7zM231.4 109.7h0.7v0.7h-0.7zM253.5 87.8h0.7v0.7h-0.7zM233.9 83.9h0.7v0.7h-0.7zM243.5 106.6h0.7v0.7h-0.7zM239.2 105.7h0.7v0.7h-0.7zM255.9 105.3h0.7v0.7h-0.7zM250.7 98.2h0.7v0.7h-0.7zM246.3 83.7h0.7v0.7h-0.7zM255.6 103.9h0.7v0.7h-0.7zM233.2 96.5h0.7v0.7h-0.7zM234.1 91.6h0.7v0.7h-0.7zM232.9 97.7h0.7v0.7h-0.7zM233.7 81.7h0.7v0.7h-0.7zM244.1 110.5h0.7v0.7h-0.7zM231.7 89.8h0.7v0.7h-0.7zM263.1 110.4h0.7v0.7h-0.7zM228.8 104.8h0.7v0.7h-0.7zM263.3 100.0h0.7v0.7h-0.7zM257.7 86.4h0.7v0.7h-0.7zM248.1 101.9h0.7v0.7h-0.7zM247.1 89.6h0.7v0.7h-0.7zM257.9 110.0h0.7v0.7h-0.7zM239.1 89.4h0.7v0.7h-0.7zM258.5 107.8h0.7v0.7h-0.7zM243.3 77.7h0.7v0.7h-0.7zM258.1 105.9h0.7v0.7h-0.7zM246.7 94.5h0.7v0.7h-0.7zM265.1 98.2h0.7v0.7h-0.7zM250.6 99.0h0.7v0.7h-0.7zM251.7 112.3h0.7v0.7h-0.7zM235.3 99.0h0.7v0.7h-0.7zM265.9 111.1h0.7v0.7h-0.7zM228.6 102.2h0.7v0.7h-0.7zM227.0 92.6h0.7v0.7h-0.7zM240.2 110.1h0.7v0.7h-0.7zM265.3 104.0h0.7v0.7h-0.7zM236.4 101.9h0.7v0.7h-0.7zM228.8 110.0h0.7v0.7h-0.7zM238.8 83.0h0.7v0.7h-0.7zM256.6 82.7h0.7v0.7h-0.7zM257.6 98.3h0.7v0.7h-0.7zM229.1 88.9h0.7v0.7h-0.7zM242.6 81.8h0.7v0.7h-0.7zM243.2 86.0h0.7v0.7h-0.7zM231.9 106.8h0.7v0.7h-0.7zM238.8 80.5h0.7v0.7h-0.7zM250.2 96.5h0.7v0.7h-0.7zM252.2 85.8h0.7v0.7h-0.7zM250.5 81.6h0.7v0.7h-0.7zM242.9 95.2h0.7v0.7h-0.7zM233.0 91.4h0.7v0.7h-0.7zM230.5 90.3h0.7v0.7h-0.7zM231.5 100.4h0.7v0.7h-0.7zM255.4 82.1h0.7v0.7h-0.7zM233.6 94.1h0.7v0.7h-0.7zM244.9 110.0h0.7v0.7h-0.7zM235.8 89.4h0.7v0.7h-0.7zM236.6 103.2h0.7v0.7h-0.7zM255.8 89.9h0.7v0.7h-0.7zM257.6 84.9h0.7v0.7h-0.7zM247.5 90.5h0.7v0.7h-0.7zM251.0 78.6h0.7v0.7h-0.7zM251.4 86.6h0.7v0.7h-0.7zM257.9 87.4h0.7v0.7h-0.7zM226.1 106.7h0.7v0.7h-0.7zM236.8 107.5h0.7v0.7h-0.7z" fill="#a090a8" fill-opacity="0.6"/>
<path d="M261.3 93.8h0.7v0.7h-0.7zM235.3 104.1h0.7v0.7h-0.7zM251.8 92.7h0.7v0.7h-0.7zM247.2 110.6h0.7v0.7h-0.7zM244.6 93.4h0.7v0.7h-0.7zM254.0 86.4h0.7v0.7h-0.7zM259.3 108.9h0.7v0.7h-0.7zM260.3 92.0h0.7v0.7h-0.7zM254.1 87.2h0.7v0.7h-0.7zM255.6 111.6h0.7v0.7h-0.7zM227.1 94.7h0.7v0.7h-0.7zM239.4 105.0h0.7v0.7h-0.7zM246.2 88.9h0.7v0.7h-0.7zM243.1 107.8h0.7v0.7h-0.7zM259.7 108.7h0.7v0.7h-0.7zM259.0 93.5h0.7v0.7h-0.7zM243.3 92.5h0.7v0.7h-0.7zM259.1 89.7h0.7v0.7h-0.7zM238.8 101.8h0.7v0.7h-0.7zM254.6 97.1h0.7v0.7h-0.7zM230.8 110.1h0.7v0.7h-0.7zM261.6 96.0h0.7v0.7h-0.7zM242.3 99.7h0.7v0.7h-0.7zM261.1 96.5h0.7v0.7h-0.7zM235.2 93.2h0.7v0.7h-0.7zM236.0 87.6h0.7v0.7h-0.7zM236.1 102.1h0.7v0.7h-0.7zM236.6 93.9h0.7v0.7h-0.7zM229.2 110.6h0.7v0.7h-0.7zM254.4 103.7h0.7v0.7h-0.7zM244.4 103.1h0.7v0.7h-0.7zM244.5 109.4h0.7v0.7h-0.7zM235.5 91.1h0.7v0.7h-0.7zM243.3 110.0h0.7v0.7h-0.7zM242.6 108.0h0.7v0.7h-0.7zM226.6 91.0h0.7v0.7h-0.7zM236.8 91.9h0.7v0.7h-0.7zM232.2 87.2h0.7v0.7h-0.7zM236.7 98.0h0.7v0.7h-0.7zM241.4 89.2h0.7v0.7h-0.7zM261.5 108.0h0.7v0.7h-0.7zM239.5 93.5h0.7v0.7h-0.7zM258.1 92.1h0.7v0.7h-0.7zM252.6 110.7h0.7v0.7h-0.7zM261.5 94.4h0.7v0.7h-0.7zM255.4 95.0h0.7v0.7h-0.7zM259.9 101.0h0.7v0.7h-0.7zM231.3 100.5h0.7v0.7h-0.7zM254.2 94.1h0.7v0.7h-0.7zM238.6 102.7h0.7v0.7h-0.7z" fill="#90b0b8" fill-opacity="0.6"/>
<path d="M247.4 90.8h0.7v0.7h-0.7zM249.7 92.4h0.7v0.7h-0.7zM241.8 96.1h0.7v0.7h-0.7zM243.1 86.6h0.7v0.7h-0.7zM228.1 101.4h0.7v0.7h-0.7zM238.3 102.9h0.7v0.7h-0.7zM242.4 86.6h0.7v0.7h-0.7zM234.3 87.0h0.7v0.7h-0.7zM228.3 99.7h0.7v0.7h-0.7zM251.6 90.7h0.7v0.7h-0.7zM230.4 89.4h0.7v0.7h-0.7zM240.9 89.3h0.7v0.7h-0.7zM245.5 87.7h0.7v0.7h-0.7zM240.3 102.1h0.7v0.7h-0.7zM251.8 97.4h0.7v0.7h-0.7zM232.8 88.3h0.7v0.7h-0.7zM252.0 104.0h0.7v0.7h-0.7zM251.0 90.6h0.7v0.7h-0.7zM241.8 99.2h0.7v0.7h-0.7zM238.1 98.7h0.7v0.7h-0.7zM250.9 92.7h0.7v0.7h-0.7zM240.2 97.5h0.7v0.7h-0.7zM253.9 89.6h0.7v0.7h-0.7zM230.3 98.6h0.7v0.7h-0.7zM228.9 88.1h0.7v0.7h-0.7z" fill="#80a080" fill-opacity="0.5"/>
<path d="M223.0 108.1h0.7v0.7h-0.7zM224.0 106.8h0.7v0.7h-0.7zM224.6 111.9h0.7v0.7h-0.7zM233.7 110.8h0.7v0.7h-0.7zM229.4 110.2h0.7v0.7h-0.7zM227.5 105.3h0.7v0.7h-0.7zM225.0 107.3h0.7v0.7h-0.7zM227.0 111.1h0.7v0.7h-0.7zM236.6 109.0h0.7v0.7h-0.7zM228.6 105.3h0.7v0.7h-0.7zM222.1 111.7h0.7v0.7h-0.7zM240.0 112.3h0.7v0.7h-0.7zM239.2 110.9h0.7v0.7h-0.7zM228.7 109.4h0.7v0.7h-0.7zM233.7 105.5h0.7v0.7h-0.7zM223.7 107.2h0.7v0.7h-0.7zM232.3 108.0h0.7v0.7h-0.7zM222.9 109.1h0.7v0.7h-0.7zM226.2 108.9h0.7v0.7h-0.7zM238.9 105.3h0.7v0.7h-0.7z" fill="#e08080" fill-opacity="0.5"/>
<polygon points="177.0,81.0 226.0,81.0 227.5,84.3 226.0,87.6 177.0,87.6" fill="#cc44cc"/>
<path d="M226.3 85.2h0.8v0.8h-0.8zM225.3 86.9h0.8v0.8h-0.8zM228.8 85.1h0.8v0.8h-0.8zM228.9 82.5h0.8v0.8h-0.8zM224.5 85.9h0.8v0.8h-0.8zM228.2 86.4h0.8v0.8h-0.8zM229.5 84.5h0.8v0.8h-0.8zM228.9 83.6h0.8v0.8h-0.8zM224.9 85.0h0.8v0.8h-0.8zM224.5 81.8h0.8v0.8h-0.8zM226.7 85.3h0.8v0.8h-0.8zM229.4 82.6h0.8v0.8h-0.8zM229.5 85.1h0.8v0.8h-0.8zM224.2 83.1h0.8v0.8h-0.8zM229.4 83.5h0.8v0.8h-0.8zM227.9 87.0h0.8v0.8h-0.8zM227.9 83.3h0.8v0.8h-0.8zM225.4 86.1h0.8v0.8h-0.8z" fill="#cc44cc" fill-opacity="0.6"/>
<polygon points="177.0,87.2 223.0,87.2 224.5,90.4 223.0,93.6 177.0,93.6" fill="#1c8c1c"/>
<path d="M225.2 89.8h0.8v0.8h-0.8zM221.7 91.4h0.8v0.8h-0.8zM223.8 92.4h0.8v0.8h-0.8zM223.6 87.4h0.8v0.8h-0.8zM223.6 91.3h0.8v0.8h-0.8zM224.3 91.1h0.8v0.8h-0.8zM221.8 90.1h0.8v0.8h-0.8zM223.7 88.6h0.8v0.8h-0.8zM226.9 89.4h0.8v0.8h-0.8zM221.4 89.8h0.8v0.8h-0.8zM225.7 92.3h0.8v0.8h-0.8zM224.4 91.8h0.8v0.8h-0.8zM222.1 90.5h0.8v0.8h-0.8zM225.0 89.2h0.8v0.8h-0.8zM223.0 92.6h0.8v0.8h-0.8zM223.9 87.6h0.8v0.8h-0.8zM222.3 89.6h0.8v0.8h-0.8zM227.0 89.4h0.8v0.8h-0.8z" fill="#1c8c1c" fill-opacity="0.6"/>
<polygon points="177.0,93.2 221.0,93.2 222.5,96.1 221.0,99.0 177.0,99.0" fill="#0e0eb8"/>
<path d="M224.8 98.2h0.8v0.8h-0.8zM222.1 98.3h0.8v0.8h-0.8zM224.4 97.1h0.8v0.8h-0.8zM219.3 94.2h0.8v0.8h-0.8zM224.2 94.9h0.8v0.8h-0.8zM222.5 98.1h0.8v0.8h-0.8zM219.6 95.0h0.8v0.8h-0.8zM219.0 97.7h0.8v0.8h-0.8zM220.4 98.0h0.8v0.8h-0.8zM224.5 97.2h0.8v0.8h-0.8zM222.9 95.0h0.8v0.8h-0.8zM221.0 96.8h0.8v0.8h-0.8zM220.8 98.0h0.8v0.8h-0.8zM223.3 97.3h0.8v0.8h-0.8zM221.4 97.8h0.8v0.8h-0.8zM219.5 98.1h0.8v0.8h-0.8zM222.8 96.3h0.8v0.8h-0.8zM222.1 97.0h0.8v0.8h-0.8z" fill="#0e0eb8" fill-opacity="0.6"/>
<polygon points="177.0,98.6 219.5,98.6 221.0,102.0 219.5,105.5 177.0,105.5" fill="#3cc4c4"/>
<path d="M219.0 99.6h0.8v0.8h-0.8zM222.1 99.1h0.8v0.8h-0.8zM219.5 99.5h0.8v0.8h-0.8zM218.6 103.2h0.8v0.8h-0.8zM220.9 99.1h0.8v0.8h-0.8zM219.7 100.1h0.8v0.8h-0.8zM222.2 99.1h0.8v0.8h-0.8zM222.8 102.9h0.8v0.8h-0.8zM223.3 103.2h0.8v0.8h-0.8zM222.0 100.3h0.8v0.8h-0.8zM219.6 100.4h0.8v0.8h-0.8zM219.6 105.1h0.8v0.8h-0.8zM218.6 101.6h0.8v0.8h-0.8zM220.3 100.6h0.8v0.8h-0.8zM222.0 103.2h0.8v0.8h-0.8zM217.8 103.5h0.8v0.8h-0.8zM218.2 102.2h0.8v0.8h-0.8zM221.7 99.4h0.8v0.8h-0.8z" fill="#3cc4c4" fill-opacity="0.6"/>
<polygon points="177.0,105.1 220.5,105.1 222.0,109.1 220.5,113.1 177.0,113.1" fill="#f21818"/>
<path d="M221.1 111.5h0.8v0.8h-0.8zM218.8 108.7h0.8v0.8h-0.8zM221.8 107.4h0.8v0.8h-0.8zM223.8 109.5h0.8v0.8h-0.8zM221.6 111.8h0.8v0.8h-0.8zM223.1 112.5h0.8v0.8h-0.8zM219.7 109.1h0.8v0.8h-0.8zM223.2 111.0h0.8v0.8h-0.8zM220.5 111.6h0.8v0.8h-0.8zM220.6 110.2h0.8v0.8h-0.8zM222.9 112.8h0.8v0.8h-0.8zM221.9 108.8h0.8v0.8h-0.8zM221.1 106.1h0.8v0.8h-0.8zM220.6 108.7h0.8v0.8h-0.8zM220.4 109.3h0.8v0.8h-0.8zM223.8 111.1h0.8v0.8h-0.8zM222.0 111.6h0.8v0.8h-0.8zM223.1 105.6h0.8v0.8h-0.8z" fill="#f21818" fill-opacity="0.6"/>
<path d="M183.7 84.8h0.7v0.7h-0.7zM212.7 86.0h0.7v0.7h-0.7zM204.1 86.2h0.7v0.7h-0.7zM210.4 84.7h0.7v0.7h-0.7zM217.7 86.3h0.7v0.7h-0.7zM199.6 86.2h0.7v0.7h-0.7zM222.3 86.4h0.7v0.7h-0.7zM205.1 86.6h0.7v0.7h-0.7zM190.2 82.1h0.7v0.7h-0.7zM195.1 84.2h0.7v0.7h-0.7zM191.5 87.3h0.7v0.7h-0.7zM223.2 83.0h0.7v0.7h-0.7zM209.1 83.2h0.7v0.7h-0.7zM203.5 86.5h0.7v0.7h-0.7zM221.9 86.0h0.7v0.7h-0.7zM206.7 86.2h0.7v0.7h-0.7zM201.9 86.5h0.7v0.7h-0.7zM198.9 87.4h0.7v0.7h-0.7zM219.5 82.2h0.7v0.7h-0.7zM202.4 84.5h0.7v0.7h-0.7zM195.1 83.7h0.7v0.7h-0.7zM186.9 83.7h0.7v0.7h-0.7zM191.4 86.5h0.7v0.7h-0.7zM215.1 87.3h0.7v0.7h-0.7zM187.2 85.5h0.7v0.7h-0.7zM218.7 81.3h0.7v0.7h-0.7zM216.6 83.8h0.7v0.7h-0.7zM188.8 87.1h0.7v0.7h-0.7zM182.6 84.4h0.7v0.7h-0.7zM218.4 82.6h0.7v0.7h-0.7zM205.6 82.0h0.7v0.7h-0.7zM218.4 82.4h0.7v0.7h-0.7zM223.1 81.7h0.7v0.7h-0.7zM185.9 86.3h0.7v0.7h-0.7zM208.9 85.4h0.7v0.7h-0.7zM189.4 85.1h0.7v0.7h-0.7zM201.3 86.0h0.7v0.7h-0.7zM182.9 84.1h0.7v0.7h-0.7zM216.1 86.1h0.7v0.7h-0.7zM196.1 86.2h0.7v0.7h-0.7zM184.1 85.4h0.7v0.7h-0.7zM182.9 82.4h0.7v0.7h-0.7zM197.4 87.2h0.7v0.7h-0.7zM192.0 84.3h0.7v0.7h-0.7zM211.5 85.7h0.7v0.7h-0.7zM185.5 82.9h0.7v0.7h-0.7zM192.0 81.9h0.7v0.7h-0.7zM222.4 81.5h0.7v0.7h-0.7zM194.0 81.6h0.7v0.7h-0.7zM183.2 87.3h0.7v0.7h-0.7zM186.3 81.7h0.7v0.7h-0.7zM221.2 82.1h0.7v0.7h-0.7zM184.9 86.8h0.7v0.7h-0.7zM187.2 81.3h0.7v0.7h-0.7zM205.4 86.3h0.7v0.7h-0.7zM194.9 86.0h0.7v0.7h-0.7zM179.2 86.9h0.7v0.7h-0.7zM197.4 85.2h0.7v0.7h-0.7zM187.5 82.8h0.7v0.7h-0.7zM197.1 87.3h0.7v0.7h-0.7zM205.1 86.0h0.7v0.7h-0.7zM201.2 82.8h0.7v0.7h-0.7zM183.1 82.9h0.7v0.7h-0.7zM210.0 86.0h0.7v0.7h-0.7zM187.3 84.6h0.7v0.7h-0.7zM216.6 86.7h0.7v0.7h-0.7zM201.5 83.4h0.7v0.7h-0.7zM178.9 82.4h0.7v0.7h-0.7zM225.7 85.8h0.7v0.7h-0.7zM189.0 81.6h0.7v0.7h-0.7zM177.3 83.1h0.7v0.7h-0.7zM218.5 83.8h0.7v0.7h-0.7zM197.9 84.7h0.7v0.7h-0.7zM195.2 84.4h0.7v0.7h-0.7zM214.2 86.7h0.7v0.7h-0.7zM226.0 86.3h0.7v0.7h-0.7zM183.9 82.2h0.7v0.7h-0.7zM216.0 82.1h0.7v0.7h-0.7zM225.1 85.3h0.7v0.7h-0.7zM222.8 83.5h0.7v0.7h-0.7zM192.0 87.3h0.7v0.7h-0.7zM179.5 83.1h0.7v0.7h-0.7zM201.8 82.4h0.7v0.7h-0.7zM207.4 83.3h0.7v0.7h-0.7zM188.6 85.6h0.7v0.7h-0.7zM206.2 84.7h0.7v0.7h-0.7zM178.6 82.7h0.7v0.7h-0.7zM219.1 86.8h0.7v0.7h-0.7zM194.4 87.0h0.7v0.7h-0.7zM179.4 86.2h0.7v0.7h-0.7zM190.2 83.0h0.7v0.7h-0.7zM220.7 81.6h0.7v0.7h-0.7zM186.4 85.2h0.7v0.7h-0.7zM189.6 85.3h0.7v0.7h-0.7zM193.6 86.8h0.7v0.7h-0.7zM198.3 81.4h0.7v0.7h-0.7zM186.2 82.7h0.7v0.7h-0.7zM188.1 87.0h0.7v0.7h-0.7zM215.9 87.4h0.7v0.7h-0.7zM206.4 83.3h0.7v0.7h-0.7zM187.5 86.6h0.7v0.7h-0.7zM225.0 86.3h0.7v0.7h-0.7zM193.7 81.9h0.7v0.7h-0.7zM203.8 86.0h0.7v0.7h-0.7zM208.3 83.7h0.7v0.7h-0.7zM225.0 83.2h0.7v0.7h-0.7zM211.0 85.6h0.7v0.7h-0.7zM218.9 83.9h0.7v0.7h-0.7zM196.7 86.7h0.7v0.7h-0.7zM191.9 82.9h0.7v0.7h-0.7zM214.2 82.7h0.7v0.7h-0.7zM206.8 81.7h0.7v0.7h-0.7zM198.7 86.5h0.7v0.7h-0.7zM182.0 83.6h0.7v0.7h-0.7zM199.1 81.6h0.7v0.7h-0.7zM180.7 87.3h0.7v0.7h-0.7zM212.6 82.2h0.7v0.7h-0.7zM188.1 82.6h0.7v0.7h-0.7zM202.9 85.4h0.7v0.7h-0.7zM200.2 87.2h0.7v0.7h-0.7zM177.3 87.2h0.7v0.7h-0.7zM224.3 87.3h0.7v0.7h-0.7zM186.8 83.3h0.7v0.7h-0.7zM213.1 83.4h0.7v0.7h-0.7zM222.3 81.6h0.7v0.7h-0.7zM200.3 86.0h0.7v0.7h-0.7zM193.0 86.5h0.7v0.7h-0.7zM181.1 81.3h0.7v0.7h-0.7zM191.7 83.2h0.7v0.7h-0.7zM199.3 86.7h0.7v0.7h-0.7zM196.5 83.8h0.7v0.7h-0.7zM187.7 86.1h0.7v0.7h-0.7zM207.2 83.8h0.7v0.7h-0.7zM215.1 87.2h0.7v0.7h-0.7zM196.3 81.8h0.7v0.7h-0.7zM188.4 85.7h0.7v0.7h-0.7zM191.6 87.0h0.7v0.7h-0.7zM186.7 86.1h0.7v0.7h-0.7zM224.1 86.5h0.7v0.7h-0.7zM219.3 83.2h0.7v0.7h-0.7z" fill="#fff" fill-opacity="0.5"/>
<path d="M213.4 91.0h0.7v0.7h-0.7zM202.9 90.7h0.7v0.7h-0.7zM205.6 91.4h0.7v0.7h-0.7zM211.1 93.4h0.7v0.7h-0.7zM221.1 89.7h0.7v0.7h-0.7zM199.4 92.5h0.7v0.7h-0.7zM215.2 91.5h0.7v0.7h-0.7zM219.2 92.1h0.7v0.7h-0.7zM209.1 91.5h0.7v0.7h-0.7zM219.9 87.7h0.7v0.7h-0.7zM207.2 93.0h0.7v0.7h-0.7zM198.8 91.1h0.7v0.7h-0.7zM208.0 93.2h0.7v0.7h-0.7zM209.8 93.0h0.7v0.7h-0.7zM212.5 87.7h0.7v0.7h-0.7zM199.1 90.2h0.7v0.7h-0.7zM201.1 92.5h0.7v0.7h-0.7zM201.5 88.3h0.7v0.7h-0.7zM203.1 91.0h0.7v0.7h-0.7zM213.1 88.7h0.7v0.7h-0.7zM206.6 89.8h0.7v0.7h-0.7zM218.9 89.2h0.7v0.7h-0.7zM219.0 88.1h0.7v0.7h-0.7zM219.4 92.7h0.7v0.7h-0.7zM218.4 91.4h0.7v0.7h-0.7zM221.9 92.9h0.7v0.7h-0.7zM211.2 88.5h0.7v0.7h-0.7zM207.5 91.3h0.7v0.7h-0.7zM208.3 90.8h0.7v0.7h-0.7zM200.6 92.7h0.7v0.7h-0.7zM201.9 88.5h0.7v0.7h-0.7zM221.1 88.8h0.7v0.7h-0.7zM215.0 89.8h0.7v0.7h-0.7zM219.1 93.4h0.7v0.7h-0.7zM219.2 88.7h0.7v0.7h-0.7zM218.0 90.4h0.7v0.7h-0.7zM206.9 89.1h0.7v0.7h-0.7zM208.5 92.4h0.7v0.7h-0.7zM221.5 90.0h0.7v0.7h-0.7zM200.9 89.6h0.7v0.7h-0.7zM210.9 92.7h0.7v0.7h-0.7zM202.0 91.3h0.7v0.7h-0.7zM217.6 93.1h0.7v0.7h-0.7zM218.3 88.4h0.7v0.7h-0.7zM200.7 92.0h0.7v0.7h-0.7zM213.2 88.2h0.7v0.7h-0.7zM221.8 92.0h0.7v0.7h-0.7zM205.6 90.1h0.7v0.7h-0.7zM210.0 92.8h0.7v0.7h-0.7zM208.5 89.6h0.7v0.7h-0.7zM207.2 92.3h0.7v0.7h-0.7zM210.0 89.5h0.7v0.7h-0.7zM202.8 87.9h0.7v0.7h-0.7zM210.1 91.1h0.7v0.7h-0.7zM208.7 88.8h0.7v0.7h-0.7zM220.6 92.0h0.7v0.7h-0.7zM207.3 92.1h0.7v0.7h-0.7zM219.8 89.7h0.7v0.7h-0.7zM215.0 88.5h0.7v0.7h-0.7zM220.1 92.3h0.7v0.7h-0.7zM220.8 92.9h0.7v0.7h-0.7zM218.9 93.0h0.7v0.7h-0.7zM209.3 92.0h0.7v0.7h-0.7zM214.3 88.6h0.7v0.7h-0.7zM202.1 92.6h0.7v0.7h-0.7zM220.9 89.8h0.7v0.7h-0.7zM218.4 90.4h0.7v0.7h-0.7zM209.5 88.9h0.7v0.7h-0.7zM217.4 91.9h0.7v0.7h-0.7zM213.2 93.2h0.7v0.7h-0.7z" fill="#fff" fill-opacity="0.6"/>
<path d="M197.5 98.8h0.7v0.7h-0.7zM197.1 95.5h0.7v0.7h-0.7zM213.9 93.9h0.7v0.7h-0.7zM204.9 97.1h0.7v0.7h-0.7zM214.0 98.0h0.7v0.7h-0.7zM214.0 93.6h0.7v0.7h-0.7zM211.5 96.7h0.7v0.7h-0.7zM198.2 93.8h0.7v0.7h-0.7zM217.8 97.7h0.7v0.7h-0.7zM204.0 96.7h0.7v0.7h-0.7zM217.3 97.8h0.7v0.7h-0.7zM194.3 98.5h0.7v0.7h-0.7zM212.3 97.4h0.7v0.7h-0.7zM215.2 97.7h0.7v0.7h-0.7zM214.1 95.7h0.7v0.7h-0.7zM209.6 95.1h0.7v0.7h-0.7zM217.9 98.4h0.7v0.7h-0.7zM199.8 95.1h0.7v0.7h-0.7zM204.8 98.1h0.7v0.7h-0.7zM199.6 95.9h0.7v0.7h-0.7zM213.4 93.5h0.7v0.7h-0.7zM207.4 96.6h0.7v0.7h-0.7zM212.7 97.5h0.7v0.7h-0.7zM195.1 98.7h0.7v0.7h-0.7zM196.0 95.2h0.7v0.7h-0.7zM214.6 95.9h0.7v0.7h-0.7zM206.8 97.4h0.7v0.7h-0.7zM195.5 96.5h0.7v0.7h-0.7zM195.3 96.0h0.7v0.7h-0.7zM211.6 98.6h0.7v0.7h-0.7zM198.3 94.1h0.7v0.7h-0.7zM210.1 97.3h0.7v0.7h-0.7zM198.7 93.5h0.7v0.7h-0.7zM215.6 97.6h0.7v0.7h-0.7zM202.1 97.3h0.7v0.7h-0.7zM212.3 95.6h0.7v0.7h-0.7zM201.4 95.6h0.7v0.7h-0.7zM197.9 98.3h0.7v0.7h-0.7zM213.2 94.2h0.7v0.7h-0.7zM202.3 95.5h0.7v0.7h-0.7z" fill="#fff" fill-opacity="0.5"/>
<polygon points="224.0,81.2 229.0,80.5 228.5,84.0 226.0,87.4 224.0,87.4" fill="#cc44cc" fill-opacity="0.75"/>
<path d="M226.5 110.8h0.8v0.8h-0.8zM229.3 109.8h0.8v0.8h-0.8zM223.2 106.3h0.8v0.8h-0.8zM224.7 110.4h0.8v0.8h-0.8zM228.7 109.7h0.8v0.8h-0.8zM227.3 111.9h0.8v0.8h-0.8zM228.3 106.9h0.8v0.8h-0.8zM220.3 109.1h0.8v0.8h-0.8zM225.8 109.2h0.8v0.8h-0.8zM223.0 105.7h0.8v0.8h-0.8zM226.0 106.4h0.8v0.8h-0.8zM226.3 106.6h0.8v0.8h-0.8zM224.0 112.3h0.8v0.8h-0.8zM228.6 112.1h0.8v0.8h-0.8zM228.2 112.0h0.8v0.8h-0.8zM220.6 107.2h0.8v0.8h-0.8zM228.9 108.5h0.8v0.8h-0.8zM227.4 109.4h0.8v0.8h-0.8zM223.1 106.3h0.8v0.8h-0.8zM224.1 108.9h0.8v0.8h-0.8z" fill="#f21818" fill-opacity="0.5"/>
<path d="M193.5 100.7 L193.5 112.3 L212 112.3 L215 106 L229 81.5 L229.4 78.6 L227.2 76.7 L223.8 77 L218 81 L205 90 Z" fill="none" stroke="#222" stroke-width="0.75"/>
<text x="181.00" y="60.40" font-size="7.3" font-weight="bold" fill="#111" text-anchor="start">ANNEXIN&#160; V</text>
<path d="M160.90 35.30H270.80V145.50" fill="none" stroke="#6a6a6a" stroke-width="1"/>
<path d="M160.90 35.30V145.50H270.80" fill="none" stroke="#333" stroke-width="1"/>
<path d="M160.90 145.50v2.8M167.52 145.50v1.9M171.39 145.50v1.9M174.13 145.50v1.9M176.26 145.50v1.9M178.00 145.50v1.9M179.48 145.50v1.9M180.75 145.50v1.9M181.87 145.50v1.9M182.88 145.50v2.8M189.50 145.50v1.9M193.37 145.50v1.9M196.11 145.50v1.9M198.24 145.50v1.9M199.98 145.50v1.9M201.46 145.50v1.9M202.73 145.50v1.9M203.85 145.50v1.9M204.86 145.50v2.8M211.48 145.50v1.9M215.35 145.50v1.9M218.09 145.50v1.9M220.22 145.50v1.9M221.96 145.50v1.9M223.44 145.50v1.9M224.71 145.50v1.9M225.83 145.50v1.9M226.84 145.50v2.8M233.46 145.50v1.9M237.33 145.50v1.9M240.07 145.50v1.9M242.20 145.50v1.9M243.94 145.50v1.9M245.42 145.50v1.9M246.69 145.50v1.9M247.81 145.50v1.9M248.82 145.50v2.8M255.44 145.50v1.9M259.31 145.50v1.9M262.05 145.50v1.9M264.18 145.50v1.9M265.92 145.50v1.9M267.40 145.50v1.9M268.67 145.50v1.9M269.79 145.50v1.9M270.80 145.50v2.8M160.90 145.50h-2.8M160.90 138.87h-1.9M160.90 134.98h-1.9M160.90 132.23h-1.9M160.90 130.09h-1.9M160.90 128.35h-1.9M160.90 126.87h-1.9M160.90 125.60h-1.9M160.90 124.47h-1.9M160.90 123.46h-2.8M160.90 116.83h-1.9M160.90 112.94h-1.9M160.90 110.19h-1.9M160.90 108.05h-1.9M160.90 106.31h-1.9M160.90 104.83h-1.9M160.90 103.56h-1.9M160.90 102.43h-1.9M160.90 101.42h-2.8M160.90 94.79h-1.9M160.90 90.90h-1.9M160.90 88.15h-1.9M160.90 86.01h-1.9M160.90 84.27h-1.9M160.90 82.79h-1.9M160.90 81.52h-1.9M160.90 80.39h-1.9M160.90 79.38h-2.8M160.90 72.75h-1.9M160.90 68.86h-1.9M160.90 66.11h-1.9M160.90 63.97h-1.9M160.90 62.23h-1.9M160.90 60.75h-1.9M160.90 59.48h-1.9M160.90 58.35h-1.9M160.90 57.34h-2.8M160.90 50.71h-1.9M160.90 46.82h-1.9M160.90 44.07h-1.9M160.90 41.93h-1.9M160.90 40.19h-1.9M160.90 38.71h-1.9M160.90 37.44h-1.9M160.90 36.31h-1.9M160.90 35.30h-2.8" stroke="#333" stroke-width="0.75" fill="none"/>
<g transform="translate(161.70 155.50) scale(0.86 1)"><text x="0" y="0" font-size="6.7" fill="#222" text-anchor="middle">10<tspan font-size="4.2" dy="-3.0">2</tspan></text></g>
<g transform="translate(183.68 155.50) scale(0.86 1)"><text x="0" y="0" font-size="6.7" fill="#222" text-anchor="middle">10<tspan font-size="4.2" dy="-3.0">3</tspan></text></g>
<g transform="translate(205.66 155.50) scale(0.86 1)"><text x="0" y="0" font-size="6.7" fill="#222" text-anchor="middle">10<tspan font-size="4.2" dy="-3.0">4</tspan></text></g>
<g transform="translate(227.64 155.50) scale(0.86 1)"><text x="0" y="0" font-size="6.7" fill="#222" text-anchor="middle">10<tspan font-size="4.2" dy="-3.0">5</tspan></text></g>
<g transform="translate(249.62 155.50) scale(0.86 1)"><text x="0" y="0" font-size="6.7" fill="#222" text-anchor="middle">10<tspan font-size="4.2" dy="-3.0">6</tspan></text></g>
<g transform="translate(271.60 155.50) scale(0.86 1)"><text x="0" y="0" font-size="6.7" fill="#222" text-anchor="middle">10<tspan font-size="4.2" dy="-3.0">7</tspan></text></g>
<g transform="translate(154.90 144.90) rotate(-90) scale(0.86 1)"><text x="0" y="0" font-size="6.7" fill="#222" text-anchor="middle">10<tspan font-size="4.2" dy="-3.0">2</tspan></text></g>
<g transform="translate(154.90 122.86) rotate(-90) scale(0.86 1)"><text x="0" y="0" font-size="6.7" fill="#222" text-anchor="middle">10<tspan font-size="4.2" dy="-3.0">3</tspan></text></g>
<g transform="translate(154.90 100.82) rotate(-90) scale(0.86 1)"><text x="0" y="0" font-size="6.7" fill="#222" text-anchor="middle">10<tspan font-size="4.2" dy="-3.0">4</tspan></text></g>
<g transform="translate(154.90 78.78) rotate(-90) scale(0.86 1)"><text x="0" y="0" font-size="6.7" fill="#222" text-anchor="middle">10<tspan font-size="4.2" dy="-3.0">5</tspan></text></g>
<g transform="translate(154.90 56.74) rotate(-90) scale(0.86 1)"><text x="0" y="0" font-size="6.7" fill="#222" text-anchor="middle">10<tspan font-size="4.2" dy="-3.0">6</tspan></text></g>
<g transform="translate(154.90 34.70) rotate(-90) scale(0.86 1)"><text x="0" y="0" font-size="6.7" fill="#222" text-anchor="middle">10<tspan font-size="4.2" dy="-3.0">7</tspan></text></g>
<text x="215.60" y="161.90" font-size="5.6" fill="#222" text-anchor="middle">ANEXIN FITC-H</text>
<text x="147.80" y="89.80" font-size="5.8" fill="#222" text-anchor="middle" transform="rotate(-90 147.80 89.80)">Violet SSC-H</text>
<text x="295.80" y="16.40" font-size="11.3" font-weight="bold" fill="#000" text-anchor="start">C</text>
<text x="353.60" y="29.00" font-size="7.25" font-weight="bold" fill="#111" text-anchor="middle">PBT ANNEXIN&#160; V</text>
<path d="M341.1 87.4h0.6v0.6h-0.6zM349.5 97.3h0.6v0.6h-0.6zM333.0 104.3h0.6v0.6h-0.6zM349.5 111.1h0.6v0.6h-0.6zM346.7 117.1h0.6v0.6h-0.6zM347.9 122.3h0.6v0.6h-0.6zM363.5 120.3h0.6v0.6h-0.6zM334.3 113.3h0.6v0.6h-0.6zM348.1 99.6h0.6v0.6h-0.6zM347.7 109.1h0.6v0.6h-0.6zM334.0 119.4h0.6v0.6h-0.6zM344.3 87.7h0.6v0.6h-0.6zM334.9 110.7h0.6v0.6h-0.6zM332.1 108.4h0.6v0.6h-0.6zM329.1 99.3h0.6v0.6h-0.6zM340.2 126.4h0.6v0.6h-0.6zM333.1 91.5h0.6v0.6h-0.6zM344.6 100.6h0.6v0.6h-0.6zM327.3 92.4h0.6v0.6h-0.6zM348.1 120.0h0.6v0.6h-0.6zM344.2 77.9h0.6v0.6h-0.6zM335.0 82.8h0.6v0.6h-0.6zM328.4 105.5h0.6v0.6h-0.6zM334.2 111.6h0.6v0.6h-0.6zM330.4 84.5h0.6v0.6h-0.6zM338.8 119.3h0.6v0.6h-0.6zM363.4 115.5h0.6v0.6h-0.6zM336.9 94.4h0.6v0.6h-0.6zM346.9 126.2h0.6v0.6h-0.6zM350.9 100.1h0.6v0.6h-0.6zM353.7 92.0h0.6v0.6h-0.6zM333.5 104.3h0.6v0.6h-0.6zM349.0 127.4h0.6v0.6h-0.6zM340.1 90.1h0.6v0.6h-0.6zM349.4 103.8h0.6v0.6h-0.6zM348.2 83.6h0.6v0.6h-0.6zM329.8 91.3h0.6v0.6h-0.6zM334.8 92.9h0.6v0.6h-0.6zM335.5 94.0h0.6v0.6h-0.6zM330.0 107.6h0.6v0.6h-0.6zM344.4 116.9h0.6v0.6h-0.6zM335.4 122.9h0.6v0.6h-0.6zM347.2 77.2h0.6v0.6h-0.6zM341.0 100.1h0.6v0.6h-0.6zM339.1 84.7h0.6v0.6h-0.6zM357.4 109.8h0.6v0.6h-0.6zM352.2 104.3h0.6v0.6h-0.6zM330.4 100.6h0.6v0.6h-0.6zM354.0 93.3h0.6v0.6h-0.6zM348.6 87.3h0.6v0.6h-0.6zM353.6 77.1h0.6v0.6h-0.6zM345.9 114.3h0.6v0.6h-0.6zM326.3 98.0h0.6v0.6h-0.6zM338.7 101.2h0.6v0.6h-0.6zM329.7 111.8h0.6v0.6h-0.6zM335.9 127.1h0.6v0.6h-0.6zM353.1 98.2h0.6v0.6h-0.6zM342.3 109.9h0.6v0.6h-0.6zM343.9 77.9h0.6v0.6h-0.6zM348.4 95.2h0.6v0.6h-0.6zM334.0 90.8h0.6v0.6h-0.6zM351.6 92.0h0.6v0.6h-0.6zM343.9 116.9h0.6v0.6h-0.6zM333.5 102.2h0.6v0.6h-0.6zM336.9 101.6h0.6v0.6h-0.6zM339.8 101.8h0.6v0.6h-0.6zM347.3 97.6h0.6v0.6h-0.6zM354.4 97.7h0.6v0.6h-0.6zM339.2 91.7h0.6v0.6h-0.6zM340.0 93.2h0.6v0.6h-0.6zM357.7 94.7h0.6v0.6h-0.6zM370.0 98.2h0.6v0.6h-0.6zM343.6 101.6h0.6v0.6h-0.6zM338.8 100.2h0.6v0.6h-0.6zM347.9 106.5h0.6v0.6h-0.6zM344.6 85.2h0.6v0.6h-0.6zM335.0 87.7h0.6v0.6h-0.6zM353.9 111.8h0.6v0.6h-0.6zM364.2 90.7h0.6v0.6h-0.6zM334.5 107.4h0.6v0.6h-0.6zM335.0 91.3h0.6v0.6h-0.6zM337.5 84.0h0.6v0.6h-0.6zM330.8 80.4h0.6v0.6h-0.6zM349.1 92.2h0.6v0.6h-0.6zM329.3 94.1h0.6v0.6h-0.6zM347.8 83.6h0.6v0.6h-0.6zM345.4 120.4h0.6v0.6h-0.6zM348.5 101.0h0.6v0.6h-0.6zM328.9 88.3h0.6v0.6h-0.6zM343.2 121.4h0.6v0.6h-0.6zM344.4 112.1h0.6v0.6h-0.6zM349.7 90.1h0.6v0.6h-0.6zM345.3 86.4h0.6v0.6h-0.6zM336.8 98.1h0.6v0.6h-0.6zM352.0 110.8h0.6v0.6h-0.6zM354.2 81.2h0.6v0.6h-0.6zM353.9 116.7h0.6v0.6h-0.6zM335.4 95.4h0.6v0.6h-0.6zM346.6 112.3h0.6v0.6h-0.6zM333.9 98.8h0.6v0.6h-0.6zM340.4 107.5h0.6v0.6h-0.6zM348.6 109.6h0.6v0.6h-0.6zM329.3 118.6h0.6v0.6h-0.6zM366.5 90.9h0.6v0.6h-0.6zM352.8 127.0h0.6v0.6h-0.6zM335.2 83.1h0.6v0.6h-0.6zM336.9 105.1h0.6v0.6h-0.6zM341.3 110.2h0.6v0.6h-0.6zM340.7 101.1h0.6v0.6h-0.6zM331.3 113.1h0.6v0.6h-0.6zM340.8 78.4h0.6v0.6h-0.6zM328.3 100.2h0.6v0.6h-0.6zM336.5 114.6h0.6v0.6h-0.6zM357.8 101.0h0.6v0.6h-0.6zM341.4 85.5h0.6v0.6h-0.6zM338.5 103.0h0.6v0.6h-0.6zM355.9 103.5h0.6v0.6h-0.6zM344.8 87.1h0.6v0.6h-0.6zM347.5 119.2h0.6v0.6h-0.6zM336.9 93.4h0.6v0.6h-0.6zM351.7 86.6h0.6v0.6h-0.6zM339.0 102.3h0.6v0.6h-0.6zM349.7 91.8h0.6v0.6h-0.6zM347.7 98.2h0.6v0.6h-0.6zM357.3 104.1h0.6v0.6h-0.6zM350.8 95.1h0.6v0.6h-0.6zM341.8 109.1h0.6v0.6h-0.6zM332.6 105.0h0.6v0.6h-0.6zM339.3 117.7h0.6v0.6h-0.6zM335.8 87.1h0.6v0.6h-0.6zM355.6 101.8h0.6v0.6h-0.6zM338.0 104.5h0.6v0.6h-0.6zM349.2 86.2h0.6v0.6h-0.6zM333.8 105.4h0.6v0.6h-0.6zM348.3 108.8h0.6v0.6h-0.6zM330.2 101.4h0.6v0.6h-0.6zM344.1 103.5h0.6v0.6h-0.6zM340.5 117.8h0.6v0.6h-0.6zM344.7 96.1h0.6v0.6h-0.6zM345.7 90.4h0.6v0.6h-0.6zM336.0 121.6h0.6v0.6h-0.6zM349.1 109.4h0.6v0.6h-0.6zM337.5 98.7h0.6v0.6h-0.6zM343.0 91.1h0.6v0.6h-0.6zM354.6 123.1h0.6v0.6h-0.6zM333.7 97.2h0.6v0.6h-0.6zM342.6 89.8h0.6v0.6h-0.6zM356.2 118.5h0.6v0.6h-0.6zM353.2 80.7h0.6v0.6h-0.6zM335.9 98.9h0.6v0.6h-0.6zM336.4 109.6h0.6v0.6h-0.6zM346.8 97.1h0.6v0.6h-0.6zM336.1 93.9h0.6v0.6h-0.6zM342.6 107.0h0.6v0.6h-0.6zM329.8 84.2h0.6v0.6h-0.6zM347.6 98.0h0.6v0.6h-0.6zM327.6 110.9h0.6v0.6h-0.6zM343.1 85.9h0.6v0.6h-0.6zM348.2 120.1h0.6v0.6h-0.6zM336.0 98.1h0.6v0.6h-0.6zM327.9 99.9h0.6v0.6h-0.6zM330.6 94.4h0.6v0.6h-0.6zM357.9 94.4h0.6v0.6h-0.6zM330.4 118.3h0.6v0.6h-0.6zM344.9 118.2h0.6v0.6h-0.6zM342.4 80.0h0.6v0.6h-0.6zM351.1 119.6h0.6v0.6h-0.6zM353.7 94.2h0.6v0.6h-0.6zM346.0 105.1h0.6v0.6h-0.6zM341.4 102.4h0.6v0.6h-0.6zM336.9 104.8h0.6v0.6h-0.6zM340.3 92.7h0.6v0.6h-0.6zM350.4 109.0h0.6v0.6h-0.6zM347.4 114.9h0.6v0.6h-0.6zM347.6 93.0h0.6v0.6h-0.6zM326.9 100.7h0.6v0.6h-0.6zM335.1 112.2h0.6v0.6h-0.6zM335.8 115.8h0.6v0.6h-0.6zM337.1 105.6h0.6v0.6h-0.6zM332.4 104.7h0.6v0.6h-0.6zM348.1 107.6h0.6v0.6h-0.6zM351.5 96.3h0.6v0.6h-0.6zM358.3 105.6h0.6v0.6h-0.6zM337.2 97.1h0.6v0.6h-0.6zM341.0 96.2h0.6v0.6h-0.6zM341.9 76.2h0.6v0.6h-0.6zM334.4 106.0h0.6v0.6h-0.6zM349.1 111.1h0.6v0.6h-0.6zM337.6 102.3h0.6v0.6h-0.6zM347.6 108.7h0.6v0.6h-0.6zM329.4 95.4h0.6v0.6h-0.6zM331.6 100.8h0.6v0.6h-0.6zM341.8 121.5h0.6v0.6h-0.6zM332.6 81.7h0.6v0.6h-0.6zM344.2 92.6h0.6v0.6h-0.6zM338.5 97.5h0.6v0.6h-0.6zM331.0 84.4h0.6v0.6h-0.6zM334.6 115.4h0.6v0.6h-0.6zM347.1 107.9h0.6v0.6h-0.6zM343.0 98.9h0.6v0.6h-0.6zM346.0 118.8h0.6v0.6h-0.6zM339.3 87.2h0.6v0.6h-0.6zM350.5 127.1h0.6v0.6h-0.6zM345.1 99.8h0.6v0.6h-0.6zM353.9 92.4h0.6v0.6h-0.6zM329.8 115.7h0.6v0.6h-0.6zM344.3 107.9h0.6v0.6h-0.6zM340.0 103.5h0.6v0.6h-0.6zM345.6 99.1h0.6v0.6h-0.6zM330.0 100.7h0.6v0.6h-0.6zM350.0 113.9h0.6v0.6h-0.6zM346.9 89.7h0.6v0.6h-0.6zM325.8 101.9h0.6v0.6h-0.6zM345.6 79.1h0.6v0.6h-0.6zM347.1 99.8h0.6v0.6h-0.6zM327.5 110.2h0.6v0.6h-0.6zM341.3 110.8h0.6v0.6h-0.6zM339.6 117.1h0.6v0.6h-0.6zM327.3 89.6h0.6v0.6h-0.6zM346.5 111.4h0.6v0.6h-0.6zM337.6 86.4h0.6v0.6h-0.6zM351.8 96.3h0.6v0.6h-0.6zM341.6 100.5h0.6v0.6h-0.6zM366.8 100.2h0.6v0.6h-0.6zM343.6 112.6h0.6v0.6h-0.6zM357.9 106.4h0.6v0.6h-0.6zM345.2 94.4h0.6v0.6h-0.6zM346.9 111.4h0.6v0.6h-0.6zM335.2 114.2h0.6v0.6h-0.6zM336.2 107.5h0.6v0.6h-0.6zM357.0 105.4h0.6v0.6h-0.6zM340.3 106.6h0.6v0.6h-0.6zM331.7 117.1h0.6v0.6h-0.6zM346.7 93.4h0.6v0.6h-0.6zM334.5 99.5h0.6v0.6h-0.6zM342.8 86.7h0.6v0.6h-0.6zM352.4 97.4h0.6v0.6h-0.6zM353.8 89.1h0.6v0.6h-0.6zM358.6 89.1h0.6v0.6h-0.6zM348.1 99.0h0.6v0.6h-0.6zM347.1 114.3h0.6v0.6h-0.6zM341.9 117.9h0.6v0.6h-0.6zM362.7 99.8h0.6v0.6h-0.6zM341.6 90.9h0.6v0.6h-0.6zM357.4 104.5h0.6v0.6h-0.6zM341.2 96.8h0.6v0.6h-0.6zM353.2 99.2h0.6v0.6h-0.6zM343.7 102.6h0.6v0.6h-0.6zM336.7 105.3h0.6v0.6h-0.6zM356.5 96.5h0.6v0.6h-0.6zM355.9 97.8h0.6v0.6h-0.6zM336.7 87.7h0.6v0.6h-0.6zM341.7 98.5h0.6v0.6h-0.6zM350.8 89.4h0.6v0.6h-0.6zM345.2 115.9h0.6v0.6h-0.6zM343.3 97.0h0.6v0.6h-0.6zM351.3 110.3h0.6v0.6h-0.6zM330.7 118.0h0.6v0.6h-0.6zM357.1 114.2h0.6v0.6h-0.6zM346.6 90.7h0.6v0.6h-0.6zM341.9 119.8h0.6v0.6h-0.6zM342.6 87.6h0.6v0.6h-0.6zM329.1 99.1h0.6v0.6h-0.6zM355.0 90.3h0.6v0.6h-0.6zM342.7 79.5h0.6v0.6h-0.6zM352.3 103.6h0.6v0.6h-0.6zM339.3 76.5h0.6v0.6h-0.6zM341.8 108.8h0.6v0.6h-0.6zM351.9 115.9h0.6v0.6h-0.6zM346.9 118.6h0.6v0.6h-0.6zM351.7 103.5h0.6v0.6h-0.6zM339.6 99.4h0.6v0.6h-0.6zM358.1 94.5h0.6v0.6h-0.6zM330.1 138.0h0.6v0.6h-0.6zM330.6 116.7h0.6v0.6h-0.6zM347.5 108.8h0.6v0.6h-0.6zM340.2 104.7h0.6v0.6h-0.6zM344.8 115.1h0.6v0.6h-0.6zM341.6 111.9h0.6v0.6h-0.6zM333.5 92.1h0.6v0.6h-0.6zM354.9 115.3h0.6v0.6h-0.6zM335.5 89.5h0.6v0.6h-0.6zM360.1 106.1h0.6v0.6h-0.6zM357.2 89.9h0.6v0.6h-0.6zM335.5 94.5h0.6v0.6h-0.6zM350.4 122.3h0.6v0.6h-0.6zM333.2 104.6h0.6v0.6h-0.6zM342.0 105.5h0.6v0.6h-0.6zM333.3 78.4h0.6v0.6h-0.6zM338.3 112.5h0.6v0.6h-0.6zM326.4 91.2h0.6v0.6h-0.6zM341.7 106.5h0.6v0.6h-0.6zM333.7 86.0h0.6v0.6h-0.6zM335.1 105.1h0.6v0.6h-0.6zM343.5 79.9h0.6v0.6h-0.6zM360.3 104.4h0.6v0.6h-0.6zM339.8 87.8h0.6v0.6h-0.6zM341.8 117.3h0.6v0.6h-0.6zM332.9 105.2h0.6v0.6h-0.6zM338.9 100.8h0.6v0.6h-0.6zM335.4 142.1h0.6v0.6h-0.6zM329.1 111.6h0.6v0.6h-0.6zM335.1 94.8h0.6v0.6h-0.6zM338.4 112.2h0.6v0.6h-0.6zM345.9 104.0h0.6v0.6h-0.6zM340.0 118.8h0.6v0.6h-0.6zM345.6 86.3h0.6v0.6h-0.6zM354.7 127.2h0.6v0.6h-0.6zM351.4 93.1h0.6v0.6h-0.6zM339.3 94.9h0.6v0.6h-0.6zM327.1 90.0h0.6v0.6h-0.6zM341.3 96.0h0.6v0.6h-0.6zM343.7 126.6h0.6v0.6h-0.6zM352.0 102.7h0.6v0.6h-0.6zM344.2 85.4h0.6v0.6h-0.6zM368.1 98.1h0.6v0.6h-0.6zM340.0 103.6h0.6v0.6h-0.6zM348.9 113.4h0.6v0.6h-0.6zM334.7 95.7h0.6v0.6h-0.6z" fill="#99a8bb" fill-opacity="0.4"/>
<path d="M349.0 136.3h0.6v0.6h-0.6zM362.6 140.4h0.6v0.6h-0.6zM347.4 139.7h0.6v0.6h-0.6zM348.6 136.6h0.6v0.6h-0.6zM342.2 129.4h0.6v0.6h-0.6zM352.8 130.5h0.6v0.6h-0.6zM345.8 127.0h0.6v0.6h-0.6zM357.2 143.4h0.6v0.6h-0.6zM354.0 139.8h0.6v0.6h-0.6zM352.1 132.1h0.6v0.6h-0.6zM345.6 132.0h0.6v0.6h-0.6zM346.4 133.8h0.6v0.6h-0.6zM346.2 128.5h0.6v0.6h-0.6zM348.5 135.5h0.6v0.6h-0.6zM346.3 135.3h0.6v0.6h-0.6zM345.4 134.9h0.6v0.6h-0.6zM348.6 132.7h0.6v0.6h-0.6zM347.9 117.6h0.6v0.6h-0.6zM346.2 131.2h0.6v0.6h-0.6zM352.6 124.1h0.6v0.6h-0.6zM353.2 122.5h0.6v0.6h-0.6zM358.7 129.4h0.6v0.6h-0.6zM350.0 131.2h0.6v0.6h-0.6zM354.1 130.6h0.6v0.6h-0.6zM357.4 127.3h0.6v0.6h-0.6zM341.1 141.9h0.6v0.6h-0.6zM350.6 121.5h0.6v0.6h-0.6zM352.6 135.1h0.6v0.6h-0.6zM354.0 128.9h0.6v0.6h-0.6zM352.0 139.8h0.6v0.6h-0.6zM353.1 137.3h0.6v0.6h-0.6zM340.6 132.8h0.6v0.6h-0.6zM343.4 123.5h0.6v0.6h-0.6zM350.9 136.9h0.6v0.6h-0.6zM338.0 138.0h0.6v0.6h-0.6zM345.4 136.2h0.6v0.6h-0.6zM347.2 130.6h0.6v0.6h-0.6zM349.9 136.0h0.6v0.6h-0.6zM352.5 127.7h0.6v0.6h-0.6zM349.3 133.7h0.6v0.6h-0.6zM344.0 134.4h0.6v0.6h-0.6zM343.3 130.9h0.6v0.6h-0.6zM350.1 126.4h0.6v0.6h-0.6zM351.0 130.9h0.6v0.6h-0.6zM350.0 127.1h0.6v0.6h-0.6zM348.8 125.2h0.6v0.6h-0.6zM348.6 138.4h0.6v0.6h-0.6zM341.2 131.3h0.6v0.6h-0.6zM348.0 129.2h0.6v0.6h-0.6zM351.9 129.2h0.6v0.6h-0.6zM342.5 134.8h0.6v0.6h-0.6zM350.2 130.3h0.6v0.6h-0.6zM351.5 128.1h0.6v0.6h-0.6zM359.6 133.8h0.6v0.6h-0.6zM347.8 133.1h0.6v0.6h-0.6zM346.9 126.9h0.6v0.6h-0.6zM342.1 125.9h0.6v0.6h-0.6zM342.7 139.9h0.6v0.6h-0.6zM340.1 130.6h0.6v0.6h-0.6zM339.2 139.3h0.6v0.6h-0.6zM351.6 135.7h0.6v0.6h-0.6zM348.0 131.8h0.6v0.6h-0.6zM349.6 130.8h0.6v0.6h-0.6zM340.2 141.8h0.6v0.6h-0.6zM338.1 128.4h0.6v0.6h-0.6zM339.3 129.9h0.6v0.6h-0.6zM356.1 127.3h0.6v0.6h-0.6zM353.7 131.3h0.6v0.6h-0.6zM341.5 126.7h0.6v0.6h-0.6zM348.6 132.9h0.6v0.6h-0.6zM348.9 124.8h0.6v0.6h-0.6zM343.2 135.3h0.6v0.6h-0.6zM344.9 134.2h0.6v0.6h-0.6zM352.8 133.4h0.6v0.6h-0.6zM351.6 128.6h0.6v0.6h-0.6zM352.6 139.8h0.6v0.6h-0.6zM349.7 144.0h0.6v0.6h-0.6zM348.7 131.4h0.6v0.6h-0.6zM350.6 127.6h0.6v0.6h-0.6zM347.4 136.0h0.6v0.6h-0.6zM356.5 130.9h0.6v0.6h-0.6zM349.3 133.0h0.6v0.6h-0.6zM350.8 136.0h0.6v0.6h-0.6zM347.7 124.2h0.6v0.6h-0.6zM344.8 136.5h0.6v0.6h-0.6zM347.9 126.0h0.6v0.6h-0.6zM346.5 124.8h0.6v0.6h-0.6zM344.2 129.9h0.6v0.6h-0.6zM352.2 140.8h0.6v0.6h-0.6zM358.0 128.4h0.6v0.6h-0.6zM349.6 134.9h0.6v0.6h-0.6zM347.7 126.7h0.6v0.6h-0.6zM344.6 135.9h0.6v0.6h-0.6zM340.9 134.1h0.6v0.6h-0.6zM351.2 139.0h0.6v0.6h-0.6zM351.0 133.2h0.6v0.6h-0.6zM344.3 132.2h0.6v0.6h-0.6zM348.6 121.1h0.6v0.6h-0.6zM344.0 134.0h0.6v0.6h-0.6zM355.2 136.8h0.6v0.6h-0.6zM348.8 133.3h0.6v0.6h-0.6zM350.4 133.2h0.6v0.6h-0.6zM356.6 135.5h0.6v0.6h-0.6zM337.2 137.3h0.6v0.6h-0.6zM350.2 126.9h0.6v0.6h-0.6zM349.5 131.7h0.6v0.6h-0.6zM346.8 134.7h0.6v0.6h-0.6zM348.3 133.7h0.6v0.6h-0.6zM354.4 126.5h0.6v0.6h-0.6zM345.0 120.4h0.6v0.6h-0.6zM345.0 134.0h0.6v0.6h-0.6zM356.8 136.4h0.6v0.6h-0.6zM353.3 142.0h0.6v0.6h-0.6zM350.7 134.6h0.6v0.6h-0.6zM352.3 127.0h0.6v0.6h-0.6zM348.7 134.8h0.6v0.6h-0.6zM346.8 131.5h0.6v0.6h-0.6zM347.6 128.1h0.6v0.6h-0.6zM349.9 123.6h0.6v0.6h-0.6zM346.0 121.4h0.6v0.6h-0.6zM340.5 128.0h0.6v0.6h-0.6zM347.5 129.7h0.6v0.6h-0.6zM349.7 132.5h0.6v0.6h-0.6zM347.7 132.2h0.6v0.6h-0.6zM351.6 133.5h0.6v0.6h-0.6zM349.8 143.4h0.6v0.6h-0.6zM353.1 131.7h0.6v0.6h-0.6zM349.0 140.2h0.6v0.6h-0.6zM347.5 127.5h0.6v0.6h-0.6zM351.2 127.8h0.6v0.6h-0.6zM352.7 129.0h0.6v0.6h-0.6zM346.2 121.5h0.6v0.6h-0.6zM344.1 141.9h0.6v0.6h-0.6zM354.9 133.6h0.6v0.6h-0.6zM345.8 136.4h0.6v0.6h-0.6zM350.2 142.3h0.6v0.6h-0.6zM346.1 134.8h0.6v0.6h-0.6zM349.4 141.8h0.6v0.6h-0.6zM355.2 118.1h0.6v0.6h-0.6zM356.6 139.6h0.6v0.6h-0.6zM341.9 133.9h0.6v0.6h-0.6zM341.3 128.8h0.6v0.6h-0.6zM331.9 138.5h0.6v0.6h-0.6zM351.3 132.3h0.6v0.6h-0.6zM356.0 128.0h0.6v0.6h-0.6zM349.6 120.6h0.6v0.6h-0.6zM346.9 142.7h0.6v0.6h-0.6zM352.4 116.6h0.6v0.6h-0.6zM343.8 132.5h0.6v0.6h-0.6z" fill="#99bbcc" fill-opacity="0.5"/>
<path d="M333.3 115.6h0.8v0.8h-0.8zM331.1 125.3h0.8v0.8h-0.8zM328.1 131.6h0.8v0.8h-0.8zM328.9 113.1h0.8v0.8h-0.8zM328.1 129.4h0.8v0.8h-0.8zM330.1 133.9h0.8v0.8h-0.8zM329.4 143.8h0.8v0.8h-0.8zM326.5 123.9h0.8v0.8h-0.8zM326.0 118.5h0.8v0.8h-0.8zM332.2 101.4h0.8v0.8h-0.8zM326.5 116.1h0.8v0.8h-0.8zM326.8 121.3h0.8v0.8h-0.8zM335.1 114.4h0.8v0.8h-0.8zM327.5 101.6h0.8v0.8h-0.8zM326.4 116.1h0.8v0.8h-0.8zM327.2 117.9h0.8v0.8h-0.8zM331.3 107.3h0.8v0.8h-0.8zM327.7 111.6h0.8v0.8h-0.8zM329.2 123.1h0.8v0.8h-0.8zM328.0 126.3h0.8v0.8h-0.8zM329.6 102.8h0.8v0.8h-0.8zM329.6 120.7h0.8v0.8h-0.8zM333.0 98.0h0.8v0.8h-0.8zM330.7 132.8h0.8v0.8h-0.8zM327.4 108.9h0.8v0.8h-0.8zM328.8 100.4h0.8v0.8h-0.8zM329.6 99.4h0.8v0.8h-0.8zM331.0 112.9h0.8v0.8h-0.8zM331.4 124.9h0.8v0.8h-0.8zM327.1 103.8h0.8v0.8h-0.8zM327.2 131.0h0.8v0.8h-0.8zM328.4 111.7h0.8v0.8h-0.8zM326.6 110.4h0.8v0.8h-0.8zM331.9 113.1h0.8v0.8h-0.8zM326.8 143.2h0.8v0.8h-0.8zM330.2 120.0h0.8v0.8h-0.8zM329.9 116.4h0.8v0.8h-0.8zM328.6 141.2h0.8v0.8h-0.8zM335.1 132.6h0.8v0.8h-0.8zM326.2 127.3h0.8v0.8h-0.8zM335.6 118.9h0.8v0.8h-0.8zM327.1 138.3h0.8v0.8h-0.8zM328.8 108.7h0.8v0.8h-0.8zM330.2 122.7h0.8v0.8h-0.8zM332.1 108.7h0.8v0.8h-0.8zM331.1 102.4h0.8v0.8h-0.8zM328.6 126.0h0.8v0.8h-0.8zM328.6 134.4h0.8v0.8h-0.8zM332.3 140.6h0.8v0.8h-0.8zM333.1 124.2h0.8v0.8h-0.8zM328.2 135.5h0.8v0.8h-0.8zM332.4 111.8h0.8v0.8h-0.8zM330.8 95.3h0.8v0.8h-0.8zM330.1 108.3h0.8v0.8h-0.8zM326.8 126.9h0.8v0.8h-0.8zM326.4 113.5h0.8v0.8h-0.8zM330.5 143.5h0.8v0.8h-0.8zM328.3 116.8h0.8v0.8h-0.8zM330.5 141.0h0.8v0.8h-0.8zM333.4 136.2h0.8v0.8h-0.8zM333.4 110.6h0.8v0.8h-0.8zM326.9 132.2h0.8v0.8h-0.8zM329.2 115.2h0.8v0.8h-0.8zM329.2 118.6h0.8v0.8h-0.8zM328.2 135.8h0.8v0.8h-0.8zM330.6 118.4h0.8v0.8h-0.8zM333.5 117.3h0.8v0.8h-0.8zM329.7 105.5h0.8v0.8h-0.8zM329.7 114.8h0.8v0.8h-0.8zM329.8 124.6h0.8v0.8h-0.8zM327.8 102.6h0.8v0.8h-0.8zM331.0 110.1h0.8v0.8h-0.8zM328.3 103.9h0.8v0.8h-0.8zM327.1 123.8h0.8v0.8h-0.8zM331.0 128.6h0.8v0.8h-0.8zM328.3 115.7h0.8v0.8h-0.8zM328.5 105.1h0.8v0.8h-0.8zM329.2 95.9h0.8v0.8h-0.8zM325.8 123.0h0.8v0.8h-0.8zM327.2 142.3h0.8v0.8h-0.8zM329.1 114.8h0.8v0.8h-0.8zM330.9 115.4h0.8v0.8h-0.8zM329.2 112.2h0.8v0.8h-0.8zM329.0 102.9h0.8v0.8h-0.8zM327.5 135.6h0.8v0.8h-0.8zM329.5 128.0h0.8v0.8h-0.8zM331.0 98.8h0.8v0.8h-0.8zM331.8 134.1h0.8v0.8h-0.8zM329.4 105.8h0.8v0.8h-0.8zM327.2 120.4h0.8v0.8h-0.8zM332.7 99.7h0.8v0.8h-0.8zM327.9 124.6h0.8v0.8h-0.8zM332.7 103.1h0.8v0.8h-0.8zM328.8 110.4h0.8v0.8h-0.8zM327.7 104.8h0.8v0.8h-0.8zM329.1 121.7h0.8v0.8h-0.8zM330.7 126.0h0.8v0.8h-0.8zM328.9 126.9h0.8v0.8h-0.8zM328.4 119.6h0.8v0.8h-0.8zM329.4 116.9h0.8v0.8h-0.8zM330.4 111.9h0.8v0.8h-0.8zM329.5 129.2h0.8v0.8h-0.8zM330.8 99.3h0.8v0.8h-0.8zM330.9 104.6h0.8v0.8h-0.8zM330.2 127.2h0.8v0.8h-0.8zM331.2 96.2h0.8v0.8h-0.8zM329.5 140.8h0.8v0.8h-0.8zM332.2 110.9h0.8v0.8h-0.8zM330.5 119.6h0.8v0.8h-0.8zM331.5 134.3h0.8v0.8h-0.8zM329.0 118.0h0.8v0.8h-0.8zM326.1 124.2h0.8v0.8h-0.8zM328.4 111.2h0.8v0.8h-0.8zM329.6 125.3h0.8v0.8h-0.8zM330.4 126.8h0.8v0.8h-0.8zM329.4 105.8h0.8v0.8h-0.8zM333.0 123.0h0.8v0.8h-0.8zM326.4 135.7h0.8v0.8h-0.8zM329.1 108.1h0.8v0.8h-0.8zM327.9 133.3h0.8v0.8h-0.8zM329.6 137.3h0.8v0.8h-0.8zM331.1 109.3h0.8v0.8h-0.8zM326.4 112.1h0.8v0.8h-0.8zM327.0 121.6h0.8v0.8h-0.8zM329.4 136.6h0.8v0.8h-0.8zM326.0 139.4h0.8v0.8h-0.8zM327.7 130.1h0.8v0.8h-0.8zM332.5 105.3h0.8v0.8h-0.8zM329.4 129.1h0.8v0.8h-0.8zM329.4 118.1h0.8v0.8h-0.8zM332.1 100.4h0.8v0.8h-0.8zM329.8 131.9h0.8v0.8h-0.8zM329.4 95.3h0.8v0.8h-0.8zM330.1 135.0h0.8v0.8h-0.8zM328.5 119.9h0.8v0.8h-0.8zM329.3 106.5h0.8v0.8h-0.8zM331.2 107.0h0.8v0.8h-0.8zM327.8 110.7h0.8v0.8h-0.8zM331.0 121.7h0.8v0.8h-0.8zM330.5 106.2h0.8v0.8h-0.8zM331.3 111.2h0.8v0.8h-0.8zM327.4 111.6h0.8v0.8h-0.8zM328.8 135.2h0.8v0.8h-0.8zM329.5 132.0h0.8v0.8h-0.8zM330.2 105.3h0.8v0.8h-0.8zM332.3 110.3h0.8v0.8h-0.8zM329.9 119.9h0.8v0.8h-0.8zM329.0 93.5h0.8v0.8h-0.8zM329.0 111.1h0.8v0.8h-0.8zM330.1 119.3h0.8v0.8h-0.8zM331.3 96.1h0.8v0.8h-0.8zM330.1 120.4h0.8v0.8h-0.8zM328.2 120.4h0.8v0.8h-0.8zM328.7 111.3h0.8v0.8h-0.8zM327.6 135.1h0.8v0.8h-0.8zM327.5 107.4h0.8v0.8h-0.8zM328.4 125.5h0.8v0.8h-0.8zM328.2 116.2h0.8v0.8h-0.8zM331.3 131.4h0.8v0.8h-0.8zM326.7 110.5h0.8v0.8h-0.8zM329.7 126.4h0.8v0.8h-0.8zM326.8 130.3h0.8v0.8h-0.8zM331.4 131.8h0.8v0.8h-0.8zM330.2 140.0h0.8v0.8h-0.8zM332.5 93.0h0.8v0.8h-0.8zM330.8 115.5h0.8v0.8h-0.8zM327.1 105.8h0.8v0.8h-0.8zM329.6 131.8h0.8v0.8h-0.8zM328.0 139.2h0.8v0.8h-0.8zM328.3 115.4h0.8v0.8h-0.8zM327.1 124.5h0.8v0.8h-0.8zM328.8 137.5h0.8v0.8h-0.8zM329.7 120.7h0.8v0.8h-0.8zM330.0 115.6h0.8v0.8h-0.8zM329.1 108.5h0.8v0.8h-0.8zM329.7 132.0h0.8v0.8h-0.8zM329.3 97.7h0.8v0.8h-0.8zM328.9 122.9h0.8v0.8h-0.8zM328.8 122.1h0.8v0.8h-0.8zM329.6 117.8h0.8v0.8h-0.8zM329.0 129.9h0.8v0.8h-0.8zM331.2 105.4h0.8v0.8h-0.8zM330.5 136.5h0.8v0.8h-0.8zM327.5 114.5h0.8v0.8h-0.8zM329.5 132.5h0.8v0.8h-0.8zM330.2 109.0h0.8v0.8h-0.8zM328.9 122.6h0.8v0.8h-0.8zM329.0 114.1h0.8v0.8h-0.8zM329.3 142.2h0.8v0.8h-0.8zM330.9 101.6h0.8v0.8h-0.8zM329.9 108.6h0.8v0.8h-0.8zM328.3 140.3h0.8v0.8h-0.8zM329.4 129.7h0.8v0.8h-0.8zM332.4 114.0h0.8v0.8h-0.8zM327.3 117.2h0.8v0.8h-0.8zM331.0 98.0h0.8v0.8h-0.8zM328.9 115.0h0.8v0.8h-0.8zM338.1 112.4h0.8v0.8h-0.8zM331.0 133.3h0.8v0.8h-0.8zM329.6 131.2h0.8v0.8h-0.8zM329.3 139.0h0.8v0.8h-0.8zM326.0 127.9h0.8v0.8h-0.8zM328.3 109.5h0.8v0.8h-0.8zM334.1 107.4h0.8v0.8h-0.8zM330.3 138.8h0.8v0.8h-0.8zM328.8 120.5h0.8v0.8h-0.8zM329.5 138.1h0.8v0.8h-0.8zM329.6 95.5h0.8v0.8h-0.8zM327.3 113.9h0.8v0.8h-0.8zM329.8 106.5h0.8v0.8h-0.8zM330.7 120.3h0.8v0.8h-0.8zM326.1 111.2h0.8v0.8h-0.8zM329.0 100.0h0.8v0.8h-0.8zM325.6 90.5h0.8v0.8h-0.8zM331.4 107.3h0.8v0.8h-0.8zM332.3 120.6h0.8v0.8h-0.8zM333.8 96.4h0.8v0.8h-0.8zM326.5 121.1h0.8v0.8h-0.8zM329.3 105.8h0.8v0.8h-0.8zM328.7 114.2h0.8v0.8h-0.8zM332.0 118.5h0.8v0.8h-0.8zM330.3 123.8h0.8v0.8h-0.8zM329.7 124.0h0.8v0.8h-0.8zM330.9 105.7h0.8v0.8h-0.8zM328.5 141.1h0.8v0.8h-0.8zM331.7 120.0h0.8v0.8h-0.8zM328.7 109.9h0.8v0.8h-0.8zM332.0 134.0h0.8v0.8h-0.8zM329.9 111.9h0.8v0.8h-0.8zM326.9 133.5h0.8v0.8h-0.8zM326.0 121.1h0.8v0.8h-0.8zM325.9 115.8h0.8v0.8h-0.8zM330.6 104.9h0.8v0.8h-0.8zM332.6 110.3h0.8v0.8h-0.8zM328.8 138.4h0.8v0.8h-0.8zM326.4 124.7h0.8v0.8h-0.8zM330.3 116.1h0.8v0.8h-0.8zM326.7 127.9h0.8v0.8h-0.8zM329.6 113.7h0.8v0.8h-0.8zM328.9 101.1h0.8v0.8h-0.8zM332.3 93.6h0.8v0.8h-0.8zM331.6 136.1h0.8v0.8h-0.8zM331.7 111.6h0.8v0.8h-0.8zM328.5 142.6h0.8v0.8h-0.8zM332.4 142.0h0.8v0.8h-0.8zM329.4 122.6h0.8v0.8h-0.8zM329.8 129.1h0.8v0.8h-0.8zM330.5 111.9h0.8v0.8h-0.8zM330.1 115.7h0.8v0.8h-0.8zM326.5 123.4h0.8v0.8h-0.8zM331.0 116.5h0.8v0.8h-0.8zM325.9 144.5h0.8v0.8h-0.8zM330.6 115.7h0.8v0.8h-0.8zM329.4 131.5h0.8v0.8h-0.8zM329.7 119.9h0.8v0.8h-0.8zM327.0 130.5h0.8v0.8h-0.8zM331.8 142.0h0.8v0.8h-0.8zM329.2 96.5h0.8v0.8h-0.8zM331.4 132.8h0.8v0.8h-0.8zM327.8 111.5h0.8v0.8h-0.8zM327.9 123.3h0.8v0.8h-0.8zM329.7 113.3h0.8v0.8h-0.8zM331.9 108.6h0.8v0.8h-0.8zM326.5 102.6h0.8v0.8h-0.8zM328.9 131.8h0.8v0.8h-0.8zM328.5 116.3h0.8v0.8h-0.8zM331.1 126.2h0.8v0.8h-0.8zM329.6 141.2h0.8v0.8h-0.8zM331.4 122.3h0.8v0.8h-0.8zM331.9 90.7h0.8v0.8h-0.8zM328.1 112.6h0.8v0.8h-0.8zM327.9 124.3h0.8v0.8h-0.8zM331.1 115.4h0.8v0.8h-0.8zM334.4 128.5h0.8v0.8h-0.8zM328.1 110.9h0.8v0.8h-0.8zM327.7 137.2h0.8v0.8h-0.8zM331.5 125.2h0.8v0.8h-0.8zM330.0 111.4h0.8v0.8h-0.8zM326.6 95.8h0.8v0.8h-0.8zM328.5 132.3h0.8v0.8h-0.8zM330.4 96.6h0.8v0.8h-0.8zM327.5 102.3h0.8v0.8h-0.8zM330.2 96.6h0.8v0.8h-0.8zM328.8 105.3h0.8v0.8h-0.8zM330.4 101.2h0.8v0.8h-0.8zM328.7 135.3h0.8v0.8h-0.8zM330.0 128.0h0.8v0.8h-0.8zM327.2 122.1h0.8v0.8h-0.8zM332.7 105.8h0.8v0.8h-0.8zM328.9 118.2h0.8v0.8h-0.8zM332.2 95.4h0.8v0.8h-0.8zM334.4 117.8h0.8v0.8h-0.8zM333.1 99.9h0.8v0.8h-0.8zM329.5 110.7h0.8v0.8h-0.8zM329.9 122.6h0.8v0.8h-0.8zM329.4 105.3h0.8v0.8h-0.8zM330.2 96.7h0.8v0.8h-0.8zM327.6 135.4h0.8v0.8h-0.8zM330.2 98.3h0.8v0.8h-0.8zM329.6 100.7h0.8v0.8h-0.8zM333.0 103.0h0.8v0.8h-0.8zM333.7 110.8h0.8v0.8h-0.8zM327.4 113.3h0.8v0.8h-0.8zM331.3 136.5h0.8v0.8h-0.8zM332.2 132.2h0.8v0.8h-0.8zM329.8 130.6h0.8v0.8h-0.8zM329.6 116.6h0.8v0.8h-0.8zM334.8 103.2h0.8v0.8h-0.8zM327.9 95.3h0.8v0.8h-0.8zM330.8 121.7h0.8v0.8h-0.8zM330.3 132.9h0.8v0.8h-0.8zM327.5 125.0h0.8v0.8h-0.8zM331.5 115.1h0.8v0.8h-0.8zM332.9 126.6h0.8v0.8h-0.8zM329.4 122.8h0.8v0.8h-0.8zM329.8 134.2h0.8v0.8h-0.8zM331.0 109.8h0.8v0.8h-0.8zM331.5 122.7h0.8v0.8h-0.8zM327.5 133.7h0.8v0.8h-0.8zM327.4 109.1h0.8v0.8h-0.8zM328.2 123.1h0.8v0.8h-0.8zM328.0 131.4h0.8v0.8h-0.8zM327.6 117.4h0.8v0.8h-0.8zM331.5 98.2h0.8v0.8h-0.8zM330.3 93.6h0.8v0.8h-0.8zM329.1 113.6h0.8v0.8h-0.8zM328.6 129.6h0.8v0.8h-0.8zM327.5 110.6h0.8v0.8h-0.8zM330.1 112.4h0.8v0.8h-0.8zM327.5 106.5h0.8v0.8h-0.8zM330.9 115.1h0.8v0.8h-0.8zM331.5 112.5h0.8v0.8h-0.8zM329.4 125.3h0.8v0.8h-0.8zM326.9 134.1h0.8v0.8h-0.8zM330.8 113.7h0.8v0.8h-0.8zM327.8 140.9h0.8v0.8h-0.8zM329.2 111.2h0.8v0.8h-0.8zM327.3 115.0h0.8v0.8h-0.8zM333.7 114.0h0.8v0.8h-0.8zM332.9 109.9h0.8v0.8h-0.8zM327.6 132.0h0.8v0.8h-0.8zM329.4 91.7h0.8v0.8h-0.8zM332.4 135.4h0.8v0.8h-0.8zM329.4 130.4h0.8v0.8h-0.8zM326.7 111.1h0.8v0.8h-0.8zM330.2 122.9h0.8v0.8h-0.8zM330.1 90.8h0.8v0.8h-0.8zM325.9 117.9h0.8v0.8h-0.8zM328.9 140.8h0.8v0.8h-0.8zM328.8 128.5h0.8v0.8h-0.8zM330.0 110.0h0.8v0.8h-0.8zM331.9 132.2h0.8v0.8h-0.8zM331.8 116.7h0.8v0.8h-0.8zM327.5 125.3h0.8v0.8h-0.8zM328.2 123.6h0.8v0.8h-0.8zM331.1 127.6h0.8v0.8h-0.8zM328.7 138.8h0.8v0.8h-0.8zM328.7 120.0h0.8v0.8h-0.8zM334.6 117.4h0.8v0.8h-0.8zM328.0 124.3h0.8v0.8h-0.8zM327.6 108.4h0.8v0.8h-0.8zM329.4 133.3h0.8v0.8h-0.8zM333.4 123.8h0.8v0.8h-0.8zM329.2 123.4h0.8v0.8h-0.8zM328.9 118.8h0.8v0.8h-0.8zM329.9 107.8h0.8v0.8h-0.8zM328.8 104.9h0.8v0.8h-0.8zM330.4 100.5h0.8v0.8h-0.8zM335.3 99.1h0.8v0.8h-0.8zM327.9 133.9h0.8v0.8h-0.8zM329.0 125.2h0.8v0.8h-0.8zM329.3 97.1h0.8v0.8h-0.8zM330.9 136.5h0.8v0.8h-0.8zM329.4 143.4h0.8v0.8h-0.8zM329.9 107.6h0.8v0.8h-0.8zM327.5 127.5h0.8v0.8h-0.8zM332.0 105.8h0.8v0.8h-0.8zM326.1 129.3h0.8v0.8h-0.8zM331.3 122.6h0.8v0.8h-0.8zM329.2 124.5h0.8v0.8h-0.8zM329.8 108.0h0.8v0.8h-0.8zM325.8 122.4h0.8v0.8h-0.8zM327.2 114.9h0.8v0.8h-0.8zM329.1 104.1h0.8v0.8h-0.8zM329.2 130.9h0.8v0.8h-0.8zM332.7 134.8h0.8v0.8h-0.8zM333.0 118.5h0.8v0.8h-0.8zM329.8 103.1h0.8v0.8h-0.8zM329.3 102.7h0.8v0.8h-0.8zM333.8 124.5h0.8v0.8h-0.8zM329.6 114.7h0.8v0.8h-0.8zM331.8 112.1h0.8v0.8h-0.8zM328.4 104.2h0.8v0.8h-0.8zM329.3 122.9h0.8v0.8h-0.8zM328.9 122.8h0.8v0.8h-0.8zM327.9 133.0h0.8v0.8h-0.8zM330.4 103.9h0.8v0.8h-0.8zM327.6 120.9h0.8v0.8h-0.8zM329.2 98.2h0.8v0.8h-0.8zM330.4 121.2h0.8v0.8h-0.8zM334.3 113.1h0.8v0.8h-0.8zM329.7 132.3h0.8v0.8h-0.8zM331.0 98.2h0.8v0.8h-0.8zM328.7 143.4h0.8v0.8h-0.8zM331.5 122.7h0.8v0.8h-0.8zM330.7 126.2h0.8v0.8h-0.8zM330.6 121.9h0.8v0.8h-0.8zM328.5 109.9h0.8v0.8h-0.8zM329.0 111.4h0.8v0.8h-0.8zM329.0 134.1h0.8v0.8h-0.8zM327.2 121.8h0.8v0.8h-0.8zM329.9 123.4h0.8v0.8h-0.8zM327.1 117.0h0.8v0.8h-0.8zM327.4 134.5h0.8v0.8h-0.8zM326.3 132.9h0.8v0.8h-0.8zM332.0 96.7h0.8v0.8h-0.8zM327.5 137.4h0.8v0.8h-0.8zM331.3 129.4h0.8v0.8h-0.8zM328.5 125.4h0.8v0.8h-0.8zM330.3 117.5h0.8v0.8h-0.8zM329.1 132.6h0.8v0.8h-0.8zM329.9 117.4h0.8v0.8h-0.8zM332.9 114.6h0.8v0.8h-0.8zM331.8 117.5h0.8v0.8h-0.8zM326.2 137.7h0.8v0.8h-0.8zM331.5 98.4h0.8v0.8h-0.8zM329.0 113.3h0.8v0.8h-0.8zM329.8 114.2h0.8v0.8h-0.8zM332.4 130.1h0.8v0.8h-0.8zM331.8 132.9h0.8v0.8h-0.8zM331.7 119.4h0.8v0.8h-0.8zM334.1 129.4h0.8v0.8h-0.8zM332.0 117.7h0.8v0.8h-0.8zM328.1 122.4h0.8v0.8h-0.8zM331.4 103.3h0.8v0.8h-0.8zM328.7 126.8h0.8v0.8h-0.8zM328.7 121.2h0.8v0.8h-0.8zM327.9 104.9h0.8v0.8h-0.8zM332.6 115.7h0.8v0.8h-0.8zM330.2 116.1h0.8v0.8h-0.8zM329.0 125.3h0.8v0.8h-0.8zM331.5 108.0h0.8v0.8h-0.8zM328.6 109.3h0.8v0.8h-0.8zM332.2 133.5h0.8v0.8h-0.8zM334.2 109.0h0.8v0.8h-0.8zM329.2 134.2h0.8v0.8h-0.8zM329.1 106.0h0.8v0.8h-0.8zM332.1 112.0h0.8v0.8h-0.8zM326.6 107.8h0.8v0.8h-0.8zM327.2 132.2h0.8v0.8h-0.8zM325.8 103.3h0.8v0.8h-0.8zM329.5 122.1h0.8v0.8h-0.8zM329.4 128.9h0.8v0.8h-0.8zM329.4 119.3h0.8v0.8h-0.8zM331.6 132.7h0.8v0.8h-0.8zM332.3 104.9h0.8v0.8h-0.8zM329.2 119.1h0.8v0.8h-0.8zM329.5 99.4h0.8v0.8h-0.8zM332.9 107.5h0.8v0.8h-0.8zM330.4 118.2h0.8v0.8h-0.8zM332.5 115.3h0.8v0.8h-0.8zM328.4 131.5h0.8v0.8h-0.8zM329.4 126.0h0.8v0.8h-0.8zM328.0 134.8h0.8v0.8h-0.8zM329.4 108.5h0.8v0.8h-0.8zM330.5 119.4h0.8v0.8h-0.8zM328.5 104.4h0.8v0.8h-0.8zM334.0 110.3h0.8v0.8h-0.8zM331.5 114.4h0.8v0.8h-0.8zM327.0 122.3h0.8v0.8h-0.8zM330.2 110.7h0.8v0.8h-0.8zM327.7 114.6h0.8v0.8h-0.8zM329.7 93.0h0.8v0.8h-0.8zM329.7 108.5h0.8v0.8h-0.8zM327.7 111.8h0.8v0.8h-0.8zM326.7 125.1h0.8v0.8h-0.8zM327.9 127.1h0.8v0.8h-0.8zM329.5 111.7h0.8v0.8h-0.8zM331.3 113.9h0.8v0.8h-0.8zM333.2 118.9h0.8v0.8h-0.8zM330.5 131.9h0.8v0.8h-0.8zM329.5 123.9h0.8v0.8h-0.8zM330.2 110.3h0.8v0.8h-0.8zM331.3 119.3h0.8v0.8h-0.8zM330.4 134.3h0.8v0.8h-0.8zM329.4 137.1h0.8v0.8h-0.8zM333.1 94.1h0.8v0.8h-0.8zM330.1 122.3h0.8v0.8h-0.8zM329.5 107.6h0.8v0.8h-0.8zM332.1 108.5h0.8v0.8h-0.8zM326.9 125.5h0.8v0.8h-0.8zM327.3 128.8h0.8v0.8h-0.8zM332.8 110.0h0.8v0.8h-0.8zM329.0 106.3h0.8v0.8h-0.8zM331.3 100.8h0.8v0.8h-0.8zM332.2 140.4h0.8v0.8h-0.8zM327.7 97.6h0.8v0.8h-0.8zM326.5 130.8h0.8v0.8h-0.8zM329.4 120.0h0.8v0.8h-0.8zM330.3 117.4h0.8v0.8h-0.8zM328.1 104.6h0.8v0.8h-0.8zM327.4 113.6h0.8v0.8h-0.8zM330.7 111.8h0.8v0.8h-0.8zM330.7 108.8h0.8v0.8h-0.8zM325.9 119.2h0.8v0.8h-0.8zM326.9 123.0h0.8v0.8h-0.8zM328.7 112.6h0.8v0.8h-0.8zM328.0 126.4h0.8v0.8h-0.8zM330.0 128.3h0.8v0.8h-0.8zM330.6 108.8h0.8v0.8h-0.8zM333.7 123.6h0.8v0.8h-0.8zM330.3 118.0h0.8v0.8h-0.8zM331.6 107.3h0.8v0.8h-0.8zM325.9 129.4h0.8v0.8h-0.8zM327.9 136.4h0.8v0.8h-0.8zM331.9 110.4h0.8v0.8h-0.8zM326.2 95.5h0.8v0.8h-0.8zM332.5 125.7h0.8v0.8h-0.8zM330.7 131.1h0.8v0.8h-0.8zM329.8 101.4h0.8v0.8h-0.8zM329.2 116.4h0.8v0.8h-0.8zM326.8 128.1h0.8v0.8h-0.8zM328.3 131.0h0.8v0.8h-0.8zM328.5 129.8h0.8v0.8h-0.8zM332.3 126.4h0.8v0.8h-0.8zM327.1 142.8h0.8v0.8h-0.8zM328.0 104.4h0.8v0.8h-0.8zM331.9 109.4h0.8v0.8h-0.8zM333.8 122.8h0.8v0.8h-0.8zM330.7 105.8h0.8v0.8h-0.8zM327.5 93.5h0.8v0.8h-0.8zM330.0 121.8h0.8v0.8h-0.8zM330.1 119.5h0.8v0.8h-0.8zM329.3 107.4h0.8v0.8h-0.8zM327.0 124.5h0.8v0.8h-0.8zM330.2 130.3h0.8v0.8h-0.8zM326.7 136.0h0.8v0.8h-0.8zM329.3 124.2h0.8v0.8h-0.8zM328.8 100.5h0.8v0.8h-0.8zM334.3 96.0h0.8v0.8h-0.8zM328.6 121.1h0.8v0.8h-0.8zM328.0 127.5h0.8v0.8h-0.8zM331.6 114.7h0.8v0.8h-0.8zM326.5 121.2h0.8v0.8h-0.8zM330.0 98.1h0.8v0.8h-0.8zM328.2 102.3h0.8v0.8h-0.8zM329.3 109.1h0.8v0.8h-0.8zM327.5 111.2h0.8v0.8h-0.8zM331.0 130.5h0.8v0.8h-0.8zM327.5 104.9h0.8v0.8h-0.8zM328.1 109.3h0.8v0.8h-0.8zM327.9 111.4h0.8v0.8h-0.8zM330.6 107.4h0.8v0.8h-0.8zM328.6 110.9h0.8v0.8h-0.8zM330.2 133.7h0.8v0.8h-0.8zM330.1 118.2h0.8v0.8h-0.8zM333.7 119.0h0.8v0.8h-0.8zM328.3 113.5h0.8v0.8h-0.8zM326.3 123.1h0.8v0.8h-0.8zM329.7 117.4h0.8v0.8h-0.8zM329.9 97.4h0.8v0.8h-0.8zM327.8 136.2h0.8v0.8h-0.8zM333.8 96.8h0.8v0.8h-0.8zM327.3 117.0h0.8v0.8h-0.8zM332.9 102.8h0.8v0.8h-0.8zM331.2 93.1h0.8v0.8h-0.8zM332.5 129.0h0.8v0.8h-0.8zM329.2 131.2h0.8v0.8h-0.8zM325.7 114.7h0.8v0.8h-0.8zM327.8 120.1h0.8v0.8h-0.8zM327.0 119.2h0.8v0.8h-0.8zM328.1 95.1h0.8v0.8h-0.8zM327.4 125.1h0.8v0.8h-0.8zM331.2 114.6h0.8v0.8h-0.8z" fill="#f21818" fill-opacity="0.8"/>
<path d="M336.1 138.8h0.8v0.8h-0.8zM326.7 142.6h0.8v0.8h-0.8zM329.9 141.5h0.8v0.8h-0.8zM328.9 137.8h0.8v0.8h-0.8zM334.3 135.4h0.8v0.8h-0.8zM331.1 138.6h0.8v0.8h-0.8zM328.7 140.9h0.8v0.8h-0.8zM340.6 142.3h0.8v0.8h-0.8zM331.0 139.0h0.8v0.8h-0.8zM339.2 139.4h0.8v0.8h-0.8zM337.9 135.9h0.8v0.8h-0.8zM330.1 139.2h0.8v0.8h-0.8zM334.7 138.9h0.8v0.8h-0.8zM337.1 140.1h0.8v0.8h-0.8zM339.6 137.9h0.8v0.8h-0.8zM335.7 138.1h0.8v0.8h-0.8zM335.9 141.0h0.8v0.8h-0.8zM330.5 136.5h0.8v0.8h-0.8zM330.1 140.4h0.8v0.8h-0.8zM349.9 143.3h0.8v0.8h-0.8zM339.5 138.9h0.8v0.8h-0.8zM327.0 139.1h0.8v0.8h-0.8zM335.3 138.3h0.8v0.8h-0.8zM336.0 137.1h0.8v0.8h-0.8zM332.3 137.2h0.8v0.8h-0.8zM336.6 139.8h0.8v0.8h-0.8zM342.1 139.0h0.8v0.8h-0.8zM341.9 137.5h0.8v0.8h-0.8zM332.0 140.4h0.8v0.8h-0.8zM332.1 142.8h0.8v0.8h-0.8zM331.4 142.3h0.8v0.8h-0.8zM334.9 139.6h0.8v0.8h-0.8zM338.1 140.2h0.8v0.8h-0.8zM328.5 137.7h0.8v0.8h-0.8zM332.9 139.7h0.8v0.8h-0.8zM330.8 141.9h0.8v0.8h-0.8zM329.9 142.2h0.8v0.8h-0.8zM331.2 143.6h0.8v0.8h-0.8zM343.0 136.5h0.8v0.8h-0.8zM342.6 144.1h0.8v0.8h-0.8zM341.2 141.2h0.8v0.8h-0.8zM335.3 140.3h0.8v0.8h-0.8zM345.9 143.3h0.8v0.8h-0.8zM335.9 140.2h0.8v0.8h-0.8zM330.2 137.6h0.8v0.8h-0.8zM336.8 141.1h0.8v0.8h-0.8zM332.5 139.0h0.8v0.8h-0.8zM331.8 140.2h0.8v0.8h-0.8zM335.1 141.6h0.8v0.8h-0.8zM336.2 142.2h0.8v0.8h-0.8zM332.9 141.9h0.8v0.8h-0.8zM333.7 142.7h0.8v0.8h-0.8zM328.6 136.4h0.8v0.8h-0.8zM333.6 143.1h0.8v0.8h-0.8zM337.4 138.2h0.8v0.8h-0.8zM334.3 140.5h0.8v0.8h-0.8zM332.9 139.2h0.8v0.8h-0.8zM326.5 137.4h0.8v0.8h-0.8zM339.5 142.4h0.8v0.8h-0.8zM327.9 137.7h0.8v0.8h-0.8zM337.2 138.9h0.8v0.8h-0.8zM332.0 143.9h0.8v0.8h-0.8zM337.9 134.7h0.8v0.8h-0.8zM339.1 136.1h0.8v0.8h-0.8zM332.2 142.6h0.8v0.8h-0.8zM328.9 140.2h0.8v0.8h-0.8zM329.1 139.1h0.8v0.8h-0.8zM335.3 142.0h0.8v0.8h-0.8zM343.8 138.5h0.8v0.8h-0.8zM337.2 138.9h0.8v0.8h-0.8zM333.1 140.8h0.8v0.8h-0.8zM340.6 137.5h0.8v0.8h-0.8zM332.9 136.7h0.8v0.8h-0.8zM338.2 136.2h0.8v0.8h-0.8zM335.7 142.6h0.8v0.8h-0.8zM338.7 143.2h0.8v0.8h-0.8zM342.7 138.7h0.8v0.8h-0.8zM332.1 139.0h0.8v0.8h-0.8zM337.7 137.8h0.8v0.8h-0.8zM336.4 140.3h0.8v0.8h-0.8zM332.5 142.8h0.8v0.8h-0.8zM331.9 140.1h0.8v0.8h-0.8zM338.9 140.2h0.8v0.8h-0.8zM330.6 132.2h0.8v0.8h-0.8zM331.1 141.0h0.8v0.8h-0.8zM338.1 137.3h0.8v0.8h-0.8zM338.5 139.6h0.8v0.8h-0.8zM341.7 141.2h0.8v0.8h-0.8zM330.9 140.6h0.8v0.8h-0.8zM327.1 142.1h0.8v0.8h-0.8zM339.4 144.1h0.8v0.8h-0.8zM326.1 134.6h0.8v0.8h-0.8zM331.8 136.4h0.8v0.8h-0.8zM332.8 144.4h0.8v0.8h-0.8zM342.5 141.5h0.8v0.8h-0.8zM334.0 138.5h0.8v0.8h-0.8zM327.8 139.6h0.8v0.8h-0.8zM333.7 140.3h0.8v0.8h-0.8zM340.6 142.9h0.8v0.8h-0.8zM327.2 140.3h0.8v0.8h-0.8zM339.0 137.0h0.8v0.8h-0.8zM334.5 144.0h0.8v0.8h-0.8zM328.8 141.5h0.8v0.8h-0.8zM332.8 139.2h0.8v0.8h-0.8zM334.2 137.0h0.8v0.8h-0.8zM328.1 140.3h0.8v0.8h-0.8zM331.0 142.5h0.8v0.8h-0.8zM339.5 139.4h0.8v0.8h-0.8zM333.7 139.3h0.8v0.8h-0.8zM331.1 137.9h0.8v0.8h-0.8zM335.4 141.5h0.8v0.8h-0.8zM329.3 138.5h0.8v0.8h-0.8zM335.7 141.8h0.8v0.8h-0.8zM332.3 141.2h0.8v0.8h-0.8zM332.4 141.4h0.8v0.8h-0.8zM332.5 137.9h0.8v0.8h-0.8zM329.1 143.3h0.8v0.8h-0.8zM340.8 139.9h0.8v0.8h-0.8zM326.3 137.3h0.8v0.8h-0.8zM335.0 140.3h0.8v0.8h-0.8zM327.5 140.8h0.8v0.8h-0.8zM338.4 140.5h0.8v0.8h-0.8zM332.8 142.8h0.8v0.8h-0.8zM334.8 143.4h0.8v0.8h-0.8zM335.7 140.2h0.8v0.8h-0.8zM334.8 143.4h0.8v0.8h-0.8zM335.7 133.9h0.8v0.8h-0.8zM331.6 140.4h0.8v0.8h-0.8zM332.4 143.6h0.8v0.8h-0.8zM332.7 139.8h0.8v0.8h-0.8zM330.3 141.8h0.8v0.8h-0.8zM331.2 142.0h0.8v0.8h-0.8zM340.5 138.9h0.8v0.8h-0.8zM326.7 139.0h0.8v0.8h-0.8zM342.4 133.2h0.8v0.8h-0.8zM331.2 141.8h0.8v0.8h-0.8zM337.0 140.0h0.8v0.8h-0.8zM333.9 139.9h0.8v0.8h-0.8zM333.0 143.5h0.8v0.8h-0.8zM336.7 141.3h0.8v0.8h-0.8zM342.4 141.0h0.8v0.8h-0.8zM333.3 135.7h0.8v0.8h-0.8zM333.7 140.8h0.8v0.8h-0.8zM331.2 139.7h0.8v0.8h-0.8zM344.1 142.9h0.8v0.8h-0.8zM339.8 139.2h0.8v0.8h-0.8zM339.5 137.4h0.8v0.8h-0.8zM334.1 139.8h0.8v0.8h-0.8zM336.3 138.2h0.8v0.8h-0.8zM330.8 140.0h0.8v0.8h-0.8zM338.7 135.3h0.8v0.8h-0.8zM331.0 142.0h0.8v0.8h-0.8zM337.5 137.8h0.8v0.8h-0.8zM336.0 139.9h0.8v0.8h-0.8zM331.5 138.2h0.8v0.8h-0.8zM325.8 141.8h0.8v0.8h-0.8zM329.2 134.5h0.8v0.8h-0.8zM334.9 142.5h0.8v0.8h-0.8zM338.3 141.6h0.8v0.8h-0.8zM333.7 137.9h0.8v0.8h-0.8zM327.7 138.9h0.8v0.8h-0.8zM331.4 140.3h0.8v0.8h-0.8zM339.5 144.8h0.8v0.8h-0.8zM330.9 139.1h0.8v0.8h-0.8zM335.1 138.5h0.8v0.8h-0.8zM336.0 142.8h0.8v0.8h-0.8zM331.1 138.8h0.8v0.8h-0.8zM334.0 137.8h0.8v0.8h-0.8zM331.0 142.5h0.8v0.8h-0.8zM334.0 140.8h0.8v0.8h-0.8zM337.0 139.5h0.8v0.8h-0.8zM340.4 144.0h0.8v0.8h-0.8zM331.5 143.9h0.8v0.8h-0.8zM336.2 136.4h0.8v0.8h-0.8zM333.2 137.5h0.8v0.8h-0.8zM329.9 138.1h0.8v0.8h-0.8zM330.0 139.9h0.8v0.8h-0.8zM333.6 140.9h0.8v0.8h-0.8zM333.9 140.2h0.8v0.8h-0.8zM330.1 140.6h0.8v0.8h-0.8zM347.6 141.6h0.8v0.8h-0.8zM333.7 137.2h0.8v0.8h-0.8zM337.2 134.9h0.8v0.8h-0.8zM332.5 141.2h0.8v0.8h-0.8zM347.8 143.6h0.8v0.8h-0.8zM332.1 139.4h0.8v0.8h-0.8zM334.8 141.8h0.8v0.8h-0.8zM339.8 139.6h0.8v0.8h-0.8zM333.6 137.2h0.8v0.8h-0.8zM328.9 139.5h0.8v0.8h-0.8zM341.7 142.4h0.8v0.8h-0.8zM337.2 141.3h0.8v0.8h-0.8zM332.6 142.2h0.8v0.8h-0.8zM332.6 139.2h0.8v0.8h-0.8zM332.6 141.8h0.8v0.8h-0.8zM334.6 144.0h0.8v0.8h-0.8zM334.5 139.2h0.8v0.8h-0.8zM330.8 143.5h0.8v0.8h-0.8zM336.3 140.7h0.8v0.8h-0.8zM335.5 137.5h0.8v0.8h-0.8zM328.6 139.4h0.8v0.8h-0.8zM340.6 143.8h0.8v0.8h-0.8zM337.6 141.4h0.8v0.8h-0.8zM328.6 142.1h0.8v0.8h-0.8zM330.4 141.1h0.8v0.8h-0.8zM335.5 143.1h0.8v0.8h-0.8zM340.1 138.9h0.8v0.8h-0.8zM329.3 143.1h0.8v0.8h-0.8zM329.9 140.3h0.8v0.8h-0.8zM336.4 139.9h0.8v0.8h-0.8zM333.6 141.5h0.8v0.8h-0.8zM333.5 139.3h0.8v0.8h-0.8zM333.2 137.7h0.8v0.8h-0.8zM332.2 138.2h0.8v0.8h-0.8zM342.5 141.8h0.8v0.8h-0.8zM338.7 141.2h0.8v0.8h-0.8zM332.2 140.7h0.8v0.8h-0.8zM340.1 142.3h0.8v0.8h-0.8zM343.2 138.3h0.8v0.8h-0.8zM336.2 139.5h0.8v0.8h-0.8zM335.3 144.6h0.8v0.8h-0.8zM331.4 138.1h0.8v0.8h-0.8zM334.4 143.7h0.8v0.8h-0.8zM334.9 139.8h0.8v0.8h-0.8zM340.3 141.8h0.8v0.8h-0.8zM329.1 141.1h0.8v0.8h-0.8zM325.7 139.9h0.8v0.8h-0.8zM331.3 140.8h0.8v0.8h-0.8zM335.6 142.9h0.8v0.8h-0.8zM332.8 138.1h0.8v0.8h-0.8zM329.8 142.7h0.8v0.8h-0.8zM328.2 139.5h0.8v0.8h-0.8zM334.5 140.1h0.8v0.8h-0.8zM339.6 140.0h0.8v0.8h-0.8zM327.0 139.4h0.8v0.8h-0.8zM334.9 136.0h0.8v0.8h-0.8zM332.9 140.3h0.8v0.8h-0.8zM337.0 139.3h0.8v0.8h-0.8zM333.8 137.1h0.8v0.8h-0.8z" fill="#dd2233" fill-opacity="0.8"/>
<path d="M334.3 120.6h0.8v0.8h-0.8zM337.4 138.7h0.8v0.8h-0.8zM343.4 100.9h0.8v0.8h-0.8zM334.3 124.2h0.8v0.8h-0.8zM341.8 104.7h0.8v0.8h-0.8zM334.7 133.3h0.8v0.8h-0.8zM338.4 137.9h0.8v0.8h-0.8zM335.5 128.9h0.8v0.8h-0.8zM339.5 117.6h0.8v0.8h-0.8zM337.1 119.5h0.8v0.8h-0.8zM335.0 128.7h0.8v0.8h-0.8zM330.4 123.3h0.8v0.8h-0.8zM340.5 133.2h0.8v0.8h-0.8zM334.1 135.0h0.8v0.8h-0.8zM343.6 119.0h0.8v0.8h-0.8zM337.5 113.8h0.8v0.8h-0.8zM336.9 140.5h0.8v0.8h-0.8zM337.0 103.2h0.8v0.8h-0.8zM337.5 110.1h0.8v0.8h-0.8zM337.9 113.2h0.8v0.8h-0.8zM335.9 111.5h0.8v0.8h-0.8zM335.2 102.8h0.8v0.8h-0.8zM338.4 129.2h0.8v0.8h-0.8zM339.0 130.1h0.8v0.8h-0.8zM337.9 120.4h0.8v0.8h-0.8zM340.3 95.7h0.8v0.8h-0.8zM344.0 108.2h0.8v0.8h-0.8zM343.4 101.0h0.8v0.8h-0.8zM336.9 129.9h0.8v0.8h-0.8zM332.2 143.3h0.8v0.8h-0.8zM341.1 118.5h0.8v0.8h-0.8zM337.0 124.3h0.8v0.8h-0.8zM339.6 133.4h0.8v0.8h-0.8zM335.2 141.8h0.8v0.8h-0.8zM340.0 101.4h0.8v0.8h-0.8zM332.2 131.8h0.8v0.8h-0.8zM337.3 105.6h0.8v0.8h-0.8zM331.2 119.1h0.8v0.8h-0.8zM344.6 121.6h0.8v0.8h-0.8zM335.6 108.8h0.8v0.8h-0.8zM328.3 130.4h0.8v0.8h-0.8zM341.7 127.1h0.8v0.8h-0.8zM340.5 119.8h0.8v0.8h-0.8zM342.1 93.3h0.8v0.8h-0.8zM332.2 125.5h0.8v0.8h-0.8zM338.1 115.4h0.8v0.8h-0.8zM341.8 102.2h0.8v0.8h-0.8zM338.2 118.6h0.8v0.8h-0.8zM335.8 122.1h0.8v0.8h-0.8zM335.4 133.9h0.8v0.8h-0.8zM342.1 114.2h0.8v0.8h-0.8zM333.6 109.5h0.8v0.8h-0.8zM336.8 120.1h0.8v0.8h-0.8zM338.9 121.8h0.8v0.8h-0.8zM336.8 121.9h0.8v0.8h-0.8zM340.0 127.6h0.8v0.8h-0.8zM328.8 141.8h0.8v0.8h-0.8zM341.2 119.7h0.8v0.8h-0.8zM332.0 125.3h0.8v0.8h-0.8zM335.8 122.1h0.8v0.8h-0.8zM338.5 98.8h0.8v0.8h-0.8zM335.9 134.5h0.8v0.8h-0.8zM335.0 128.1h0.8v0.8h-0.8zM339.4 108.6h0.8v0.8h-0.8zM344.8 108.5h0.8v0.8h-0.8zM334.3 131.0h0.8v0.8h-0.8zM334.1 108.2h0.8v0.8h-0.8zM334.4 125.8h0.8v0.8h-0.8zM331.9 134.2h0.8v0.8h-0.8zM331.9 117.3h0.8v0.8h-0.8zM334.8 124.8h0.8v0.8h-0.8zM339.5 132.5h0.8v0.8h-0.8zM334.6 125.8h0.8v0.8h-0.8zM333.4 115.5h0.8v0.8h-0.8zM336.2 103.0h0.8v0.8h-0.8zM333.5 105.0h0.8v0.8h-0.8zM347.3 116.3h0.8v0.8h-0.8zM342.7 109.5h0.8v0.8h-0.8zM336.8 119.3h0.8v0.8h-0.8zM330.0 127.9h0.8v0.8h-0.8zM334.4 115.5h0.8v0.8h-0.8zM333.2 133.7h0.8v0.8h-0.8zM334.6 109.9h0.8v0.8h-0.8zM334.3 131.0h0.8v0.8h-0.8zM334.0 132.1h0.8v0.8h-0.8zM331.5 115.1h0.8v0.8h-0.8zM338.0 108.6h0.8v0.8h-0.8zM333.2 116.3h0.8v0.8h-0.8zM332.5 129.2h0.8v0.8h-0.8zM339.7 108.0h0.8v0.8h-0.8zM341.3 121.9h0.8v0.8h-0.8zM332.1 119.7h0.8v0.8h-0.8zM335.9 123.2h0.8v0.8h-0.8zM338.7 116.7h0.8v0.8h-0.8zM340.2 105.7h0.8v0.8h-0.8zM334.7 134.3h0.8v0.8h-0.8zM337.7 119.7h0.8v0.8h-0.8zM334.8 97.1h0.8v0.8h-0.8zM329.4 129.0h0.8v0.8h-0.8zM340.1 132.7h0.8v0.8h-0.8zM336.3 95.6h0.8v0.8h-0.8zM338.2 128.8h0.8v0.8h-0.8zM335.7 124.6h0.8v0.8h-0.8zM333.1 111.9h0.8v0.8h-0.8zM334.6 123.4h0.8v0.8h-0.8zM337.8 105.9h0.8v0.8h-0.8zM331.5 110.6h0.8v0.8h-0.8zM342.6 116.4h0.8v0.8h-0.8zM345.5 110.9h0.8v0.8h-0.8zM327.6 113.3h0.8v0.8h-0.8zM340.1 109.4h0.8v0.8h-0.8zM334.8 123.6h0.8v0.8h-0.8zM338.9 99.3h0.8v0.8h-0.8zM337.3 132.1h0.8v0.8h-0.8zM335.8 113.4h0.8v0.8h-0.8zM340.1 120.1h0.8v0.8h-0.8zM336.9 127.6h0.8v0.8h-0.8zM342.4 101.5h0.8v0.8h-0.8zM337.8 122.8h0.8v0.8h-0.8zM330.9 130.4h0.8v0.8h-0.8zM335.9 126.3h0.8v0.8h-0.8zM336.6 115.8h0.8v0.8h-0.8zM334.3 135.1h0.8v0.8h-0.8zM331.8 135.9h0.8v0.8h-0.8zM344.3 127.1h0.8v0.8h-0.8zM336.3 133.3h0.8v0.8h-0.8zM336.4 105.4h0.8v0.8h-0.8zM330.2 123.6h0.8v0.8h-0.8zM338.8 122.5h0.8v0.8h-0.8zM336.1 132.8h0.8v0.8h-0.8zM340.9 106.5h0.8v0.8h-0.8zM343.2 111.2h0.8v0.8h-0.8zM334.1 127.9h0.8v0.8h-0.8zM333.7 123.6h0.8v0.8h-0.8zM341.1 125.5h0.8v0.8h-0.8zM340.8 103.2h0.8v0.8h-0.8zM337.8 124.7h0.8v0.8h-0.8zM339.4 107.5h0.8v0.8h-0.8zM335.4 127.4h0.8v0.8h-0.8zM336.5 110.3h0.8v0.8h-0.8zM336.6 117.5h0.8v0.8h-0.8zM328.2 143.5h0.8v0.8h-0.8zM339.5 105.5h0.8v0.8h-0.8zM339.6 117.1h0.8v0.8h-0.8zM333.0 133.3h0.8v0.8h-0.8zM334.5 122.5h0.8v0.8h-0.8zM337.8 115.9h0.8v0.8h-0.8zM339.4 116.7h0.8v0.8h-0.8zM336.7 110.5h0.8v0.8h-0.8zM334.8 131.9h0.8v0.8h-0.8zM338.2 126.5h0.8v0.8h-0.8zM337.1 139.8h0.8v0.8h-0.8zM332.7 129.6h0.8v0.8h-0.8zM335.3 134.9h0.8v0.8h-0.8zM335.1 117.1h0.8v0.8h-0.8zM339.2 122.4h0.8v0.8h-0.8zM331.5 117.8h0.8v0.8h-0.8zM333.4 128.1h0.8v0.8h-0.8zM335.1 119.3h0.8v0.8h-0.8zM336.7 131.4h0.8v0.8h-0.8zM335.9 119.8h0.8v0.8h-0.8zM340.7 111.3h0.8v0.8h-0.8zM339.6 123.8h0.8v0.8h-0.8zM341.6 105.2h0.8v0.8h-0.8zM343.4 106.0h0.8v0.8h-0.8zM338.8 131.7h0.8v0.8h-0.8zM332.8 119.1h0.8v0.8h-0.8zM335.2 118.3h0.8v0.8h-0.8zM342.5 125.1h0.8v0.8h-0.8zM341.6 118.0h0.8v0.8h-0.8zM346.0 110.9h0.8v0.8h-0.8zM339.3 119.7h0.8v0.8h-0.8zM333.3 105.2h0.8v0.8h-0.8zM337.0 104.0h0.8v0.8h-0.8zM337.8 109.6h0.8v0.8h-0.8zM340.2 105.7h0.8v0.8h-0.8zM340.0 123.4h0.8v0.8h-0.8zM333.2 120.7h0.8v0.8h-0.8zM341.2 130.0h0.8v0.8h-0.8zM334.4 123.6h0.8v0.8h-0.8zM337.7 126.0h0.8v0.8h-0.8zM339.2 109.4h0.8v0.8h-0.8zM339.3 109.9h0.8v0.8h-0.8zM338.6 122.6h0.8v0.8h-0.8zM334.5 133.7h0.8v0.8h-0.8zM336.1 114.0h0.8v0.8h-0.8zM340.3 129.9h0.8v0.8h-0.8zM334.8 120.6h0.8v0.8h-0.8zM326.6 121.3h0.8v0.8h-0.8zM336.7 116.7h0.8v0.8h-0.8zM333.1 133.2h0.8v0.8h-0.8zM336.6 119.9h0.8v0.8h-0.8zM332.4 120.3h0.8v0.8h-0.8zM334.9 130.6h0.8v0.8h-0.8zM335.1 133.6h0.8v0.8h-0.8zM340.3 110.8h0.8v0.8h-0.8zM333.1 134.5h0.8v0.8h-0.8zM331.9 122.7h0.8v0.8h-0.8zM337.0 111.2h0.8v0.8h-0.8zM339.8 130.6h0.8v0.8h-0.8zM333.0 119.6h0.8v0.8h-0.8zM338.6 112.3h0.8v0.8h-0.8zM336.6 129.3h0.8v0.8h-0.8zM338.5 106.8h0.8v0.8h-0.8zM329.3 120.8h0.8v0.8h-0.8zM336.9 117.3h0.8v0.8h-0.8zM335.5 123.3h0.8v0.8h-0.8zM337.4 130.1h0.8v0.8h-0.8zM333.9 122.6h0.8v0.8h-0.8zM336.1 114.1h0.8v0.8h-0.8zM328.0 118.8h0.8v0.8h-0.8zM336.5 117.2h0.8v0.8h-0.8zM341.9 107.7h0.8v0.8h-0.8zM337.3 132.2h0.8v0.8h-0.8zM336.8 102.2h0.8v0.8h-0.8zM337.9 98.7h0.8v0.8h-0.8zM342.1 91.5h0.8v0.8h-0.8zM333.9 121.9h0.8v0.8h-0.8zM330.7 134.1h0.8v0.8h-0.8zM333.9 106.3h0.8v0.8h-0.8zM336.9 121.9h0.8v0.8h-0.8zM339.8 109.0h0.8v0.8h-0.8zM333.6 143.3h0.8v0.8h-0.8zM332.5 130.4h0.8v0.8h-0.8zM340.0 132.8h0.8v0.8h-0.8zM340.7 114.2h0.8v0.8h-0.8zM333.5 137.2h0.8v0.8h-0.8zM339.5 120.4h0.8v0.8h-0.8zM335.8 114.5h0.8v0.8h-0.8zM334.6 134.2h0.8v0.8h-0.8zM336.0 117.9h0.8v0.8h-0.8zM333.1 100.1h0.8v0.8h-0.8zM329.8 129.3h0.8v0.8h-0.8zM330.9 115.0h0.8v0.8h-0.8zM333.5 131.0h0.8v0.8h-0.8zM337.7 136.4h0.8v0.8h-0.8zM338.0 121.8h0.8v0.8h-0.8zM339.9 122.0h0.8v0.8h-0.8zM333.4 111.3h0.8v0.8h-0.8zM336.4 111.9h0.8v0.8h-0.8zM330.8 122.4h0.8v0.8h-0.8zM340.5 110.0h0.8v0.8h-0.8zM335.9 124.6h0.8v0.8h-0.8zM339.2 111.0h0.8v0.8h-0.8zM334.6 124.8h0.8v0.8h-0.8zM333.7 123.1h0.8v0.8h-0.8zM328.3 129.4h0.8v0.8h-0.8zM341.6 118.0h0.8v0.8h-0.8zM340.4 120.5h0.8v0.8h-0.8zM344.7 93.5h0.8v0.8h-0.8zM337.8 125.0h0.8v0.8h-0.8zM332.3 135.9h0.8v0.8h-0.8zM329.5 115.4h0.8v0.8h-0.8zM334.9 130.5h0.8v0.8h-0.8zM336.3 104.9h0.8v0.8h-0.8zM330.6 127.3h0.8v0.8h-0.8zM339.2 131.1h0.8v0.8h-0.8zM340.3 96.4h0.8v0.8h-0.8zM332.6 126.2h0.8v0.8h-0.8zM335.5 119.6h0.8v0.8h-0.8zM330.9 115.8h0.8v0.8h-0.8zM340.5 123.4h0.8v0.8h-0.8zM332.9 115.1h0.8v0.8h-0.8zM331.9 119.6h0.8v0.8h-0.8zM328.6 119.4h0.8v0.8h-0.8zM332.4 131.5h0.8v0.8h-0.8zM329.6 137.0h0.8v0.8h-0.8zM340.7 129.9h0.8v0.8h-0.8zM339.0 114.1h0.8v0.8h-0.8zM331.5 118.2h0.8v0.8h-0.8zM332.9 142.8h0.8v0.8h-0.8zM336.1 113.9h0.8v0.8h-0.8zM336.9 127.6h0.8v0.8h-0.8zM341.8 121.7h0.8v0.8h-0.8zM339.0 96.0h0.8v0.8h-0.8zM344.5 96.8h0.8v0.8h-0.8zM330.1 139.3h0.8v0.8h-0.8zM339.3 107.3h0.8v0.8h-0.8zM337.3 127.9h0.8v0.8h-0.8zM335.3 124.6h0.8v0.8h-0.8zM331.8 129.0h0.8v0.8h-0.8zM338.5 117.2h0.8v0.8h-0.8zM334.4 114.8h0.8v0.8h-0.8zM341.9 128.1h0.8v0.8h-0.8zM340.9 115.3h0.8v0.8h-0.8zM340.1 132.2h0.8v0.8h-0.8zM329.1 120.7h0.8v0.8h-0.8zM337.7 99.0h0.8v0.8h-0.8zM343.5 126.1h0.8v0.8h-0.8zM343.8 96.1h0.8v0.8h-0.8zM341.5 114.3h0.8v0.8h-0.8zM341.0 109.3h0.8v0.8h-0.8zM333.4 122.9h0.8v0.8h-0.8zM342.4 107.8h0.8v0.8h-0.8zM344.0 96.6h0.8v0.8h-0.8zM338.2 103.9h0.8v0.8h-0.8zM338.5 119.6h0.8v0.8h-0.8zM335.9 112.8h0.8v0.8h-0.8zM337.2 138.8h0.8v0.8h-0.8zM335.2 122.8h0.8v0.8h-0.8zM338.4 133.3h0.8v0.8h-0.8zM335.8 115.6h0.8v0.8h-0.8zM330.4 138.2h0.8v0.8h-0.8zM334.0 116.9h0.8v0.8h-0.8zM338.1 106.8h0.8v0.8h-0.8zM337.3 116.0h0.8v0.8h-0.8zM342.3 109.2h0.8v0.8h-0.8zM341.7 97.1h0.8v0.8h-0.8zM336.3 112.8h0.8v0.8h-0.8zM340.8 121.9h0.8v0.8h-0.8zM333.6 122.3h0.8v0.8h-0.8zM333.8 125.6h0.8v0.8h-0.8zM340.1 123.6h0.8v0.8h-0.8zM337.4 116.9h0.8v0.8h-0.8zM333.3 116.4h0.8v0.8h-0.8zM340.3 98.7h0.8v0.8h-0.8zM342.3 110.6h0.8v0.8h-0.8zM339.6 121.7h0.8v0.8h-0.8zM341.8 114.6h0.8v0.8h-0.8zM340.2 127.9h0.8v0.8h-0.8zM340.2 109.7h0.8v0.8h-0.8zM333.2 127.8h0.8v0.8h-0.8zM329.0 121.3h0.8v0.8h-0.8zM335.1 99.8h0.8v0.8h-0.8zM334.2 117.8h0.8v0.8h-0.8zM332.0 133.9h0.8v0.8h-0.8zM336.9 112.1h0.8v0.8h-0.8zM333.6 106.3h0.8v0.8h-0.8zM336.5 109.4h0.8v0.8h-0.8zM332.9 121.7h0.8v0.8h-0.8zM335.4 113.5h0.8v0.8h-0.8zM342.5 107.8h0.8v0.8h-0.8zM332.3 132.2h0.8v0.8h-0.8zM329.4 129.9h0.8v0.8h-0.8zM342.1 116.9h0.8v0.8h-0.8zM339.6 113.5h0.8v0.8h-0.8zM336.3 112.2h0.8v0.8h-0.8zM334.8 110.9h0.8v0.8h-0.8zM337.7 92.7h0.8v0.8h-0.8zM335.0 128.7h0.8v0.8h-0.8zM340.3 126.8h0.8v0.8h-0.8zM335.2 110.2h0.8v0.8h-0.8zM333.9 112.5h0.8v0.8h-0.8zM338.7 106.7h0.8v0.8h-0.8zM333.2 128.4h0.8v0.8h-0.8zM338.7 117.6h0.8v0.8h-0.8zM331.7 124.0h0.8v0.8h-0.8zM334.3 122.4h0.8v0.8h-0.8zM337.2 99.5h0.8v0.8h-0.8zM333.6 122.4h0.8v0.8h-0.8zM340.4 111.8h0.8v0.8h-0.8zM336.1 125.8h0.8v0.8h-0.8zM337.3 110.3h0.8v0.8h-0.8zM328.5 125.2h0.8v0.8h-0.8zM338.7 118.8h0.8v0.8h-0.8zM328.5 124.5h0.8v0.8h-0.8zM337.4 141.7h0.8v0.8h-0.8zM337.8 107.2h0.8v0.8h-0.8zM333.6 124.6h0.8v0.8h-0.8zM332.0 115.5h0.8v0.8h-0.8zM330.8 143.8h0.8v0.8h-0.8zM336.5 121.2h0.8v0.8h-0.8zM336.6 121.9h0.8v0.8h-0.8zM335.6 132.9h0.8v0.8h-0.8zM344.5 123.0h0.8v0.8h-0.8zM336.3 112.4h0.8v0.8h-0.8zM337.1 121.8h0.8v0.8h-0.8zM330.0 123.6h0.8v0.8h-0.8zM337.6 131.4h0.8v0.8h-0.8zM340.2 90.3h0.8v0.8h-0.8zM344.8 105.0h0.8v0.8h-0.8zM334.2 99.4h0.8v0.8h-0.8zM337.0 122.3h0.8v0.8h-0.8zM334.9 112.5h0.8v0.8h-0.8zM334.8 122.6h0.8v0.8h-0.8zM339.9 127.2h0.8v0.8h-0.8zM327.6 111.8h0.8v0.8h-0.8zM341.4 117.2h0.8v0.8h-0.8zM331.9 139.8h0.8v0.8h-0.8zM334.3 108.1h0.8v0.8h-0.8zM346.5 113.8h0.8v0.8h-0.8zM332.5 135.0h0.8v0.8h-0.8zM335.5 115.1h0.8v0.8h-0.8zM331.4 105.3h0.8v0.8h-0.8zM335.6 122.9h0.8v0.8h-0.8zM338.0 112.1h0.8v0.8h-0.8zM342.7 128.8h0.8v0.8h-0.8zM336.1 128.5h0.8v0.8h-0.8zM338.8 120.5h0.8v0.8h-0.8zM340.0 117.0h0.8v0.8h-0.8zM333.3 110.3h0.8v0.8h-0.8zM336.7 111.1h0.8v0.8h-0.8zM343.9 110.2h0.8v0.8h-0.8zM337.9 116.9h0.8v0.8h-0.8zM344.9 106.3h0.8v0.8h-0.8zM331.6 136.0h0.8v0.8h-0.8zM333.6 124.7h0.8v0.8h-0.8zM336.5 128.0h0.8v0.8h-0.8zM332.3 127.0h0.8v0.8h-0.8zM339.0 120.5h0.8v0.8h-0.8zM331.9 120.6h0.8v0.8h-0.8zM337.8 100.7h0.8v0.8h-0.8zM330.4 138.6h0.8v0.8h-0.8zM333.0 135.0h0.8v0.8h-0.8zM337.4 126.0h0.8v0.8h-0.8zM338.8 107.2h0.8v0.8h-0.8zM332.5 138.3h0.8v0.8h-0.8zM330.3 130.0h0.8v0.8h-0.8zM338.7 118.7h0.8v0.8h-0.8zM332.4 118.2h0.8v0.8h-0.8zM338.0 112.0h0.8v0.8h-0.8zM341.6 105.1h0.8v0.8h-0.8zM339.0 120.4h0.8v0.8h-0.8zM330.3 121.0h0.8v0.8h-0.8zM341.4 112.4h0.8v0.8h-0.8zM340.9 107.1h0.8v0.8h-0.8zM334.0 108.7h0.8v0.8h-0.8zM334.7 123.1h0.8v0.8h-0.8zM342.2 113.0h0.8v0.8h-0.8zM337.7 118.9h0.8v0.8h-0.8zM340.8 125.4h0.8v0.8h-0.8zM338.6 116.7h0.8v0.8h-0.8zM347.8 92.3h0.8v0.8h-0.8zM342.1 133.7h0.8v0.8h-0.8zM337.1 119.3h0.8v0.8h-0.8zM337.0 127.7h0.8v0.8h-0.8zM335.3 123.1h0.8v0.8h-0.8zM331.7 140.6h0.8v0.8h-0.8zM340.1 101.5h0.8v0.8h-0.8zM334.1 135.8h0.8v0.8h-0.8zM329.1 129.2h0.8v0.8h-0.8zM340.5 104.2h0.8v0.8h-0.8zM337.7 112.7h0.8v0.8h-0.8zM335.3 110.1h0.8v0.8h-0.8zM336.4 120.3h0.8v0.8h-0.8zM334.0 110.9h0.8v0.8h-0.8zM341.9 120.1h0.8v0.8h-0.8zM342.0 105.6h0.8v0.8h-0.8zM336.4 114.9h0.8v0.8h-0.8zM336.6 142.5h0.8v0.8h-0.8zM337.7 127.1h0.8v0.8h-0.8zM340.2 107.0h0.8v0.8h-0.8zM337.5 122.6h0.8v0.8h-0.8zM334.7 103.9h0.8v0.8h-0.8zM335.6 112.5h0.8v0.8h-0.8zM337.7 116.0h0.8v0.8h-0.8zM336.0 112.0h0.8v0.8h-0.8zM335.0 110.5h0.8v0.8h-0.8zM341.5 119.8h0.8v0.8h-0.8zM338.3 110.3h0.8v0.8h-0.8zM340.3 105.0h0.8v0.8h-0.8zM333.0 118.0h0.8v0.8h-0.8zM340.0 107.2h0.8v0.8h-0.8zM336.7 128.5h0.8v0.8h-0.8zM335.6 124.5h0.8v0.8h-0.8zM333.9 106.5h0.8v0.8h-0.8zM334.0 138.7h0.8v0.8h-0.8zM334.7 134.7h0.8v0.8h-0.8zM337.1 115.7h0.8v0.8h-0.8zM336.3 108.8h0.8v0.8h-0.8zM344.7 108.0h0.8v0.8h-0.8zM338.6 110.2h0.8v0.8h-0.8zM337.6 124.1h0.8v0.8h-0.8zM336.3 119.7h0.8v0.8h-0.8zM333.4 138.8h0.8v0.8h-0.8zM333.4 105.8h0.8v0.8h-0.8zM338.1 110.4h0.8v0.8h-0.8zM330.5 131.7h0.8v0.8h-0.8zM343.2 104.4h0.8v0.8h-0.8zM342.9 105.5h0.8v0.8h-0.8zM330.7 115.1h0.8v0.8h-0.8zM341.5 134.2h0.8v0.8h-0.8zM341.1 111.0h0.8v0.8h-0.8zM341.2 120.8h0.8v0.8h-0.8zM339.4 106.7h0.8v0.8h-0.8zM343.3 104.6h0.8v0.8h-0.8zM333.4 123.4h0.8v0.8h-0.8zM334.8 140.9h0.8v0.8h-0.8zM339.1 131.5h0.8v0.8h-0.8zM336.9 142.9h0.8v0.8h-0.8zM339.9 131.6h0.8v0.8h-0.8zM340.8 111.1h0.8v0.8h-0.8zM335.8 112.9h0.8v0.8h-0.8zM338.2 132.2h0.8v0.8h-0.8zM340.5 105.7h0.8v0.8h-0.8zM328.2 138.0h0.8v0.8h-0.8zM334.4 115.8h0.8v0.8h-0.8zM333.1 112.7h0.8v0.8h-0.8zM336.1 121.1h0.8v0.8h-0.8zM331.7 116.6h0.8v0.8h-0.8zM331.5 123.5h0.8v0.8h-0.8zM337.5 128.2h0.8v0.8h-0.8zM344.0 106.6h0.8v0.8h-0.8zM331.7 138.2h0.8v0.8h-0.8zM343.1 105.0h0.8v0.8h-0.8zM340.5 117.8h0.8v0.8h-0.8zM340.7 102.1h0.8v0.8h-0.8zM342.0 126.7h0.8v0.8h-0.8zM335.0 98.8h0.8v0.8h-0.8zM341.2 116.1h0.8v0.8h-0.8zM330.6 134.7h0.8v0.8h-0.8zM333.5 94.5h0.8v0.8h-0.8zM338.0 98.9h0.8v0.8h-0.8zM339.8 97.6h0.8v0.8h-0.8zM331.1 126.6h0.8v0.8h-0.8zM329.0 127.6h0.8v0.8h-0.8zM338.3 113.2h0.8v0.8h-0.8zM337.8 124.7h0.8v0.8h-0.8zM339.5 141.2h0.8v0.8h-0.8zM336.4 108.4h0.8v0.8h-0.8zM331.4 131.2h0.8v0.8h-0.8zM341.2 113.3h0.8v0.8h-0.8zM339.8 127.2h0.8v0.8h-0.8zM337.4 94.3h0.8v0.8h-0.8zM337.6 105.8h0.8v0.8h-0.8zM342.8 98.2h0.8v0.8h-0.8zM336.1 123.0h0.8v0.8h-0.8zM332.0 103.3h0.8v0.8h-0.8zM335.7 102.4h0.8v0.8h-0.8zM341.4 103.8h0.8v0.8h-0.8zM329.8 127.2h0.8v0.8h-0.8zM339.6 106.2h0.8v0.8h-0.8zM335.6 134.9h0.8v0.8h-0.8zM340.3 139.6h0.8v0.8h-0.8zM338.2 122.8h0.8v0.8h-0.8zM332.7 107.6h0.8v0.8h-0.8zM339.0 132.2h0.8v0.8h-0.8zM336.5 143.3h0.8v0.8h-0.8zM340.3 111.9h0.8v0.8h-0.8zM344.5 112.2h0.8v0.8h-0.8zM335.9 132.9h0.8v0.8h-0.8zM343.3 112.0h0.8v0.8h-0.8zM336.3 134.2h0.8v0.8h-0.8zM339.2 122.0h0.8v0.8h-0.8zM337.5 111.2h0.8v0.8h-0.8zM334.0 117.7h0.8v0.8h-0.8zM337.2 115.7h0.8v0.8h-0.8zM334.9 114.2h0.8v0.8h-0.8zM339.0 130.9h0.8v0.8h-0.8zM332.5 129.2h0.8v0.8h-0.8zM332.8 122.7h0.8v0.8h-0.8zM340.2 123.4h0.8v0.8h-0.8zM338.9 117.0h0.8v0.8h-0.8zM339.0 127.8h0.8v0.8h-0.8zM339.0 134.3h0.8v0.8h-0.8zM340.9 115.1h0.8v0.8h-0.8zM338.6 109.8h0.8v0.8h-0.8zM340.4 100.5h0.8v0.8h-0.8zM333.6 143.9h0.8v0.8h-0.8zM338.8 120.6h0.8v0.8h-0.8zM333.8 116.8h0.8v0.8h-0.8zM331.8 125.4h0.8v0.8h-0.8zM335.8 107.7h0.8v0.8h-0.8zM339.3 130.7h0.8v0.8h-0.8zM336.8 122.6h0.8v0.8h-0.8zM343.9 104.6h0.8v0.8h-0.8zM339.5 98.5h0.8v0.8h-0.8zM338.5 140.7h0.8v0.8h-0.8zM337.2 119.9h0.8v0.8h-0.8zM331.3 101.9h0.8v0.8h-0.8zM337.0 112.4h0.8v0.8h-0.8zM336.8 118.7h0.8v0.8h-0.8zM343.8 110.7h0.8v0.8h-0.8zM333.6 111.5h0.8v0.8h-0.8zM336.2 133.0h0.8v0.8h-0.8zM333.8 130.1h0.8v0.8h-0.8zM337.4 118.8h0.8v0.8h-0.8zM329.8 121.9h0.8v0.8h-0.8zM337.9 97.3h0.8v0.8h-0.8zM336.8 113.9h0.8v0.8h-0.8zM337.5 115.7h0.8v0.8h-0.8zM347.3 90.3h0.8v0.8h-0.8zM336.4 123.0h0.8v0.8h-0.8zM338.7 125.4h0.8v0.8h-0.8zM336.7 113.9h0.8v0.8h-0.8zM341.1 108.2h0.8v0.8h-0.8zM345.8 105.8h0.8v0.8h-0.8zM343.6 128.1h0.8v0.8h-0.8zM338.1 133.4h0.8v0.8h-0.8zM331.6 107.8h0.8v0.8h-0.8zM338.5 111.0h0.8v0.8h-0.8zM333.2 120.6h0.8v0.8h-0.8zM334.4 142.6h0.8v0.8h-0.8zM332.3 131.5h0.8v0.8h-0.8zM336.7 133.5h0.8v0.8h-0.8zM335.3 117.3h0.8v0.8h-0.8zM333.8 124.6h0.8v0.8h-0.8zM338.2 123.2h0.8v0.8h-0.8zM333.8 123.4h0.8v0.8h-0.8zM341.9 111.1h0.8v0.8h-0.8zM339.3 131.7h0.8v0.8h-0.8zM335.0 120.0h0.8v0.8h-0.8zM338.5 131.7h0.8v0.8h-0.8zM334.0 116.5h0.8v0.8h-0.8zM334.2 119.4h0.8v0.8h-0.8zM340.9 121.5h0.8v0.8h-0.8zM330.3 134.5h0.8v0.8h-0.8zM338.6 127.6h0.8v0.8h-0.8zM344.5 108.4h0.8v0.8h-0.8zM327.8 132.1h0.8v0.8h-0.8zM346.4 99.8h0.8v0.8h-0.8zM328.9 112.8h0.8v0.8h-0.8zM327.6 127.9h0.8v0.8h-0.8zM328.2 143.6h0.8v0.8h-0.8zM332.0 125.5h0.8v0.8h-0.8zM334.3 125.2h0.8v0.8h-0.8zM335.9 110.2h0.8v0.8h-0.8zM340.0 118.6h0.8v0.8h-0.8zM333.5 117.7h0.8v0.8h-0.8zM337.1 131.5h0.8v0.8h-0.8zM339.2 99.2h0.8v0.8h-0.8zM343.7 105.2h0.8v0.8h-0.8zM336.3 114.2h0.8v0.8h-0.8zM339.6 111.4h0.8v0.8h-0.8zM338.7 110.1h0.8v0.8h-0.8zM336.9 140.3h0.8v0.8h-0.8zM335.3 119.0h0.8v0.8h-0.8zM338.1 115.6h0.8v0.8h-0.8zM339.5 99.0h0.8v0.8h-0.8zM331.3 112.3h0.8v0.8h-0.8zM335.1 113.1h0.8v0.8h-0.8zM338.0 103.7h0.8v0.8h-0.8zM337.9 123.4h0.8v0.8h-0.8zM338.0 110.9h0.8v0.8h-0.8zM343.3 104.6h0.8v0.8h-0.8zM340.9 111.6h0.8v0.8h-0.8zM331.5 116.6h0.8v0.8h-0.8zM343.1 95.7h0.8v0.8h-0.8zM333.8 116.0h0.8v0.8h-0.8zM333.3 126.7h0.8v0.8h-0.8zM341.0 111.8h0.8v0.8h-0.8zM335.3 111.8h0.8v0.8h-0.8zM339.2 119.9h0.8v0.8h-0.8zM338.5 124.3h0.8v0.8h-0.8zM338.8 133.6h0.8v0.8h-0.8zM330.9 117.5h0.8v0.8h-0.8zM339.9 125.5h0.8v0.8h-0.8zM334.1 126.0h0.8v0.8h-0.8zM340.3 117.4h0.8v0.8h-0.8zM331.5 109.8h0.8v0.8h-0.8zM332.7 116.1h0.8v0.8h-0.8zM328.6 131.3h0.8v0.8h-0.8zM333.4 123.6h0.8v0.8h-0.8zM341.0 130.6h0.8v0.8h-0.8zM337.6 113.9h0.8v0.8h-0.8zM334.3 125.7h0.8v0.8h-0.8zM342.2 107.9h0.8v0.8h-0.8zM337.5 103.6h0.8v0.8h-0.8zM339.8 111.0h0.8v0.8h-0.8zM338.0 118.7h0.8v0.8h-0.8zM336.2 139.7h0.8v0.8h-0.8zM337.2 132.7h0.8v0.8h-0.8zM338.4 110.9h0.8v0.8h-0.8zM341.2 102.7h0.8v0.8h-0.8zM339.1 115.7h0.8v0.8h-0.8zM340.2 107.9h0.8v0.8h-0.8zM328.9 140.4h0.8v0.8h-0.8zM337.9 117.1h0.8v0.8h-0.8zM337.2 112.7h0.8v0.8h-0.8zM338.4 105.0h0.8v0.8h-0.8zM332.5 124.6h0.8v0.8h-0.8zM332.2 121.7h0.8v0.8h-0.8zM336.9 114.0h0.8v0.8h-0.8zM336.3 137.3h0.8v0.8h-0.8zM335.9 101.0h0.8v0.8h-0.8zM337.8 128.0h0.8v0.8h-0.8zM334.5 118.9h0.8v0.8h-0.8zM336.5 128.6h0.8v0.8h-0.8zM339.4 107.2h0.8v0.8h-0.8zM342.8 115.3h0.8v0.8h-0.8zM338.2 126.7h0.8v0.8h-0.8zM339.9 143.5h0.8v0.8h-0.8zM339.0 107.2h0.8v0.8h-0.8zM343.4 108.3h0.8v0.8h-0.8zM345.1 106.0h0.8v0.8h-0.8zM334.0 116.9h0.8v0.8h-0.8zM339.4 114.6h0.8v0.8h-0.8zM337.8 118.3h0.8v0.8h-0.8zM343.1 106.5h0.8v0.8h-0.8zM326.6 115.1h0.8v0.8h-0.8zM333.9 126.6h0.8v0.8h-0.8zM329.5 113.8h0.8v0.8h-0.8zM342.2 110.5h0.8v0.8h-0.8zM337.7 129.4h0.8v0.8h-0.8zM339.3 101.5h0.8v0.8h-0.8zM338.3 115.8h0.8v0.8h-0.8zM337.7 120.3h0.8v0.8h-0.8zM338.3 116.8h0.8v0.8h-0.8zM334.9 117.0h0.8v0.8h-0.8zM328.2 132.2h0.8v0.8h-0.8zM337.9 125.4h0.8v0.8h-0.8zM336.3 108.8h0.8v0.8h-0.8zM334.3 121.3h0.8v0.8h-0.8zM334.1 131.4h0.8v0.8h-0.8zM341.9 105.3h0.8v0.8h-0.8zM333.6 110.8h0.8v0.8h-0.8zM332.3 134.7h0.8v0.8h-0.8zM339.3 123.6h0.8v0.8h-0.8zM342.6 121.8h0.8v0.8h-0.8zM331.3 127.4h0.8v0.8h-0.8zM332.5 118.5h0.8v0.8h-0.8zM332.3 143.1h0.8v0.8h-0.8zM338.1 131.5h0.8v0.8h-0.8zM338.9 125.4h0.8v0.8h-0.8zM342.3 105.9h0.8v0.8h-0.8zM336.3 121.5h0.8v0.8h-0.8zM335.6 111.5h0.8v0.8h-0.8zM334.1 111.7h0.8v0.8h-0.8zM341.2 114.1h0.8v0.8h-0.8zM334.1 127.0h0.8v0.8h-0.8zM333.2 131.1h0.8v0.8h-0.8zM335.6 122.4h0.8v0.8h-0.8zM336.4 142.9h0.8v0.8h-0.8zM338.2 106.6h0.8v0.8h-0.8zM334.0 138.3h0.8v0.8h-0.8zM343.7 104.9h0.8v0.8h-0.8zM344.4 118.9h0.8v0.8h-0.8zM332.0 116.4h0.8v0.8h-0.8zM337.1 143.7h0.8v0.8h-0.8zM332.4 142.0h0.8v0.8h-0.8zM335.4 103.7h0.8v0.8h-0.8zM331.5 142.0h0.8v0.8h-0.8zM335.4 123.8h0.8v0.8h-0.8zM337.6 128.5h0.8v0.8h-0.8zM337.2 119.0h0.8v0.8h-0.8zM331.1 126.6h0.8v0.8h-0.8zM328.4 116.6h0.8v0.8h-0.8zM329.0 125.9h0.8v0.8h-0.8zM341.5 112.6h0.8v0.8h-0.8zM335.8 102.5h0.8v0.8h-0.8zM336.8 108.7h0.8v0.8h-0.8zM342.5 111.5h0.8v0.8h-0.8zM332.4 131.1h0.8v0.8h-0.8zM338.2 112.6h0.8v0.8h-0.8zM333.8 139.9h0.8v0.8h-0.8zM337.3 113.3h0.8v0.8h-0.8zM328.9 138.4h0.8v0.8h-0.8zM334.9 137.3h0.8v0.8h-0.8zM336.2 111.9h0.8v0.8h-0.8zM337.0 132.5h0.8v0.8h-0.8zM330.7 127.3h0.8v0.8h-0.8zM335.5 112.2h0.8v0.8h-0.8zM340.1 133.0h0.8v0.8h-0.8zM336.2 139.2h0.8v0.8h-0.8zM340.0 111.7h0.8v0.8h-0.8zM339.2 128.4h0.8v0.8h-0.8zM337.5 130.0h0.8v0.8h-0.8zM335.0 122.3h0.8v0.8h-0.8zM332.7 124.7h0.8v0.8h-0.8zM339.2 109.1h0.8v0.8h-0.8zM337.9 118.8h0.8v0.8h-0.8zM341.4 112.1h0.8v0.8h-0.8zM345.7 102.1h0.8v0.8h-0.8zM340.0 112.2h0.8v0.8h-0.8zM338.8 102.1h0.8v0.8h-0.8zM337.3 126.2h0.8v0.8h-0.8zM340.0 100.1h0.8v0.8h-0.8zM342.2 124.6h0.8v0.8h-0.8zM335.4 130.0h0.8v0.8h-0.8zM331.4 123.7h0.8v0.8h-0.8zM331.0 124.3h0.8v0.8h-0.8zM340.6 107.2h0.8v0.8h-0.8zM338.4 117.8h0.8v0.8h-0.8zM338.7 137.0h0.8v0.8h-0.8zM329.7 134.3h0.8v0.8h-0.8zM334.2 119.1h0.8v0.8h-0.8zM331.8 122.9h0.8v0.8h-0.8zM334.2 120.0h0.8v0.8h-0.8zM343.0 118.6h0.8v0.8h-0.8zM331.3 141.7h0.8v0.8h-0.8zM334.0 131.3h0.8v0.8h-0.8zM333.5 131.1h0.8v0.8h-0.8zM336.8 127.9h0.8v0.8h-0.8zM339.5 124.8h0.8v0.8h-0.8zM329.7 117.5h0.8v0.8h-0.8zM334.8 96.5h0.8v0.8h-0.8zM338.2 115.1h0.8v0.8h-0.8zM332.1 110.5h0.8v0.8h-0.8zM340.5 116.6h0.8v0.8h-0.8zM332.3 113.4h0.8v0.8h-0.8zM333.9 124.9h0.8v0.8h-0.8zM334.7 135.7h0.8v0.8h-0.8zM344.4 103.4h0.8v0.8h-0.8zM339.7 107.6h0.8v0.8h-0.8zM338.0 127.4h0.8v0.8h-0.8zM332.4 118.2h0.8v0.8h-0.8zM331.9 126.4h0.8v0.8h-0.8zM333.7 123.2h0.8v0.8h-0.8zM343.1 96.6h0.8v0.8h-0.8zM341.9 123.4h0.8v0.8h-0.8zM337.1 107.5h0.8v0.8h-0.8zM333.6 135.0h0.8v0.8h-0.8zM329.3 135.4h0.8v0.8h-0.8zM334.7 111.3h0.8v0.8h-0.8zM338.6 113.5h0.8v0.8h-0.8zM338.8 126.9h0.8v0.8h-0.8zM338.1 115.1h0.8v0.8h-0.8zM338.6 106.4h0.8v0.8h-0.8zM335.9 135.0h0.8v0.8h-0.8zM340.1 96.7h0.8v0.8h-0.8zM337.6 116.2h0.8v0.8h-0.8zM339.7 127.2h0.8v0.8h-0.8zM337.9 97.1h0.8v0.8h-0.8zM334.6 126.4h0.8v0.8h-0.8zM341.3 101.1h0.8v0.8h-0.8zM332.3 111.8h0.8v0.8h-0.8zM339.3 108.2h0.8v0.8h-0.8zM334.7 116.9h0.8v0.8h-0.8zM335.0 117.1h0.8v0.8h-0.8zM337.6 112.1h0.8v0.8h-0.8zM334.4 113.9h0.8v0.8h-0.8zM332.3 97.1h0.8v0.8h-0.8zM332.7 141.2h0.8v0.8h-0.8zM336.6 125.4h0.8v0.8h-0.8zM337.8 115.3h0.8v0.8h-0.8zM336.2 109.8h0.8v0.8h-0.8zM330.2 132.8h0.8v0.8h-0.8zM337.1 122.8h0.8v0.8h-0.8zM340.4 104.6h0.8v0.8h-0.8zM331.9 125.2h0.8v0.8h-0.8zM332.8 134.2h0.8v0.8h-0.8zM340.3 118.3h0.8v0.8h-0.8zM335.8 120.8h0.8v0.8h-0.8zM340.9 115.4h0.8v0.8h-0.8zM335.2 114.2h0.8v0.8h-0.8zM330.7 128.3h0.8v0.8h-0.8zM336.4 121.5h0.8v0.8h-0.8zM336.3 112.3h0.8v0.8h-0.8zM337.7 117.3h0.8v0.8h-0.8zM333.1 135.7h0.8v0.8h-0.8zM334.6 134.9h0.8v0.8h-0.8zM334.3 107.4h0.8v0.8h-0.8zM343.0 122.2h0.8v0.8h-0.8zM331.9 131.9h0.8v0.8h-0.8zM337.5 124.0h0.8v0.8h-0.8zM338.0 102.3h0.8v0.8h-0.8zM340.1 116.0h0.8v0.8h-0.8zM336.5 127.0h0.8v0.8h-0.8zM333.9 129.1h0.8v0.8h-0.8zM337.0 111.5h0.8v0.8h-0.8zM330.5 122.7h0.8v0.8h-0.8zM330.2 131.6h0.8v0.8h-0.8zM342.9 125.7h0.8v0.8h-0.8zM344.0 102.6h0.8v0.8h-0.8zM338.5 131.4h0.8v0.8h-0.8zM330.6 116.1h0.8v0.8h-0.8zM332.5 127.5h0.8v0.8h-0.8zM337.8 134.7h0.8v0.8h-0.8zM333.1 113.8h0.8v0.8h-0.8zM332.7 129.7h0.8v0.8h-0.8zM333.4 110.4h0.8v0.8h-0.8zM328.8 109.2h0.8v0.8h-0.8zM338.2 129.8h0.8v0.8h-0.8zM333.6 119.1h0.8v0.8h-0.8zM341.7 112.2h0.8v0.8h-0.8zM343.2 111.3h0.8v0.8h-0.8zM336.2 134.8h0.8v0.8h-0.8zM340.8 110.8h0.8v0.8h-0.8zM341.0 125.1h0.8v0.8h-0.8zM337.4 127.8h0.8v0.8h-0.8zM335.8 121.3h0.8v0.8h-0.8zM341.7 124.7h0.8v0.8h-0.8zM339.2 119.8h0.8v0.8h-0.8zM335.8 120.3h0.8v0.8h-0.8zM336.5 97.6h0.8v0.8h-0.8zM340.3 101.6h0.8v0.8h-0.8zM339.3 104.6h0.8v0.8h-0.8zM334.1 119.0h0.8v0.8h-0.8zM335.9 123.1h0.8v0.8h-0.8zM337.2 116.8h0.8v0.8h-0.8zM336.2 114.9h0.8v0.8h-0.8zM332.6 113.7h0.8v0.8h-0.8zM333.3 125.2h0.8v0.8h-0.8zM337.7 113.6h0.8v0.8h-0.8zM337.5 113.3h0.8v0.8h-0.8zM335.3 132.5h0.8v0.8h-0.8zM345.3 111.0h0.8v0.8h-0.8zM335.8 134.0h0.8v0.8h-0.8zM339.4 104.0h0.8v0.8h-0.8zM337.7 125.5h0.8v0.8h-0.8zM334.6 123.2h0.8v0.8h-0.8zM339.3 109.1h0.8v0.8h-0.8zM341.0 95.8h0.8v0.8h-0.8zM336.6 119.2h0.8v0.8h-0.8zM338.6 104.0h0.8v0.8h-0.8zM348.0 111.6h0.8v0.8h-0.8zM333.0 130.6h0.8v0.8h-0.8zM335.7 126.8h0.8v0.8h-0.8zM336.6 134.6h0.8v0.8h-0.8zM333.3 101.9h0.8v0.8h-0.8zM334.6 129.7h0.8v0.8h-0.8zM335.6 123.9h0.8v0.8h-0.8zM335.5 124.1h0.8v0.8h-0.8zM336.8 114.1h0.8v0.8h-0.8zM342.9 121.2h0.8v0.8h-0.8zM335.0 107.1h0.8v0.8h-0.8zM339.3 123.0h0.8v0.8h-0.8zM339.2 118.4h0.8v0.8h-0.8zM332.3 136.8h0.8v0.8h-0.8zM334.1 119.3h0.8v0.8h-0.8zM332.2 120.4h0.8v0.8h-0.8zM337.9 127.0h0.8v0.8h-0.8zM340.0 116.9h0.8v0.8h-0.8zM335.7 101.6h0.8v0.8h-0.8zM341.5 123.5h0.8v0.8h-0.8zM334.3 111.0h0.8v0.8h-0.8zM335.3 132.0h0.8v0.8h-0.8zM336.3 122.6h0.8v0.8h-0.8zM337.3 125.6h0.8v0.8h-0.8zM343.2 122.0h0.8v0.8h-0.8zM332.1 115.0h0.8v0.8h-0.8zM338.8 124.2h0.8v0.8h-0.8zM336.9 118.9h0.8v0.8h-0.8zM341.3 110.2h0.8v0.8h-0.8zM331.2 127.9h0.8v0.8h-0.8zM331.9 121.0h0.8v0.8h-0.8zM343.4 110.5h0.8v0.8h-0.8zM341.6 115.4h0.8v0.8h-0.8zM340.9 106.4h0.8v0.8h-0.8zM336.1 133.2h0.8v0.8h-0.8zM340.8 114.9h0.8v0.8h-0.8zM336.6 107.3h0.8v0.8h-0.8zM332.2 131.6h0.8v0.8h-0.8zM336.0 126.7h0.8v0.8h-0.8zM335.5 105.2h0.8v0.8h-0.8zM332.4 129.4h0.8v0.8h-0.8zM334.3 119.0h0.8v0.8h-0.8zM333.8 127.0h0.8v0.8h-0.8zM338.7 115.0h0.8v0.8h-0.8zM340.5 118.7h0.8v0.8h-0.8zM341.0 115.6h0.8v0.8h-0.8zM332.3 127.1h0.8v0.8h-0.8zM338.9 122.9h0.8v0.8h-0.8zM339.8 123.5h0.8v0.8h-0.8zM338.2 131.7h0.8v0.8h-0.8zM332.8 129.4h0.8v0.8h-0.8zM337.2 128.9h0.8v0.8h-0.8zM333.3 119.5h0.8v0.8h-0.8zM340.2 106.8h0.8v0.8h-0.8zM330.7 143.2h0.8v0.8h-0.8zM338.8 124.9h0.8v0.8h-0.8zM334.8 102.6h0.8v0.8h-0.8zM331.3 115.7h0.8v0.8h-0.8zM334.8 136.0h0.8v0.8h-0.8zM336.0 122.7h0.8v0.8h-0.8zM339.9 95.4h0.8v0.8h-0.8zM339.8 120.4h0.8v0.8h-0.8zM341.5 124.1h0.8v0.8h-0.8zM339.6 123.1h0.8v0.8h-0.8zM334.7 122.2h0.8v0.8h-0.8zM334.8 120.3h0.8v0.8h-0.8zM337.2 113.0h0.8v0.8h-0.8zM335.2 116.2h0.8v0.8h-0.8zM330.0 132.8h0.8v0.8h-0.8zM337.0 117.4h0.8v0.8h-0.8zM344.5 91.5h0.8v0.8h-0.8zM334.5 122.0h0.8v0.8h-0.8zM340.7 110.7h0.8v0.8h-0.8zM337.1 116.3h0.8v0.8h-0.8zM338.5 98.1h0.8v0.8h-0.8zM336.8 118.8h0.8v0.8h-0.8zM341.0 106.1h0.8v0.8h-0.8zM338.6 117.5h0.8v0.8h-0.8zM334.7 105.1h0.8v0.8h-0.8zM336.1 121.0h0.8v0.8h-0.8zM335.6 107.5h0.8v0.8h-0.8zM336.9 110.0h0.8v0.8h-0.8zM337.5 111.2h0.8v0.8h-0.8zM334.8 116.2h0.8v0.8h-0.8zM334.2 117.1h0.8v0.8h-0.8zM336.5 113.6h0.8v0.8h-0.8zM329.4 123.3h0.8v0.8h-0.8zM338.2 109.6h0.8v0.8h-0.8zM338.0 111.2h0.8v0.8h-0.8zM336.5 130.7h0.8v0.8h-0.8zM327.5 126.3h0.8v0.8h-0.8zM338.3 101.8h0.8v0.8h-0.8zM340.5 127.3h0.8v0.8h-0.8zM338.4 117.1h0.8v0.8h-0.8zM340.3 118.5h0.8v0.8h-0.8zM336.1 134.0h0.8v0.8h-0.8zM340.0 93.2h0.8v0.8h-0.8zM339.3 109.0h0.8v0.8h-0.8zM336.0 122.9h0.8v0.8h-0.8zM336.9 135.5h0.8v0.8h-0.8zM329.9 128.8h0.8v0.8h-0.8zM331.1 128.9h0.8v0.8h-0.8zM340.6 113.7h0.8v0.8h-0.8zM340.7 113.5h0.8v0.8h-0.8zM333.2 126.6h0.8v0.8h-0.8zM330.4 122.5h0.8v0.8h-0.8zM328.6 123.5h0.8v0.8h-0.8zM341.2 108.9h0.8v0.8h-0.8zM337.9 125.2h0.8v0.8h-0.8zM344.2 122.3h0.8v0.8h-0.8zM341.6 114.1h0.8v0.8h-0.8zM344.7 105.0h0.8v0.8h-0.8zM339.9 129.3h0.8v0.8h-0.8zM334.3 129.8h0.8v0.8h-0.8zM335.2 130.5h0.8v0.8h-0.8zM341.0 112.1h0.8v0.8h-0.8zM330.8 123.7h0.8v0.8h-0.8zM338.8 122.4h0.8v0.8h-0.8zM334.9 120.7h0.8v0.8h-0.8zM341.7 126.0h0.8v0.8h-0.8zM334.3 113.2h0.8v0.8h-0.8zM333.6 128.2h0.8v0.8h-0.8zM340.3 114.7h0.8v0.8h-0.8zM340.8 109.8h0.8v0.8h-0.8zM337.7 106.4h0.8v0.8h-0.8zM334.1 119.6h0.8v0.8h-0.8zM339.2 113.1h0.8v0.8h-0.8zM339.0 104.5h0.8v0.8h-0.8zM336.9 127.0h0.8v0.8h-0.8zM339.5 110.4h0.8v0.8h-0.8zM332.7 129.9h0.8v0.8h-0.8zM333.8 120.2h0.8v0.8h-0.8zM343.9 100.1h0.8v0.8h-0.8zM337.7 134.7h0.8v0.8h-0.8zM335.8 134.0h0.8v0.8h-0.8zM332.9 105.5h0.8v0.8h-0.8zM334.4 121.5h0.8v0.8h-0.8zM337.4 114.7h0.8v0.8h-0.8zM331.6 109.0h0.8v0.8h-0.8zM336.3 122.3h0.8v0.8h-0.8zM335.4 127.5h0.8v0.8h-0.8zM328.6 132.2h0.8v0.8h-0.8zM336.5 125.4h0.8v0.8h-0.8zM341.4 133.2h0.8v0.8h-0.8zM334.7 117.5h0.8v0.8h-0.8zM335.6 135.7h0.8v0.8h-0.8zM337.5 143.6h0.8v0.8h-0.8zM334.1 90.5h0.8v0.8h-0.8zM329.5 127.8h0.8v0.8h-0.8zM336.6 135.5h0.8v0.8h-0.8zM334.7 126.7h0.8v0.8h-0.8zM333.9 117.0h0.8v0.8h-0.8zM342.0 128.4h0.8v0.8h-0.8zM336.9 129.7h0.8v0.8h-0.8zM333.5 106.2h0.8v0.8h-0.8zM333.7 133.7h0.8v0.8h-0.8zM342.9 108.8h0.8v0.8h-0.8zM339.7 117.8h0.8v0.8h-0.8zM329.3 117.2h0.8v0.8h-0.8zM338.9 122.9h0.8v0.8h-0.8zM334.5 125.0h0.8v0.8h-0.8zM334.1 112.9h0.8v0.8h-0.8zM341.0 109.8h0.8v0.8h-0.8zM339.4 132.4h0.8v0.8h-0.8zM333.1 142.8h0.8v0.8h-0.8zM336.4 103.3h0.8v0.8h-0.8zM339.0 122.3h0.8v0.8h-0.8zM336.0 117.6h0.8v0.8h-0.8zM338.1 112.0h0.8v0.8h-0.8zM333.7 127.2h0.8v0.8h-0.8zM341.7 130.1h0.8v0.8h-0.8zM342.3 118.1h0.8v0.8h-0.8zM333.8 113.2h0.8v0.8h-0.8zM330.8 129.3h0.8v0.8h-0.8zM334.6 128.2h0.8v0.8h-0.8zM340.0 128.0h0.8v0.8h-0.8zM337.3 118.3h0.8v0.8h-0.8zM336.3 122.2h0.8v0.8h-0.8zM337.2 122.0h0.8v0.8h-0.8zM330.5 136.5h0.8v0.8h-0.8zM336.3 99.1h0.8v0.8h-0.8zM336.1 136.9h0.8v0.8h-0.8zM333.9 127.8h0.8v0.8h-0.8zM339.7 115.8h0.8v0.8h-0.8zM333.8 111.7h0.8v0.8h-0.8zM333.9 127.1h0.8v0.8h-0.8zM339.3 138.9h0.8v0.8h-0.8zM339.0 109.8h0.8v0.8h-0.8zM336.8 101.3h0.8v0.8h-0.8zM337.4 124.0h0.8v0.8h-0.8zM338.1 118.4h0.8v0.8h-0.8zM337.8 117.8h0.8v0.8h-0.8zM332.6 108.7h0.8v0.8h-0.8zM339.8 120.3h0.8v0.8h-0.8zM344.6 115.9h0.8v0.8h-0.8zM335.4 123.8h0.8v0.8h-0.8zM341.2 122.2h0.8v0.8h-0.8zM339.0 106.4h0.8v0.8h-0.8zM333.5 100.3h0.8v0.8h-0.8zM336.1 122.0h0.8v0.8h-0.8zM340.6 118.5h0.8v0.8h-0.8zM341.5 116.9h0.8v0.8h-0.8zM333.8 121.8h0.8v0.8h-0.8zM337.7 109.7h0.8v0.8h-0.8zM334.7 139.2h0.8v0.8h-0.8zM338.0 102.8h0.8v0.8h-0.8zM341.2 106.5h0.8v0.8h-0.8zM339.0 111.9h0.8v0.8h-0.8zM331.6 130.9h0.8v0.8h-0.8zM335.5 122.4h0.8v0.8h-0.8zM337.0 102.6h0.8v0.8h-0.8zM344.1 95.8h0.8v0.8h-0.8zM334.4 143.1h0.8v0.8h-0.8zM334.9 123.8h0.8v0.8h-0.8zM333.4 125.0h0.8v0.8h-0.8zM336.3 116.7h0.8v0.8h-0.8zM339.2 119.8h0.8v0.8h-0.8zM332.5 117.6h0.8v0.8h-0.8zM342.1 125.0h0.8v0.8h-0.8zM341.6 122.8h0.8v0.8h-0.8zM339.7 115.6h0.8v0.8h-0.8zM339.0 127.3h0.8v0.8h-0.8zM346.3 104.2h0.8v0.8h-0.8zM332.2 121.8h0.8v0.8h-0.8zM334.3 135.0h0.8v0.8h-0.8zM345.2 106.7h0.8v0.8h-0.8zM331.6 118.3h0.8v0.8h-0.8zM337.8 136.9h0.8v0.8h-0.8zM335.8 119.3h0.8v0.8h-0.8zM332.7 131.1h0.8v0.8h-0.8zM332.7 143.4h0.8v0.8h-0.8zM335.6 107.1h0.8v0.8h-0.8zM337.6 115.3h0.8v0.8h-0.8zM338.5 128.7h0.8v0.8h-0.8zM338.9 113.5h0.8v0.8h-0.8zM336.8 114.9h0.8v0.8h-0.8zM336.6 118.6h0.8v0.8h-0.8zM339.0 113.4h0.8v0.8h-0.8zM333.9 120.6h0.8v0.8h-0.8zM331.2 132.9h0.8v0.8h-0.8zM339.9 116.6h0.8v0.8h-0.8zM338.7 120.9h0.8v0.8h-0.8zM341.6 132.2h0.8v0.8h-0.8zM331.5 129.4h0.8v0.8h-0.8zM333.1 124.0h0.8v0.8h-0.8zM337.7 132.8h0.8v0.8h-0.8zM332.6 128.1h0.8v0.8h-0.8zM340.6 133.1h0.8v0.8h-0.8zM339.1 107.8h0.8v0.8h-0.8zM332.5 121.1h0.8v0.8h-0.8zM339.6 120.6h0.8v0.8h-0.8zM330.7 118.0h0.8v0.8h-0.8zM334.7 140.1h0.8v0.8h-0.8zM337.4 117.2h0.8v0.8h-0.8zM341.8 118.9h0.8v0.8h-0.8zM339.7 127.7h0.8v0.8h-0.8zM342.5 118.7h0.8v0.8h-0.8zM330.6 120.7h0.8v0.8h-0.8zM332.9 106.6h0.8v0.8h-0.8zM337.6 108.6h0.8v0.8h-0.8zM342.8 102.7h0.8v0.8h-0.8zM338.6 108.4h0.8v0.8h-0.8zM341.4 118.7h0.8v0.8h-0.8zM331.5 112.2h0.8v0.8h-0.8zM331.9 108.6h0.8v0.8h-0.8zM334.7 125.2h0.8v0.8h-0.8zM336.9 109.3h0.8v0.8h-0.8zM335.2 121.1h0.8v0.8h-0.8zM331.8 126.8h0.8v0.8h-0.8zM337.4 131.7h0.8v0.8h-0.8zM330.8 138.7h0.8v0.8h-0.8zM333.7 119.5h0.8v0.8h-0.8zM337.8 129.2h0.8v0.8h-0.8zM332.9 126.6h0.8v0.8h-0.8zM336.4 129.9h0.8v0.8h-0.8zM339.1 137.5h0.8v0.8h-0.8zM341.3 97.1h0.8v0.8h-0.8zM340.1 99.7h0.8v0.8h-0.8zM338.5 103.3h0.8v0.8h-0.8zM331.4 129.1h0.8v0.8h-0.8zM333.0 126.9h0.8v0.8h-0.8zM334.3 139.9h0.8v0.8h-0.8zM335.9 124.6h0.8v0.8h-0.8zM332.6 124.6h0.8v0.8h-0.8zM334.7 130.7h0.8v0.8h-0.8zM341.0 118.7h0.8v0.8h-0.8zM334.7 117.6h0.8v0.8h-0.8zM328.6 139.8h0.8v0.8h-0.8zM335.3 116.3h0.8v0.8h-0.8zM335.9 120.2h0.8v0.8h-0.8zM335.0 120.8h0.8v0.8h-0.8zM345.1 100.9h0.8v0.8h-0.8zM340.2 107.5h0.8v0.8h-0.8zM343.3 111.1h0.8v0.8h-0.8zM334.0 122.6h0.8v0.8h-0.8zM339.5 101.8h0.8v0.8h-0.8zM337.5 138.0h0.8v0.8h-0.8zM336.1 140.4h0.8v0.8h-0.8zM337.3 132.6h0.8v0.8h-0.8zM328.6 130.7h0.8v0.8h-0.8zM340.3 103.9h0.8v0.8h-0.8zM347.7 92.3h0.8v0.8h-0.8zM342.4 91.7h0.8v0.8h-0.8zM328.0 129.0h0.8v0.8h-0.8zM337.2 99.5h0.8v0.8h-0.8zM333.4 126.0h0.8v0.8h-0.8zM333.9 127.0h0.8v0.8h-0.8zM335.3 115.7h0.8v0.8h-0.8zM341.2 107.2h0.8v0.8h-0.8zM339.4 115.3h0.8v0.8h-0.8zM333.0 131.7h0.8v0.8h-0.8zM338.7 113.1h0.8v0.8h-0.8zM337.0 138.7h0.8v0.8h-0.8zM344.6 98.1h0.8v0.8h-0.8zM330.5 121.9h0.8v0.8h-0.8zM335.9 115.5h0.8v0.8h-0.8zM332.6 123.5h0.8v0.8h-0.8zM336.3 122.9h0.8v0.8h-0.8zM328.2 138.4h0.8v0.8h-0.8zM332.7 122.0h0.8v0.8h-0.8zM336.0 139.0h0.8v0.8h-0.8zM334.0 102.6h0.8v0.8h-0.8zM332.8 128.5h0.8v0.8h-0.8zM335.9 121.4h0.8v0.8h-0.8zM334.1 108.0h0.8v0.8h-0.8zM332.6 109.4h0.8v0.8h-0.8zM335.4 122.8h0.8v0.8h-0.8zM336.5 133.1h0.8v0.8h-0.8zM337.7 122.7h0.8v0.8h-0.8zM329.4 129.4h0.8v0.8h-0.8zM334.7 118.9h0.8v0.8h-0.8zM341.1 107.5h0.8v0.8h-0.8zM330.6 124.0h0.8v0.8h-0.8zM336.9 126.5h0.8v0.8h-0.8zM334.4 135.1h0.8v0.8h-0.8zM340.7 119.8h0.8v0.8h-0.8zM341.3 105.0h0.8v0.8h-0.8zM337.4 124.9h0.8v0.8h-0.8zM334.4 134.6h0.8v0.8h-0.8zM330.0 108.6h0.8v0.8h-0.8zM334.2 126.7h0.8v0.8h-0.8zM333.0 118.8h0.8v0.8h-0.8zM336.5 121.1h0.8v0.8h-0.8zM342.6 96.5h0.8v0.8h-0.8zM344.0 96.8h0.8v0.8h-0.8zM337.6 116.9h0.8v0.8h-0.8zM336.9 113.0h0.8v0.8h-0.8zM335.8 115.1h0.8v0.8h-0.8zM337.6 108.2h0.8v0.8h-0.8z" fill="#3cc4c4" fill-opacity="0.85"/>
<path d="M337.2 116.0h0.8v0.8h-0.8zM339.1 117.6h0.8v0.8h-0.8zM333.1 132.1h0.8v0.8h-0.8zM334.6 129.9h0.8v0.8h-0.8zM336.7 130.1h0.8v0.8h-0.8zM339.2 132.4h0.8v0.8h-0.8zM336.7 121.1h0.8v0.8h-0.8zM335.6 136.5h0.8v0.8h-0.8zM332.9 123.0h0.8v0.8h-0.8zM339.2 128.2h0.8v0.8h-0.8zM340.7 121.5h0.8v0.8h-0.8zM330.3 118.4h0.8v0.8h-0.8zM337.6 121.9h0.8v0.8h-0.8zM335.4 120.6h0.8v0.8h-0.8zM332.2 124.7h0.8v0.8h-0.8zM340.9 139.9h0.8v0.8h-0.8zM337.4 130.2h0.8v0.8h-0.8zM342.0 123.5h0.8v0.8h-0.8zM333.6 131.1h0.8v0.8h-0.8zM334.6 123.4h0.8v0.8h-0.8zM331.5 136.7h0.8v0.8h-0.8zM336.1 134.1h0.8v0.8h-0.8zM331.0 125.1h0.8v0.8h-0.8zM335.0 127.5h0.8v0.8h-0.8zM339.2 128.5h0.8v0.8h-0.8zM337.5 120.0h0.8v0.8h-0.8zM338.7 118.9h0.8v0.8h-0.8zM336.3 126.9h0.8v0.8h-0.8zM338.1 120.9h0.8v0.8h-0.8zM335.6 127.7h0.8v0.8h-0.8zM332.2 134.6h0.8v0.8h-0.8zM337.3 126.2h0.8v0.8h-0.8zM335.7 132.5h0.8v0.8h-0.8zM333.6 141.7h0.8v0.8h-0.8zM332.7 124.6h0.8v0.8h-0.8zM339.4 139.2h0.8v0.8h-0.8zM331.1 121.5h0.8v0.8h-0.8zM333.5 119.0h0.8v0.8h-0.8zM336.9 129.4h0.8v0.8h-0.8zM337.7 126.7h0.8v0.8h-0.8zM336.6 116.5h0.8v0.8h-0.8zM331.5 138.1h0.8v0.8h-0.8zM339.1 134.7h0.8v0.8h-0.8zM335.6 120.4h0.8v0.8h-0.8zM331.6 126.4h0.8v0.8h-0.8zM339.0 127.4h0.8v0.8h-0.8zM335.6 118.3h0.8v0.8h-0.8zM330.5 130.5h0.8v0.8h-0.8zM328.2 117.4h0.8v0.8h-0.8zM335.4 114.5h0.8v0.8h-0.8zM334.0 139.3h0.8v0.8h-0.8zM336.7 123.1h0.8v0.8h-0.8zM336.3 122.1h0.8v0.8h-0.8zM333.6 126.2h0.8v0.8h-0.8zM337.1 122.4h0.8v0.8h-0.8zM332.8 131.6h0.8v0.8h-0.8zM338.2 134.5h0.8v0.8h-0.8zM336.5 135.0h0.8v0.8h-0.8zM336.9 110.5h0.8v0.8h-0.8zM333.5 134.1h0.8v0.8h-0.8zM333.6 129.4h0.8v0.8h-0.8zM335.6 128.6h0.8v0.8h-0.8zM333.1 137.2h0.8v0.8h-0.8zM340.3 132.9h0.8v0.8h-0.8zM336.6 114.5h0.8v0.8h-0.8zM338.0 130.0h0.8v0.8h-0.8zM341.1 126.7h0.8v0.8h-0.8zM340.1 136.7h0.8v0.8h-0.8zM342.0 111.7h0.8v0.8h-0.8zM333.4 133.0h0.8v0.8h-0.8zM340.7 129.1h0.8v0.8h-0.8zM334.7 133.2h0.8v0.8h-0.8zM335.3 131.1h0.8v0.8h-0.8zM336.6 111.6h0.8v0.8h-0.8zM336.2 133.4h0.8v0.8h-0.8zM335.9 127.7h0.8v0.8h-0.8zM336.9 121.8h0.8v0.8h-0.8zM340.4 135.4h0.8v0.8h-0.8zM329.6 127.7h0.8v0.8h-0.8zM331.7 141.0h0.8v0.8h-0.8zM332.2 136.4h0.8v0.8h-0.8zM336.8 119.3h0.8v0.8h-0.8zM336.3 134.1h0.8v0.8h-0.8zM337.1 128.0h0.8v0.8h-0.8zM341.5 127.8h0.8v0.8h-0.8zM336.1 126.8h0.8v0.8h-0.8zM331.8 136.0h0.8v0.8h-0.8zM337.3 121.7h0.8v0.8h-0.8zM341.3 131.4h0.8v0.8h-0.8zM341.8 115.9h0.8v0.8h-0.8zM335.8 130.6h0.8v0.8h-0.8zM336.4 118.1h0.8v0.8h-0.8zM337.0 118.0h0.8v0.8h-0.8zM337.7 127.6h0.8v0.8h-0.8zM335.6 119.2h0.8v0.8h-0.8zM334.6 136.6h0.8v0.8h-0.8zM340.5 119.4h0.8v0.8h-0.8zM340.5 140.6h0.8v0.8h-0.8zM336.1 134.4h0.8v0.8h-0.8zM334.3 128.8h0.8v0.8h-0.8zM334.2 133.0h0.8v0.8h-0.8zM332.7 129.6h0.8v0.8h-0.8zM335.2 132.0h0.8v0.8h-0.8zM333.9 123.4h0.8v0.8h-0.8zM336.8 131.0h0.8v0.8h-0.8zM334.5 125.3h0.8v0.8h-0.8zM333.3 127.5h0.8v0.8h-0.8zM334.9 123.4h0.8v0.8h-0.8zM328.7 123.8h0.8v0.8h-0.8zM337.1 134.7h0.8v0.8h-0.8zM335.3 127.7h0.8v0.8h-0.8zM340.0 134.1h0.8v0.8h-0.8zM334.7 125.6h0.8v0.8h-0.8zM335.6 127.3h0.8v0.8h-0.8zM333.3 124.3h0.8v0.8h-0.8zM342.1 138.1h0.8v0.8h-0.8zM336.8 140.9h0.8v0.8h-0.8zM339.6 127.3h0.8v0.8h-0.8zM335.0 135.1h0.8v0.8h-0.8zM337.7 116.7h0.8v0.8h-0.8zM333.2 118.1h0.8v0.8h-0.8zM334.2 133.8h0.8v0.8h-0.8zM335.1 114.4h0.8v0.8h-0.8zM338.1 136.0h0.8v0.8h-0.8zM338.4 141.7h0.8v0.8h-0.8zM339.4 127.4h0.8v0.8h-0.8zM333.3 117.4h0.8v0.8h-0.8zM334.3 121.1h0.8v0.8h-0.8zM335.8 121.2h0.8v0.8h-0.8zM337.9 134.8h0.8v0.8h-0.8zM332.3 119.9h0.8v0.8h-0.8zM335.2 121.7h0.8v0.8h-0.8zM339.0 140.5h0.8v0.8h-0.8zM336.2 118.5h0.8v0.8h-0.8zM335.6 123.1h0.8v0.8h-0.8zM332.7 138.9h0.8v0.8h-0.8zM338.0 115.1h0.8v0.8h-0.8zM338.9 109.0h0.8v0.8h-0.8zM331.0 122.6h0.8v0.8h-0.8zM337.1 129.8h0.8v0.8h-0.8zM334.9 127.8h0.8v0.8h-0.8zM333.2 123.7h0.8v0.8h-0.8zM341.3 117.9h0.8v0.8h-0.8zM337.8 134.8h0.8v0.8h-0.8zM332.8 124.1h0.8v0.8h-0.8zM332.9 123.0h0.8v0.8h-0.8zM336.4 128.5h0.8v0.8h-0.8zM331.6 139.7h0.8v0.8h-0.8zM335.3 129.6h0.8v0.8h-0.8zM332.0 125.6h0.8v0.8h-0.8zM336.4 133.0h0.8v0.8h-0.8zM337.1 111.2h0.8v0.8h-0.8zM334.0 123.0h0.8v0.8h-0.8zM336.9 128.0h0.8v0.8h-0.8zM337.8 122.6h0.8v0.8h-0.8zM337.1 122.0h0.8v0.8h-0.8zM333.9 123.8h0.8v0.8h-0.8zM338.3 120.5h0.8v0.8h-0.8zM334.9 123.9h0.8v0.8h-0.8zM336.5 128.8h0.8v0.8h-0.8zM336.0 131.2h0.8v0.8h-0.8zM335.8 119.6h0.8v0.8h-0.8zM330.0 126.6h0.8v0.8h-0.8zM338.9 121.8h0.8v0.8h-0.8zM337.2 135.5h0.8v0.8h-0.8zM336.2 142.1h0.8v0.8h-0.8zM337.6 129.8h0.8v0.8h-0.8zM334.6 131.6h0.8v0.8h-0.8zM335.4 126.1h0.8v0.8h-0.8zM337.3 132.2h0.8v0.8h-0.8zM329.6 126.6h0.8v0.8h-0.8zM333.7 118.2h0.8v0.8h-0.8zM334.1 138.2h0.8v0.8h-0.8zM334.3 133.3h0.8v0.8h-0.8zM333.6 128.3h0.8v0.8h-0.8zM336.5 132.1h0.8v0.8h-0.8zM338.1 141.7h0.8v0.8h-0.8zM337.1 124.6h0.8v0.8h-0.8zM338.8 134.2h0.8v0.8h-0.8zM337.3 129.7h0.8v0.8h-0.8zM340.1 111.0h0.8v0.8h-0.8zM340.4 125.5h0.8v0.8h-0.8zM334.5 132.9h0.8v0.8h-0.8zM333.5 131.2h0.8v0.8h-0.8zM334.1 127.4h0.8v0.8h-0.8zM334.8 118.4h0.8v0.8h-0.8zM337.9 130.4h0.8v0.8h-0.8zM337.3 129.8h0.8v0.8h-0.8zM336.5 132.7h0.8v0.8h-0.8zM333.9 142.7h0.8v0.8h-0.8zM334.6 128.8h0.8v0.8h-0.8zM335.3 137.2h0.8v0.8h-0.8zM336.5 132.3h0.8v0.8h-0.8zM336.6 132.5h0.8v0.8h-0.8zM333.7 120.5h0.8v0.8h-0.8zM340.0 118.8h0.8v0.8h-0.8zM338.1 132.4h0.8v0.8h-0.8zM337.9 127.4h0.8v0.8h-0.8zM331.2 139.0h0.8v0.8h-0.8zM338.1 135.0h0.8v0.8h-0.8zM336.3 135.2h0.8v0.8h-0.8zM336.4 122.3h0.8v0.8h-0.8zM329.2 128.4h0.8v0.8h-0.8zM331.3 135.4h0.8v0.8h-0.8zM334.9 124.1h0.8v0.8h-0.8zM331.9 128.8h0.8v0.8h-0.8zM339.6 138.4h0.8v0.8h-0.8zM332.6 128.4h0.8v0.8h-0.8zM338.0 130.6h0.8v0.8h-0.8zM336.9 138.5h0.8v0.8h-0.8zM344.1 132.3h0.8v0.8h-0.8zM336.0 117.0h0.8v0.8h-0.8zM340.2 129.7h0.8v0.8h-0.8zM334.6 129.0h0.8v0.8h-0.8zM332.5 131.5h0.8v0.8h-0.8zM339.6 137.9h0.8v0.8h-0.8zM334.3 130.0h0.8v0.8h-0.8zM338.9 123.5h0.8v0.8h-0.8zM337.6 135.6h0.8v0.8h-0.8zM335.9 130.3h0.8v0.8h-0.8zM336.5 139.3h0.8v0.8h-0.8zM336.3 131.4h0.8v0.8h-0.8zM334.1 136.8h0.8v0.8h-0.8zM336.3 122.3h0.8v0.8h-0.8zM337.1 127.4h0.8v0.8h-0.8zM333.7 129.2h0.8v0.8h-0.8zM328.3 122.2h0.8v0.8h-0.8zM337.8 131.9h0.8v0.8h-0.8zM333.9 125.7h0.8v0.8h-0.8zM337.5 125.8h0.8v0.8h-0.8zM333.4 123.2h0.8v0.8h-0.8zM337.0 128.0h0.8v0.8h-0.8zM335.2 115.6h0.8v0.8h-0.8zM334.9 135.9h0.8v0.8h-0.8zM335.7 132.0h0.8v0.8h-0.8zM336.9 133.3h0.8v0.8h-0.8zM330.8 138.8h0.8v0.8h-0.8zM339.5 130.9h0.8v0.8h-0.8zM338.9 126.3h0.8v0.8h-0.8zM336.8 139.4h0.8v0.8h-0.8zM331.1 125.6h0.8v0.8h-0.8zM338.4 130.0h0.8v0.8h-0.8zM335.9 111.4h0.8v0.8h-0.8zM340.7 124.3h0.8v0.8h-0.8zM334.5 128.5h0.8v0.8h-0.8zM335.3 133.9h0.8v0.8h-0.8zM338.8 132.8h0.8v0.8h-0.8zM329.6 136.3h0.8v0.8h-0.8zM334.7 124.1h0.8v0.8h-0.8zM335.4 124.1h0.8v0.8h-0.8zM329.1 130.2h0.8v0.8h-0.8zM333.1 122.2h0.8v0.8h-0.8zM336.6 125.3h0.8v0.8h-0.8zM336.9 129.0h0.8v0.8h-0.8zM340.7 112.5h0.8v0.8h-0.8zM338.7 115.7h0.8v0.8h-0.8zM332.0 131.7h0.8v0.8h-0.8zM338.2 122.6h0.8v0.8h-0.8zM337.0 134.4h0.8v0.8h-0.8zM336.2 124.5h0.8v0.8h-0.8zM332.6 120.0h0.8v0.8h-0.8zM341.4 133.3h0.8v0.8h-0.8zM341.1 126.2h0.8v0.8h-0.8zM336.8 131.2h0.8v0.8h-0.8zM333.5 122.9h0.8v0.8h-0.8zM332.6 121.8h0.8v0.8h-0.8zM332.6 125.6h0.8v0.8h-0.8zM338.5 121.9h0.8v0.8h-0.8zM330.9 126.7h0.8v0.8h-0.8zM339.3 120.1h0.8v0.8h-0.8zM335.4 131.0h0.8v0.8h-0.8zM336.9 134.4h0.8v0.8h-0.8zM338.1 131.9h0.8v0.8h-0.8zM342.9 118.0h0.8v0.8h-0.8zM338.1 138.0h0.8v0.8h-0.8zM335.4 114.2h0.8v0.8h-0.8zM337.0 129.8h0.8v0.8h-0.8zM336.3 129.0h0.8v0.8h-0.8zM336.0 134.2h0.8v0.8h-0.8zM336.2 122.8h0.8v0.8h-0.8zM333.0 124.1h0.8v0.8h-0.8zM336.9 137.4h0.8v0.8h-0.8zM331.9 137.2h0.8v0.8h-0.8zM339.2 120.0h0.8v0.8h-0.8zM334.8 125.9h0.8v0.8h-0.8zM332.5 121.9h0.8v0.8h-0.8zM337.9 107.4h0.8v0.8h-0.8zM337.9 137.2h0.8v0.8h-0.8zM336.2 122.9h0.8v0.8h-0.8z" fill="#2aa0c8" fill-opacity="0.8"/>
<path d="M343.2 110.8h0.8v0.8h-0.8zM339.7 116.2h0.8v0.8h-0.8zM345.4 114.6h0.8v0.8h-0.8zM341.3 105.0h0.8v0.8h-0.8zM339.3 120.7h0.8v0.8h-0.8zM343.9 103.4h0.8v0.8h-0.8zM343.5 109.2h0.8v0.8h-0.8zM341.6 122.6h0.8v0.8h-0.8zM342.9 128.6h0.8v0.8h-0.8zM347.4 109.0h0.8v0.8h-0.8zM344.8 116.5h0.8v0.8h-0.8zM343.1 115.8h0.8v0.8h-0.8zM342.1 112.3h0.8v0.8h-0.8zM347.8 107.7h0.8v0.8h-0.8zM341.9 124.1h0.8v0.8h-0.8zM338.0 124.0h0.8v0.8h-0.8zM346.2 106.4h0.8v0.8h-0.8zM341.7 112.6h0.8v0.8h-0.8zM337.4 127.1h0.8v0.8h-0.8zM339.4 117.4h0.8v0.8h-0.8zM339.5 127.4h0.8v0.8h-0.8zM337.3 111.9h0.8v0.8h-0.8zM341.1 123.7h0.8v0.8h-0.8zM341.5 110.2h0.8v0.8h-0.8zM347.3 107.2h0.8v0.8h-0.8zM342.8 131.9h0.8v0.8h-0.8zM341.5 125.2h0.8v0.8h-0.8zM342.6 111.0h0.8v0.8h-0.8zM343.5 110.6h0.8v0.8h-0.8zM345.6 117.7h0.8v0.8h-0.8zM346.4 116.8h0.8v0.8h-0.8zM337.9 122.2h0.8v0.8h-0.8zM339.2 126.5h0.8v0.8h-0.8zM343.0 111.2h0.8v0.8h-0.8zM341.7 125.3h0.8v0.8h-0.8zM345.8 106.1h0.8v0.8h-0.8zM341.6 121.6h0.8v0.8h-0.8zM341.6 115.3h0.8v0.8h-0.8zM342.4 113.2h0.8v0.8h-0.8zM346.6 101.6h0.8v0.8h-0.8zM341.8 122.6h0.8v0.8h-0.8zM343.2 120.9h0.8v0.8h-0.8zM343.9 123.3h0.8v0.8h-0.8zM345.4 116.4h0.8v0.8h-0.8zM343.2 117.7h0.8v0.8h-0.8zM345.4 106.6h0.8v0.8h-0.8zM347.4 108.0h0.8v0.8h-0.8zM345.1 114.7h0.8v0.8h-0.8zM342.1 95.8h0.8v0.8h-0.8zM342.7 105.6h0.8v0.8h-0.8zM343.8 111.8h0.8v0.8h-0.8zM342.4 122.1h0.8v0.8h-0.8zM340.1 130.3h0.8v0.8h-0.8zM341.6 110.5h0.8v0.8h-0.8zM337.9 122.9h0.8v0.8h-0.8zM350.6 98.4h0.8v0.8h-0.8zM345.3 104.3h0.8v0.8h-0.8zM341.6 113.8h0.8v0.8h-0.8zM341.1 118.3h0.8v0.8h-0.8zM346.3 116.0h0.8v0.8h-0.8zM339.4 108.1h0.8v0.8h-0.8zM340.4 117.5h0.8v0.8h-0.8zM345.8 102.1h0.8v0.8h-0.8zM342.9 126.1h0.8v0.8h-0.8zM345.1 125.1h0.8v0.8h-0.8zM343.3 110.1h0.8v0.8h-0.8zM343.1 108.6h0.8v0.8h-0.8zM341.4 122.0h0.8v0.8h-0.8zM344.3 120.1h0.8v0.8h-0.8zM343.7 105.3h0.8v0.8h-0.8zM343.7 109.9h0.8v0.8h-0.8zM342.0 118.2h0.8v0.8h-0.8zM346.2 100.9h0.8v0.8h-0.8zM343.2 126.2h0.8v0.8h-0.8zM344.6 112.2h0.8v0.8h-0.8zM340.0 119.5h0.8v0.8h-0.8zM338.8 111.5h0.8v0.8h-0.8zM345.0 121.2h0.8v0.8h-0.8zM341.4 106.0h0.8v0.8h-0.8zM340.9 111.8h0.8v0.8h-0.8zM344.0 107.9h0.8v0.8h-0.8zM346.5 107.8h0.8v0.8h-0.8zM342.3 103.7h0.8v0.8h-0.8zM342.3 109.1h0.8v0.8h-0.8zM344.2 117.2h0.8v0.8h-0.8zM344.5 111.7h0.8v0.8h-0.8zM343.2 114.9h0.8v0.8h-0.8zM338.4 129.5h0.8v0.8h-0.8zM345.1 114.7h0.8v0.8h-0.8zM341.1 125.5h0.8v0.8h-0.8zM348.5 105.9h0.8v0.8h-0.8zM341.3 109.8h0.8v0.8h-0.8zM343.6 126.8h0.8v0.8h-0.8zM342.9 100.6h0.8v0.8h-0.8zM343.6 102.3h0.8v0.8h-0.8zM349.6 94.7h0.8v0.8h-0.8zM345.7 110.7h0.8v0.8h-0.8zM343.1 122.9h0.8v0.8h-0.8zM342.2 103.0h0.8v0.8h-0.8zM345.1 102.2h0.8v0.8h-0.8zM344.0 115.4h0.8v0.8h-0.8zM342.6 111.2h0.8v0.8h-0.8zM340.6 119.1h0.8v0.8h-0.8zM344.2 117.4h0.8v0.8h-0.8zM352.0 101.1h0.8v0.8h-0.8zM342.7 115.4h0.8v0.8h-0.8zM344.7 113.3h0.8v0.8h-0.8zM341.6 114.9h0.8v0.8h-0.8zM339.4 127.8h0.8v0.8h-0.8zM341.6 109.1h0.8v0.8h-0.8zM338.2 124.1h0.8v0.8h-0.8zM344.9 118.6h0.8v0.8h-0.8zM343.5 112.0h0.8v0.8h-0.8zM344.2 111.7h0.8v0.8h-0.8zM343.1 129.2h0.8v0.8h-0.8zM347.2 117.0h0.8v0.8h-0.8zM346.7 127.2h0.8v0.8h-0.8zM346.2 124.6h0.8v0.8h-0.8zM336.1 122.5h0.8v0.8h-0.8zM340.7 112.3h0.8v0.8h-0.8zM343.4 111.5h0.8v0.8h-0.8zM345.4 117.7h0.8v0.8h-0.8zM335.9 97.8h0.8v0.8h-0.8zM347.2 108.2h0.8v0.8h-0.8zM344.0 122.7h0.8v0.8h-0.8zM347.3 108.2h0.8v0.8h-0.8zM340.0 121.7h0.8v0.8h-0.8zM341.1 115.5h0.8v0.8h-0.8zM340.4 105.0h0.8v0.8h-0.8zM341.5 124.5h0.8v0.8h-0.8zM341.1 115.2h0.8v0.8h-0.8zM338.5 125.2h0.8v0.8h-0.8zM346.5 109.2h0.8v0.8h-0.8zM344.5 127.9h0.8v0.8h-0.8zM340.9 121.5h0.8v0.8h-0.8zM337.7 126.2h0.8v0.8h-0.8zM346.1 108.8h0.8v0.8h-0.8zM337.1 117.0h0.8v0.8h-0.8zM340.2 122.1h0.8v0.8h-0.8zM339.8 128.3h0.8v0.8h-0.8zM341.1 117.4h0.8v0.8h-0.8zM344.3 95.0h0.8v0.8h-0.8zM345.3 104.6h0.8v0.8h-0.8zM343.9 128.8h0.8v0.8h-0.8zM340.0 114.6h0.8v0.8h-0.8zM346.5 110.6h0.8v0.8h-0.8zM346.2 94.1h0.8v0.8h-0.8zM345.1 106.5h0.8v0.8h-0.8zM349.3 97.8h0.8v0.8h-0.8zM340.3 125.2h0.8v0.8h-0.8zM341.0 122.6h0.8v0.8h-0.8zM341.0 122.0h0.8v0.8h-0.8zM341.4 125.1h0.8v0.8h-0.8zM344.7 107.9h0.8v0.8h-0.8zM343.6 127.3h0.8v0.8h-0.8zM342.0 114.1h0.8v0.8h-0.8zM346.1 117.1h0.8v0.8h-0.8zM342.8 131.8h0.8v0.8h-0.8zM341.6 112.5h0.8v0.8h-0.8zM341.4 120.0h0.8v0.8h-0.8zM339.6 118.8h0.8v0.8h-0.8zM342.4 116.4h0.8v0.8h-0.8zM340.8 120.4h0.8v0.8h-0.8zM342.7 114.3h0.8v0.8h-0.8zM344.0 113.0h0.8v0.8h-0.8zM344.2 118.3h0.8v0.8h-0.8zM341.8 105.6h0.8v0.8h-0.8zM348.0 100.8h0.8v0.8h-0.8zM340.0 115.1h0.8v0.8h-0.8zM344.9 100.5h0.8v0.8h-0.8zM343.1 117.1h0.8v0.8h-0.8zM343.7 109.6h0.8v0.8h-0.8zM341.2 110.3h0.8v0.8h-0.8zM341.0 106.6h0.8v0.8h-0.8zM344.7 104.7h0.8v0.8h-0.8zM338.5 125.0h0.8v0.8h-0.8zM343.3 103.7h0.8v0.8h-0.8zM339.2 127.8h0.8v0.8h-0.8zM338.2 127.0h0.8v0.8h-0.8zM343.2 116.5h0.8v0.8h-0.8zM341.5 103.2h0.8v0.8h-0.8zM348.1 100.4h0.8v0.8h-0.8zM338.4 130.0h0.8v0.8h-0.8zM343.4 110.8h0.8v0.8h-0.8zM343.3 107.9h0.8v0.8h-0.8zM343.4 107.9h0.8v0.8h-0.8zM341.8 119.4h0.8v0.8h-0.8zM338.8 106.2h0.8v0.8h-0.8zM344.9 119.7h0.8v0.8h-0.8zM344.9 113.2h0.8v0.8h-0.8zM344.0 104.5h0.8v0.8h-0.8zM343.7 118.2h0.8v0.8h-0.8zM345.6 100.5h0.8v0.8h-0.8zM344.8 114.0h0.8v0.8h-0.8zM341.3 129.0h0.8v0.8h-0.8zM345.6 100.7h0.8v0.8h-0.8zM340.7 106.5h0.8v0.8h-0.8zM344.0 112.2h0.8v0.8h-0.8zM340.4 119.2h0.8v0.8h-0.8zM342.6 108.9h0.8v0.8h-0.8zM345.1 104.7h0.8v0.8h-0.8zM342.2 128.1h0.8v0.8h-0.8zM345.5 103.0h0.8v0.8h-0.8zM341.8 103.2h0.8v0.8h-0.8zM347.4 104.2h0.8v0.8h-0.8zM342.6 125.4h0.8v0.8h-0.8zM349.8 109.3h0.8v0.8h-0.8zM344.9 111.0h0.8v0.8h-0.8zM342.9 104.0h0.8v0.8h-0.8zM340.1 118.1h0.8v0.8h-0.8zM348.1 111.1h0.8v0.8h-0.8zM339.7 127.8h0.8v0.8h-0.8zM338.9 107.8h0.8v0.8h-0.8zM343.8 109.7h0.8v0.8h-0.8zM346.3 104.6h0.8v0.8h-0.8zM342.0 129.8h0.8v0.8h-0.8zM340.8 115.4h0.8v0.8h-0.8zM342.4 114.6h0.8v0.8h-0.8zM342.4 111.2h0.8v0.8h-0.8zM347.9 115.8h0.8v0.8h-0.8zM342.6 99.6h0.8v0.8h-0.8zM340.8 112.9h0.8v0.8h-0.8zM339.9 106.4h0.8v0.8h-0.8zM338.5 116.4h0.8v0.8h-0.8zM342.8 110.8h0.8v0.8h-0.8zM338.9 116.4h0.8v0.8h-0.8zM344.9 123.0h0.8v0.8h-0.8zM342.4 105.5h0.8v0.8h-0.8zM341.1 114.6h0.8v0.8h-0.8zM346.7 112.7h0.8v0.8h-0.8zM338.4 118.0h0.8v0.8h-0.8zM345.3 106.3h0.8v0.8h-0.8zM343.3 129.5h0.8v0.8h-0.8zM343.7 119.4h0.8v0.8h-0.8zM343.0 107.5h0.8v0.8h-0.8zM340.0 120.9h0.8v0.8h-0.8zM344.6 104.5h0.8v0.8h-0.8zM346.1 113.0h0.8v0.8h-0.8zM337.7 110.9h0.8v0.8h-0.8zM343.2 120.3h0.8v0.8h-0.8zM342.7 117.7h0.8v0.8h-0.8zM342.2 118.2h0.8v0.8h-0.8zM344.0 112.5h0.8v0.8h-0.8zM342.5 116.8h0.8v0.8h-0.8zM341.9 108.8h0.8v0.8h-0.8zM346.1 109.9h0.8v0.8h-0.8zM340.4 123.0h0.8v0.8h-0.8zM341.9 119.4h0.8v0.8h-0.8zM341.9 108.4h0.8v0.8h-0.8zM340.9 122.1h0.8v0.8h-0.8zM341.6 106.7h0.8v0.8h-0.8zM346.6 102.6h0.8v0.8h-0.8zM340.8 110.7h0.8v0.8h-0.8zM349.5 99.1h0.8v0.8h-0.8zM338.8 119.6h0.8v0.8h-0.8zM336.6 129.6h0.8v0.8h-0.8zM341.1 125.7h0.8v0.8h-0.8zM339.6 123.0h0.8v0.8h-0.8zM346.2 103.2h0.8v0.8h-0.8zM344.1 118.4h0.8v0.8h-0.8zM340.1 126.6h0.8v0.8h-0.8zM342.4 108.9h0.8v0.8h-0.8zM342.1 105.9h0.8v0.8h-0.8zM349.8 102.2h0.8v0.8h-0.8zM343.3 129.3h0.8v0.8h-0.8zM343.6 110.7h0.8v0.8h-0.8zM344.3 110.6h0.8v0.8h-0.8zM343.5 119.0h0.8v0.8h-0.8zM342.9 104.7h0.8v0.8h-0.8zM340.7 109.0h0.8v0.8h-0.8zM343.2 112.9h0.8v0.8h-0.8zM343.5 120.2h0.8v0.8h-0.8zM339.4 117.2h0.8v0.8h-0.8zM343.1 108.6h0.8v0.8h-0.8zM339.6 105.8h0.8v0.8h-0.8zM342.7 104.3h0.8v0.8h-0.8zM344.3 122.7h0.8v0.8h-0.8zM345.4 104.6h0.8v0.8h-0.8zM341.4 125.8h0.8v0.8h-0.8zM340.6 110.8h0.8v0.8h-0.8zM342.2 120.0h0.8v0.8h-0.8zM342.6 120.6h0.8v0.8h-0.8zM344.1 122.4h0.8v0.8h-0.8zM342.4 112.5h0.8v0.8h-0.8zM345.7 119.9h0.8v0.8h-0.8zM341.2 117.7h0.8v0.8h-0.8zM344.1 104.2h0.8v0.8h-0.8zM344.6 119.7h0.8v0.8h-0.8zM343.9 122.8h0.8v0.8h-0.8zM344.3 111.9h0.8v0.8h-0.8zM340.0 117.6h0.8v0.8h-0.8zM345.2 116.9h0.8v0.8h-0.8zM341.6 129.9h0.8v0.8h-0.8zM342.4 104.9h0.8v0.8h-0.8zM340.3 126.9h0.8v0.8h-0.8zM343.9 129.1h0.8v0.8h-0.8zM341.8 108.9h0.8v0.8h-0.8zM341.1 121.6h0.8v0.8h-0.8zM344.7 111.9h0.8v0.8h-0.8zM340.9 120.2h0.8v0.8h-0.8zM343.9 122.8h0.8v0.8h-0.8zM343.4 100.5h0.8v0.8h-0.8zM344.3 107.9h0.8v0.8h-0.8zM343.1 102.8h0.8v0.8h-0.8zM339.7 116.6h0.8v0.8h-0.8zM343.3 128.7h0.8v0.8h-0.8zM343.9 104.2h0.8v0.8h-0.8zM347.8 102.7h0.8v0.8h-0.8zM347.8 101.6h0.8v0.8h-0.8zM345.2 113.8h0.8v0.8h-0.8zM345.5 107.5h0.8v0.8h-0.8zM336.2 118.3h0.8v0.8h-0.8zM341.6 110.1h0.8v0.8h-0.8zM340.1 117.3h0.8v0.8h-0.8zM344.5 101.7h0.8v0.8h-0.8zM344.4 92.4h0.8v0.8h-0.8zM344.4 121.3h0.8v0.8h-0.8zM344.5 112.7h0.8v0.8h-0.8zM343.9 107.8h0.8v0.8h-0.8zM342.7 113.2h0.8v0.8h-0.8zM341.4 122.4h0.8v0.8h-0.8zM344.8 104.2h0.8v0.8h-0.8zM343.0 114.3h0.8v0.8h-0.8zM345.8 105.4h0.8v0.8h-0.8zM341.8 125.8h0.8v0.8h-0.8zM342.3 95.5h0.8v0.8h-0.8zM340.9 105.9h0.8v0.8h-0.8zM344.7 122.7h0.8v0.8h-0.8zM340.8 107.8h0.8v0.8h-0.8zM336.8 117.3h0.8v0.8h-0.8zM340.8 107.5h0.8v0.8h-0.8zM341.1 98.0h0.8v0.8h-0.8zM342.9 113.3h0.8v0.8h-0.8zM342.0 121.0h0.8v0.8h-0.8zM346.3 111.3h0.8v0.8h-0.8zM343.8 102.7h0.8v0.8h-0.8zM345.5 105.7h0.8v0.8h-0.8zM346.6 121.6h0.8v0.8h-0.8zM345.7 108.2h0.8v0.8h-0.8zM345.4 102.7h0.8v0.8h-0.8zM341.7 123.1h0.8v0.8h-0.8zM344.2 109.8h0.8v0.8h-0.8zM342.7 99.2h0.8v0.8h-0.8zM345.0 103.9h0.8v0.8h-0.8zM341.5 123.7h0.8v0.8h-0.8zM344.7 109.9h0.8v0.8h-0.8zM341.7 115.2h0.8v0.8h-0.8zM345.0 116.1h0.8v0.8h-0.8zM346.2 102.6h0.8v0.8h-0.8zM346.2 96.7h0.8v0.8h-0.8zM341.9 115.4h0.8v0.8h-0.8zM346.5 103.4h0.8v0.8h-0.8zM338.5 120.8h0.8v0.8h-0.8zM343.5 107.3h0.8v0.8h-0.8zM339.3 113.6h0.8v0.8h-0.8zM343.1 102.4h0.8v0.8h-0.8zM339.9 121.0h0.8v0.8h-0.8zM342.9 129.7h0.8v0.8h-0.8zM341.2 106.8h0.8v0.8h-0.8zM346.4 118.0h0.8v0.8h-0.8zM348.7 110.5h0.8v0.8h-0.8zM345.3 105.1h0.8v0.8h-0.8zM345.7 101.4h0.8v0.8h-0.8zM344.3 116.3h0.8v0.8h-0.8zM342.8 111.4h0.8v0.8h-0.8zM342.5 112.5h0.8v0.8h-0.8zM340.0 114.9h0.8v0.8h-0.8zM345.2 97.6h0.8v0.8h-0.8zM342.0 119.1h0.8v0.8h-0.8zM344.1 127.6h0.8v0.8h-0.8zM340.7 118.9h0.8v0.8h-0.8zM349.1 121.8h0.8v0.8h-0.8zM346.6 108.4h0.8v0.8h-0.8zM342.8 115.6h0.8v0.8h-0.8zM348.0 112.6h0.8v0.8h-0.8zM344.4 106.0h0.8v0.8h-0.8zM346.0 109.7h0.8v0.8h-0.8zM342.7 119.2h0.8v0.8h-0.8zM341.9 110.4h0.8v0.8h-0.8zM346.8 111.9h0.8v0.8h-0.8zM345.0 119.7h0.8v0.8h-0.8zM345.3 101.1h0.8v0.8h-0.8zM345.7 108.8h0.8v0.8h-0.8zM343.5 116.6h0.8v0.8h-0.8zM341.9 110.0h0.8v0.8h-0.8zM344.1 120.6h0.8v0.8h-0.8zM338.5 131.1h0.8v0.8h-0.8zM343.4 109.0h0.8v0.8h-0.8zM346.1 111.4h0.8v0.8h-0.8zM342.5 109.8h0.8v0.8h-0.8zM348.0 105.4h0.8v0.8h-0.8zM342.2 119.2h0.8v0.8h-0.8zM340.4 117.0h0.8v0.8h-0.8zM344.7 113.0h0.8v0.8h-0.8zM342.7 111.1h0.8v0.8h-0.8zM344.7 121.1h0.8v0.8h-0.8zM341.4 124.2h0.8v0.8h-0.8zM344.6 106.7h0.8v0.8h-0.8zM343.4 118.1h0.8v0.8h-0.8zM345.6 106.4h0.8v0.8h-0.8zM341.1 128.4h0.8v0.8h-0.8zM346.0 107.9h0.8v0.8h-0.8zM346.3 115.6h0.8v0.8h-0.8zM345.0 93.5h0.8v0.8h-0.8zM340.2 129.8h0.8v0.8h-0.8zM343.6 118.6h0.8v0.8h-0.8zM342.1 122.6h0.8v0.8h-0.8zM342.3 117.0h0.8v0.8h-0.8zM339.1 128.3h0.8v0.8h-0.8zM337.7 131.7h0.8v0.8h-0.8zM345.7 115.9h0.8v0.8h-0.8zM345.2 108.7h0.8v0.8h-0.8zM339.3 118.8h0.8v0.8h-0.8zM342.2 116.0h0.8v0.8h-0.8zM343.3 112.2h0.8v0.8h-0.8zM341.6 109.9h0.8v0.8h-0.8zM344.4 101.9h0.8v0.8h-0.8zM342.1 115.0h0.8v0.8h-0.8zM339.5 112.4h0.8v0.8h-0.8zM342.0 113.0h0.8v0.8h-0.8zM344.3 102.1h0.8v0.8h-0.8zM340.7 106.9h0.8v0.8h-0.8zM345.0 107.8h0.8v0.8h-0.8zM345.8 108.1h0.8v0.8h-0.8zM344.7 129.3h0.8v0.8h-0.8zM344.5 111.3h0.8v0.8h-0.8zM342.8 123.1h0.8v0.8h-0.8zM344.5 116.0h0.8v0.8h-0.8zM341.2 119.6h0.8v0.8h-0.8zM337.0 121.3h0.8v0.8h-0.8zM341.2 122.3h0.8v0.8h-0.8zM346.8 112.6h0.8v0.8h-0.8zM345.8 98.8h0.8v0.8h-0.8zM340.3 124.0h0.8v0.8h-0.8zM342.5 113.5h0.8v0.8h-0.8zM341.2 104.3h0.8v0.8h-0.8zM340.0 112.8h0.8v0.8h-0.8zM342.2 121.3h0.8v0.8h-0.8zM345.1 118.7h0.8v0.8h-0.8zM343.2 113.1h0.8v0.8h-0.8zM342.4 125.2h0.8v0.8h-0.8zM337.4 129.5h0.8v0.8h-0.8zM348.7 92.9h0.8v0.8h-0.8zM340.0 110.2h0.8v0.8h-0.8zM343.1 117.0h0.8v0.8h-0.8zM345.1 103.7h0.8v0.8h-0.8zM343.5 108.5h0.8v0.8h-0.8zM345.2 113.3h0.8v0.8h-0.8zM337.0 121.4h0.8v0.8h-0.8zM340.7 112.2h0.8v0.8h-0.8zM341.2 105.7h0.8v0.8h-0.8zM338.9 109.4h0.8v0.8h-0.8zM345.3 107.3h0.8v0.8h-0.8zM339.7 128.3h0.8v0.8h-0.8zM345.8 109.0h0.8v0.8h-0.8zM345.3 103.0h0.8v0.8h-0.8zM342.1 106.5h0.8v0.8h-0.8zM339.4 129.3h0.8v0.8h-0.8zM341.5 123.0h0.8v0.8h-0.8zM341.1 101.3h0.8v0.8h-0.8zM341.3 105.7h0.8v0.8h-0.8zM341.0 122.6h0.8v0.8h-0.8zM343.1 127.2h0.8v0.8h-0.8zM342.2 111.0h0.8v0.8h-0.8zM342.8 122.3h0.8v0.8h-0.8zM342.9 101.4h0.8v0.8h-0.8zM346.2 95.7h0.8v0.8h-0.8zM348.2 96.0h0.8v0.8h-0.8zM343.0 118.2h0.8v0.8h-0.8zM342.8 116.2h0.8v0.8h-0.8zM342.6 120.8h0.8v0.8h-0.8zM345.5 96.0h0.8v0.8h-0.8zM344.8 125.0h0.8v0.8h-0.8zM343.3 110.5h0.8v0.8h-0.8zM344.5 114.0h0.8v0.8h-0.8zM345.7 95.3h0.8v0.8h-0.8zM341.9 115.7h0.8v0.8h-0.8zM344.1 105.6h0.8v0.8h-0.8zM341.3 118.7h0.8v0.8h-0.8zM344.2 122.5h0.8v0.8h-0.8zM338.9 114.1h0.8v0.8h-0.8zM339.1 114.0h0.8v0.8h-0.8zM343.6 114.4h0.8v0.8h-0.8zM337.9 122.8h0.8v0.8h-0.8zM342.2 107.9h0.8v0.8h-0.8zM348.4 110.1h0.8v0.8h-0.8zM343.9 122.3h0.8v0.8h-0.8zM347.5 104.2h0.8v0.8h-0.8zM347.0 103.8h0.8v0.8h-0.8zM341.0 113.2h0.8v0.8h-0.8zM342.5 119.4h0.8v0.8h-0.8zM344.0 111.6h0.8v0.8h-0.8zM345.9 113.3h0.8v0.8h-0.8zM346.7 117.4h0.8v0.8h-0.8zM345.0 108.5h0.8v0.8h-0.8zM343.9 110.5h0.8v0.8h-0.8zM340.3 115.9h0.8v0.8h-0.8zM345.7 122.0h0.8v0.8h-0.8zM341.5 115.5h0.8v0.8h-0.8zM345.6 110.6h0.8v0.8h-0.8zM346.5 106.2h0.8v0.8h-0.8zM339.3 127.2h0.8v0.8h-0.8zM348.2 109.3h0.8v0.8h-0.8zM342.5 105.4h0.8v0.8h-0.8zM345.8 117.5h0.8v0.8h-0.8zM345.5 113.6h0.8v0.8h-0.8zM347.8 116.4h0.8v0.8h-0.8zM346.1 113.6h0.8v0.8h-0.8zM347.3 107.0h0.8v0.8h-0.8zM345.2 102.4h0.8v0.8h-0.8zM341.0 125.3h0.8v0.8h-0.8zM342.5 125.0h0.8v0.8h-0.8zM344.8 104.1h0.8v0.8h-0.8zM345.5 109.6h0.8v0.8h-0.8zM343.4 117.2h0.8v0.8h-0.8zM341.2 115.8h0.8v0.8h-0.8zM339.8 122.3h0.8v0.8h-0.8zM343.3 110.5h0.8v0.8h-0.8zM350.8 96.6h0.8v0.8h-0.8zM342.7 124.5h0.8v0.8h-0.8zM341.8 102.1h0.8v0.8h-0.8zM344.6 116.8h0.8v0.8h-0.8zM344.9 104.6h0.8v0.8h-0.8zM343.4 113.7h0.8v0.8h-0.8zM337.8 116.6h0.8v0.8h-0.8zM341.3 118.0h0.8v0.8h-0.8zM341.4 111.4h0.8v0.8h-0.8zM344.7 113.7h0.8v0.8h-0.8zM341.4 104.8h0.8v0.8h-0.8zM342.4 106.1h0.8v0.8h-0.8zM340.2 117.3h0.8v0.8h-0.8zM341.6 121.3h0.8v0.8h-0.8zM348.8 98.1h0.8v0.8h-0.8zM345.2 126.5h0.8v0.8h-0.8zM344.2 109.1h0.8v0.8h-0.8zM340.9 123.7h0.8v0.8h-0.8zM339.9 104.0h0.8v0.8h-0.8zM345.7 101.6h0.8v0.8h-0.8zM343.0 105.7h0.8v0.8h-0.8zM344.6 101.9h0.8v0.8h-0.8zM343.8 99.7h0.8v0.8h-0.8zM343.4 109.8h0.8v0.8h-0.8zM336.6 116.9h0.8v0.8h-0.8zM345.4 123.5h0.8v0.8h-0.8zM347.6 106.2h0.8v0.8h-0.8zM343.3 115.8h0.8v0.8h-0.8zM342.6 97.4h0.8v0.8h-0.8zM343.6 125.2h0.8v0.8h-0.8zM342.4 127.5h0.8v0.8h-0.8zM338.3 112.2h0.8v0.8h-0.8zM342.1 106.6h0.8v0.8h-0.8zM343.0 107.6h0.8v0.8h-0.8zM345.8 121.2h0.8v0.8h-0.8zM340.5 106.9h0.8v0.8h-0.8zM342.2 106.7h0.8v0.8h-0.8zM343.1 100.7h0.8v0.8h-0.8zM344.3 114.2h0.8v0.8h-0.8zM348.1 112.9h0.8v0.8h-0.8zM344.7 103.3h0.8v0.8h-0.8zM344.8 120.5h0.8v0.8h-0.8zM340.0 119.9h0.8v0.8h-0.8zM347.2 100.5h0.8v0.8h-0.8zM338.6 125.4h0.8v0.8h-0.8zM346.6 118.8h0.8v0.8h-0.8zM345.3 120.8h0.8v0.8h-0.8zM343.4 117.7h0.8v0.8h-0.8zM340.3 129.0h0.8v0.8h-0.8zM344.5 111.7h0.8v0.8h-0.8zM341.9 118.4h0.8v0.8h-0.8zM346.6 123.1h0.8v0.8h-0.8zM335.5 124.8h0.8v0.8h-0.8zM343.3 106.9h0.8v0.8h-0.8zM336.3 114.5h0.8v0.8h-0.8zM343.3 109.3h0.8v0.8h-0.8zM342.3 99.8h0.8v0.8h-0.8zM345.3 102.8h0.8v0.8h-0.8zM340.1 109.1h0.8v0.8h-0.8zM340.5 116.4h0.8v0.8h-0.8zM337.5 111.4h0.8v0.8h-0.8zM341.9 114.8h0.8v0.8h-0.8zM343.5 113.2h0.8v0.8h-0.8zM342.4 121.4h0.8v0.8h-0.8zM340.5 126.4h0.8v0.8h-0.8zM342.5 127.7h0.8v0.8h-0.8zM344.5 109.6h0.8v0.8h-0.8zM343.9 101.4h0.8v0.8h-0.8zM337.9 128.3h0.8v0.8h-0.8zM341.7 119.3h0.8v0.8h-0.8zM340.7 114.0h0.8v0.8h-0.8zM344.6 127.7h0.8v0.8h-0.8zM343.9 115.8h0.8v0.8h-0.8zM340.3 114.9h0.8v0.8h-0.8zM344.4 113.6h0.8v0.8h-0.8zM343.7 105.6h0.8v0.8h-0.8zM343.8 102.9h0.8v0.8h-0.8zM342.5 106.6h0.8v0.8h-0.8zM341.2 125.2h0.8v0.8h-0.8zM345.7 108.3h0.8v0.8h-0.8zM339.0 110.4h0.8v0.8h-0.8zM348.0 114.0h0.8v0.8h-0.8zM343.7 122.5h0.8v0.8h-0.8zM341.9 102.5h0.8v0.8h-0.8zM344.2 117.7h0.8v0.8h-0.8zM340.6 126.1h0.8v0.8h-0.8zM342.0 130.9h0.8v0.8h-0.8zM348.2 109.9h0.8v0.8h-0.8zM344.3 118.4h0.8v0.8h-0.8zM342.6 115.7h0.8v0.8h-0.8zM342.6 120.6h0.8v0.8h-0.8zM345.5 124.5h0.8v0.8h-0.8zM345.5 116.3h0.8v0.8h-0.8zM342.2 110.4h0.8v0.8h-0.8zM346.1 108.7h0.8v0.8h-0.8zM343.0 130.3h0.8v0.8h-0.8zM342.9 104.1h0.8v0.8h-0.8zM345.0 106.1h0.8v0.8h-0.8zM341.1 111.7h0.8v0.8h-0.8zM339.0 131.2h0.8v0.8h-0.8zM342.7 107.6h0.8v0.8h-0.8zM345.4 107.1h0.8v0.8h-0.8zM342.3 114.9h0.8v0.8h-0.8zM345.4 115.1h0.8v0.8h-0.8zM346.2 114.2h0.8v0.8h-0.8zM342.2 106.2h0.8v0.8h-0.8zM343.1 104.7h0.8v0.8h-0.8zM342.7 102.9h0.8v0.8h-0.8zM344.8 120.8h0.8v0.8h-0.8zM344.4 110.0h0.8v0.8h-0.8zM343.6 114.8h0.8v0.8h-0.8zM346.7 108.5h0.8v0.8h-0.8zM344.1 100.3h0.8v0.8h-0.8zM343.8 99.4h0.8v0.8h-0.8zM341.2 107.8h0.8v0.8h-0.8zM343.3 129.7h0.8v0.8h-0.8zM346.6 105.4h0.8v0.8h-0.8zM344.9 115.3h0.8v0.8h-0.8zM343.4 105.3h0.8v0.8h-0.8zM340.7 118.5h0.8v0.8h-0.8zM341.2 104.1h0.8v0.8h-0.8zM345.8 105.8h0.8v0.8h-0.8zM343.2 116.5h0.8v0.8h-0.8zM343.3 121.8h0.8v0.8h-0.8zM346.4 106.0h0.8v0.8h-0.8zM342.0 121.1h0.8v0.8h-0.8zM341.9 118.3h0.8v0.8h-0.8zM346.8 110.0h0.8v0.8h-0.8zM344.7 108.0h0.8v0.8h-0.8zM339.0 123.5h0.8v0.8h-0.8zM343.1 123.1h0.8v0.8h-0.8zM341.1 117.1h0.8v0.8h-0.8zM341.8 113.2h0.8v0.8h-0.8zM338.9 126.2h0.8v0.8h-0.8zM341.3 122.2h0.8v0.8h-0.8zM347.8 94.7h0.8v0.8h-0.8zM342.6 123.7h0.8v0.8h-0.8zM341.9 102.8h0.8v0.8h-0.8zM345.6 119.8h0.8v0.8h-0.8zM339.6 122.2h0.8v0.8h-0.8zM342.5 110.9h0.8v0.8h-0.8zM346.5 103.1h0.8v0.8h-0.8zM343.1 115.3h0.8v0.8h-0.8zM344.0 109.3h0.8v0.8h-0.8zM342.6 100.8h0.8v0.8h-0.8zM344.0 121.2h0.8v0.8h-0.8zM345.0 98.7h0.8v0.8h-0.8zM342.7 113.2h0.8v0.8h-0.8zM343.4 109.6h0.8v0.8h-0.8zM343.8 125.5h0.8v0.8h-0.8zM338.2 109.1h0.8v0.8h-0.8zM345.5 118.3h0.8v0.8h-0.8zM347.9 110.3h0.8v0.8h-0.8zM343.8 101.4h0.8v0.8h-0.8zM342.2 109.6h0.8v0.8h-0.8zM344.1 103.8h0.8v0.8h-0.8zM348.2 107.7h0.8v0.8h-0.8zM347.0 112.4h0.8v0.8h-0.8zM341.4 125.1h0.8v0.8h-0.8zM347.1 101.7h0.8v0.8h-0.8zM341.4 120.8h0.8v0.8h-0.8zM341.5 114.5h0.8v0.8h-0.8zM342.8 118.5h0.8v0.8h-0.8zM344.8 110.7h0.8v0.8h-0.8zM342.6 114.5h0.8v0.8h-0.8zM345.8 107.0h0.8v0.8h-0.8zM344.0 116.7h0.8v0.8h-0.8zM347.3 108.3h0.8v0.8h-0.8zM339.6 111.4h0.8v0.8h-0.8zM343.5 96.3h0.8v0.8h-0.8zM344.9 119.2h0.8v0.8h-0.8zM347.2 113.8h0.8v0.8h-0.8zM337.8 121.5h0.8v0.8h-0.8zM342.6 124.2h0.8v0.8h-0.8zM338.1 121.3h0.8v0.8h-0.8zM344.3 111.0h0.8v0.8h-0.8zM341.8 112.5h0.8v0.8h-0.8zM344.1 122.8h0.8v0.8h-0.8zM345.8 124.4h0.8v0.8h-0.8zM345.5 108.6h0.8v0.8h-0.8zM342.7 109.5h0.8v0.8h-0.8zM344.8 120.0h0.8v0.8h-0.8zM351.2 108.6h0.8v0.8h-0.8zM342.0 120.9h0.8v0.8h-0.8zM344.7 99.9h0.8v0.8h-0.8zM342.0 118.2h0.8v0.8h-0.8zM345.4 112.0h0.8v0.8h-0.8zM341.2 114.7h0.8v0.8h-0.8zM344.8 115.1h0.8v0.8h-0.8zM339.4 118.5h0.8v0.8h-0.8zM343.7 116.3h0.8v0.8h-0.8zM349.7 103.6h0.8v0.8h-0.8zM340.3 116.1h0.8v0.8h-0.8zM341.7 130.0h0.8v0.8h-0.8zM345.6 109.8h0.8v0.8h-0.8zM340.4 123.2h0.8v0.8h-0.8zM337.2 130.8h0.8v0.8h-0.8zM339.0 112.8h0.8v0.8h-0.8zM343.8 111.6h0.8v0.8h-0.8zM346.1 102.4h0.8v0.8h-0.8zM343.5 112.1h0.8v0.8h-0.8zM343.4 104.1h0.8v0.8h-0.8zM346.0 116.6h0.8v0.8h-0.8zM343.2 114.0h0.8v0.8h-0.8zM346.7 98.5h0.8v0.8h-0.8zM347.1 111.7h0.8v0.8h-0.8zM342.4 107.0h0.8v0.8h-0.8zM346.5 97.1h0.8v0.8h-0.8zM345.1 114.4h0.8v0.8h-0.8zM342.9 114.7h0.8v0.8h-0.8zM343.2 108.0h0.8v0.8h-0.8zM346.0 115.3h0.8v0.8h-0.8zM340.1 122.5h0.8v0.8h-0.8zM339.1 121.7h0.8v0.8h-0.8zM346.3 117.4h0.8v0.8h-0.8zM348.3 108.4h0.8v0.8h-0.8zM344.0 122.8h0.8v0.8h-0.8zM345.9 112.5h0.8v0.8h-0.8zM339.0 123.2h0.8v0.8h-0.8zM339.8 96.4h0.8v0.8h-0.8zM341.8 113.3h0.8v0.8h-0.8zM342.3 130.8h0.8v0.8h-0.8zM343.6 108.6h0.8v0.8h-0.8zM342.0 114.8h0.8v0.8h-0.8zM343.0 110.6h0.8v0.8h-0.8zM342.7 100.1h0.8v0.8h-0.8zM344.8 116.3h0.8v0.8h-0.8zM346.0 124.9h0.8v0.8h-0.8zM345.5 123.8h0.8v0.8h-0.8zM346.9 106.4h0.8v0.8h-0.8zM342.7 107.5h0.8v0.8h-0.8zM342.0 111.3h0.8v0.8h-0.8zM338.3 125.6h0.8v0.8h-0.8zM338.9 117.5h0.8v0.8h-0.8zM345.3 117.0h0.8v0.8h-0.8zM344.4 114.3h0.8v0.8h-0.8zM343.3 103.8h0.8v0.8h-0.8zM342.4 106.0h0.8v0.8h-0.8zM340.0 125.8h0.8v0.8h-0.8zM337.5 129.7h0.8v0.8h-0.8zM341.7 116.5h0.8v0.8h-0.8zM342.5 126.9h0.8v0.8h-0.8zM336.5 123.9h0.8v0.8h-0.8zM346.6 106.3h0.8v0.8h-0.8zM341.4 116.4h0.8v0.8h-0.8zM344.3 116.7h0.8v0.8h-0.8zM346.6 90.2h0.8v0.8h-0.8zM347.1 109.0h0.8v0.8h-0.8zM342.4 116.5h0.8v0.8h-0.8zM345.7 103.3h0.8v0.8h-0.8zM345.5 103.4h0.8v0.8h-0.8zM343.3 123.7h0.8v0.8h-0.8zM344.0 108.9h0.8v0.8h-0.8zM340.9 115.2h0.8v0.8h-0.8zM343.8 120.4h0.8v0.8h-0.8zM341.4 106.8h0.8v0.8h-0.8zM343.4 107.6h0.8v0.8h-0.8zM345.6 105.0h0.8v0.8h-0.8zM342.5 103.3h0.8v0.8h-0.8zM342.5 110.1h0.8v0.8h-0.8z" fill="#0e0eb8" fill-opacity="0.9"/>
<path d="M337.1 96.7h0.8v0.8h-0.8zM338.4 106.9h0.8v0.8h-0.8zM336.7 102.9h0.8v0.8h-0.8zM333.3 120.9h0.8v0.8h-0.8zM342.6 97.1h0.8v0.8h-0.8zM341.5 106.5h0.8v0.8h-0.8zM341.3 107.7h0.8v0.8h-0.8zM341.0 102.8h0.8v0.8h-0.8zM341.1 97.8h0.8v0.8h-0.8zM337.7 108.9h0.8v0.8h-0.8zM347.1 95.4h0.8v0.8h-0.8zM338.0 113.1h0.8v0.8h-0.8zM336.4 102.8h0.8v0.8h-0.8zM344.9 90.7h0.8v0.8h-0.8zM338.5 111.8h0.8v0.8h-0.8zM339.7 107.1h0.8v0.8h-0.8zM336.9 117.3h0.8v0.8h-0.8zM338.9 116.1h0.8v0.8h-0.8zM340.8 90.7h0.8v0.8h-0.8zM340.4 106.3h0.8v0.8h-0.8zM336.4 110.5h0.8v0.8h-0.8zM341.5 103.6h0.8v0.8h-0.8zM337.5 114.7h0.8v0.8h-0.8zM335.5 124.4h0.8v0.8h-0.8zM341.9 101.3h0.8v0.8h-0.8zM340.4 103.5h0.8v0.8h-0.8zM338.9 110.9h0.8v0.8h-0.8zM337.5 113.4h0.8v0.8h-0.8zM341.5 102.1h0.8v0.8h-0.8zM338.8 112.5h0.8v0.8h-0.8zM337.7 117.5h0.8v0.8h-0.8zM341.0 99.9h0.8v0.8h-0.8zM340.3 113.6h0.8v0.8h-0.8zM336.4 103.7h0.8v0.8h-0.8zM342.8 110.6h0.8v0.8h-0.8zM335.2 104.4h0.8v0.8h-0.8zM337.4 101.9h0.8v0.8h-0.8zM340.5 94.4h0.8v0.8h-0.8zM339.3 103.4h0.8v0.8h-0.8zM341.6 102.4h0.8v0.8h-0.8zM341.0 102.4h0.8v0.8h-0.8zM333.3 110.3h0.8v0.8h-0.8zM343.0 99.2h0.8v0.8h-0.8zM338.2 103.3h0.8v0.8h-0.8zM339.5 102.5h0.8v0.8h-0.8zM337.6 108.7h0.8v0.8h-0.8zM336.7 104.7h0.8v0.8h-0.8zM341.2 104.2h0.8v0.8h-0.8zM340.8 95.9h0.8v0.8h-0.8zM340.2 94.8h0.8v0.8h-0.8zM337.8 112.7h0.8v0.8h-0.8zM343.7 94.4h0.8v0.8h-0.8zM340.5 104.6h0.8v0.8h-0.8zM341.1 96.0h0.8v0.8h-0.8zM339.8 94.1h0.8v0.8h-0.8zM340.3 94.4h0.8v0.8h-0.8zM342.6 95.0h0.8v0.8h-0.8zM342.3 111.0h0.8v0.8h-0.8zM342.5 96.4h0.8v0.8h-0.8zM339.9 106.3h0.8v0.8h-0.8zM339.9 101.8h0.8v0.8h-0.8zM336.5 109.5h0.8v0.8h-0.8zM339.1 96.9h0.8v0.8h-0.8zM338.1 114.6h0.8v0.8h-0.8zM337.4 109.1h0.8v0.8h-0.8zM339.6 101.7h0.8v0.8h-0.8zM339.8 110.5h0.8v0.8h-0.8zM337.7 96.3h0.8v0.8h-0.8zM335.2 105.3h0.8v0.8h-0.8zM338.9 108.3h0.8v0.8h-0.8zM339.6 116.3h0.8v0.8h-0.8zM340.4 100.4h0.8v0.8h-0.8zM337.2 120.9h0.8v0.8h-0.8zM336.1 117.7h0.8v0.8h-0.8zM334.8 104.6h0.8v0.8h-0.8zM339.5 108.8h0.8v0.8h-0.8zM338.0 115.1h0.8v0.8h-0.8zM341.1 96.3h0.8v0.8h-0.8zM335.8 120.4h0.8v0.8h-0.8zM343.0 89.8h0.8v0.8h-0.8zM339.0 115.7h0.8v0.8h-0.8zM339.0 114.1h0.8v0.8h-0.8zM339.9 116.7h0.8v0.8h-0.8zM341.4 109.1h0.8v0.8h-0.8zM341.6 104.7h0.8v0.8h-0.8zM334.7 99.8h0.8v0.8h-0.8zM338.0 119.8h0.8v0.8h-0.8zM340.7 108.5h0.8v0.8h-0.8zM341.0 109.5h0.8v0.8h-0.8zM340.1 100.5h0.8v0.8h-0.8zM337.2 92.1h0.8v0.8h-0.8zM340.6 107.5h0.8v0.8h-0.8zM339.0 99.5h0.8v0.8h-0.8zM339.5 105.1h0.8v0.8h-0.8zM342.7 105.4h0.8v0.8h-0.8zM339.2 96.3h0.8v0.8h-0.8zM340.7 107.1h0.8v0.8h-0.8zM343.3 95.2h0.8v0.8h-0.8zM342.1 98.0h0.8v0.8h-0.8zM336.3 114.8h0.8v0.8h-0.8zM336.7 98.1h0.8v0.8h-0.8zM334.3 107.6h0.8v0.8h-0.8zM342.3 100.2h0.8v0.8h-0.8zM339.1 113.1h0.8v0.8h-0.8zM338.1 106.4h0.8v0.8h-0.8zM339.3 110.3h0.8v0.8h-0.8zM336.5 101.1h0.8v0.8h-0.8zM341.0 92.6h0.8v0.8h-0.8zM337.2 106.9h0.8v0.8h-0.8zM341.9 113.6h0.8v0.8h-0.8zM340.2 108.1h0.8v0.8h-0.8zM339.4 102.3h0.8v0.8h-0.8zM341.0 98.9h0.8v0.8h-0.8zM338.9 115.7h0.8v0.8h-0.8zM339.4 109.9h0.8v0.8h-0.8zM342.7 91.0h0.8v0.8h-0.8zM341.0 117.4h0.8v0.8h-0.8zM343.2 101.9h0.8v0.8h-0.8zM335.4 110.4h0.8v0.8h-0.8zM339.9 107.4h0.8v0.8h-0.8zM339.5 104.7h0.8v0.8h-0.8zM338.3 105.7h0.8v0.8h-0.8zM340.9 103.1h0.8v0.8h-0.8zM340.9 101.2h0.8v0.8h-0.8zM342.5 98.2h0.8v0.8h-0.8zM343.1 108.5h0.8v0.8h-0.8zM343.0 108.0h0.8v0.8h-0.8zM339.8 102.2h0.8v0.8h-0.8zM338.0 106.2h0.8v0.8h-0.8zM342.6 102.1h0.8v0.8h-0.8zM341.9 116.6h0.8v0.8h-0.8zM338.4 114.3h0.8v0.8h-0.8zM343.8 95.1h0.8v0.8h-0.8zM337.5 118.2h0.8v0.8h-0.8zM336.5 102.3h0.8v0.8h-0.8zM339.5 113.5h0.8v0.8h-0.8zM336.2 110.1h0.8v0.8h-0.8zM339.2 97.2h0.8v0.8h-0.8zM339.5 102.2h0.8v0.8h-0.8zM338.1 105.6h0.8v0.8h-0.8zM339.8 112.7h0.8v0.8h-0.8zM336.4 118.6h0.8v0.8h-0.8zM333.8 99.7h0.8v0.8h-0.8zM341.7 99.0h0.8v0.8h-0.8zM342.0 110.0h0.8v0.8h-0.8zM341.8 106.1h0.8v0.8h-0.8zM338.6 110.2h0.8v0.8h-0.8zM340.8 108.4h0.8v0.8h-0.8zM338.8 111.7h0.8v0.8h-0.8zM342.7 110.8h0.8v0.8h-0.8zM336.6 106.1h0.8v0.8h-0.8zM340.4 88.1h0.8v0.8h-0.8zM338.4 110.1h0.8v0.8h-0.8zM341.4 98.3h0.8v0.8h-0.8zM339.8 92.9h0.8v0.8h-0.8zM335.0 111.1h0.8v0.8h-0.8zM338.8 100.7h0.8v0.8h-0.8zM337.1 107.7h0.8v0.8h-0.8zM340.8 88.8h0.8v0.8h-0.8zM341.8 106.2h0.8v0.8h-0.8zM336.5 108.5h0.8v0.8h-0.8zM340.7 105.1h0.8v0.8h-0.8zM337.0 103.0h0.8v0.8h-0.8zM338.3 100.8h0.8v0.8h-0.8zM340.0 111.4h0.8v0.8h-0.8zM342.7 105.8h0.8v0.8h-0.8zM340.8 101.7h0.8v0.8h-0.8zM341.3 94.3h0.8v0.8h-0.8zM338.4 110.2h0.8v0.8h-0.8zM339.2 101.9h0.8v0.8h-0.8zM341.2 109.2h0.8v0.8h-0.8zM340.0 99.5h0.8v0.8h-0.8zM340.0 105.8h0.8v0.8h-0.8zM340.6 106.3h0.8v0.8h-0.8zM343.9 95.8h0.8v0.8h-0.8zM343.1 104.6h0.8v0.8h-0.8zM343.3 90.7h0.8v0.8h-0.8zM340.6 113.2h0.8v0.8h-0.8zM337.7 104.4h0.8v0.8h-0.8zM336.6 105.6h0.8v0.8h-0.8zM340.0 103.2h0.8v0.8h-0.8zM337.1 105.5h0.8v0.8h-0.8zM334.7 106.0h0.8v0.8h-0.8zM338.9 107.3h0.8v0.8h-0.8zM345.4 93.5h0.8v0.8h-0.8zM339.7 102.8h0.8v0.8h-0.8zM340.0 105.7h0.8v0.8h-0.8zM339.5 103.7h0.8v0.8h-0.8zM340.1 98.7h0.8v0.8h-0.8zM336.3 114.8h0.8v0.8h-0.8zM340.3 118.1h0.8v0.8h-0.8zM341.7 98.2h0.8v0.8h-0.8zM340.3 110.4h0.8v0.8h-0.8zM340.4 98.9h0.8v0.8h-0.8zM339.8 102.9h0.8v0.8h-0.8zM341.5 94.9h0.8v0.8h-0.8zM336.8 104.4h0.8v0.8h-0.8zM334.6 105.8h0.8v0.8h-0.8zM338.4 105.8h0.8v0.8h-0.8zM339.6 102.7h0.8v0.8h-0.8zM341.2 118.6h0.8v0.8h-0.8zM337.8 101.1h0.8v0.8h-0.8zM340.1 108.9h0.8v0.8h-0.8zM339.6 111.0h0.8v0.8h-0.8zM341.5 90.1h0.8v0.8h-0.8zM338.5 94.3h0.8v0.8h-0.8zM341.3 109.2h0.8v0.8h-0.8zM341.6 94.3h0.8v0.8h-0.8zM339.0 103.6h0.8v0.8h-0.8zM338.5 98.8h0.8v0.8h-0.8zM337.8 105.5h0.8v0.8h-0.8zM338.0 115.1h0.8v0.8h-0.8zM336.9 123.0h0.8v0.8h-0.8zM341.5 98.4h0.8v0.8h-0.8zM340.7 114.3h0.8v0.8h-0.8zM339.3 105.5h0.8v0.8h-0.8zM339.9 103.2h0.8v0.8h-0.8zM339.7 103.5h0.8v0.8h-0.8zM343.5 98.8h0.8v0.8h-0.8zM341.9 91.6h0.8v0.8h-0.8zM338.8 105.7h0.8v0.8h-0.8zM341.4 95.0h0.8v0.8h-0.8zM335.5 112.9h0.8v0.8h-0.8zM338.4 126.2h0.8v0.8h-0.8zM337.7 98.4h0.8v0.8h-0.8zM340.5 116.1h0.8v0.8h-0.8zM338.2 99.0h0.8v0.8h-0.8zM337.6 105.4h0.8v0.8h-0.8zM337.8 114.9h0.8v0.8h-0.8zM336.0 113.4h0.8v0.8h-0.8zM336.3 118.0h0.8v0.8h-0.8zM337.1 118.0h0.8v0.8h-0.8zM340.6 102.2h0.8v0.8h-0.8zM340.3 100.7h0.8v0.8h-0.8zM341.5 107.5h0.8v0.8h-0.8zM343.9 103.8h0.8v0.8h-0.8zM341.9 114.7h0.8v0.8h-0.8zM335.0 95.8h0.8v0.8h-0.8zM338.0 114.7h0.8v0.8h-0.8zM343.5 104.2h0.8v0.8h-0.8zM340.0 102.8h0.8v0.8h-0.8zM340.6 98.4h0.8v0.8h-0.8zM340.1 99.1h0.8v0.8h-0.8zM336.1 104.1h0.8v0.8h-0.8zM340.6 115.7h0.8v0.8h-0.8zM339.2 106.1h0.8v0.8h-0.8zM337.1 106.6h0.8v0.8h-0.8zM340.5 104.7h0.8v0.8h-0.8zM343.9 104.1h0.8v0.8h-0.8zM339.1 111.4h0.8v0.8h-0.8zM336.3 109.4h0.8v0.8h-0.8zM339.3 104.4h0.8v0.8h-0.8zM337.3 102.7h0.8v0.8h-0.8zM333.4 112.7h0.8v0.8h-0.8zM338.3 106.0h0.8v0.8h-0.8zM340.5 99.9h0.8v0.8h-0.8zM337.1 106.3h0.8v0.8h-0.8zM339.3 114.8h0.8v0.8h-0.8zM339.2 111.6h0.8v0.8h-0.8zM338.4 109.0h0.8v0.8h-0.8zM338.5 115.4h0.8v0.8h-0.8zM338.7 107.4h0.8v0.8h-0.8zM338.8 114.7h0.8v0.8h-0.8zM339.2 105.9h0.8v0.8h-0.8zM340.8 114.3h0.8v0.8h-0.8zM338.3 111.0h0.8v0.8h-0.8zM337.4 106.0h0.8v0.8h-0.8zM340.8 95.6h0.8v0.8h-0.8zM337.8 108.7h0.8v0.8h-0.8zM344.9 100.0h0.8v0.8h-0.8zM338.9 98.6h0.8v0.8h-0.8zM344.6 97.9h0.8v0.8h-0.8zM340.2 100.5h0.8v0.8h-0.8zM340.3 106.6h0.8v0.8h-0.8zM341.8 93.6h0.8v0.8h-0.8zM340.6 104.1h0.8v0.8h-0.8zM339.2 119.7h0.8v0.8h-0.8zM338.7 113.6h0.8v0.8h-0.8zM337.2 108.3h0.8v0.8h-0.8zM337.1 119.5h0.8v0.8h-0.8zM341.7 100.3h0.8v0.8h-0.8zM333.4 119.1h0.8v0.8h-0.8zM343.9 102.5h0.8v0.8h-0.8zM341.9 99.6h0.8v0.8h-0.8zM338.7 110.2h0.8v0.8h-0.8zM343.9 117.2h0.8v0.8h-0.8zM344.3 93.6h0.8v0.8h-0.8zM342.3 95.8h0.8v0.8h-0.8zM333.4 125.4h0.8v0.8h-0.8zM334.4 107.3h0.8v0.8h-0.8zM341.1 102.8h0.8v0.8h-0.8zM336.5 106.1h0.8v0.8h-0.8zM340.5 99.1h0.8v0.8h-0.8zM338.4 110.5h0.8v0.8h-0.8zM340.5 97.3h0.8v0.8h-0.8zM338.6 99.3h0.8v0.8h-0.8zM339.5 103.9h0.8v0.8h-0.8z" fill="#2060c8" fill-opacity="0.8"/>
<path d="M350.5 111.4h0.85v0.85h-0.85zM352.7 105.7h0.85v0.85h-0.85zM349.1 120.2h0.85v0.85h-0.85zM351.4 100.6h0.85v0.85h-0.85zM352.5 108.8h0.85v0.85h-0.85zM350.3 106.0h0.85v0.85h-0.85zM351.3 107.0h0.85v0.85h-0.85zM348.7 108.1h0.85v0.85h-0.85zM345.3 119.4h0.85v0.85h-0.85zM351.1 97.8h0.85v0.85h-0.85zM346.4 111.3h0.85v0.85h-0.85zM350.6 111.5h0.85v0.85h-0.85zM347.2 120.1h0.85v0.85h-0.85zM346.3 123.0h0.85v0.85h-0.85zM348.9 112.3h0.85v0.85h-0.85zM346.1 123.8h0.85v0.85h-0.85zM349.4 120.8h0.85v0.85h-0.85zM348.7 109.9h0.85v0.85h-0.85zM348.6 127.5h0.85v0.85h-0.85zM352.9 118.5h0.85v0.85h-0.85zM351.2 105.4h0.85v0.85h-0.85zM348.6 110.1h0.85v0.85h-0.85zM351.2 103.9h0.85v0.85h-0.85zM350.2 108.1h0.85v0.85h-0.85zM348.4 114.3h0.85v0.85h-0.85zM345.9 116.8h0.85v0.85h-0.85zM347.4 109.3h0.85v0.85h-0.85zM354.0 108.4h0.85v0.85h-0.85zM349.3 120.3h0.85v0.85h-0.85zM350.6 116.2h0.85v0.85h-0.85zM353.4 110.6h0.85v0.85h-0.85zM347.4 109.8h0.85v0.85h-0.85zM351.8 104.5h0.85v0.85h-0.85zM346.7 113.9h0.85v0.85h-0.85zM343.8 110.8h0.85v0.85h-0.85zM349.2 118.0h0.85v0.85h-0.85zM349.2 124.1h0.85v0.85h-0.85zM347.4 100.1h0.85v0.85h-0.85zM347.6 126.1h0.85v0.85h-0.85zM356.4 93.1h0.85v0.85h-0.85zM350.2 116.3h0.85v0.85h-0.85zM350.5 109.4h0.85v0.85h-0.85zM347.0 108.0h0.85v0.85h-0.85zM347.2 104.9h0.85v0.85h-0.85zM349.7 101.2h0.85v0.85h-0.85zM348.4 100.9h0.85v0.85h-0.85zM348.8 107.8h0.85v0.85h-0.85zM348.5 119.7h0.85v0.85h-0.85zM344.9 113.6h0.85v0.85h-0.85zM350.1 125.3h0.85v0.85h-0.85zM349.7 107.6h0.85v0.85h-0.85zM350.5 102.8h0.85v0.85h-0.85zM350.9 108.1h0.85v0.85h-0.85zM353.7 118.4h0.85v0.85h-0.85zM348.2 105.4h0.85v0.85h-0.85zM349.7 109.6h0.85v0.85h-0.85zM352.5 114.5h0.85v0.85h-0.85zM348.3 107.3h0.85v0.85h-0.85zM352.0 111.0h0.85v0.85h-0.85zM348.0 110.4h0.85v0.85h-0.85zM348.1 110.0h0.85v0.85h-0.85zM346.5 112.5h0.85v0.85h-0.85zM348.9 108.6h0.85v0.85h-0.85zM354.3 110.1h0.85v0.85h-0.85zM349.4 99.3h0.85v0.85h-0.85zM350.5 104.7h0.85v0.85h-0.85zM352.0 93.9h0.85v0.85h-0.85zM346.6 105.6h0.85v0.85h-0.85zM348.2 101.4h0.85v0.85h-0.85zM348.7 109.7h0.85v0.85h-0.85zM344.6 101.8h0.85v0.85h-0.85zM347.3 110.1h0.85v0.85h-0.85zM347.7 106.5h0.85v0.85h-0.85zM348.4 119.6h0.85v0.85h-0.85zM348.7 97.4h0.85v0.85h-0.85zM343.6 103.3h0.85v0.85h-0.85zM350.3 95.5h0.85v0.85h-0.85zM347.9 102.1h0.85v0.85h-0.85zM350.3 100.9h0.85v0.85h-0.85zM350.6 113.0h0.85v0.85h-0.85zM348.7 103.6h0.85v0.85h-0.85zM353.6 102.5h0.85v0.85h-0.85zM344.9 113.9h0.85v0.85h-0.85zM349.0 114.4h0.85v0.85h-0.85zM349.3 97.8h0.85v0.85h-0.85zM352.7 98.4h0.85v0.85h-0.85zM348.9 109.8h0.85v0.85h-0.85zM350.5 119.2h0.85v0.85h-0.85zM349.6 103.5h0.85v0.85h-0.85zM354.2 97.1h0.85v0.85h-0.85zM348.3 116.7h0.85v0.85h-0.85zM346.9 113.1h0.85v0.85h-0.85zM347.9 111.2h0.85v0.85h-0.85zM350.2 123.4h0.85v0.85h-0.85zM352.7 99.1h0.85v0.85h-0.85zM343.3 123.3h0.85v0.85h-0.85zM352.6 101.6h0.85v0.85h-0.85zM347.3 118.1h0.85v0.85h-0.85zM348.0 114.0h0.85v0.85h-0.85zM346.9 124.7h0.85v0.85h-0.85zM346.5 115.1h0.85v0.85h-0.85zM347.2 114.5h0.85v0.85h-0.85zM353.4 103.3h0.85v0.85h-0.85zM350.5 114.2h0.85v0.85h-0.85zM347.4 107.7h0.85v0.85h-0.85zM353.3 97.5h0.85v0.85h-0.85zM350.4 118.0h0.85v0.85h-0.85zM353.2 117.7h0.85v0.85h-0.85zM350.5 123.1h0.85v0.85h-0.85zM347.6 101.4h0.85v0.85h-0.85zM348.7 126.1h0.85v0.85h-0.85zM349.6 101.0h0.85v0.85h-0.85zM352.8 97.0h0.85v0.85h-0.85zM349.5 112.6h0.85v0.85h-0.85zM350.7 105.4h0.85v0.85h-0.85zM346.4 127.8h0.85v0.85h-0.85zM349.3 107.0h0.85v0.85h-0.85zM352.2 111.7h0.85v0.85h-0.85zM348.4 110.9h0.85v0.85h-0.85zM347.9 105.5h0.85v0.85h-0.85zM348.2 109.2h0.85v0.85h-0.85zM352.0 103.0h0.85v0.85h-0.85zM350.4 110.0h0.85v0.85h-0.85zM350.1 107.8h0.85v0.85h-0.85zM347.3 119.5h0.85v0.85h-0.85zM344.7 113.4h0.85v0.85h-0.85zM351.7 109.3h0.85v0.85h-0.85zM348.0 125.2h0.85v0.85h-0.85zM351.2 111.6h0.85v0.85h-0.85zM347.7 113.1h0.85v0.85h-0.85zM346.4 116.4h0.85v0.85h-0.85zM351.4 112.5h0.85v0.85h-0.85zM343.9 126.6h0.85v0.85h-0.85zM343.3 124.1h0.85v0.85h-0.85zM353.0 105.2h0.85v0.85h-0.85zM347.1 111.3h0.85v0.85h-0.85zM349.6 106.5h0.85v0.85h-0.85zM351.8 107.1h0.85v0.85h-0.85zM346.6 103.4h0.85v0.85h-0.85zM348.7 101.4h0.85v0.85h-0.85zM351.4 119.3h0.85v0.85h-0.85zM349.1 112.5h0.85v0.85h-0.85zM347.1 121.3h0.85v0.85h-0.85zM351.5 105.5h0.85v0.85h-0.85zM344.9 118.4h0.85v0.85h-0.85zM351.5 100.4h0.85v0.85h-0.85zM349.0 94.4h0.85v0.85h-0.85zM349.1 108.2h0.85v0.85h-0.85zM347.4 108.3h0.85v0.85h-0.85zM348.5 106.0h0.85v0.85h-0.85zM351.7 95.5h0.85v0.85h-0.85zM349.7 114.4h0.85v0.85h-0.85zM351.9 113.2h0.85v0.85h-0.85zM350.5 112.9h0.85v0.85h-0.85zM348.1 120.4h0.85v0.85h-0.85zM348.4 104.3h0.85v0.85h-0.85zM349.2 115.0h0.85v0.85h-0.85zM348.0 111.2h0.85v0.85h-0.85zM352.6 101.9h0.85v0.85h-0.85zM346.2 114.1h0.85v0.85h-0.85zM353.3 97.1h0.85v0.85h-0.85zM347.3 109.7h0.85v0.85h-0.85zM346.9 112.9h0.85v0.85h-0.85zM349.0 95.8h0.85v0.85h-0.85zM345.9 126.7h0.85v0.85h-0.85zM353.2 113.1h0.85v0.85h-0.85zM353.1 111.7h0.85v0.85h-0.85zM352.6 120.0h0.85v0.85h-0.85zM353.5 110.3h0.85v0.85h-0.85zM352.2 111.3h0.85v0.85h-0.85zM350.7 104.3h0.85v0.85h-0.85zM347.3 101.5h0.85v0.85h-0.85zM351.2 115.4h0.85v0.85h-0.85zM348.4 109.2h0.85v0.85h-0.85zM348.0 120.2h0.85v0.85h-0.85zM346.8 118.6h0.85v0.85h-0.85zM350.5 102.8h0.85v0.85h-0.85zM351.8 106.4h0.85v0.85h-0.85zM346.4 104.6h0.85v0.85h-0.85zM350.0 109.5h0.85v0.85h-0.85zM350.2 107.5h0.85v0.85h-0.85zM348.8 117.3h0.85v0.85h-0.85zM348.6 126.5h0.85v0.85h-0.85zM352.0 108.9h0.85v0.85h-0.85zM352.4 103.9h0.85v0.85h-0.85zM350.9 109.0h0.85v0.85h-0.85zM350.8 107.4h0.85v0.85h-0.85zM351.0 104.2h0.85v0.85h-0.85zM347.6 114.2h0.85v0.85h-0.85zM348.9 101.3h0.85v0.85h-0.85zM349.2 103.3h0.85v0.85h-0.85zM346.8 115.3h0.85v0.85h-0.85zM351.1 115.7h0.85v0.85h-0.85zM353.8 108.7h0.85v0.85h-0.85zM354.1 101.7h0.85v0.85h-0.85zM348.5 120.3h0.85v0.85h-0.85zM347.9 114.5h0.85v0.85h-0.85zM347.1 127.1h0.85v0.85h-0.85zM350.8 112.4h0.85v0.85h-0.85zM348.9 110.5h0.85v0.85h-0.85zM352.0 96.8h0.85v0.85h-0.85zM346.4 124.3h0.85v0.85h-0.85zM349.5 118.0h0.85v0.85h-0.85zM347.6 123.6h0.85v0.85h-0.85zM349.7 105.1h0.85v0.85h-0.85zM348.6 102.2h0.85v0.85h-0.85zM344.5 127.5h0.85v0.85h-0.85zM351.1 107.8h0.85v0.85h-0.85zM349.5 115.2h0.85v0.85h-0.85zM348.9 100.1h0.85v0.85h-0.85zM346.7 124.9h0.85v0.85h-0.85zM349.2 119.3h0.85v0.85h-0.85zM353.2 107.9h0.85v0.85h-0.85zM349.6 109.6h0.85v0.85h-0.85zM347.8 117.1h0.85v0.85h-0.85zM352.0 96.7h0.85v0.85h-0.85zM348.6 99.2h0.85v0.85h-0.85zM348.5 118.5h0.85v0.85h-0.85zM349.1 94.1h0.85v0.85h-0.85zM350.6 107.6h0.85v0.85h-0.85zM346.1 117.7h0.85v0.85h-0.85zM349.4 116.1h0.85v0.85h-0.85zM349.0 113.3h0.85v0.85h-0.85zM353.3 115.0h0.85v0.85h-0.85zM345.2 113.9h0.85v0.85h-0.85zM349.0 109.3h0.85v0.85h-0.85zM349.6 103.6h0.85v0.85h-0.85zM349.6 111.3h0.85v0.85h-0.85zM352.8 123.2h0.85v0.85h-0.85zM343.9 122.7h0.85v0.85h-0.85zM348.3 110.6h0.85v0.85h-0.85zM347.0 103.2h0.85v0.85h-0.85zM345.6 94.1h0.85v0.85h-0.85zM347.6 111.5h0.85v0.85h-0.85zM350.1 102.7h0.85v0.85h-0.85zM348.4 114.3h0.85v0.85h-0.85zM353.9 95.0h0.85v0.85h-0.85zM345.4 121.2h0.85v0.85h-0.85zM349.9 107.3h0.85v0.85h-0.85zM349.9 104.2h0.85v0.85h-0.85zM349.4 112.4h0.85v0.85h-0.85zM350.7 104.3h0.85v0.85h-0.85zM348.5 110.7h0.85v0.85h-0.85zM350.4 102.5h0.85v0.85h-0.85zM348.6 114.8h0.85v0.85h-0.85zM348.0 97.7h0.85v0.85h-0.85zM346.9 112.2h0.85v0.85h-0.85zM348.1 116.2h0.85v0.85h-0.85zM350.9 115.1h0.85v0.85h-0.85zM348.0 116.2h0.85v0.85h-0.85zM351.0 118.7h0.85v0.85h-0.85zM348.7 112.8h0.85v0.85h-0.85zM352.4 101.8h0.85v0.85h-0.85zM346.3 97.0h0.85v0.85h-0.85zM349.0 92.3h0.85v0.85h-0.85zM350.6 108.1h0.85v0.85h-0.85zM350.2 94.7h0.85v0.85h-0.85zM352.7 93.5h0.85v0.85h-0.85zM348.2 117.1h0.85v0.85h-0.85zM349.6 94.7h0.85v0.85h-0.85zM353.6 105.0h0.85v0.85h-0.85zM346.4 120.7h0.85v0.85h-0.85zM350.6 118.0h0.85v0.85h-0.85zM350.8 110.0h0.85v0.85h-0.85zM350.1 97.3h0.85v0.85h-0.85zM350.4 100.3h0.85v0.85h-0.85zM347.3 124.4h0.85v0.85h-0.85zM349.7 122.6h0.85v0.85h-0.85zM349.0 106.7h0.85v0.85h-0.85zM350.2 115.9h0.85v0.85h-0.85zM349.7 115.6h0.85v0.85h-0.85zM353.9 101.3h0.85v0.85h-0.85zM351.8 115.5h0.85v0.85h-0.85zM354.5 95.9h0.85v0.85h-0.85zM351.8 111.6h0.85v0.85h-0.85zM350.4 113.5h0.85v0.85h-0.85zM351.2 106.3h0.85v0.85h-0.85zM352.6 101.0h0.85v0.85h-0.85zM347.4 125.2h0.85v0.85h-0.85zM345.8 107.8h0.85v0.85h-0.85zM345.9 106.8h0.85v0.85h-0.85zM351.2 95.8h0.85v0.85h-0.85zM348.6 109.0h0.85v0.85h-0.85zM348.7 109.1h0.85v0.85h-0.85zM349.7 102.7h0.85v0.85h-0.85zM351.3 116.7h0.85v0.85h-0.85zM348.4 112.1h0.85v0.85h-0.85zM347.4 117.2h0.85v0.85h-0.85zM348.2 99.8h0.85v0.85h-0.85zM351.2 104.9h0.85v0.85h-0.85zM348.9 123.5h0.85v0.85h-0.85zM350.8 116.9h0.85v0.85h-0.85zM351.8 110.7h0.85v0.85h-0.85zM348.7 120.4h0.85v0.85h-0.85zM347.4 118.7h0.85v0.85h-0.85zM346.4 116.4h0.85v0.85h-0.85zM348.1 115.1h0.85v0.85h-0.85zM346.8 117.3h0.85v0.85h-0.85zM349.8 106.2h0.85v0.85h-0.85zM348.3 112.9h0.85v0.85h-0.85zM351.2 107.7h0.85v0.85h-0.85zM349.5 113.9h0.85v0.85h-0.85zM351.0 113.2h0.85v0.85h-0.85zM345.4 119.3h0.85v0.85h-0.85zM350.1 110.2h0.85v0.85h-0.85zM347.9 109.4h0.85v0.85h-0.85zM347.0 120.0h0.85v0.85h-0.85zM345.6 103.0h0.85v0.85h-0.85zM349.4 119.3h0.85v0.85h-0.85zM347.8 125.1h0.85v0.85h-0.85zM348.3 109.9h0.85v0.85h-0.85zM351.0 105.3h0.85v0.85h-0.85zM351.4 106.6h0.85v0.85h-0.85zM354.8 99.1h0.85v0.85h-0.85zM349.1 118.8h0.85v0.85h-0.85zM348.3 102.8h0.85v0.85h-0.85zM349.0 93.7h0.85v0.85h-0.85zM351.4 108.1h0.85v0.85h-0.85zM355.2 98.9h0.85v0.85h-0.85zM347.2 106.7h0.85v0.85h-0.85zM349.9 104.7h0.85v0.85h-0.85zM349.0 108.5h0.85v0.85h-0.85zM348.8 92.2h0.85v0.85h-0.85zM348.7 118.0h0.85v0.85h-0.85zM343.9 114.6h0.85v0.85h-0.85zM350.0 106.6h0.85v0.85h-0.85zM347.4 110.3h0.85v0.85h-0.85zM349.9 116.7h0.85v0.85h-0.85zM348.0 114.7h0.85v0.85h-0.85zM344.7 98.2h0.85v0.85h-0.85zM352.6 113.3h0.85v0.85h-0.85zM349.0 119.1h0.85v0.85h-0.85zM353.0 110.7h0.85v0.85h-0.85zM350.4 108.1h0.85v0.85h-0.85zM349.8 108.7h0.85v0.85h-0.85zM343.6 117.6h0.85v0.85h-0.85zM352.0 110.4h0.85v0.85h-0.85zM351.3 104.6h0.85v0.85h-0.85zM346.5 107.9h0.85v0.85h-0.85zM345.5 123.4h0.85v0.85h-0.85zM350.1 109.4h0.85v0.85h-0.85zM348.8 118.1h0.85v0.85h-0.85zM346.0 103.2h0.85v0.85h-0.85zM349.0 103.2h0.85v0.85h-0.85zM350.7 102.6h0.85v0.85h-0.85zM350.3 108.3h0.85v0.85h-0.85zM345.7 118.7h0.85v0.85h-0.85zM348.0 121.2h0.85v0.85h-0.85zM354.4 119.9h0.85v0.85h-0.85zM347.2 96.2h0.85v0.85h-0.85zM348.1 108.9h0.85v0.85h-0.85zM351.3 102.1h0.85v0.85h-0.85zM350.3 112.6h0.85v0.85h-0.85zM352.5 97.6h0.85v0.85h-0.85zM347.5 126.3h0.85v0.85h-0.85zM347.5 108.3h0.85v0.85h-0.85zM351.2 101.5h0.85v0.85h-0.85zM348.6 102.3h0.85v0.85h-0.85zM349.1 99.4h0.85v0.85h-0.85zM346.7 113.2h0.85v0.85h-0.85zM347.3 107.8h0.85v0.85h-0.85zM347.3 115.5h0.85v0.85h-0.85zM347.6 108.3h0.85v0.85h-0.85zM347.4 116.4h0.85v0.85h-0.85zM348.4 113.2h0.85v0.85h-0.85zM348.3 120.7h0.85v0.85h-0.85zM351.8 113.2h0.85v0.85h-0.85zM353.5 100.4h0.85v0.85h-0.85zM348.4 121.9h0.85v0.85h-0.85zM353.0 100.8h0.85v0.85h-0.85zM350.4 101.3h0.85v0.85h-0.85zM343.7 124.7h0.85v0.85h-0.85zM349.8 98.9h0.85v0.85h-0.85zM345.7 109.0h0.85v0.85h-0.85zM351.8 94.1h0.85v0.85h-0.85zM347.9 99.3h0.85v0.85h-0.85zM353.0 107.9h0.85v0.85h-0.85zM352.6 98.1h0.85v0.85h-0.85zM348.0 125.9h0.85v0.85h-0.85zM346.8 125.5h0.85v0.85h-0.85zM351.8 109.9h0.85v0.85h-0.85zM347.0 107.3h0.85v0.85h-0.85zM349.0 110.3h0.85v0.85h-0.85zM351.6 105.0h0.85v0.85h-0.85zM348.9 120.1h0.85v0.85h-0.85zM350.9 92.0h0.85v0.85h-0.85zM353.9 102.8h0.85v0.85h-0.85zM350.0 109.8h0.85v0.85h-0.85zM350.9 111.4h0.85v0.85h-0.85zM347.8 117.8h0.85v0.85h-0.85zM349.6 114.8h0.85v0.85h-0.85zM349.3 100.1h0.85v0.85h-0.85zM350.5 117.9h0.85v0.85h-0.85zM349.3 113.2h0.85v0.85h-0.85zM347.7 111.0h0.85v0.85h-0.85zM347.8 121.4h0.85v0.85h-0.85zM349.4 103.9h0.85v0.85h-0.85zM347.0 98.6h0.85v0.85h-0.85zM345.9 118.5h0.85v0.85h-0.85zM349.8 110.1h0.85v0.85h-0.85zM349.1 107.3h0.85v0.85h-0.85zM350.6 102.6h0.85v0.85h-0.85zM347.9 115.6h0.85v0.85h-0.85zM348.9 117.9h0.85v0.85h-0.85zM347.0 105.2h0.85v0.85h-0.85zM348.2 99.6h0.85v0.85h-0.85zM351.3 113.3h0.85v0.85h-0.85zM353.4 95.8h0.85v0.85h-0.85zM348.5 121.6h0.85v0.85h-0.85zM350.3 120.7h0.85v0.85h-0.85zM347.4 107.5h0.85v0.85h-0.85zM347.8 109.7h0.85v0.85h-0.85zM348.6 110.1h0.85v0.85h-0.85zM348.5 110.2h0.85v0.85h-0.85zM347.3 116.3h0.85v0.85h-0.85zM349.6 116.6h0.85v0.85h-0.85zM352.0 109.6h0.85v0.85h-0.85zM347.9 105.9h0.85v0.85h-0.85zM350.2 106.2h0.85v0.85h-0.85zM350.6 95.4h0.85v0.85h-0.85zM351.6 98.5h0.85v0.85h-0.85zM350.8 109.6h0.85v0.85h-0.85zM351.6 107.1h0.85v0.85h-0.85zM349.4 105.1h0.85v0.85h-0.85zM346.1 115.9h0.85v0.85h-0.85zM346.6 107.2h0.85v0.85h-0.85zM348.1 111.1h0.85v0.85h-0.85zM346.9 113.5h0.85v0.85h-0.85zM347.4 120.7h0.85v0.85h-0.85zM348.8 119.3h0.85v0.85h-0.85zM349.2 101.7h0.85v0.85h-0.85zM348.2 108.1h0.85v0.85h-0.85zM350.1 94.3h0.85v0.85h-0.85zM353.9 120.9h0.85v0.85h-0.85zM346.9 95.2h0.85v0.85h-0.85zM347.9 111.1h0.85v0.85h-0.85zM346.4 100.5h0.85v0.85h-0.85zM352.0 107.0h0.85v0.85h-0.85zM351.4 109.1h0.85v0.85h-0.85zM346.0 119.1h0.85v0.85h-0.85zM350.4 103.3h0.85v0.85h-0.85zM345.9 120.1h0.85v0.85h-0.85zM350.2 103.0h0.85v0.85h-0.85zM349.3 102.0h0.85v0.85h-0.85zM349.4 103.0h0.85v0.85h-0.85zM345.0 108.8h0.85v0.85h-0.85zM349.7 123.5h0.85v0.85h-0.85zM349.7 116.8h0.85v0.85h-0.85zM352.4 111.2h0.85v0.85h-0.85zM349.6 92.6h0.85v0.85h-0.85zM349.2 109.3h0.85v0.85h-0.85zM347.6 117.4h0.85v0.85h-0.85zM350.6 93.5h0.85v0.85h-0.85zM351.3 115.6h0.85v0.85h-0.85zM351.1 98.5h0.85v0.85h-0.85zM351.5 107.0h0.85v0.85h-0.85zM348.9 112.5h0.85v0.85h-0.85zM345.9 113.2h0.85v0.85h-0.85zM349.5 109.5h0.85v0.85h-0.85zM352.8 109.4h0.85v0.85h-0.85zM352.3 115.9h0.85v0.85h-0.85zM347.7 124.8h0.85v0.85h-0.85zM354.3 115.1h0.85v0.85h-0.85zM352.6 106.9h0.85v0.85h-0.85zM346.9 103.5h0.85v0.85h-0.85zM351.0 103.8h0.85v0.85h-0.85zM351.6 112.3h0.85v0.85h-0.85zM354.7 113.1h0.85v0.85h-0.85zM348.3 108.0h0.85v0.85h-0.85zM348.7 105.1h0.85v0.85h-0.85zM352.2 107.0h0.85v0.85h-0.85zM352.1 108.1h0.85v0.85h-0.85zM351.5 113.0h0.85v0.85h-0.85zM348.1 117.9h0.85v0.85h-0.85zM347.8 110.1h0.85v0.85h-0.85zM350.5 104.9h0.85v0.85h-0.85zM347.6 110.7h0.85v0.85h-0.85zM352.0 116.9h0.85v0.85h-0.85zM349.1 113.2h0.85v0.85h-0.85zM351.7 98.2h0.85v0.85h-0.85zM345.9 117.7h0.85v0.85h-0.85zM349.3 114.5h0.85v0.85h-0.85zM348.5 105.2h0.85v0.85h-0.85zM350.5 103.7h0.85v0.85h-0.85zM349.3 115.9h0.85v0.85h-0.85zM351.0 110.0h0.85v0.85h-0.85zM346.2 109.1h0.85v0.85h-0.85zM348.3 110.2h0.85v0.85h-0.85zM347.2 118.2h0.85v0.85h-0.85zM352.0 104.9h0.85v0.85h-0.85zM352.4 99.9h0.85v0.85h-0.85zM349.6 113.0h0.85v0.85h-0.85zM351.1 106.7h0.85v0.85h-0.85zM348.8 111.7h0.85v0.85h-0.85zM347.8 102.0h0.85v0.85h-0.85zM352.7 105.3h0.85v0.85h-0.85zM349.1 107.1h0.85v0.85h-0.85zM352.7 93.6h0.85v0.85h-0.85zM355.2 115.6h0.85v0.85h-0.85zM346.5 114.7h0.85v0.85h-0.85zM350.8 110.2h0.85v0.85h-0.85zM348.6 118.2h0.85v0.85h-0.85zM350.4 120.4h0.85v0.85h-0.85zM343.8 125.6h0.85v0.85h-0.85zM350.9 102.4h0.85v0.85h-0.85zM347.3 114.4h0.85v0.85h-0.85zM350.1 104.0h0.85v0.85h-0.85zM350.5 106.7h0.85v0.85h-0.85zM351.4 110.7h0.85v0.85h-0.85zM349.4 119.9h0.85v0.85h-0.85zM350.2 100.0h0.85v0.85h-0.85zM348.7 117.3h0.85v0.85h-0.85zM345.7 117.8h0.85v0.85h-0.85zM347.9 103.2h0.85v0.85h-0.85zM348.6 110.1h0.85v0.85h-0.85zM349.8 119.6h0.85v0.85h-0.85zM350.0 108.8h0.85v0.85h-0.85zM352.0 109.9h0.85v0.85h-0.85zM354.2 111.5h0.85v0.85h-0.85zM346.9 113.6h0.85v0.85h-0.85zM349.8 109.7h0.85v0.85h-0.85zM350.5 119.3h0.85v0.85h-0.85zM348.8 120.1h0.85v0.85h-0.85zM343.9 119.5h0.85v0.85h-0.85zM351.0 93.0h0.85v0.85h-0.85zM348.9 98.6h0.85v0.85h-0.85zM344.8 120.3h0.85v0.85h-0.85zM348.8 102.4h0.85v0.85h-0.85zM354.1 92.0h0.85v0.85h-0.85zM349.1 120.1h0.85v0.85h-0.85zM350.1 110.6h0.85v0.85h-0.85zM348.7 121.1h0.85v0.85h-0.85zM351.1 114.7h0.85v0.85h-0.85zM353.0 95.8h0.85v0.85h-0.85zM353.8 110.9h0.85v0.85h-0.85zM350.3 100.4h0.85v0.85h-0.85zM347.3 115.2h0.85v0.85h-0.85zM345.0 104.8h0.85v0.85h-0.85zM348.9 113.7h0.85v0.85h-0.85zM349.6 108.4h0.85v0.85h-0.85zM350.7 111.7h0.85v0.85h-0.85zM349.8 121.2h0.85v0.85h-0.85zM351.7 114.5h0.85v0.85h-0.85zM349.6 127.5h0.85v0.85h-0.85zM347.4 107.8h0.85v0.85h-0.85zM351.4 115.4h0.85v0.85h-0.85zM349.9 114.6h0.85v0.85h-0.85zM347.1 111.2h0.85v0.85h-0.85zM347.7 116.5h0.85v0.85h-0.85zM354.0 105.0h0.85v0.85h-0.85zM349.0 116.3h0.85v0.85h-0.85zM350.8 106.8h0.85v0.85h-0.85zM348.3 112.2h0.85v0.85h-0.85zM349.1 104.0h0.85v0.85h-0.85zM349.4 106.6h0.85v0.85h-0.85zM348.2 113.3h0.85v0.85h-0.85zM351.3 110.3h0.85v0.85h-0.85zM352.1 110.0h0.85v0.85h-0.85zM351.5 115.1h0.85v0.85h-0.85zM348.5 104.9h0.85v0.85h-0.85zM347.9 105.4h0.85v0.85h-0.85zM344.6 102.0h0.85v0.85h-0.85zM352.1 117.6h0.85v0.85h-0.85zM348.7 127.4h0.85v0.85h-0.85zM346.5 116.9h0.85v0.85h-0.85zM346.7 119.0h0.85v0.85h-0.85zM351.4 101.0h0.85v0.85h-0.85zM348.8 112.0h0.85v0.85h-0.85zM351.3 119.8h0.85v0.85h-0.85zM349.9 112.2h0.85v0.85h-0.85zM351.8 95.1h0.85v0.85h-0.85zM350.1 111.8h0.85v0.85h-0.85zM352.8 113.3h0.85v0.85h-0.85zM353.2 105.9h0.85v0.85h-0.85zM349.8 114.0h0.85v0.85h-0.85zM347.6 120.9h0.85v0.85h-0.85zM348.2 104.4h0.85v0.85h-0.85zM347.4 110.8h0.85v0.85h-0.85zM350.4 94.9h0.85v0.85h-0.85zM350.7 110.8h0.85v0.85h-0.85zM346.2 120.4h0.85v0.85h-0.85zM344.9 118.9h0.85v0.85h-0.85zM352.6 110.1h0.85v0.85h-0.85zM350.4 102.6h0.85v0.85h-0.85zM346.2 107.2h0.85v0.85h-0.85zM351.9 118.0h0.85v0.85h-0.85zM352.4 112.2h0.85v0.85h-0.85zM350.6 105.7h0.85v0.85h-0.85zM350.7 113.8h0.85v0.85h-0.85zM348.1 105.4h0.85v0.85h-0.85zM351.2 110.9h0.85v0.85h-0.85zM347.5 111.9h0.85v0.85h-0.85zM354.4 106.6h0.85v0.85h-0.85zM350.9 112.0h0.85v0.85h-0.85zM347.6 114.1h0.85v0.85h-0.85zM348.2 105.2h0.85v0.85h-0.85zM354.6 102.5h0.85v0.85h-0.85zM349.5 106.1h0.85v0.85h-0.85zM344.6 115.7h0.85v0.85h-0.85zM352.0 126.5h0.85v0.85h-0.85zM347.4 123.6h0.85v0.85h-0.85zM349.7 98.7h0.85v0.85h-0.85zM349.4 96.8h0.85v0.85h-0.85zM347.5 111.4h0.85v0.85h-0.85zM349.7 109.2h0.85v0.85h-0.85zM345.5 112.6h0.85v0.85h-0.85zM350.3 99.7h0.85v0.85h-0.85zM351.9 112.8h0.85v0.85h-0.85zM347.3 102.0h0.85v0.85h-0.85zM351.1 113.5h0.85v0.85h-0.85zM350.8 97.4h0.85v0.85h-0.85zM353.0 108.1h0.85v0.85h-0.85zM349.4 111.4h0.85v0.85h-0.85zM347.5 99.6h0.85v0.85h-0.85zM351.4 108.0h0.85v0.85h-0.85zM350.7 117.1h0.85v0.85h-0.85zM344.1 125.2h0.85v0.85h-0.85zM349.6 116.0h0.85v0.85h-0.85zM347.5 107.9h0.85v0.85h-0.85zM348.5 110.6h0.85v0.85h-0.85zM349.6 102.6h0.85v0.85h-0.85zM353.2 115.7h0.85v0.85h-0.85zM350.4 102.9h0.85v0.85h-0.85zM347.7 103.4h0.85v0.85h-0.85zM348.0 107.3h0.85v0.85h-0.85zM349.9 124.3h0.85v0.85h-0.85zM350.4 95.5h0.85v0.85h-0.85zM356.2 109.5h0.85v0.85h-0.85zM347.0 120.0h0.85v0.85h-0.85zM348.0 107.6h0.85v0.85h-0.85zM351.8 109.3h0.85v0.85h-0.85zM348.5 98.9h0.85v0.85h-0.85zM349.8 113.2h0.85v0.85h-0.85zM345.4 119.6h0.85v0.85h-0.85zM345.3 109.2h0.85v0.85h-0.85zM351.1 109.9h0.85v0.85h-0.85zM346.9 114.0h0.85v0.85h-0.85zM351.3 113.1h0.85v0.85h-0.85zM348.2 118.1h0.85v0.85h-0.85zM350.2 118.8h0.85v0.85h-0.85zM352.4 105.9h0.85v0.85h-0.85zM347.4 118.1h0.85v0.85h-0.85zM347.4 120.7h0.85v0.85h-0.85zM352.2 121.3h0.85v0.85h-0.85zM349.4 111.5h0.85v0.85h-0.85zM349.0 107.1h0.85v0.85h-0.85zM351.6 102.3h0.85v0.85h-0.85zM346.9 112.9h0.85v0.85h-0.85zM349.3 96.0h0.85v0.85h-0.85zM346.2 105.5h0.85v0.85h-0.85zM346.1 120.6h0.85v0.85h-0.85zM351.0 125.9h0.85v0.85h-0.85zM352.4 118.6h0.85v0.85h-0.85zM349.8 104.9h0.85v0.85h-0.85zM345.7 125.7h0.85v0.85h-0.85zM349.1 114.1h0.85v0.85h-0.85z" fill="#1c8c1c" fill-opacity="0.9"/>
<path d="M354.8 106.6h0.85v0.85h-0.85zM359.3 97.7h0.85v0.85h-0.85zM358.3 114.5h0.85v0.85h-0.85zM358.2 100.6h0.85v0.85h-0.85zM358.4 87.6h0.85v0.85h-0.85zM355.3 111.8h0.85v0.85h-0.85zM355.3 94.2h0.85v0.85h-0.85zM354.6 91.4h0.85v0.85h-0.85zM358.3 93.4h0.85v0.85h-0.85zM358.4 96.9h0.85v0.85h-0.85zM355.3 103.8h0.85v0.85h-0.85zM355.4 96.1h0.85v0.85h-0.85zM356.0 99.9h0.85v0.85h-0.85zM356.1 107.3h0.85v0.85h-0.85zM355.5 99.1h0.85v0.85h-0.85zM359.5 107.6h0.85v0.85h-0.85zM356.5 97.1h0.85v0.85h-0.85zM354.6 105.0h0.85v0.85h-0.85zM356.7 92.1h0.85v0.85h-0.85zM356.5 109.1h0.85v0.85h-0.85zM356.2 105.5h0.85v0.85h-0.85zM355.6 92.0h0.85v0.85h-0.85zM359.8 115.7h0.85v0.85h-0.85zM354.1 102.1h0.85v0.85h-0.85zM357.9 106.4h0.85v0.85h-0.85zM358.5 95.6h0.85v0.85h-0.85zM361.4 92.1h0.85v0.85h-0.85zM354.0 109.7h0.85v0.85h-0.85zM357.1 111.7h0.85v0.85h-0.85zM357.4 95.1h0.85v0.85h-0.85zM357.5 114.0h0.85v0.85h-0.85zM354.5 115.5h0.85v0.85h-0.85zM355.2 95.5h0.85v0.85h-0.85zM359.9 88.8h0.85v0.85h-0.85zM357.8 112.3h0.85v0.85h-0.85zM357.8 91.9h0.85v0.85h-0.85zM358.2 101.7h0.85v0.85h-0.85zM360.5 102.9h0.85v0.85h-0.85zM355.8 111.3h0.85v0.85h-0.85zM356.9 103.3h0.85v0.85h-0.85zM352.3 101.2h0.85v0.85h-0.85zM355.3 111.5h0.85v0.85h-0.85zM356.9 106.8h0.85v0.85h-0.85zM357.7 111.2h0.85v0.85h-0.85zM354.4 97.1h0.85v0.85h-0.85zM352.9 120.1h0.85v0.85h-0.85zM354.1 110.3h0.85v0.85h-0.85zM351.1 106.6h0.85v0.85h-0.85zM353.5 111.6h0.85v0.85h-0.85zM355.8 103.4h0.85v0.85h-0.85zM357.3 87.4h0.85v0.85h-0.85zM359.7 94.6h0.85v0.85h-0.85zM356.5 106.2h0.85v0.85h-0.85zM354.2 108.1h0.85v0.85h-0.85zM356.6 105.1h0.85v0.85h-0.85zM355.2 98.4h0.85v0.85h-0.85zM358.6 92.5h0.85v0.85h-0.85zM358.7 97.4h0.85v0.85h-0.85zM352.1 109.5h0.85v0.85h-0.85zM355.4 103.5h0.85v0.85h-0.85zM361.1 101.2h0.85v0.85h-0.85zM359.0 95.0h0.85v0.85h-0.85zM355.6 99.4h0.85v0.85h-0.85zM357.7 99.5h0.85v0.85h-0.85zM357.0 97.7h0.85v0.85h-0.85zM355.7 103.6h0.85v0.85h-0.85zM358.0 97.8h0.85v0.85h-0.85zM356.7 114.0h0.85v0.85h-0.85zM357.5 96.3h0.85v0.85h-0.85zM355.5 96.6h0.85v0.85h-0.85zM355.6 107.6h0.85v0.85h-0.85zM357.0 116.3h0.85v0.85h-0.85zM355.2 103.3h0.85v0.85h-0.85zM353.1 96.8h0.85v0.85h-0.85zM353.0 113.2h0.85v0.85h-0.85zM356.7 94.4h0.85v0.85h-0.85zM354.0 105.4h0.85v0.85h-0.85zM353.9 103.7h0.85v0.85h-0.85zM354.3 95.8h0.85v0.85h-0.85zM357.6 108.7h0.85v0.85h-0.85zM350.9 112.0h0.85v0.85h-0.85zM350.0 108.8h0.85v0.85h-0.85zM356.4 105.6h0.85v0.85h-0.85zM355.4 94.6h0.85v0.85h-0.85zM359.5 97.4h0.85v0.85h-0.85zM355.2 107.2h0.85v0.85h-0.85zM352.4 113.3h0.85v0.85h-0.85zM356.6 87.9h0.85v0.85h-0.85zM356.7 106.7h0.85v0.85h-0.85zM356.7 94.2h0.85v0.85h-0.85zM361.1 104.8h0.85v0.85h-0.85zM355.0 113.7h0.85v0.85h-0.85zM356.8 94.2h0.85v0.85h-0.85zM355.8 110.6h0.85v0.85h-0.85zM351.7 108.7h0.85v0.85h-0.85zM353.0 113.4h0.85v0.85h-0.85zM353.7 121.7h0.85v0.85h-0.85zM355.1 114.8h0.85v0.85h-0.85zM352.9 108.4h0.85v0.85h-0.85zM359.3 90.8h0.85v0.85h-0.85zM355.6 98.2h0.85v0.85h-0.85zM353.5 103.7h0.85v0.85h-0.85zM354.1 100.7h0.85v0.85h-0.85zM355.9 106.8h0.85v0.85h-0.85zM354.3 110.5h0.85v0.85h-0.85zM353.2 121.9h0.85v0.85h-0.85zM352.8 116.7h0.85v0.85h-0.85zM355.7 93.4h0.85v0.85h-0.85zM360.0 120.0h0.85v0.85h-0.85zM349.1 111.0h0.85v0.85h-0.85zM354.8 101.5h0.85v0.85h-0.85zM355.8 89.3h0.85v0.85h-0.85zM353.8 107.3h0.85v0.85h-0.85zM361.1 117.4h0.85v0.85h-0.85zM356.2 103.6h0.85v0.85h-0.85zM351.6 113.1h0.85v0.85h-0.85zM356.4 107.0h0.85v0.85h-0.85zM352.9 115.9h0.85v0.85h-0.85zM357.6 96.1h0.85v0.85h-0.85zM355.8 97.5h0.85v0.85h-0.85zM358.6 106.5h0.85v0.85h-0.85zM353.4 114.7h0.85v0.85h-0.85zM356.6 97.7h0.85v0.85h-0.85zM359.7 103.4h0.85v0.85h-0.85zM355.1 113.2h0.85v0.85h-0.85zM353.3 109.9h0.85v0.85h-0.85zM354.9 101.7h0.85v0.85h-0.85zM356.3 121.2h0.85v0.85h-0.85zM354.8 117.4h0.85v0.85h-0.85zM356.8 108.5h0.85v0.85h-0.85zM358.5 100.1h0.85v0.85h-0.85zM353.7 95.9h0.85v0.85h-0.85zM352.0 104.6h0.85v0.85h-0.85zM353.5 106.9h0.85v0.85h-0.85zM351.8 100.4h0.85v0.85h-0.85zM353.8 114.9h0.85v0.85h-0.85zM355.1 94.6h0.85v0.85h-0.85zM355.7 100.9h0.85v0.85h-0.85zM355.5 98.0h0.85v0.85h-0.85zM351.8 106.1h0.85v0.85h-0.85zM354.5 109.7h0.85v0.85h-0.85zM351.6 117.3h0.85v0.85h-0.85zM357.0 93.8h0.85v0.85h-0.85zM354.8 110.6h0.85v0.85h-0.85zM356.6 99.5h0.85v0.85h-0.85zM358.8 89.7h0.85v0.85h-0.85zM357.1 93.2h0.85v0.85h-0.85zM355.4 114.5h0.85v0.85h-0.85zM356.2 92.4h0.85v0.85h-0.85zM354.3 100.4h0.85v0.85h-0.85zM355.4 104.8h0.85v0.85h-0.85zM359.6 112.5h0.85v0.85h-0.85zM354.0 88.1h0.85v0.85h-0.85zM355.2 105.9h0.85v0.85h-0.85zM356.0 105.2h0.85v0.85h-0.85zM356.3 89.6h0.85v0.85h-0.85zM357.2 98.8h0.85v0.85h-0.85zM352.7 104.5h0.85v0.85h-0.85zM354.2 110.3h0.85v0.85h-0.85zM355.2 101.9h0.85v0.85h-0.85zM356.1 99.1h0.85v0.85h-0.85zM356.9 104.5h0.85v0.85h-0.85zM356.4 112.3h0.85v0.85h-0.85zM355.6 93.2h0.85v0.85h-0.85zM353.2 107.0h0.85v0.85h-0.85zM352.7 105.3h0.85v0.85h-0.85zM352.6 106.8h0.85v0.85h-0.85zM357.4 109.9h0.85v0.85h-0.85zM359.1 95.3h0.85v0.85h-0.85zM353.4 94.0h0.85v0.85h-0.85zM352.1 106.0h0.85v0.85h-0.85zM354.5 94.5h0.85v0.85h-0.85zM355.9 117.4h0.85v0.85h-0.85zM354.1 117.2h0.85v0.85h-0.85zM354.8 95.9h0.85v0.85h-0.85zM356.9 102.6h0.85v0.85h-0.85zM356.2 89.8h0.85v0.85h-0.85zM354.3 103.9h0.85v0.85h-0.85zM352.3 103.6h0.85v0.85h-0.85zM355.0 120.5h0.85v0.85h-0.85zM357.9 105.7h0.85v0.85h-0.85zM351.4 110.5h0.85v0.85h-0.85zM359.0 109.8h0.85v0.85h-0.85zM355.8 100.6h0.85v0.85h-0.85zM358.9 106.2h0.85v0.85h-0.85zM353.8 100.3h0.85v0.85h-0.85zM353.5 101.4h0.85v0.85h-0.85zM355.7 109.1h0.85v0.85h-0.85zM354.9 98.6h0.85v0.85h-0.85zM355.6 111.9h0.85v0.85h-0.85zM356.4 96.8h0.85v0.85h-0.85zM353.5 107.7h0.85v0.85h-0.85zM357.6 90.7h0.85v0.85h-0.85zM351.6 117.5h0.85v0.85h-0.85zM354.2 99.3h0.85v0.85h-0.85zM356.2 91.4h0.85v0.85h-0.85zM355.8 88.5h0.85v0.85h-0.85zM351.6 114.2h0.85v0.85h-0.85zM354.6 94.4h0.85v0.85h-0.85zM355.2 93.3h0.85v0.85h-0.85zM352.0 107.9h0.85v0.85h-0.85zM356.7 101.4h0.85v0.85h-0.85zM352.4 108.4h0.85v0.85h-0.85zM353.4 103.8h0.85v0.85h-0.85zM355.8 94.0h0.85v0.85h-0.85zM353.5 100.5h0.85v0.85h-0.85zM356.7 100.6h0.85v0.85h-0.85zM357.3 106.7h0.85v0.85h-0.85zM354.5 117.6h0.85v0.85h-0.85zM356.6 103.2h0.85v0.85h-0.85zM359.5 106.6h0.85v0.85h-0.85zM351.4 111.9h0.85v0.85h-0.85zM359.5 94.3h0.85v0.85h-0.85zM353.2 118.2h0.85v0.85h-0.85zM362.1 96.9h0.85v0.85h-0.85zM357.4 104.2h0.85v0.85h-0.85zM349.9 115.9h0.85v0.85h-0.85zM357.4 112.7h0.85v0.85h-0.85zM355.0 99.0h0.85v0.85h-0.85zM355.6 102.9h0.85v0.85h-0.85zM357.4 94.3h0.85v0.85h-0.85zM355.7 105.2h0.85v0.85h-0.85zM351.3 108.1h0.85v0.85h-0.85zM354.7 98.1h0.85v0.85h-0.85zM356.0 101.6h0.85v0.85h-0.85zM355.5 107.3h0.85v0.85h-0.85zM355.7 114.2h0.85v0.85h-0.85zM355.4 106.7h0.85v0.85h-0.85zM350.8 110.3h0.85v0.85h-0.85zM353.3 97.3h0.85v0.85h-0.85zM350.8 103.9h0.85v0.85h-0.85zM356.2 103.5h0.85v0.85h-0.85zM355.8 99.5h0.85v0.85h-0.85zM350.6 109.6h0.85v0.85h-0.85zM354.5 118.6h0.85v0.85h-0.85zM357.3 87.6h0.85v0.85h-0.85zM356.6 91.5h0.85v0.85h-0.85zM357.3 108.9h0.85v0.85h-0.85zM356.0 105.3h0.85v0.85h-0.85zM356.2 111.0h0.85v0.85h-0.85zM353.1 111.7h0.85v0.85h-0.85zM354.1 91.4h0.85v0.85h-0.85zM355.2 109.4h0.85v0.85h-0.85zM360.1 91.1h0.85v0.85h-0.85zM358.0 99.6h0.85v0.85h-0.85zM355.6 104.1h0.85v0.85h-0.85zM355.6 105.8h0.85v0.85h-0.85zM351.7 114.7h0.85v0.85h-0.85zM355.6 104.3h0.85v0.85h-0.85zM357.9 111.0h0.85v0.85h-0.85zM354.6 107.7h0.85v0.85h-0.85zM356.8 98.1h0.85v0.85h-0.85zM358.8 104.4h0.85v0.85h-0.85zM354.8 101.2h0.85v0.85h-0.85zM351.9 114.8h0.85v0.85h-0.85zM355.3 101.2h0.85v0.85h-0.85zM355.2 101.6h0.85v0.85h-0.85zM361.9 105.5h0.85v0.85h-0.85zM355.3 89.0h0.85v0.85h-0.85zM355.3 108.2h0.85v0.85h-0.85zM357.9 97.3h0.85v0.85h-0.85zM353.8 111.8h0.85v0.85h-0.85zM354.7 110.2h0.85v0.85h-0.85zM355.2 96.5h0.85v0.85h-0.85zM355.1 108.4h0.85v0.85h-0.85zM356.4 116.7h0.85v0.85h-0.85zM355.9 100.4h0.85v0.85h-0.85zM350.0 116.4h0.85v0.85h-0.85zM358.2 121.5h0.85v0.85h-0.85zM354.5 89.2h0.85v0.85h-0.85zM357.2 100.5h0.85v0.85h-0.85zM355.7 119.4h0.85v0.85h-0.85zM357.0 101.2h0.85v0.85h-0.85zM358.7 99.6h0.85v0.85h-0.85zM355.1 95.8h0.85v0.85h-0.85zM356.5 109.4h0.85v0.85h-0.85zM355.3 109.7h0.85v0.85h-0.85zM359.8 110.3h0.85v0.85h-0.85zM355.0 109.4h0.85v0.85h-0.85zM354.2 97.0h0.85v0.85h-0.85zM354.0 107.8h0.85v0.85h-0.85zM357.4 114.2h0.85v0.85h-0.85zM354.2 108.9h0.85v0.85h-0.85zM357.2 106.8h0.85v0.85h-0.85zM359.4 114.6h0.85v0.85h-0.85zM358.9 96.2h0.85v0.85h-0.85zM354.7 103.5h0.85v0.85h-0.85zM357.0 110.5h0.85v0.85h-0.85zM358.5 97.4h0.85v0.85h-0.85zM355.9 97.4h0.85v0.85h-0.85zM360.1 95.7h0.85v0.85h-0.85zM359.4 105.5h0.85v0.85h-0.85zM359.7 93.1h0.85v0.85h-0.85zM355.7 100.9h0.85v0.85h-0.85zM356.6 105.3h0.85v0.85h-0.85zM352.8 99.6h0.85v0.85h-0.85zM353.6 101.4h0.85v0.85h-0.85zM357.1 104.0h0.85v0.85h-0.85zM354.0 107.7h0.85v0.85h-0.85zM355.8 97.2h0.85v0.85h-0.85zM353.2 101.8h0.85v0.85h-0.85zM354.0 113.2h0.85v0.85h-0.85zM352.8 103.0h0.85v0.85h-0.85zM356.4 102.8h0.85v0.85h-0.85zM354.0 104.5h0.85v0.85h-0.85zM356.0 97.9h0.85v0.85h-0.85zM357.1 108.2h0.85v0.85h-0.85zM354.9 102.3h0.85v0.85h-0.85zM355.8 89.2h0.85v0.85h-0.85zM361.2 111.6h0.85v0.85h-0.85zM357.0 100.3h0.85v0.85h-0.85zM359.5 100.9h0.85v0.85h-0.85zM359.3 102.5h0.85v0.85h-0.85zM357.8 97.9h0.85v0.85h-0.85zM357.0 93.2h0.85v0.85h-0.85zM351.9 100.0h0.85v0.85h-0.85zM356.9 97.4h0.85v0.85h-0.85zM353.4 111.8h0.85v0.85h-0.85zM352.5 104.3h0.85v0.85h-0.85zM355.6 107.8h0.85v0.85h-0.85zM357.2 93.8h0.85v0.85h-0.85zM357.5 102.6h0.85v0.85h-0.85zM357.6 92.2h0.85v0.85h-0.85zM357.6 107.7h0.85v0.85h-0.85zM353.2 104.5h0.85v0.85h-0.85zM353.1 103.9h0.85v0.85h-0.85zM355.9 95.0h0.85v0.85h-0.85zM358.2 99.4h0.85v0.85h-0.85zM355.6 91.3h0.85v0.85h-0.85zM353.9 113.1h0.85v0.85h-0.85zM354.4 107.5h0.85v0.85h-0.85zM354.6 102.2h0.85v0.85h-0.85zM354.2 96.1h0.85v0.85h-0.85zM353.1 109.9h0.85v0.85h-0.85zM359.6 92.4h0.85v0.85h-0.85zM356.2 111.5h0.85v0.85h-0.85zM351.8 113.3h0.85v0.85h-0.85zM356.2 97.1h0.85v0.85h-0.85zM357.0 100.4h0.85v0.85h-0.85zM357.8 116.1h0.85v0.85h-0.85zM353.3 111.3h0.85v0.85h-0.85zM351.3 116.4h0.85v0.85h-0.85zM361.2 93.3h0.85v0.85h-0.85zM352.6 113.2h0.85v0.85h-0.85zM352.3 96.4h0.85v0.85h-0.85zM356.2 108.5h0.85v0.85h-0.85zM358.4 108.6h0.85v0.85h-0.85zM358.1 99.1h0.85v0.85h-0.85zM353.8 109.3h0.85v0.85h-0.85zM355.8 100.4h0.85v0.85h-0.85zM354.0 103.1h0.85v0.85h-0.85zM355.7 105.6h0.85v0.85h-0.85zM354.1 108.9h0.85v0.85h-0.85zM361.7 98.5h0.85v0.85h-0.85zM358.6 104.4h0.85v0.85h-0.85zM355.3 95.7h0.85v0.85h-0.85zM355.4 91.8h0.85v0.85h-0.85zM359.0 103.7h0.85v0.85h-0.85zM355.1 90.6h0.85v0.85h-0.85zM354.6 93.6h0.85v0.85h-0.85zM355.8 109.6h0.85v0.85h-0.85zM359.8 104.6h0.85v0.85h-0.85zM352.7 104.2h0.85v0.85h-0.85zM353.0 103.6h0.85v0.85h-0.85zM354.2 104.1h0.85v0.85h-0.85zM352.4 95.7h0.85v0.85h-0.85zM352.7 115.0h0.85v0.85h-0.85zM353.7 98.2h0.85v0.85h-0.85zM356.9 95.7h0.85v0.85h-0.85zM356.3 104.4h0.85v0.85h-0.85zM354.8 100.2h0.85v0.85h-0.85zM356.6 106.7h0.85v0.85h-0.85zM355.8 109.5h0.85v0.85h-0.85zM355.4 110.3h0.85v0.85h-0.85zM353.6 105.6h0.85v0.85h-0.85zM357.6 94.4h0.85v0.85h-0.85zM355.6 103.5h0.85v0.85h-0.85zM355.2 95.0h0.85v0.85h-0.85zM354.8 91.9h0.85v0.85h-0.85zM356.1 90.1h0.85v0.85h-0.85zM355.5 112.0h0.85v0.85h-0.85zM352.7 95.1h0.85v0.85h-0.85zM354.3 114.5h0.85v0.85h-0.85zM352.8 106.0h0.85v0.85h-0.85zM352.6 107.3h0.85v0.85h-0.85zM361.9 110.2h0.85v0.85h-0.85zM351.4 96.3h0.85v0.85h-0.85zM355.4 107.5h0.85v0.85h-0.85zM357.5 97.7h0.85v0.85h-0.85zM355.3 95.2h0.85v0.85h-0.85zM355.4 86.5h0.85v0.85h-0.85zM353.2 98.1h0.85v0.85h-0.85zM353.9 97.3h0.85v0.85h-0.85zM354.0 105.5h0.85v0.85h-0.85zM352.9 113.6h0.85v0.85h-0.85zM355.3 107.2h0.85v0.85h-0.85zM357.2 99.7h0.85v0.85h-0.85zM357.9 115.4h0.85v0.85h-0.85zM359.8 94.0h0.85v0.85h-0.85zM357.1 102.4h0.85v0.85h-0.85zM356.2 108.6h0.85v0.85h-0.85zM353.1 110.3h0.85v0.85h-0.85zM352.3 107.1h0.85v0.85h-0.85zM356.4 108.0h0.85v0.85h-0.85zM357.8 103.8h0.85v0.85h-0.85zM358.0 95.7h0.85v0.85h-0.85zM355.9 111.3h0.85v0.85h-0.85zM359.0 96.1h0.85v0.85h-0.85zM355.9 98.2h0.85v0.85h-0.85zM354.9 110.6h0.85v0.85h-0.85zM355.4 100.0h0.85v0.85h-0.85zM356.0 103.7h0.85v0.85h-0.85zM352.8 114.0h0.85v0.85h-0.85zM353.3 102.1h0.85v0.85h-0.85zM358.6 96.3h0.85v0.85h-0.85zM354.9 112.8h0.85v0.85h-0.85zM358.6 103.6h0.85v0.85h-0.85zM357.4 94.5h0.85v0.85h-0.85zM356.6 108.4h0.85v0.85h-0.85zM358.7 87.4h0.85v0.85h-0.85zM355.5 114.8h0.85v0.85h-0.85zM357.4 112.5h0.85v0.85h-0.85zM357.8 115.2h0.85v0.85h-0.85zM358.4 90.4h0.85v0.85h-0.85zM353.5 111.3h0.85v0.85h-0.85zM355.8 120.2h0.85v0.85h-0.85zM359.5 103.5h0.85v0.85h-0.85zM357.6 100.5h0.85v0.85h-0.85zM359.1 111.2h0.85v0.85h-0.85zM359.6 88.2h0.85v0.85h-0.85zM354.4 104.6h0.85v0.85h-0.85zM355.8 107.5h0.85v0.85h-0.85zM359.4 96.3h0.85v0.85h-0.85zM357.2 102.9h0.85v0.85h-0.85zM353.7 113.6h0.85v0.85h-0.85zM357.0 109.5h0.85v0.85h-0.85zM356.8 102.3h0.85v0.85h-0.85zM354.6 95.3h0.85v0.85h-0.85zM354.9 92.3h0.85v0.85h-0.85zM358.1 94.0h0.85v0.85h-0.85zM357.6 97.7h0.85v0.85h-0.85zM353.2 100.4h0.85v0.85h-0.85zM355.1 103.0h0.85v0.85h-0.85zM355.9 102.7h0.85v0.85h-0.85zM355.7 109.2h0.85v0.85h-0.85zM353.8 95.3h0.85v0.85h-0.85zM356.6 98.2h0.85v0.85h-0.85zM350.9 113.9h0.85v0.85h-0.85zM353.8 100.2h0.85v0.85h-0.85zM355.9 112.0h0.85v0.85h-0.85zM355.8 98.6h0.85v0.85h-0.85zM355.5 106.0h0.85v0.85h-0.85zM356.7 114.8h0.85v0.85h-0.85z" fill="#cc44cc" fill-opacity="0.85"/>
<rect x="325.50" y="67.10" width="53.10" height="54.00" fill="none" stroke="#333" stroke-width="0.75"/>
<text x="350.50" y="61.60" font-size="7.3" font-weight="bold" fill="#111" text-anchor="middle">True-EV</text>
<path d="M294.80 34.80H405.80V145.50" fill="none" stroke="#6a6a6a" stroke-width="1"/>
<path d="M294.80 34.80V145.50H405.80" fill="none" stroke="#333" stroke-width="1"/>
<path d="M294.80 145.50v2.8M301.48 145.50v1.9M305.39 145.50v1.9M308.17 145.50v1.9M310.32 145.50v1.9M312.07 145.50v1.9M313.56 145.50v1.9M314.85 145.50v1.9M315.98 145.50v1.9M317.00 145.50v2.8M323.68 145.50v1.9M327.59 145.50v1.9M330.37 145.50v1.9M332.52 145.50v1.9M334.27 145.50v1.9M335.76 145.50v1.9M337.05 145.50v1.9M338.18 145.50v1.9M339.20 145.50v2.8M345.88 145.50v1.9M349.79 145.50v1.9M352.57 145.50v1.9M354.72 145.50v1.9M356.47 145.50v1.9M357.96 145.50v1.9M359.25 145.50v1.9M360.38 145.50v1.9M361.40 145.50v2.8M368.08 145.50v1.9M371.99 145.50v1.9M374.77 145.50v1.9M376.92 145.50v1.9M378.67 145.50v1.9M380.16 145.50v1.9M381.45 145.50v1.9M382.58 145.50v1.9M383.60 145.50v2.8M390.28 145.50v1.9M394.19 145.50v1.9M396.97 145.50v1.9M399.12 145.50v1.9M400.87 145.50v1.9M402.36 145.50v1.9M403.65 145.50v1.9M404.78 145.50v1.9M405.80 145.50v2.8M294.80 145.50h-2.8M294.80 138.84h-1.9M294.80 134.94h-1.9M294.80 132.17h-1.9M294.80 130.02h-1.9M294.80 128.27h-1.9M294.80 126.79h-1.9M294.80 125.51h-1.9M294.80 124.37h-1.9M294.80 123.36h-2.8M294.80 116.70h-1.9M294.80 112.80h-1.9M294.80 110.03h-1.9M294.80 107.88h-1.9M294.80 106.13h-1.9M294.80 104.65h-1.9M294.80 103.37h-1.9M294.80 102.23h-1.9M294.80 101.22h-2.8M294.80 94.56h-1.9M294.80 90.66h-1.9M294.80 87.89h-1.9M294.80 85.74h-1.9M294.80 83.99h-1.9M294.80 82.51h-1.9M294.80 81.23h-1.9M294.80 80.09h-1.9M294.80 79.08h-2.8M294.80 72.42h-1.9M294.80 68.52h-1.9M294.80 65.75h-1.9M294.80 63.60h-1.9M294.80 61.85h-1.9M294.80 60.37h-1.9M294.80 59.09h-1.9M294.80 57.95h-1.9M294.80 56.94h-2.8M294.80 50.28h-1.9M294.80 46.38h-1.9M294.80 43.61h-1.9M294.80 41.46h-1.9M294.80 39.71h-1.9M294.80 38.23h-1.9M294.80 36.95h-1.9M294.80 35.81h-1.9M294.80 34.80h-2.8" stroke="#333" stroke-width="0.75" fill="none"/>
<g transform="translate(295.60 155.50) scale(0.86 1)"><text x="0" y="0" font-size="6.7" fill="#222" text-anchor="middle">10<tspan font-size="4.2" dy="-3.0">2</tspan></text></g>
<g transform="translate(317.80 155.50) scale(0.86 1)"><text x="0" y="0" font-size="6.7" fill="#222" text-anchor="middle">10<tspan font-size="4.2" dy="-3.0">3</tspan></text></g>
<g transform="translate(340.00 155.50) scale(0.86 1)"><text x="0" y="0" font-size="6.7" fill="#222" text-anchor="middle">10<tspan font-size="4.2" dy="-3.0">4</tspan></text></g>
<g transform="translate(362.20 155.50) scale(0.86 1)"><text x="0" y="0" font-size="6.7" fill="#222" text-anchor="middle">10<tspan font-size="4.2" dy="-3.0">5</tspan></text></g>
<g transform="translate(384.40 155.50) scale(0.86 1)"><text x="0" y="0" font-size="6.7" fill="#222" text-anchor="middle">10<tspan font-size="4.2" dy="-3.0">6</tspan></text></g>
<g transform="translate(406.60 155.50) scale(0.86 1)"><text x="0" y="0" font-size="6.7" fill="#222" text-anchor="middle">10<tspan font-size="4.2" dy="-3.0">7</tspan></text></g>
<g transform="translate(288.80 144.90) rotate(-90) scale(0.86 1)"><text x="0" y="0" font-size="6.7" fill="#222" text-anchor="middle">10<tspan font-size="4.2" dy="-3.0">2</tspan></text></g>
<g transform="translate(288.80 122.76) rotate(-90) scale(0.86 1)"><text x="0" y="0" font-size="6.7" fill="#222" text-anchor="middle">10<tspan font-size="4.2" dy="-3.0">3</tspan></text></g>
<g transform="translate(288.80 100.62) rotate(-90) scale(0.86 1)"><text x="0" y="0" font-size="6.7" fill="#222" text-anchor="middle">10<tspan font-size="4.2" dy="-3.0">4</tspan></text></g>
<g transform="translate(288.80 78.48) rotate(-90) scale(0.86 1)"><text x="0" y="0" font-size="6.7" fill="#222" text-anchor="middle">10<tspan font-size="4.2" dy="-3.0">5</tspan></text></g>
<g transform="translate(288.80 56.34) rotate(-90) scale(0.86 1)"><text x="0" y="0" font-size="6.7" fill="#222" text-anchor="middle">10<tspan font-size="4.2" dy="-3.0">6</tspan></text></g>
<g transform="translate(288.80 34.20) rotate(-90) scale(0.86 1)"><text x="0" y="0" font-size="6.7" fill="#222" text-anchor="middle">10<tspan font-size="4.2" dy="-3.0">7</tspan></text></g>
<text x="350.00" y="161.90" font-size="5.6" fill="#222" text-anchor="middle">ANEXIN FITC-H</text>
<text x="282.40" y="89.80" font-size="5.8" fill="#222" text-anchor="middle" transform="rotate(-90 282.40 89.80)">CALCEIN PB450-H</text>
<text x="432.50" y="100.40" font-size="11.5" font-weight="bold" fill="#000" text-anchor="start">G</text>
<text x="490.20" y="111.60" font-size="7.58" font-weight="bold" fill="#111" text-anchor="middle">MEGAMIX SSC: 160-500nm</text>
<path d="M432.50 117.90H542.30V227.30" fill="none" stroke="#6a6a6a" stroke-width="1"/>
<path d="M432.50 117.90V227.30H542.30" fill="none" stroke="#333" stroke-width="1"/>
<polygon points="465.4,227.0 467.0,222.0 467.4,200.0 467.7,172.0 468.1,166.0 468.3,150.0 469.0,146.8 469.7,150.0 469.9,166.0 470.4,172.0 470.8,200.0 471.3,222.0 472.6,227.0" fill="#f21818"/>
<polygon points="474.4,227.0 475.3,223.5 475.3,187.8 475.9,142.0 476.3,140.0 476.8,142.0 477.3,187.8 477.3,223.5 478.2,227.0" fill="#3cc4c4"/>
<path d="M476.3 136V142" stroke="#7fd6d6" stroke-width="0.8"/>
<polygon points="479.3,227.0 480.2,223.5 480.3,211.9 480.7,195.4 481.2,193.4 481.7,195.4 482.1,211.9 482.2,223.5 483.1,227.0" fill="#0e0eb8"/>
<polygon points="491.7,227.0 492.5,223.5 492.6,220.4 492.9,214.4 493.4,212.4 493.9,214.4 494.2,220.4 494.3,223.5 495.1,227.0" fill="#b030c8"/>
<path d="M464.6 155.0H473.3M464.6 152.4v5.2M473.3 152.4v5.2" stroke="#e0606c" stroke-width="1.0" fill="none"/>
<path d="M472.3 148.1H479.7M472.3 145.5v5.2M479.7 145.5v5.2" stroke="#5cc8c8" stroke-width="1.0" fill="none"/>
<path d="M479.2 161.3H484.8M479.2 158.70000000000002v5.2M484.8 158.70000000000002v5.2" stroke="#4848b0" stroke-width="1.0" fill="none"/>
<path d="M484.5 170.6H491.4M484.5 168.0v5.2M491.4 168.0v5.2" stroke="#48a048" stroke-width="1.0" fill="none"/>
<path d="M490.1 191.8H497.9M490.1 189.20000000000002v5.2M497.9 189.20000000000002v5.2" stroke="#c060c8" stroke-width="1.0" fill="none"/>
<text x="511.30" y="135.80" font-size="5.8" fill="#f21818" text-anchor="start">160nm</text>
<text x="511.30" y="146.00" font-size="5.8" fill="#3cc4c4" text-anchor="start">200nm</text>
<text x="511.30" y="158.50" font-size="5.8" fill="#0e0eb8" text-anchor="start">240nm</text>
<text x="511.30" y="171.00" font-size="5.8" fill="#1c8c1c" text-anchor="start">300nm</text>
<text x="513.00" y="181.40" font-size="5.8" fill="#cc44cc" text-anchor="start">500nm</text>
<path d="M432.50 227.30v2.8M439.11 227.30v1.9M442.98 227.30v1.9M445.72 227.30v1.9M447.85 227.30v1.9M449.59 227.30v1.9M451.06 227.30v1.9M452.33 227.30v1.9M453.46 227.30v1.9M454.46 227.30v2.8M461.07 227.30v1.9M464.94 227.30v1.9M467.68 227.30v1.9M469.81 227.30v1.9M471.55 227.30v1.9M473.02 227.30v1.9M474.29 227.30v1.9M475.42 227.30v1.9M476.42 227.30v2.8M483.03 227.30v1.9M486.90 227.30v1.9M489.64 227.30v1.9M491.77 227.30v1.9M493.51 227.30v1.9M494.98 227.30v1.9M496.25 227.30v1.9M497.38 227.30v1.9M498.38 227.30v2.8M504.99 227.30v1.9M508.86 227.30v1.9M511.60 227.30v1.9M513.73 227.30v1.9M515.47 227.30v1.9M516.94 227.30v1.9M518.21 227.30v1.9M519.34 227.30v1.9M520.34 227.30v2.8M526.95 227.30v1.9M530.82 227.30v1.9M533.56 227.30v1.9M535.69 227.30v1.9M537.43 227.30v1.9M538.90 227.30v1.9M540.17 227.30v1.9M541.30 227.30v1.9M542.30 227.30v2.8M432.50 227.30h-1.8M432.50 218.52h-1.8M432.50 209.74h-1.8M432.50 200.96h-1.8M432.50 192.18h-1.8M432.50 183.40h-1.8M432.50 174.62h-1.8M432.50 165.84h-1.8M432.50 157.06h-1.8M432.50 148.28h-1.8M432.50 139.50h-1.8M432.50 130.72h-1.8M432.50 121.94h-1.8" stroke="#333" stroke-width="0.75" fill="none"/>
<g transform="translate(433.30 238.30) scale(0.86 1)"><text x="0" y="0" font-size="6.7" fill="#222" text-anchor="middle">10<tspan font-size="4.2" dy="-3.0">2</tspan></text></g>
<g transform="translate(455.26 238.30) scale(0.86 1)"><text x="0" y="0" font-size="6.7" fill="#222" text-anchor="middle">10<tspan font-size="4.2" dy="-3.0">3</tspan></text></g>
<g transform="translate(477.22 238.30) scale(0.86 1)"><text x="0" y="0" font-size="6.7" fill="#222" text-anchor="middle">10<tspan font-size="4.2" dy="-3.0">4</tspan></text></g>
<g transform="translate(499.18 238.30) scale(0.86 1)"><text x="0" y="0" font-size="6.7" fill="#222" text-anchor="middle">10<tspan font-size="4.2" dy="-3.0">5</tspan></text></g>
<g transform="translate(521.14 238.30) scale(0.86 1)"><text x="0" y="0" font-size="6.7" fill="#222" text-anchor="middle">10<tspan font-size="4.2" dy="-3.0">6</tspan></text></g>
<g transform="translate(543.10 238.30) scale(0.86 1)"><text x="0" y="0" font-size="6.7" fill="#222" text-anchor="middle">10<tspan font-size="4.2" dy="-3.0">7</tspan></text></g>
<text x="426.40" y="227.30" font-size="5.6" fill="#222" text-anchor="middle" transform="rotate(-90 426.40 227.30)">0</text>
<text x="426.40" y="183.40" font-size="5.6" fill="#222" text-anchor="middle" transform="rotate(-90 426.40 183.40)">200</text>
<text x="426.40" y="139.50" font-size="5.6" fill="#222" text-anchor="middle" transform="rotate(-90 426.40 139.50)">400</text>
<text x="487.00" y="244.40" font-size="5.7" fill="#222" text-anchor="middle">Violet SSC-H</text>
<text x="418.90" y="172.30" font-size="5.5" fill="#222" text-anchor="middle" transform="rotate(-90 418.90 172.30)">Count</text>
<text x="25.00" y="194.70" font-size="11.3" font-weight="bold" fill="#000" text-anchor="start">D</text>
<text x="82.40" y="210.70" font-size="7.4" font-weight="bold" fill="#111" text-anchor="middle">PBT True-EV</text>
<rect x="31.50" y="262.20" width="9.60" height="6.50" rx="1.12" fill="#cc44cc"/>
<path d="M40.3 265.2h0.8v0.8h-0.8zM42.1 264.0h0.8v0.8h-0.8zM40.2 266.1h0.8v0.8h-0.8zM41.8 266.5h0.8v0.8h-0.8zM39.8 268.0h0.8v0.8h-0.8zM42.1 266.9h0.8v0.8h-0.8zM39.9 263.2h0.8v0.8h-0.8zM40.0 265.1h0.8v0.8h-0.8zM39.8 263.1h0.8v0.8h-0.8zM39.8 262.8h0.8v0.8h-0.8zM41.1 267.8h0.8v0.8h-0.8zM40.4 265.8h0.8v0.8h-0.8zM41.0 262.8h0.8v0.8h-0.8zM40.2 264.0h0.8v0.8h-0.8zM39.9 267.8h0.8v0.8h-0.8zM42.1 266.4h0.8v0.8h-0.8z" fill="#cc44cc" fill-opacity="0.8"/>
<path d="M32.1 264.8h0.8v0.8h-0.8zM32.2 263.0h0.8v0.8h-0.8zM30.4 266.1h0.8v0.8h-0.8zM32.5 264.4h0.8v0.8h-0.8zM32.8 266.0h0.8v0.8h-0.8zM30.4 266.4h0.8v0.8h-0.8zM30.5 264.9h0.8v0.8h-0.8zM31.3 267.2h0.8v0.8h-0.8zM32.8 264.2h0.8v0.8h-0.8zM31.9 264.8h0.8v0.8h-0.8zM31.3 266.4h0.8v0.8h-0.8z" fill="#cc44cc" fill-opacity="0.7"/>
<path d="M40.8 263.5h0.7v0.7h-0.7zM35.2 263.3h0.7v0.7h-0.7zM37.5 263.4h0.7v0.7h-0.7zM41.1 263.7h0.7v0.7h-0.7zM32.0 265.8h0.7v0.7h-0.7zM41.1 266.6h0.7v0.7h-0.7zM41.5 265.6h0.7v0.7h-0.7zM31.5 265.0h0.7v0.7h-0.7zM32.3 265.4h0.7v0.7h-0.7zM33.6 264.4h0.7v0.7h-0.7zM31.7 265.6h0.7v0.7h-0.7zM32.7 265.1h0.7v0.7h-0.7zM39.5 268.0h0.7v0.7h-0.7zM38.0 267.6h0.7v0.7h-0.7zM32.0 264.8h0.7v0.7h-0.7zM35.4 264.8h0.7v0.7h-0.7zM39.5 264.7h0.7v0.7h-0.7zM34.0 265.6h0.7v0.7h-0.7zM37.1 263.7h0.7v0.7h-0.7zM35.1 267.5h0.7v0.7h-0.7zM33.0 264.4h0.7v0.7h-0.7zM40.8 263.1h0.7v0.7h-0.7zM33.1 267.5h0.7v0.7h-0.7zM37.1 265.8h0.7v0.7h-0.7zM37.2 263.2h0.7v0.7h-0.7z" fill="#fff" fill-opacity="0.55"/>
<rect x="29.60" y="267.30" width="12.80" height="7.60" rx="1.12" fill="#1c8c1c"/>
<path d="M41.9 272.2h0.8v0.8h-0.8zM41.0 271.8h0.8v0.8h-0.8zM43.3 270.0h0.8v0.8h-0.8zM41.7 268.5h0.8v0.8h-0.8zM44.1 273.4h0.8v0.8h-0.8zM41.9 273.1h0.8v0.8h-0.8zM42.7 269.4h0.8v0.8h-0.8zM41.2 274.3h0.8v0.8h-0.8zM42.2 268.7h0.8v0.8h-0.8zM43.6 272.3h0.8v0.8h-0.8zM43.4 272.5h0.8v0.8h-0.8zM43.7 268.5h0.8v0.8h-0.8zM42.3 270.2h0.8v0.8h-0.8zM42.0 272.3h0.8v0.8h-0.8zM41.1 268.4h0.8v0.8h-0.8zM41.2 267.9h0.8v0.8h-0.8zM43.2 267.9h0.8v0.8h-0.8zM42.3 268.4h0.8v0.8h-0.8zM43.1 272.0h0.8v0.8h-0.8z" fill="#1c8c1c" fill-opacity="0.8"/>
<path d="M28.4 269.4h0.8v0.8h-0.8zM29.1 272.4h0.8v0.8h-0.8zM29.0 270.3h0.8v0.8h-0.8zM30.1 268.2h0.8v0.8h-0.8zM29.2 271.2h0.8v0.8h-0.8zM30.3 270.9h0.8v0.8h-0.8zM29.7 272.3h0.8v0.8h-0.8zM29.7 271.6h0.8v0.8h-0.8zM30.8 273.9h0.8v0.8h-0.8zM29.1 271.1h0.8v0.8h-0.8zM28.5 268.5h0.8v0.8h-0.8zM29.9 268.6h0.8v0.8h-0.8zM30.6 274.0h0.8v0.8h-0.8z" fill="#1c8c1c" fill-opacity="0.7"/>
<path d="M30.9 271.2h0.7v0.7h-0.7zM37.4 270.8h0.7v0.7h-0.7zM34.9 271.2h0.7v0.7h-0.7zM38.2 270.6h0.7v0.7h-0.7zM40.0 268.1h0.7v0.7h-0.7zM35.6 271.0h0.7v0.7h-0.7zM32.9 273.6h0.7v0.7h-0.7zM39.5 271.1h0.7v0.7h-0.7zM36.7 269.7h0.7v0.7h-0.7zM31.3 270.2h0.7v0.7h-0.7z" fill="#fff" fill-opacity="0.55"/>
<rect x="25.70" y="273.70" width="17.30" height="6.90" rx="1.05" fill="#0e0eb8"/>
<path d="M43.8 276.8h0.8v0.8h-0.8zM43.9 279.1h0.8v0.8h-0.8zM43.6 274.4h0.8v0.8h-0.8zM42.7 275.2h0.8v0.8h-0.8zM43.3 276.9h0.8v0.8h-0.8zM41.9 275.1h0.8v0.8h-0.8zM41.9 275.2h0.8v0.8h-0.8zM41.7 276.1h0.8v0.8h-0.8zM41.8 274.9h0.8v0.8h-0.8zM44.1 275.0h0.8v0.8h-0.8zM42.5 274.3h0.8v0.8h-0.8zM44.2 274.7h0.8v0.8h-0.8zM43.5 276.8h0.8v0.8h-0.8zM42.0 275.6h0.8v0.8h-0.8zM41.7 278.5h0.8v0.8h-0.8zM41.6 277.7h0.8v0.8h-0.8zM44.6 279.0h0.8v0.8h-0.8z" fill="#0e0eb8" fill-opacity="0.8"/>
<path d="M26.2 279.4h0.8v0.8h-0.8zM24.6 278.2h0.8v0.8h-0.8zM25.3 274.4h0.8v0.8h-0.8zM25.3 279.2h0.8v0.8h-0.8zM24.4 279.6h0.8v0.8h-0.8zM25.3 277.9h0.8v0.8h-0.8zM26.3 277.5h0.8v0.8h-0.8zM25.6 276.7h0.8v0.8h-0.8zM27.1 275.3h0.8v0.8h-0.8zM26.2 278.0h0.8v0.8h-0.8zM26.0 279.8h0.8v0.8h-0.8z" fill="#0e0eb8" fill-opacity="0.7"/>
<rect x="25.10" y="279.40" width="17.90" height="7.60" rx="1.05" fill="#3cc4c4"/>
<path d="M42.8 282.2h0.8v0.8h-0.8zM41.8 280.4h0.8v0.8h-0.8zM44.0 282.5h0.8v0.8h-0.8zM42.1 283.3h0.8v0.8h-0.8zM44.5 280.2h0.8v0.8h-0.8zM42.8 285.9h0.8v0.8h-0.8zM43.8 285.7h0.8v0.8h-0.8zM43.4 282.4h0.8v0.8h-0.8zM41.9 282.9h0.8v0.8h-0.8zM43.7 283.6h0.8v0.8h-0.8zM44.0 283.3h0.8v0.8h-0.8zM43.6 286.0h0.8v0.8h-0.8zM44.4 283.5h0.8v0.8h-0.8zM44.5 280.3h0.8v0.8h-0.8zM44.5 281.4h0.8v0.8h-0.8zM42.5 282.1h0.8v0.8h-0.8zM43.2 282.3h0.8v0.8h-0.8zM44.7 284.0h0.8v0.8h-0.8zM44.1 282.3h0.8v0.8h-0.8z" fill="#3cc4c4" fill-opacity="0.8"/>
<path d="M24.7 282.5h0.8v0.8h-0.8zM25.8 283.5h0.8v0.8h-0.8zM25.8 281.0h0.8v0.8h-0.8zM25.0 286.2h0.8v0.8h-0.8zM24.9 283.1h0.8v0.8h-0.8zM24.8 284.9h0.8v0.8h-0.8zM26.3 284.1h0.8v0.8h-0.8zM24.6 281.4h0.8v0.8h-0.8zM25.7 286.2h0.8v0.8h-0.8zM25.5 282.7h0.8v0.8h-0.8zM24.2 282.8h0.8v0.8h-0.8zM25.8 285.8h0.8v0.8h-0.8zM23.8 286.3h0.8v0.8h-0.8z" fill="#3cc4c4" fill-opacity="0.7"/>
<rect x="26.40" y="285.80" width="16.00" height="8.70" rx="1.12" fill="#f21818"/>
<path d="M42.6 290.9h0.8v0.8h-0.8zM44.2 287.9h0.8v0.8h-0.8zM43.2 287.7h0.8v0.8h-0.8zM42.1 288.6h0.8v0.8h-0.8zM42.9 289.2h0.8v0.8h-0.8zM43.1 291.2h0.8v0.8h-0.8zM41.5 287.2h0.8v0.8h-0.8zM42.2 289.7h0.8v0.8h-0.8zM42.2 290.5h0.8v0.8h-0.8zM41.8 288.5h0.8v0.8h-0.8zM42.5 293.2h0.8v0.8h-0.8zM43.7 292.5h0.8v0.8h-0.8zM41.7 287.8h0.8v0.8h-0.8zM43.7 289.9h0.8v0.8h-0.8zM41.1 290.9h0.8v0.8h-0.8zM41.2 288.1h0.8v0.8h-0.8zM43.9 290.9h0.8v0.8h-0.8zM41.5 287.2h0.8v0.8h-0.8zM41.4 289.7h0.8v0.8h-0.8zM42.6 292.8h0.8v0.8h-0.8zM42.7 292.7h0.8v0.8h-0.8zM41.3 289.4h0.8v0.8h-0.8zM41.0 288.5h0.8v0.8h-0.8z" fill="#f21818" fill-opacity="0.8"/>
<path d="M26.6 289.1h0.8v0.8h-0.8zM27.1 290.0h0.8v0.8h-0.8zM25.9 288.7h0.8v0.8h-0.8zM26.5 291.2h0.8v0.8h-0.8zM27.4 293.8h0.8v0.8h-0.8zM25.2 289.8h0.8v0.8h-0.8zM25.1 287.9h0.8v0.8h-0.8zM26.5 290.3h0.8v0.8h-0.8zM26.5 287.8h0.8v0.8h-0.8zM27.7 289.1h0.8v0.8h-0.8zM26.9 289.7h0.8v0.8h-0.8zM27.0 286.6h0.8v0.8h-0.8zM26.1 292.3h0.8v0.8h-0.8zM26.7 290.3h0.8v0.8h-0.8zM26.6 292.3h0.8v0.8h-0.8z" fill="#f21818" fill-opacity="0.7"/>
<rect x="44.10" y="253.20" width="79.10" height="50.90" fill="none" stroke="#333" stroke-width="0.75"/>
<text x="46.60" y="247.20" font-size="7.2" font-weight="bold" fill="#111" text-anchor="start">CD4<tspan font-size="4.6" dy="-2.6">+</tspan><tspan dy="2.6">EV</tspan></text>
<path d="M23.30 215.90H134.40V327.10" fill="none" stroke="#6a6a6a" stroke-width="1"/>
<path d="M23.30 215.90V327.10H134.40" fill="none" stroke="#333" stroke-width="1"/>
<path d="M23.30 327.10v2.8M31.66 327.10v1.9M36.55 327.10v1.9M40.02 327.10v1.9M42.71 327.10v1.9M44.91 327.10v1.9M46.77 327.10v1.9M48.38 327.10v1.9M49.80 327.10v1.9M51.08 327.10v2.8M59.44 327.10v1.9M64.33 327.10v1.9M67.80 327.10v1.9M70.49 327.10v1.9M72.69 327.10v1.9M74.55 327.10v1.9M76.16 327.10v1.9M77.58 327.10v1.9M78.85 327.10v2.8M87.21 327.10v1.9M92.10 327.10v1.9M95.57 327.10v1.9M98.26 327.10v1.9M100.46 327.10v1.9M102.32 327.10v1.9M103.93 327.10v1.9M105.35 327.10v1.9M106.62 327.10v2.8M114.99 327.10v1.9M119.88 327.10v1.9M123.35 327.10v1.9M126.04 327.10v1.9M128.24 327.10v1.9M130.10 327.10v1.9M131.71 327.10v1.9M133.13 327.10v1.9M134.40 327.10v2.8M23.30 327.10h-2.8M23.30 320.41h-1.9M23.30 316.49h-1.9M23.30 313.71h-1.9M23.30 311.55h-1.9M23.30 309.79h-1.9M23.30 308.31h-1.9M23.30 307.02h-1.9M23.30 305.88h-1.9M23.30 304.86h-2.8M23.30 298.17h-1.9M23.30 294.25h-1.9M23.30 291.47h-1.9M23.30 289.31h-1.9M23.30 287.55h-1.9M23.30 286.07h-1.9M23.30 284.78h-1.9M23.30 283.64h-1.9M23.30 282.62h-2.8M23.30 275.93h-1.9M23.30 272.01h-1.9M23.30 269.23h-1.9M23.30 267.07h-1.9M23.30 265.31h-1.9M23.30 263.83h-1.9M23.30 262.54h-1.9M23.30 261.40h-1.9M23.30 260.38h-2.8M23.30 253.69h-1.9M23.30 249.77h-1.9M23.30 246.99h-1.9M23.30 244.83h-1.9M23.30 243.07h-1.9M23.30 241.59h-1.9M23.30 240.30h-1.9M23.30 239.16h-1.9M23.30 238.14h-2.8M23.30 231.45h-1.9M23.30 227.53h-1.9M23.30 224.75h-1.9M23.30 222.59h-1.9M23.30 220.83h-1.9M23.30 219.35h-1.9M23.30 218.06h-1.9M23.30 216.92h-1.9M23.30 215.90h-2.8" stroke="#333" stroke-width="0.75" fill="none"/>
<g transform="translate(24.10 337.70) scale(0.86 1)"><text x="0" y="0" font-size="6.7" fill="#222" text-anchor="middle">10<tspan font-size="4.2" dy="-3.0">2</tspan></text></g>
<g transform="translate(51.88 337.70) scale(0.86 1)"><text x="0" y="0" font-size="6.7" fill="#222" text-anchor="middle">10<tspan font-size="4.2" dy="-3.0">3</tspan></text></g>
<g transform="translate(79.65 337.70) scale(0.86 1)"><text x="0" y="0" font-size="6.7" fill="#222" text-anchor="middle">10<tspan font-size="4.2" dy="-3.0">4</tspan></text></g>
<g transform="translate(107.42 337.70) scale(0.86 1)"><text x="0" y="0" font-size="6.7" fill="#222" text-anchor="middle">10<tspan font-size="4.2" dy="-3.0">5</tspan></text></g>
<g transform="translate(135.20 337.70) scale(0.86 1)"><text x="0" y="0" font-size="6.7" fill="#222" text-anchor="middle">10<tspan font-size="4.2" dy="-3.0">6</tspan></text></g>
<g transform="translate(17.80 325.90) rotate(-90) scale(0.86 1)"><text x="0" y="0" font-size="6.7" fill="#222" text-anchor="middle">10<tspan font-size="4.2" dy="-3.0">2</tspan></text></g>
<g transform="translate(17.80 303.66) rotate(-90) scale(0.86 1)"><text x="0" y="0" font-size="6.7" fill="#222" text-anchor="middle">10<tspan font-size="4.2" dy="-3.0">3</tspan></text></g>
<g transform="translate(17.80 281.42) rotate(-90) scale(0.86 1)"><text x="0" y="0" font-size="6.7" fill="#222" text-anchor="middle">10<tspan font-size="4.2" dy="-3.0">4</tspan></text></g>
<g transform="translate(17.80 259.18) rotate(-90) scale(0.86 1)"><text x="0" y="0" font-size="6.7" fill="#222" text-anchor="middle">10<tspan font-size="4.2" dy="-3.0">5</tspan></text></g>
<g transform="translate(17.80 236.94) rotate(-90) scale(0.86 1)"><text x="0" y="0" font-size="6.7" fill="#222" text-anchor="middle">10<tspan font-size="4.2" dy="-3.0">6</tspan></text></g>
<g transform="translate(17.80 214.70) rotate(-90) scale(0.86 1)"><text x="0" y="0" font-size="6.7" fill="#222" text-anchor="middle">10<tspan font-size="4.2" dy="-3.0">7</tspan></text></g>
<text x="78.85" y="344.70" font-size="5.8" fill="#222" text-anchor="middle">CD4 APC-H</text>
<text x="9.90" y="271.80" font-size="6.0" fill="#222" text-anchor="middle" transform="rotate(-90 9.90 271.80)">Violet SSC-H</text>
<text x="159.30" y="194.30" font-size="11.3" font-weight="bold" fill="#000" text-anchor="start">E</text>
<text x="221.40" y="211.00" font-size="7.4" font-weight="bold" fill="#111" text-anchor="middle">PBT True-EV</text>
<path d="M189.5 273.5h0.7v0.7h-0.7zM200.6 280.0h0.7v0.7h-0.7zM202.9 292.9h0.7v0.7h-0.7zM189.5 288.3h0.7v0.7h-0.7zM189.2 293.9h0.7v0.7h-0.7zM209.6 283.9h0.7v0.7h-0.7zM198.5 292.2h0.7v0.7h-0.7zM186.3 286.7h0.7v0.7h-0.7zM189.6 286.2h0.7v0.7h-0.7zM209.5 288.8h0.7v0.7h-0.7zM190.9 275.1h0.7v0.7h-0.7zM198.2 290.1h0.7v0.7h-0.7zM209.4 289.4h0.7v0.7h-0.7zM189.5 290.7h0.7v0.7h-0.7zM187.0 275.3h0.7v0.7h-0.7zM202.7 271.4h0.7v0.7h-0.7zM198.6 286.1h0.7v0.7h-0.7zM205.6 287.4h0.7v0.7h-0.7zM185.4 274.3h0.7v0.7h-0.7zM194.9 295.4h0.7v0.7h-0.7zM206.7 271.9h0.7v0.7h-0.7zM201.9 278.6h0.7v0.7h-0.7zM211.0 278.3h0.7v0.7h-0.7zM210.7 272.2h0.7v0.7h-0.7zM209.4 280.3h0.7v0.7h-0.7zM202.1 290.4h0.7v0.7h-0.7zM187.3 291.2h0.7v0.7h-0.7zM190.7 271.9h0.7v0.7h-0.7zM207.7 294.9h0.7v0.7h-0.7zM199.4 294.3h0.7v0.7h-0.7zM205.4 275.9h0.7v0.7h-0.7zM198.6 277.9h0.7v0.7h-0.7zM196.8 293.5h0.7v0.7h-0.7zM198.9 292.0h0.7v0.7h-0.7zM193.7 287.9h0.7v0.7h-0.7zM203.8 271.9h0.7v0.7h-0.7zM187.4 290.9h0.7v0.7h-0.7zM205.5 289.6h0.7v0.7h-0.7zM201.7 270.2h0.7v0.7h-0.7zM203.1 280.9h0.7v0.7h-0.7zM210.8 284.6h0.7v0.7h-0.7zM204.6 278.9h0.7v0.7h-0.7zM185.5 290.5h0.7v0.7h-0.7zM201.9 295.8h0.7v0.7h-0.7zM195.1 273.9h0.7v0.7h-0.7zM207.4 272.8h0.7v0.7h-0.7zM201.2 280.6h0.7v0.7h-0.7zM204.5 293.3h0.7v0.7h-0.7zM205.5 289.8h0.7v0.7h-0.7zM190.9 283.7h0.7v0.7h-0.7zM197.3 283.8h0.7v0.7h-0.7zM210.7 292.9h0.7v0.7h-0.7zM203.5 292.5h0.7v0.7h-0.7zM203.4 290.2h0.7v0.7h-0.7zM185.3 292.4h0.7v0.7h-0.7zM190.7 276.5h0.7v0.7h-0.7zM196.0 283.3h0.7v0.7h-0.7zM211.0 281.9h0.7v0.7h-0.7zM186.1 289.7h0.7v0.7h-0.7zM199.0 277.5h0.7v0.7h-0.7zM195.6 290.4h0.7v0.7h-0.7zM195.7 277.7h0.7v0.7h-0.7zM196.3 277.9h0.7v0.7h-0.7zM193.4 274.4h0.7v0.7h-0.7zM201.0 288.1h0.7v0.7h-0.7zM201.9 271.7h0.7v0.7h-0.7zM188.1 278.0h0.7v0.7h-0.7zM187.0 287.4h0.7v0.7h-0.7zM190.8 279.3h0.7v0.7h-0.7zM200.6 284.7h0.7v0.7h-0.7zM205.3 289.9h0.7v0.7h-0.7zM198.4 283.1h0.7v0.7h-0.7zM189.4 283.5h0.7v0.7h-0.7zM195.8 280.3h0.7v0.7h-0.7zM185.4 290.7h0.7v0.7h-0.7zM189.2 280.4h0.7v0.7h-0.7zM203.6 285.3h0.7v0.7h-0.7zM202.3 274.9h0.7v0.7h-0.7zM204.9 271.1h0.7v0.7h-0.7zM204.8 289.7h0.7v0.7h-0.7zM192.8 276.9h0.7v0.7h-0.7zM190.9 287.2h0.7v0.7h-0.7zM193.1 277.9h0.7v0.7h-0.7zM190.6 290.4h0.7v0.7h-0.7zM205.6 292.2h0.7v0.7h-0.7zM188.1 280.9h0.7v0.7h-0.7zM194.5 289.8h0.7v0.7h-0.7zM185.3 288.8h0.7v0.7h-0.7zM191.9 294.2h0.7v0.7h-0.7zM185.8 288.1h0.7v0.7h-0.7z" fill="#50c0c0" fill-opacity="0.6"/>
<path d="M187.7 273.4h0.7v0.7h-0.7zM185.3 269.9h0.7v0.7h-0.7zM188.7 271.7h0.7v0.7h-0.7zM189.0 268.2h0.7v0.7h-0.7zM189.1 273.8h0.7v0.7h-0.7zM189.3 270.6h0.7v0.7h-0.7zM195.2 271.6h0.7v0.7h-0.7zM188.5 272.2h0.7v0.7h-0.7zM191.9 268.8h0.7v0.7h-0.7zM197.6 276.5h0.7v0.7h-0.7zM189.8 270.7h0.7v0.7h-0.7zM185.4 271.5h0.7v0.7h-0.7zM192.7 276.0h0.7v0.7h-0.7zM194.6 267.6h0.7v0.7h-0.7zM191.7 277.7h0.7v0.7h-0.7zM186.1 275.5h0.7v0.7h-0.7zM199.3 266.1h0.7v0.7h-0.7zM187.1 271.3h0.7v0.7h-0.7zM192.0 276.4h0.7v0.7h-0.7zM188.3 272.5h0.7v0.7h-0.7zM193.7 273.9h0.7v0.7h-0.7zM189.4 273.4h0.7v0.7h-0.7zM199.0 272.5h0.7v0.7h-0.7zM189.6 272.0h0.7v0.7h-0.7zM189.9 269.8h0.7v0.7h-0.7zM192.7 270.4h0.7v0.7h-0.7zM189.3 265.6h0.7v0.7h-0.7zM187.9 274.2h0.7v0.7h-0.7zM190.2 270.3h0.7v0.7h-0.7zM193.8 276.4h0.7v0.7h-0.7z" fill="#40a040" fill-opacity="0.6"/>
<path d="M186.7 268.9h0.7v0.7h-0.7zM192.6 269.0h0.7v0.7h-0.7zM191.3 266.8h0.7v0.7h-0.7zM192.1 263.9h0.7v0.7h-0.7zM188.8 264.9h0.7v0.7h-0.7zM192.0 267.6h0.7v0.7h-0.7zM187.3 263.1h0.7v0.7h-0.7zM191.8 268.7h0.7v0.7h-0.7zM193.1 269.9h0.7v0.7h-0.7zM197.1 264.3h0.7v0.7h-0.7zM199.6 265.9h0.7v0.7h-0.7zM189.3 267.9h0.7v0.7h-0.7zM197.1 262.8h0.7v0.7h-0.7zM200.0 267.0h0.7v0.7h-0.7zM199.8 268.8h0.7v0.7h-0.7zM188.1 269.1h0.7v0.7h-0.7zM185.4 269.4h0.7v0.7h-0.7zM189.2 269.1h0.7v0.7h-0.7zM191.0 261.1h0.7v0.7h-0.7zM185.4 268.7h0.7v0.7h-0.7zM198.0 268.5h0.7v0.7h-0.7zM190.8 262.8h0.7v0.7h-0.7zM190.7 267.5h0.7v0.7h-0.7zM201.4 262.6h0.7v0.7h-0.7zM187.9 266.6h0.7v0.7h-0.7zM187.5 262.6h0.7v0.7h-0.7zM196.0 264.6h0.7v0.7h-0.7zM187.8 269.0h0.7v0.7h-0.7zM196.4 268.2h0.7v0.7h-0.7zM188.6 266.4h0.7v0.7h-0.7zM191.4 266.0h0.7v0.7h-0.7zM199.6 270.0h0.7v0.7h-0.7zM186.1 261.2h0.7v0.7h-0.7zM191.0 265.3h0.7v0.7h-0.7zM189.1 268.4h0.7v0.7h-0.7zM192.7 261.4h0.7v0.7h-0.7zM201.1 261.4h0.7v0.7h-0.7zM187.9 269.5h0.7v0.7h-0.7zM195.0 269.9h0.7v0.7h-0.7zM199.9 269.6h0.7v0.7h-0.7z" fill="#c860c8" fill-opacity="0.6"/>
<path d="M186.5 296.2h0.7v0.7h-0.7zM199.4 294.8h0.7v0.7h-0.7zM197.0 288.2h0.7v0.7h-0.7zM203.8 296.1h0.7v0.7h-0.7zM195.6 295.4h0.7v0.7h-0.7zM194.3 295.5h0.7v0.7h-0.7zM205.7 289.8h0.7v0.7h-0.7zM195.8 296.0h0.7v0.7h-0.7zM189.8 291.6h0.7v0.7h-0.7zM202.7 289.1h0.7v0.7h-0.7zM192.6 290.4h0.7v0.7h-0.7zM193.5 291.3h0.7v0.7h-0.7zM196.2 295.5h0.7v0.7h-0.7zM190.6 288.2h0.7v0.7h-0.7zM199.2 290.5h0.7v0.7h-0.7zM200.3 290.3h0.7v0.7h-0.7zM192.5 296.6h0.7v0.7h-0.7zM194.7 290.3h0.7v0.7h-0.7zM201.7 293.4h0.7v0.7h-0.7zM186.8 293.7h0.7v0.7h-0.7zM203.3 292.0h0.7v0.7h-0.7zM186.8 296.8h0.7v0.7h-0.7zM204.9 294.2h0.7v0.7h-0.7zM193.4 289.1h0.7v0.7h-0.7zM204.5 295.0h0.7v0.7h-0.7z" fill="#e04848" fill-opacity="0.5"/>
<path d="M167.7 266.8h0.7v0.7h-0.7zM168.2 265.7h0.7v0.7h-0.7zM174.9 263.4h0.7v0.7h-0.7zM172.7 265.3h0.7v0.7h-0.7zM169.5 263.9h0.7v0.7h-0.7zM172.4 264.2h0.7v0.7h-0.7zM173.7 263.1h0.7v0.7h-0.7zM169.7 265.6h0.7v0.7h-0.7zM166.8 266.4h0.7v0.7h-0.7zM173.1 266.9h0.7v0.7h-0.7zM168.5 265.8h0.7v0.7h-0.7zM170.5 266.3h0.7v0.7h-0.7zM168.1 267.6h0.7v0.7h-0.7zM175.6 266.2h0.7v0.7h-0.7zM166.8 266.2h0.7v0.7h-0.7zM172.4 269.5h0.7v0.7h-0.7zM165.8 268.9h0.7v0.7h-0.7zM168.0 264.5h0.7v0.7h-0.7zM168.6 265.9h0.7v0.7h-0.7zM169.4 267.3h0.7v0.7h-0.7zM168.9 267.3h0.7v0.7h-0.7zM175.0 266.1h0.7v0.7h-0.7zM166.5 267.9h0.7v0.7h-0.7zM166.4 269.7h0.7v0.7h-0.7zM174.8 266.1h0.7v0.7h-0.7zM171.6 268.1h0.7v0.7h-0.7zM175.8 266.7h0.7v0.7h-0.7zM170.0 269.3h0.7v0.7h-0.7zM171.3 265.3h0.7v0.7h-0.7zM166.6 264.7h0.7v0.7h-0.7zM172.7 263.8h0.7v0.7h-0.7zM174.0 269.8h0.7v0.7h-0.7zM174.4 264.7h0.7v0.7h-0.7zM170.4 264.6h0.7v0.7h-0.7zM171.6 269.9h0.7v0.7h-0.7zM173.8 264.7h0.7v0.7h-0.7zM168.2 268.3h0.7v0.7h-0.7zM175.8 267.2h0.7v0.7h-0.7zM175.3 264.5h0.7v0.7h-0.7zM167.9 265.6h0.7v0.7h-0.7z" fill="#cc44cc" fill-opacity="0.6"/>
<rect x="173.40" y="263.70" width="16.60" height="6.20" rx="1.12" fill="#cc44cc"/>
<path d="M189.3 265.5h0.8v0.8h-0.8zM191.3 267.0h0.8v0.8h-0.8zM188.8 267.2h0.8v0.8h-0.8zM190.0 264.5h0.8v0.8h-0.8zM189.5 267.9h0.8v0.8h-0.8zM190.5 266.8h0.8v0.8h-0.8zM191.0 264.5h0.8v0.8h-0.8zM189.2 266.8h0.8v0.8h-0.8zM190.7 265.7h0.8v0.8h-0.8zM191.6 267.8h0.8v0.8h-0.8zM191.7 268.7h0.8v0.8h-0.8zM190.9 267.1h0.8v0.8h-0.8zM191.7 266.7h0.8v0.8h-0.8zM191.7 268.8h0.8v0.8h-0.8zM190.8 267.3h0.8v0.8h-0.8z" fill="#cc44cc" fill-opacity="0.8"/>
<path d="M172.2 265.2h0.8v0.8h-0.8zM173.9 265.4h0.8v0.8h-0.8zM174.1 265.9h0.8v0.8h-0.8zM174.5 265.2h0.8v0.8h-0.8zM174.8 265.5h0.8v0.8h-0.8zM172.5 268.6h0.8v0.8h-0.8zM174.1 267.5h0.8v0.8h-0.8zM172.7 266.8h0.8v0.8h-0.8zM172.3 267.2h0.8v0.8h-0.8zM174.1 266.5h0.8v0.8h-0.8z" fill="#cc44cc" fill-opacity="0.7"/>
<path d="M183.2 267.9h0.7v0.7h-0.7zM185.7 268.2h0.7v0.7h-0.7zM183.8 267.4h0.7v0.7h-0.7zM186.0 266.0h0.7v0.7h-0.7zM179.9 269.1h0.7v0.7h-0.7zM185.9 267.9h0.7v0.7h-0.7zM176.0 265.8h0.7v0.7h-0.7zM178.7 265.5h0.7v0.7h-0.7zM174.7 269.0h0.7v0.7h-0.7zM173.1 267.7h0.7v0.7h-0.7zM190.4 265.8h0.7v0.7h-0.7zM186.6 266.9h0.7v0.7h-0.7zM183.9 266.3h0.7v0.7h-0.7zM175.2 268.7h0.7v0.7h-0.7zM179.9 267.1h0.7v0.7h-0.7zM181.7 266.1h0.7v0.7h-0.7zM178.1 266.7h0.7v0.7h-0.7zM177.7 269.3h0.7v0.7h-0.7zM180.9 266.5h0.7v0.7h-0.7zM189.9 266.0h0.7v0.7h-0.7z" fill="#fff" fill-opacity="0.55"/>
<rect x="164.20" y="268.70" width="21.50" height="8.30" rx="1.12" fill="#1c8c1c"/>
<path d="M185.1 276.2h0.8v0.8h-0.8zM184.4 272.5h0.8v0.8h-0.8zM184.9 275.2h0.8v0.8h-0.8zM185.8 271.3h0.8v0.8h-0.8zM184.6 275.9h0.8v0.8h-0.8zM184.5 273.3h0.8v0.8h-0.8zM184.7 269.9h0.8v0.8h-0.8zM184.6 271.6h0.8v0.8h-0.8zM187.2 271.3h0.8v0.8h-0.8zM186.9 274.7h0.8v0.8h-0.8zM185.7 274.6h0.8v0.8h-0.8zM186.1 272.6h0.8v0.8h-0.8zM184.6 273.1h0.8v0.8h-0.8zM187.2 275.0h0.8v0.8h-0.8zM186.0 271.3h0.8v0.8h-0.8zM186.4 276.2h0.8v0.8h-0.8zM187.3 273.7h0.8v0.8h-0.8zM187.0 274.4h0.8v0.8h-0.8zM186.1 276.2h0.8v0.8h-0.8zM187.0 272.9h0.8v0.8h-0.8zM186.6 275.3h0.8v0.8h-0.8z" fill="#1c8c1c" fill-opacity="0.8"/>
<path d="M163.8 273.5h0.8v0.8h-0.8zM164.5 276.2h0.8v0.8h-0.8zM165.5 276.5h0.8v0.8h-0.8zM164.5 274.9h0.8v0.8h-0.8zM163.4 269.3h0.8v0.8h-0.8zM163.5 271.8h0.8v0.8h-0.8zM164.6 274.2h0.8v0.8h-0.8zM164.4 271.5h0.8v0.8h-0.8zM162.9 273.5h0.8v0.8h-0.8zM163.0 273.9h0.8v0.8h-0.8zM164.9 269.9h0.8v0.8h-0.8zM164.5 276.2h0.8v0.8h-0.8zM164.2 273.6h0.8v0.8h-0.8zM165.3 271.7h0.8v0.8h-0.8z" fill="#1c8c1c" fill-opacity="0.7"/>
<path d="M163.8 270.6h0.7v0.7h-0.7zM168.5 273.5h0.7v0.7h-0.7zM167.7 271.9h0.7v0.7h-0.7zM185.9 272.9h0.7v0.7h-0.7zM182.1 273.3h0.7v0.7h-0.7zM181.9 269.4h0.7v0.7h-0.7zM179.3 269.8h0.7v0.7h-0.7zM174.1 272.6h0.7v0.7h-0.7zM167.6 271.7h0.7v0.7h-0.7zM168.1 273.5h0.7v0.7h-0.7z" fill="#fff" fill-opacity="0.55"/>
<rect x="162.10" y="275.80" width="22.90" height="6.90" rx="0.70" fill="#0e0eb8"/>
<path d="M183.7 281.8h0.8v0.8h-0.8zM183.9 280.6h0.8v0.8h-0.8zM183.9 276.4h0.8v0.8h-0.8zM184.8 281.0h0.8v0.8h-0.8zM183.6 279.6h0.8v0.8h-0.8zM186.3 279.2h0.8v0.8h-0.8zM185.1 277.4h0.8v0.8h-0.8zM186.1 278.7h0.8v0.8h-0.8zM183.7 282.1h0.8v0.8h-0.8zM184.7 278.8h0.8v0.8h-0.8zM186.2 277.8h0.8v0.8h-0.8zM185.2 278.8h0.8v0.8h-0.8zM183.7 281.8h0.8v0.8h-0.8zM185.4 281.5h0.8v0.8h-0.8zM186.5 279.2h0.8v0.8h-0.8zM185.7 280.3h0.8v0.8h-0.8zM186.6 282.0h0.8v0.8h-0.8z" fill="#0e0eb8" fill-opacity="0.8"/>
<path d="M162.5 278.7h0.8v0.8h-0.8zM162.8 281.5h0.8v0.8h-0.8zM162.6 276.3h0.8v0.8h-0.8zM163.0 278.7h0.8v0.8h-0.8zM162.0 276.6h0.8v0.8h-0.8zM161.0 278.6h0.8v0.8h-0.8zM163.2 281.0h0.8v0.8h-0.8zM162.5 280.2h0.8v0.8h-0.8zM162.1 277.3h0.8v0.8h-0.8zM163.0 278.5h0.8v0.8h-0.8zM162.8 281.0h0.8v0.8h-0.8z" fill="#0e0eb8" fill-opacity="0.7"/>
<rect x="162.60" y="281.50" width="21.40" height="8.30" rx="0.70" fill="#3cc4c4"/>
<path d="M183.9 282.8h0.8v0.8h-0.8zM183.5 287.8h0.8v0.8h-0.8zM185.6 286.4h0.8v0.8h-0.8zM182.6 283.9h0.8v0.8h-0.8zM184.5 283.0h0.8v0.8h-0.8zM183.7 288.0h0.8v0.8h-0.8zM183.4 286.7h0.8v0.8h-0.8zM183.6 284.2h0.8v0.8h-0.8zM184.4 284.1h0.8v0.8h-0.8zM184.1 287.6h0.8v0.8h-0.8zM185.7 282.1h0.8v0.8h-0.8zM183.7 287.1h0.8v0.8h-0.8zM183.8 287.1h0.8v0.8h-0.8zM184.0 283.2h0.8v0.8h-0.8zM184.5 284.3h0.8v0.8h-0.8zM185.6 286.0h0.8v0.8h-0.8zM184.8 282.7h0.8v0.8h-0.8zM183.6 283.4h0.8v0.8h-0.8zM184.4 282.5h0.8v0.8h-0.8zM183.6 283.8h0.8v0.8h-0.8zM183.6 286.8h0.8v0.8h-0.8z" fill="#3cc4c4" fill-opacity="0.8"/>
<path d="M163.4 283.1h0.8v0.8h-0.8zM161.7 283.9h0.8v0.8h-0.8zM163.3 284.6h0.8v0.8h-0.8zM163.6 282.7h0.8v0.8h-0.8zM161.7 284.5h0.8v0.8h-0.8zM161.5 284.2h0.8v0.8h-0.8zM161.8 288.9h0.8v0.8h-0.8zM163.7 282.7h0.8v0.8h-0.8zM162.3 283.2h0.8v0.8h-0.8zM163.3 286.7h0.8v0.8h-0.8zM163.7 282.3h0.8v0.8h-0.8zM163.0 282.5h0.8v0.8h-0.8zM162.6 282.0h0.8v0.8h-0.8zM161.5 284.7h0.8v0.8h-0.8z" fill="#3cc4c4" fill-opacity="0.7"/>
<rect x="162.60" y="288.60" width="21.70" height="8.40" rx="1.12" fill="#f21818"/>
<path d="M184.9 295.2h0.8v0.8h-0.8zM185.4 294.7h0.8v0.8h-0.8zM184.0 291.4h0.8v0.8h-0.8zM185.2 295.5h0.8v0.8h-0.8zM184.5 291.3h0.8v0.8h-0.8zM186.0 291.8h0.8v0.8h-0.8zM185.3 291.7h0.8v0.8h-0.8zM183.2 293.6h0.8v0.8h-0.8zM184.8 292.7h0.8v0.8h-0.8zM185.3 295.9h0.8v0.8h-0.8zM184.2 293.6h0.8v0.8h-0.8zM185.2 296.0h0.8v0.8h-0.8zM184.5 289.4h0.8v0.8h-0.8zM183.5 290.8h0.8v0.8h-0.8zM186.0 293.7h0.8v0.8h-0.8zM185.2 293.8h0.8v0.8h-0.8zM185.2 293.2h0.8v0.8h-0.8zM184.5 289.7h0.8v0.8h-0.8zM185.4 291.7h0.8v0.8h-0.8zM184.0 293.4h0.8v0.8h-0.8zM183.0 293.9h0.8v0.8h-0.8zM184.0 295.5h0.8v0.8h-0.8z" fill="#f21818" fill-opacity="0.8"/>
<path d="M162.2 290.2h0.8v0.8h-0.8zM162.0 289.9h0.8v0.8h-0.8zM162.4 294.5h0.8v0.8h-0.8zM163.1 295.0h0.8v0.8h-0.8zM162.6 289.4h0.8v0.8h-0.8zM161.8 295.3h0.8v0.8h-0.8zM161.6 294.8h0.8v0.8h-0.8zM163.8 291.8h0.8v0.8h-0.8zM162.5 295.6h0.8v0.8h-0.8zM161.4 290.1h0.8v0.8h-0.8zM163.0 296.1h0.8v0.8h-0.8zM163.9 289.1h0.8v0.8h-0.8zM163.5 291.1h0.8v0.8h-0.8zM162.2 296.2h0.8v0.8h-0.8z" fill="#f21818" fill-opacity="0.7"/>
<rect x="184.80" y="254.00" width="81.20" height="53.40" fill="none" stroke="#333" stroke-width="0.75"/>
<text x="185.00" y="247.50" font-size="7.2" font-weight="bold" fill="#111" text-anchor="start">CD8<tspan font-size="4.6" dy="-2.6">+</tspan><tspan dy="2.6">EV</tspan></text>
<path d="M161.00 216.20H275.90V330.60" fill="none" stroke="#6a6a6a" stroke-width="1"/>
<path d="M161.00 216.20V330.60H275.90" fill="none" stroke="#333" stroke-width="1"/>
<path d="M161.00 330.60v2.8M169.65 330.60v1.9M174.71 330.60v1.9M178.29 330.60v1.9M181.08 330.60v1.9M183.35 330.60v1.9M185.28 330.60v1.9M186.94 330.60v1.9M188.41 330.60v1.9M189.72 330.60v2.8M198.37 330.60v1.9M203.43 330.60v1.9M207.02 330.60v1.9M209.80 330.60v1.9M212.08 330.60v1.9M214.00 330.60v1.9M215.67 330.60v1.9M217.14 330.60v1.9M218.45 330.60v2.8M227.10 330.60v1.9M232.16 330.60v1.9M235.74 330.60v1.9M238.53 330.60v1.9M240.80 330.60v1.9M242.73 330.60v1.9M244.39 330.60v1.9M245.86 330.60v1.9M247.17 330.60v2.8M255.82 330.60v1.9M260.88 330.60v1.9M264.47 330.60v1.9M267.25 330.60v1.9M269.53 330.60v1.9M271.45 330.60v1.9M273.12 330.60v1.9M274.59 330.60v1.9M275.90 330.60v2.8M161.00 330.60h-2.8M161.00 323.71h-1.9M161.00 319.68h-1.9M161.00 316.82h-1.9M161.00 314.61h-1.9M161.00 312.80h-1.9M161.00 311.26h-1.9M161.00 309.94h-1.9M161.00 308.77h-1.9M161.00 307.72h-2.8M161.00 300.83h-1.9M161.00 296.80h-1.9M161.00 293.94h-1.9M161.00 291.73h-1.9M161.00 289.92h-1.9M161.00 288.38h-1.9M161.00 287.06h-1.9M161.00 285.89h-1.9M161.00 284.84h-2.8M161.00 277.95h-1.9M161.00 273.92h-1.9M161.00 271.06h-1.9M161.00 268.85h-1.9M161.00 267.04h-1.9M161.00 265.50h-1.9M161.00 264.18h-1.9M161.00 263.01h-1.9M161.00 261.96h-2.8M161.00 255.07h-1.9M161.00 251.04h-1.9M161.00 248.18h-1.9M161.00 245.97h-1.9M161.00 244.16h-1.9M161.00 242.62h-1.9M161.00 241.30h-1.9M161.00 240.13h-1.9M161.00 239.08h-2.8M161.00 232.19h-1.9M161.00 228.16h-1.9M161.00 225.30h-1.9M161.00 223.09h-1.9M161.00 221.28h-1.9M161.00 219.74h-1.9M161.00 218.42h-1.9M161.00 217.25h-1.9M161.00 216.20h-2.8" stroke="#333" stroke-width="0.75" fill="none"/>
<g transform="translate(161.80 341.20) scale(0.86 1)"><text x="0" y="0" font-size="6.7" fill="#222" text-anchor="middle">10<tspan font-size="4.2" dy="-3.0">2</tspan></text></g>
<g transform="translate(190.53 341.20) scale(0.86 1)"><text x="0" y="0" font-size="6.7" fill="#222" text-anchor="middle">10<tspan font-size="4.2" dy="-3.0">3</tspan></text></g>
<g transform="translate(219.25 341.20) scale(0.86 1)"><text x="0" y="0" font-size="6.7" fill="#222" text-anchor="middle">10<tspan font-size="4.2" dy="-3.0">4</tspan></text></g>
<g transform="translate(247.97 341.20) scale(0.86 1)"><text x="0" y="0" font-size="6.7" fill="#222" text-anchor="middle">10<tspan font-size="4.2" dy="-3.0">5</tspan></text></g>
<g transform="translate(276.70 341.20) scale(0.86 1)"><text x="0" y="0" font-size="6.7" fill="#222" text-anchor="middle">10<tspan font-size="4.2" dy="-3.0">6</tspan></text></g>
<g transform="translate(155.50 329.40) rotate(-90) scale(0.86 1)"><text x="0" y="0" font-size="6.7" fill="#222" text-anchor="middle">10<tspan font-size="4.2" dy="-3.0">2</tspan></text></g>
<g transform="translate(155.50 306.52) rotate(-90) scale(0.86 1)"><text x="0" y="0" font-size="6.7" fill="#222" text-anchor="middle">10<tspan font-size="4.2" dy="-3.0">3</tspan></text></g>
<g transform="translate(155.50 283.64) rotate(-90) scale(0.86 1)"><text x="0" y="0" font-size="6.7" fill="#222" text-anchor="middle">10<tspan font-size="4.2" dy="-3.0">4</tspan></text></g>
<g transform="translate(155.50 260.76) rotate(-90) scale(0.86 1)"><text x="0" y="0" font-size="6.7" fill="#222" text-anchor="middle">10<tspan font-size="4.2" dy="-3.0">5</tspan></text></g>
<g transform="translate(155.50 237.88) rotate(-90) scale(0.86 1)"><text x="0" y="0" font-size="6.7" fill="#222" text-anchor="middle">10<tspan font-size="4.2" dy="-3.0">6</tspan></text></g>
<g transform="translate(155.50 215.00) rotate(-90) scale(0.86 1)"><text x="0" y="0" font-size="6.7" fill="#222" text-anchor="middle">10<tspan font-size="4.2" dy="-3.0">7</tspan></text></g>
<text x="218.45" y="348.20" font-size="5.8" fill="#222" text-anchor="middle">CD8 PC5.5-H</text>
<text x="147.60" y="273.70" font-size="6.0" fill="#222" text-anchor="middle" transform="rotate(-90 147.60 273.70)">Violet SSC-H</text>
<text x="300.00" y="194.50" font-size="11.3" font-weight="bold" fill="#000" text-anchor="start">F</text>
<text x="355.50" y="212.40" font-size="7.4" font-weight="bold" fill="#111" text-anchor="middle">PBT True-EV</text>
<path d="M310.0 268.8h0.6v0.6h-0.6zM323.2 265.4h0.6v0.6h-0.6zM331.2 268.5h0.6v0.6h-0.6zM315.3 270.9h0.6v0.6h-0.6zM308.7 267.2h0.6v0.6h-0.6zM313.9 266.4h0.6v0.6h-0.6zM328.0 270.1h0.6v0.6h-0.6zM326.9 265.6h0.6v0.6h-0.6zM333.3 267.9h0.6v0.6h-0.6zM333.4 270.1h0.6v0.6h-0.6zM315.9 265.4h0.6v0.6h-0.6zM325.3 269.7h0.6v0.6h-0.6zM329.5 267.7h0.6v0.6h-0.6zM331.8 266.8h0.6v0.6h-0.6zM324.3 265.2h0.6v0.6h-0.6zM335.9 265.5h0.6v0.6h-0.6zM334.6 263.6h0.6v0.6h-0.6zM314.5 267.3h0.6v0.6h-0.6zM312.1 268.3h0.6v0.6h-0.6zM312.1 270.8h0.6v0.6h-0.6zM314.0 268.0h0.6v0.6h-0.6zM311.1 267.1h0.6v0.6h-0.6zM313.0 270.2h0.6v0.6h-0.6zM333.2 268.5h0.6v0.6h-0.6zM326.1 266.2h0.6v0.6h-0.6zM323.3 264.2h0.6v0.6h-0.6zM327.9 263.4h0.6v0.6h-0.6zM324.9 266.1h0.6v0.6h-0.6zM328.0 269.4h0.6v0.6h-0.6zM310.1 264.8h0.6v0.6h-0.6zM325.4 269.4h0.6v0.6h-0.6zM311.5 269.7h0.6v0.6h-0.6zM319.5 268.0h0.6v0.6h-0.6zM317.5 265.4h0.6v0.6h-0.6zM322.7 270.4h0.6v0.6h-0.6zM327.3 270.4h0.6v0.6h-0.6zM309.1 268.9h0.6v0.6h-0.6zM327.8 269.7h0.6v0.6h-0.6zM323.5 268.9h0.6v0.6h-0.6zM312.4 266.7h0.6v0.6h-0.6zM323.8 269.7h0.6v0.6h-0.6zM328.0 263.8h0.6v0.6h-0.6zM325.7 264.5h0.6v0.6h-0.6zM315.5 267.0h0.6v0.6h-0.6zM317.8 270.6h0.6v0.6h-0.6zM325.1 266.2h0.6v0.6h-0.6zM330.3 267.2h0.6v0.6h-0.6zM331.6 270.1h0.6v0.6h-0.6zM329.4 267.4h0.6v0.6h-0.6zM324.5 267.6h0.6v0.6h-0.6zM335.4 269.0h0.6v0.6h-0.6zM325.9 265.2h0.6v0.6h-0.6zM326.5 264.8h0.6v0.6h-0.6zM317.8 270.8h0.6v0.6h-0.6zM331.2 264.1h0.6v0.6h-0.6zM316.4 264.5h0.6v0.6h-0.6zM319.7 268.8h0.6v0.6h-0.6zM332.8 268.9h0.6v0.6h-0.6zM315.2 269.6h0.6v0.6h-0.6zM328.9 265.8h0.6v0.6h-0.6zM315.6 267.9h0.6v0.6h-0.6zM309.9 264.7h0.6v0.6h-0.6zM335.5 264.8h0.6v0.6h-0.6zM326.8 268.9h0.6v0.6h-0.6zM314.5 270.7h0.6v0.6h-0.6zM312.7 269.9h0.6v0.6h-0.6zM332.3 268.0h0.6v0.6h-0.6zM317.4 266.9h0.6v0.6h-0.6zM328.9 265.6h0.6v0.6h-0.6zM326.6 268.2h0.6v0.6h-0.6zM327.4 263.6h0.6v0.6h-0.6zM330.5 266.2h0.6v0.6h-0.6zM332.9 266.3h0.6v0.6h-0.6zM314.3 266.8h0.6v0.6h-0.6zM311.8 265.2h0.6v0.6h-0.6zM308.9 265.0h0.6v0.6h-0.6zM326.3 264.1h0.6v0.6h-0.6zM333.1 265.7h0.6v0.6h-0.6zM318.1 266.6h0.6v0.6h-0.6zM333.0 263.6h0.6v0.6h-0.6zM330.3 265.0h0.6v0.6h-0.6zM310.7 268.0h0.6v0.6h-0.6zM321.4 269.7h0.6v0.6h-0.6zM321.4 270.1h0.6v0.6h-0.6zM321.8 264.9h0.6v0.6h-0.6zM327.8 270.7h0.6v0.6h-0.6zM318.4 269.2h0.6v0.6h-0.6zM324.2 264.4h0.6v0.6h-0.6zM312.4 267.0h0.6v0.6h-0.6zM334.6 265.4h0.6v0.6h-0.6z" fill="#cc44cc" fill-opacity="0.7"/>
<path d="M308.1 272.8h0.6v0.6h-0.6zM310.3 273.2h0.6v0.6h-0.6zM310.6 270.9h0.6v0.6h-0.6zM301.9 273.1h0.6v0.6h-0.6zM310.7 275.3h0.6v0.6h-0.6zM309.5 273.2h0.6v0.6h-0.6zM301.8 270.4h0.6v0.6h-0.6zM306.1 273.8h0.6v0.6h-0.6zM311.2 275.6h0.6v0.6h-0.6zM304.2 271.3h0.6v0.6h-0.6zM304.0 275.7h0.6v0.6h-0.6zM309.6 272.7h0.6v0.6h-0.6zM309.2 275.1h0.6v0.6h-0.6zM312.1 275.0h0.6v0.6h-0.6zM309.0 271.7h0.6v0.6h-0.6zM309.0 271.7h0.6v0.6h-0.6zM309.5 274.4h0.6v0.6h-0.6zM306.3 275.2h0.6v0.6h-0.6zM314.5 273.8h0.6v0.6h-0.6zM303.6 272.7h0.6v0.6h-0.6zM307.5 272.1h0.6v0.6h-0.6zM302.0 275.0h0.6v0.6h-0.6zM314.1 271.3h0.6v0.6h-0.6zM312.8 271.6h0.6v0.6h-0.6zM310.5 275.9h0.6v0.6h-0.6zM305.7 271.0h0.6v0.6h-0.6zM307.6 270.9h0.6v0.6h-0.6zM312.3 271.5h0.6v0.6h-0.6zM308.9 273.4h0.6v0.6h-0.6zM301.0 275.2h0.6v0.6h-0.6zM307.5 272.0h0.6v0.6h-0.6zM313.8 272.2h0.6v0.6h-0.6zM312.3 274.6h0.6v0.6h-0.6zM311.3 273.1h0.6v0.6h-0.6zM303.5 274.3h0.6v0.6h-0.6zM312.8 271.0h0.6v0.6h-0.6zM312.4 271.7h0.6v0.6h-0.6zM310.8 271.0h0.6v0.6h-0.6zM302.2 274.9h0.6v0.6h-0.6zM306.8 271.2h0.6v0.6h-0.6z" fill="#1c8c1c" fill-opacity="0.5"/>
<rect x="318.60" y="264.50" width="10.80" height="6.80" rx="1.12" fill="#cc44cc"/>
<path d="M329.0 269.4h0.8v0.8h-0.8zM329.3 267.8h0.8v0.8h-0.8zM331.1 269.4h0.8v0.8h-0.8zM330.4 265.5h0.8v0.8h-0.8zM329.1 269.1h0.8v0.8h-0.8zM328.2 270.4h0.8v0.8h-0.8zM329.6 266.8h0.8v0.8h-0.8zM329.1 268.7h0.8v0.8h-0.8zM330.6 266.9h0.8v0.8h-0.8zM328.4 266.4h0.8v0.8h-0.8zM329.4 267.5h0.8v0.8h-0.8zM329.8 268.7h0.8v0.8h-0.8zM330.3 266.1h0.8v0.8h-0.8zM328.3 268.7h0.8v0.8h-0.8zM328.4 267.3h0.8v0.8h-0.8zM329.1 265.8h0.8v0.8h-0.8zM329.9 265.5h0.8v0.8h-0.8z" fill="#cc44cc" fill-opacity="0.8"/>
<path d="M318.0 268.0h0.8v0.8h-0.8zM319.4 265.3h0.8v0.8h-0.8zM319.8 266.1h0.8v0.8h-0.8zM318.2 266.0h0.8v0.8h-0.8zM318.6 265.1h0.8v0.8h-0.8zM318.5 268.6h0.8v0.8h-0.8zM319.2 267.1h0.8v0.8h-0.8zM319.2 270.1h0.8v0.8h-0.8zM319.7 266.8h0.8v0.8h-0.8zM317.6 269.2h0.8v0.8h-0.8zM317.5 269.7h0.8v0.8h-0.8z" fill="#cc44cc" fill-opacity="0.7"/>
<path d="M327.4 266.0h0.7v0.7h-0.7zM326.3 269.9h0.7v0.7h-0.7zM320.0 268.9h0.7v0.7h-0.7zM329.0 267.1h0.7v0.7h-0.7zM327.7 267.6h0.7v0.7h-0.7zM319.8 267.6h0.7v0.7h-0.7zM329.3 265.9h0.7v0.7h-0.7zM329.6 268.2h0.7v0.7h-0.7zM328.1 268.1h0.7v0.7h-0.7zM319.8 268.9h0.7v0.7h-0.7zM322.4 270.8h0.7v0.7h-0.7zM322.4 265.8h0.7v0.7h-0.7zM322.0 265.4h0.7v0.7h-0.7zM323.4 269.7h0.7v0.7h-0.7zM326.6 267.4h0.7v0.7h-0.7z" fill="#fff" fill-opacity="0.55"/>
<rect x="306.60" y="270.10" width="20.00" height="8.30" rx="1.05" fill="#1c8c1c"/>
<path d="M327.3 272.5h0.8v0.8h-0.8zM328.3 276.1h0.8v0.8h-0.8zM325.6 270.7h0.8v0.8h-0.8zM328.0 271.4h0.8v0.8h-0.8zM328.1 277.2h0.8v0.8h-0.8zM327.6 271.1h0.8v0.8h-0.8zM327.9 277.8h0.8v0.8h-0.8zM327.9 271.4h0.8v0.8h-0.8zM327.4 274.0h0.8v0.8h-0.8zM327.4 274.5h0.8v0.8h-0.8zM325.3 272.3h0.8v0.8h-0.8zM325.9 273.0h0.8v0.8h-0.8zM325.4 277.8h0.8v0.8h-0.8zM326.9 274.3h0.8v0.8h-0.8zM325.5 271.3h0.8v0.8h-0.8zM326.7 273.6h0.8v0.8h-0.8zM325.2 275.5h0.8v0.8h-0.8zM326.1 272.4h0.8v0.8h-0.8zM328.1 277.7h0.8v0.8h-0.8zM327.0 275.9h0.8v0.8h-0.8zM325.5 275.0h0.8v0.8h-0.8z" fill="#1c8c1c" fill-opacity="0.8"/>
<path d="M305.8 274.5h0.8v0.8h-0.8zM305.7 272.1h0.8v0.8h-0.8zM305.3 272.3h0.8v0.8h-0.8zM305.9 274.6h0.8v0.8h-0.8zM306.5 272.9h0.8v0.8h-0.8zM307.4 272.9h0.8v0.8h-0.8zM307.5 276.0h0.8v0.8h-0.8zM306.2 271.4h0.8v0.8h-0.8zM305.8 275.5h0.8v0.8h-0.8zM307.4 276.4h0.8v0.8h-0.8zM306.1 270.8h0.8v0.8h-0.8zM307.0 277.7h0.8v0.8h-0.8zM306.2 277.3h0.8v0.8h-0.8zM306.9 275.4h0.8v0.8h-0.8z" fill="#1c8c1c" fill-opacity="0.7"/>
<path d="M318.3 275.7h0.7v0.7h-0.7zM321.9 273.1h0.7v0.7h-0.7zM320.3 273.3h0.7v0.7h-0.7zM313.4 275.2h0.7v0.7h-0.7zM318.2 276.7h0.7v0.7h-0.7zM310.4 271.7h0.7v0.7h-0.7zM316.0 271.1h0.7v0.7h-0.7zM316.8 273.6h0.7v0.7h-0.7zM316.6 275.4h0.7v0.7h-0.7zM326.6 275.6h0.7v0.7h-0.7zM313.7 277.3h0.7v0.7h-0.7zM319.9 277.8h0.7v0.7h-0.7zM309.9 274.0h0.7v0.7h-0.7zM317.0 277.5h0.7v0.7h-0.7zM315.5 277.6h0.7v0.7h-0.7z" fill="#fff" fill-opacity="0.55"/>
<rect x="301.60" y="277.20" width="23.60" height="6.20" rx="0.70" fill="#0e0eb8"/>
<path d="M325.7 281.0h0.8v0.8h-0.8zM323.9 280.2h0.8v0.8h-0.8zM324.3 279.0h0.8v0.8h-0.8zM326.3 282.9h0.8v0.8h-0.8zM326.1 279.9h0.8v0.8h-0.8zM325.7 279.1h0.8v0.8h-0.8zM326.1 279.7h0.8v0.8h-0.8zM325.3 280.2h0.8v0.8h-0.8zM326.7 281.0h0.8v0.8h-0.8zM326.5 278.1h0.8v0.8h-0.8zM324.6 279.7h0.8v0.8h-0.8zM325.1 278.0h0.8v0.8h-0.8zM324.0 279.2h0.8v0.8h-0.8zM326.9 279.4h0.8v0.8h-0.8zM324.3 281.2h0.8v0.8h-0.8z" fill="#0e0eb8" fill-opacity="0.8"/>
<path d="M300.7 281.0h0.8v0.8h-0.8zM300.6 277.7h0.8v0.8h-0.8zM302.0 280.6h0.8v0.8h-0.8zM300.9 282.6h0.8v0.8h-0.8zM302.9 282.7h0.8v0.8h-0.8zM302.6 280.1h0.8v0.8h-0.8zM301.2 280.5h0.8v0.8h-0.8zM302.3 281.2h0.8v0.8h-0.8zM300.5 280.4h0.8v0.8h-0.8zM300.5 282.2h0.8v0.8h-0.8z" fill="#0e0eb8" fill-opacity="0.7"/>
<rect x="301.60" y="282.20" width="24.30" height="8.30" rx="0.70" fill="#3cc4c4"/>
<path d="M325.9 286.6h0.8v0.8h-0.8zM326.0 289.1h0.8v0.8h-0.8zM327.3 285.7h0.8v0.8h-0.8zM326.8 287.2h0.8v0.8h-0.8zM324.5 283.6h0.8v0.8h-0.8zM325.0 283.3h0.8v0.8h-0.8zM325.1 285.9h0.8v0.8h-0.8zM324.9 287.5h0.8v0.8h-0.8zM325.4 288.1h0.8v0.8h-0.8zM326.0 285.4h0.8v0.8h-0.8zM327.6 289.2h0.8v0.8h-0.8zM325.1 285.8h0.8v0.8h-0.8zM324.5 285.0h0.8v0.8h-0.8zM324.6 285.5h0.8v0.8h-0.8zM325.4 283.1h0.8v0.8h-0.8zM324.8 283.1h0.8v0.8h-0.8zM324.6 284.1h0.8v0.8h-0.8zM324.6 289.7h0.8v0.8h-0.8zM326.1 289.9h0.8v0.8h-0.8zM325.0 282.9h0.8v0.8h-0.8zM324.7 284.2h0.8v0.8h-0.8z" fill="#3cc4c4" fill-opacity="0.8"/>
<path d="M302.6 288.9h0.8v0.8h-0.8zM300.3 286.8h0.8v0.8h-0.8zM302.3 283.0h0.8v0.8h-0.8zM300.5 283.0h0.8v0.8h-0.8zM300.8 285.4h0.8v0.8h-0.8zM302.5 289.6h0.8v0.8h-0.8zM300.2 283.3h0.8v0.8h-0.8zM301.5 284.7h0.8v0.8h-0.8zM302.9 289.5h0.8v0.8h-0.8zM303.0 288.4h0.8v0.8h-0.8zM302.5 286.3h0.8v0.8h-0.8zM300.8 288.8h0.8v0.8h-0.8zM300.4 289.6h0.8v0.8h-0.8zM301.3 287.1h0.8v0.8h-0.8z" fill="#3cc4c4" fill-opacity="0.7"/>
<rect x="301.60" y="289.30" width="22.90" height="8.80" rx="1.12" fill="#f21818"/>
<path d="M324.7 293.8h0.8v0.8h-0.8zM325.8 292.9h0.8v0.8h-0.8zM325.4 292.7h0.8v0.8h-0.8zM325.2 292.2h0.8v0.8h-0.8zM325.3 292.6h0.8v0.8h-0.8zM324.7 295.5h0.8v0.8h-0.8zM325.8 292.1h0.8v0.8h-0.8zM325.5 294.9h0.8v0.8h-0.8zM325.9 290.3h0.8v0.8h-0.8zM325.4 293.9h0.8v0.8h-0.8zM324.7 290.3h0.8v0.8h-0.8zM325.7 290.8h0.8v0.8h-0.8zM326.2 297.1h0.8v0.8h-0.8zM324.5 294.6h0.8v0.8h-0.8zM325.3 290.0h0.8v0.8h-0.8zM325.0 293.9h0.8v0.8h-0.8zM326.3 292.1h0.8v0.8h-0.8zM325.0 296.7h0.8v0.8h-0.8zM324.4 292.1h0.8v0.8h-0.8zM325.2 293.0h0.8v0.8h-0.8zM323.8 297.0h0.8v0.8h-0.8zM324.6 292.8h0.8v0.8h-0.8zM323.2 292.3h0.8v0.8h-0.8z" fill="#f21818" fill-opacity="0.8"/>
<path d="M302.4 291.2h0.8v0.8h-0.8zM302.1 292.0h0.8v0.8h-0.8zM302.0 290.0h0.8v0.8h-0.8zM302.4 292.4h0.8v0.8h-0.8zM300.5 292.4h0.8v0.8h-0.8zM301.4 291.3h0.8v0.8h-0.8zM301.3 290.3h0.8v0.8h-0.8zM302.3 293.6h0.8v0.8h-0.8zM301.3 291.9h0.8v0.8h-0.8zM302.5 297.4h0.8v0.8h-0.8zM301.5 296.6h0.8v0.8h-0.8zM300.4 293.2h0.8v0.8h-0.8zM302.9 290.7h0.8v0.8h-0.8zM302.9 292.8h0.8v0.8h-0.8zM302.9 290.3h0.8v0.8h-0.8z" fill="#f21818" fill-opacity="0.7"/>
<rect x="328.50" y="252.30" width="78.20" height="53.60" fill="none" stroke="#333" stroke-width="0.75"/>
<text x="331.80" y="248.90" font-size="7.2" font-weight="bold" fill="#111" text-anchor="start">CD14<tspan font-size="4.6" dy="-2.6">+</tspan><tspan dy="2.6">EV</tspan></text>
<path d="M299.70 217.60H414.50V330.50" fill="none" stroke="#6a6a6a" stroke-width="1"/>
<path d="M299.70 217.60V330.50H414.50" fill="none" stroke="#333" stroke-width="1"/>
<path d="M299.70 330.50v2.8M308.34 330.50v1.9M313.39 330.50v1.9M316.98 330.50v1.9M319.76 330.50v1.9M322.03 330.50v1.9M323.95 330.50v1.9M325.62 330.50v1.9M327.09 330.50v1.9M328.40 330.50v2.8M337.04 330.50v1.9M342.09 330.50v1.9M345.68 330.50v1.9M348.46 330.50v1.9M350.73 330.50v1.9M352.65 330.50v1.9M354.32 330.50v1.9M355.79 330.50v1.9M357.10 330.50v2.8M365.74 330.50v1.9M370.79 330.50v1.9M374.38 330.50v1.9M377.16 330.50v1.9M379.43 330.50v1.9M381.35 330.50v1.9M383.02 330.50v1.9M384.49 330.50v1.9M385.80 330.50v2.8M394.44 330.50v1.9M399.49 330.50v1.9M403.08 330.50v1.9M405.86 330.50v1.9M408.13 330.50v1.9M410.05 330.50v1.9M411.72 330.50v1.9M413.19 330.50v1.9M414.50 330.50v2.8M299.70 330.50h-2.8M299.70 323.70h-1.9M299.70 319.73h-1.9M299.70 316.91h-1.9M299.70 314.72h-1.9M299.70 312.93h-1.9M299.70 311.42h-1.9M299.70 310.11h-1.9M299.70 308.95h-1.9M299.70 307.92h-2.8M299.70 301.12h-1.9M299.70 297.15h-1.9M299.70 294.33h-1.9M299.70 292.14h-1.9M299.70 290.35h-1.9M299.70 288.84h-1.9M299.70 287.53h-1.9M299.70 286.37h-1.9M299.70 285.34h-2.8M299.70 278.54h-1.9M299.70 274.57h-1.9M299.70 271.75h-1.9M299.70 269.56h-1.9M299.70 267.77h-1.9M299.70 266.26h-1.9M299.70 264.95h-1.9M299.70 263.79h-1.9M299.70 262.76h-2.8M299.70 255.96h-1.9M299.70 251.99h-1.9M299.70 249.17h-1.9M299.70 246.98h-1.9M299.70 245.19h-1.9M299.70 243.68h-1.9M299.70 242.37h-1.9M299.70 241.21h-1.9M299.70 240.18h-2.8M299.70 233.38h-1.9M299.70 229.41h-1.9M299.70 226.59h-1.9M299.70 224.40h-1.9M299.70 222.61h-1.9M299.70 221.10h-1.9M299.70 219.79h-1.9M299.70 218.63h-1.9M299.70 217.60h-2.8" stroke="#333" stroke-width="0.75" fill="none"/>
<g transform="translate(300.50 341.10) scale(0.86 1)"><text x="0" y="0" font-size="6.7" fill="#222" text-anchor="middle">10<tspan font-size="4.2" dy="-3.0">2</tspan></text></g>
<g transform="translate(329.20 341.10) scale(0.86 1)"><text x="0" y="0" font-size="6.7" fill="#222" text-anchor="middle">10<tspan font-size="4.2" dy="-3.0">3</tspan></text></g>
<g transform="translate(357.90 341.10) scale(0.86 1)"><text x="0" y="0" font-size="6.7" fill="#222" text-anchor="middle">10<tspan font-size="4.2" dy="-3.0">4</tspan></text></g>
<g transform="translate(386.60 341.10) scale(0.86 1)"><text x="0" y="0" font-size="6.7" fill="#222" text-anchor="middle">10<tspan font-size="4.2" dy="-3.0">5</tspan></text></g>
<g transform="translate(415.30 341.10) scale(0.86 1)"><text x="0" y="0" font-size="6.7" fill="#222" text-anchor="middle">10<tspan font-size="4.2" dy="-3.0">6</tspan></text></g>
<g transform="translate(294.20 329.30) rotate(-90) scale(0.86 1)"><text x="0" y="0" font-size="6.7" fill="#222" text-anchor="middle">10<tspan font-size="4.2" dy="-3.0">2</tspan></text></g>
<g transform="translate(294.20 306.72) rotate(-90) scale(0.86 1)"><text x="0" y="0" font-size="6.7" fill="#222" text-anchor="middle">10<tspan font-size="4.2" dy="-3.0">3</tspan></text></g>
<g transform="translate(294.20 284.14) rotate(-90) scale(0.86 1)"><text x="0" y="0" font-size="6.7" fill="#222" text-anchor="middle">10<tspan font-size="4.2" dy="-3.0">4</tspan></text></g>
<g transform="translate(294.20 261.56) rotate(-90) scale(0.86 1)"><text x="0" y="0" font-size="6.7" fill="#222" text-anchor="middle">10<tspan font-size="4.2" dy="-3.0">5</tspan></text></g>
<g transform="translate(294.20 238.98) rotate(-90) scale(0.86 1)"><text x="0" y="0" font-size="6.7" fill="#222" text-anchor="middle">10<tspan font-size="4.2" dy="-3.0">6</tspan></text></g>
<g transform="translate(294.20 216.40) rotate(-90) scale(0.86 1)"><text x="0" y="0" font-size="6.7" fill="#222" text-anchor="middle">10<tspan font-size="4.2" dy="-3.0">7</tspan></text></g>
<text x="357.10" y="348.10" font-size="5.8" fill="#222" text-anchor="middle">CD14 PE-H</text>
<text x="286.30" y="274.35" font-size="6.0" fill="#222" text-anchor="middle" transform="rotate(-90 286.30 274.35)">Violet SSC-H</text>
</svg></body></html>
